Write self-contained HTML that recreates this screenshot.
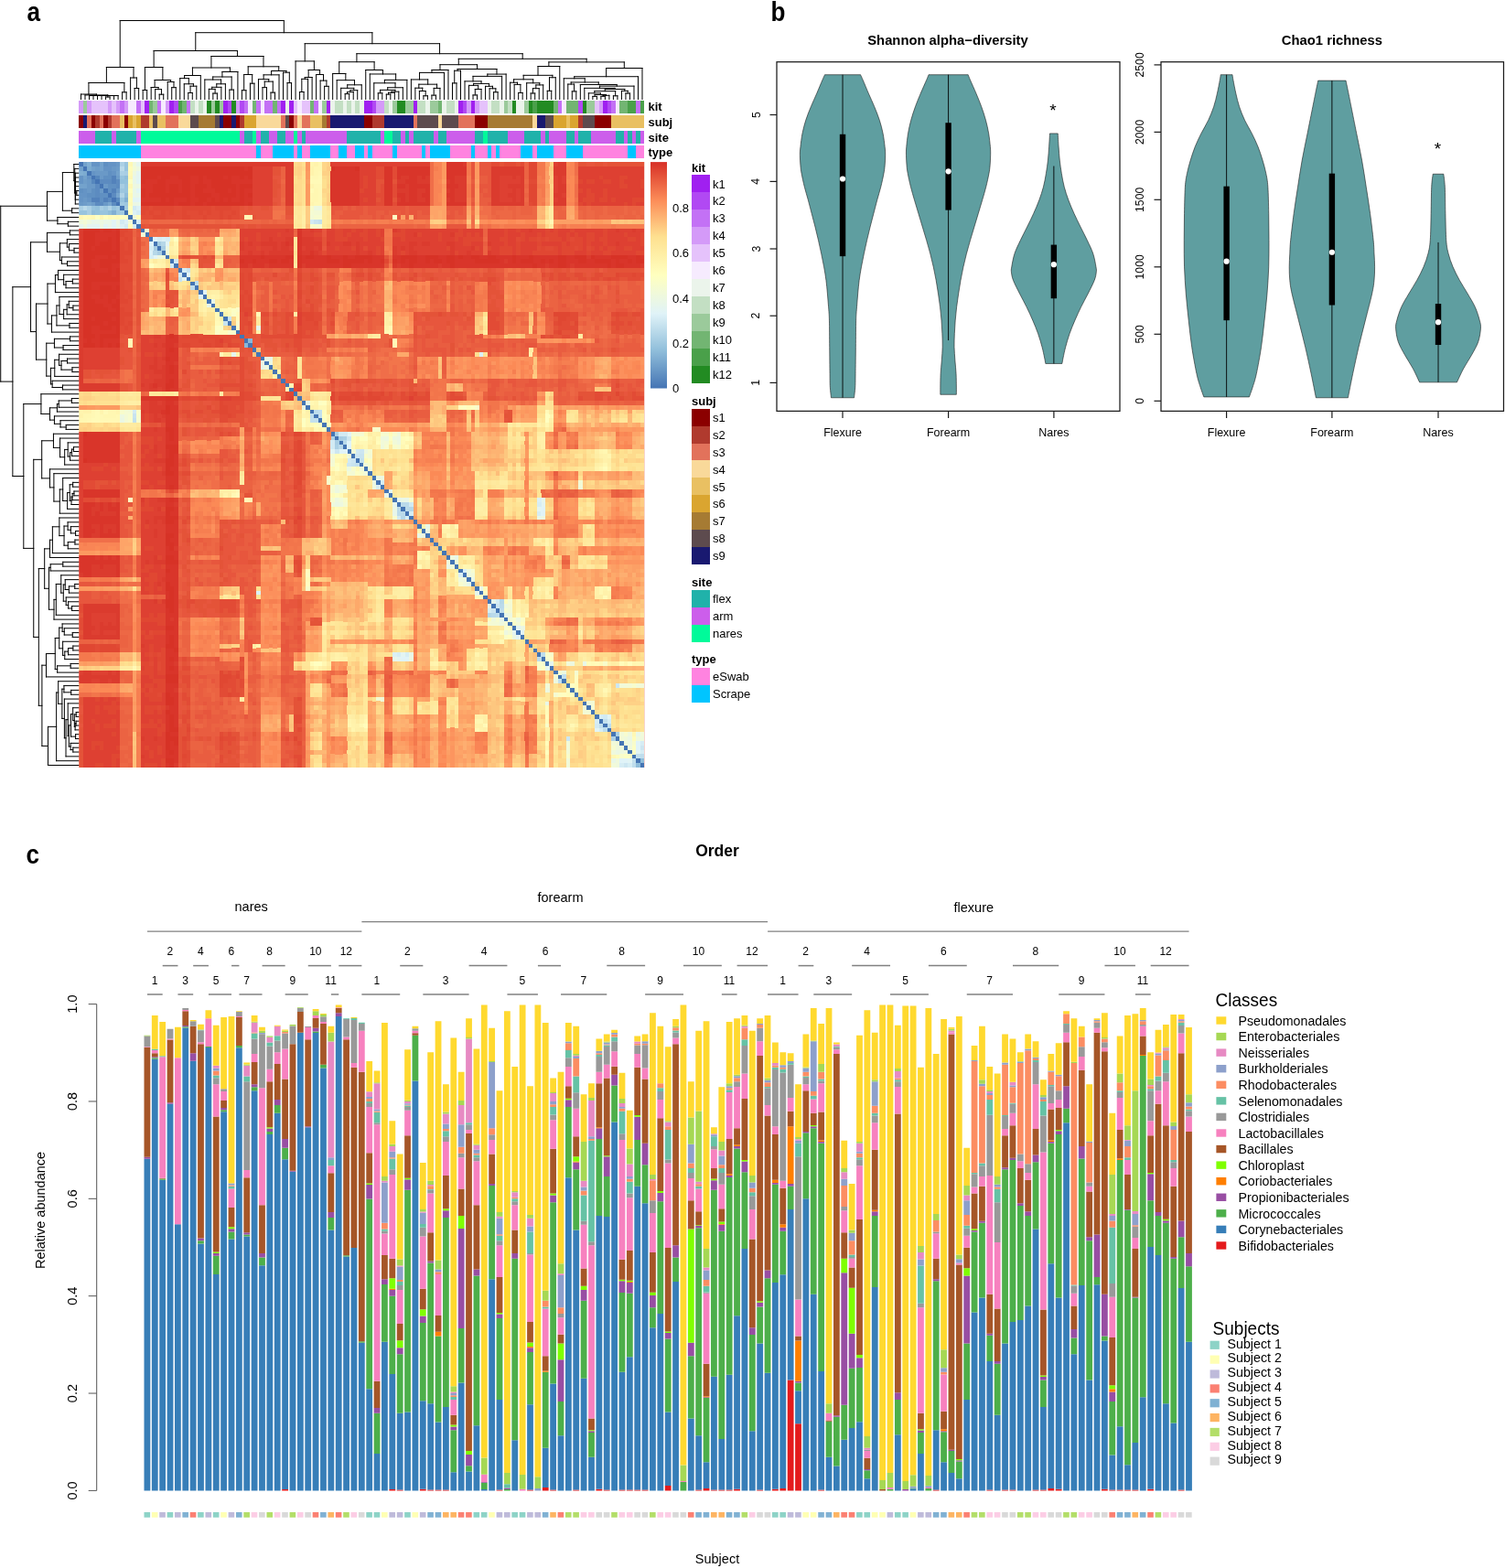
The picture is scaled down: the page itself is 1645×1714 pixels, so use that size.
<!DOCTYPE html>
<html lang="en"><head><meta charset="utf-8"><title>Figure</title>
<style>html,body{margin:0;padding:0;background:#fff}svg{display:block}text{font-family:'Liberation Sans', Arial, Helvetica, sans-serif}</style></head><body>
<svg width="1645" height="1714" viewBox="0 0 1645 1714">
<rect x="0" y="0" width="1645" height="1714" fill="#fff"/>
<text x="0" y="0" font-size="29" font-weight="bold" transform="translate(29.6 23.2) scale(0.9 1)">a</text>
<text x="0" y="0" font-size="29" font-weight="bold" transform="translate(842.6 23.2) scale(0.9 1)">b</text>
<text x="0" y="0" font-size="29" font-weight="bold" transform="translate(28.6 943.6) scale(0.9 1)">c</text>
<path d="M115.56 108.5L115.56 106M120.07 108.5L120.07 106M115.56 106L120.07 106M111.05 108.5L111.05 104.5M117.82 106L117.82 104.5M111.05 104.5L117.82 104.5M106.54 108.5L106.54 104.5M114.43 104.5L114.43 104.5M106.54 104.5L114.43 104.5M102.03 108.5L102.03 104.5M110.49 104.5L110.49 104.5M102.03 104.5L110.49 104.5M106.26 104.5L106.26 104.5M124.58 108.5L124.58 104.5M106.26 104.5L124.58 104.5M97.52 108.5L97.52 104.5M115.42 104.5L115.42 104.5M97.52 104.5L115.42 104.5M106.47 104.5L106.47 104.5M129.09 108.5L129.09 104.5M106.47 104.5L129.09 104.5M93.01 108.5L93.01 103.91M117.78 104.5L117.78 103.91M93.01 103.91L117.78 103.91M88.5 108.5L88.5 103M105.39 103.91L105.39 103M88.5 103L105.39 103M133.61 108.5L133.61 100.8M138.12 108.5L138.12 100.8M133.61 100.8L138.12 100.8M96.94 103L96.94 90.5M135.86 100.8L135.86 90.5M96.94 90.5L135.86 90.5M147.14 108.5L147.14 96.5M151.65 108.5L151.65 96.5M147.14 96.5L151.65 96.5M142.63 108.5L142.63 85M149.39 96.5L149.39 85M142.63 85L149.39 85M116.4 90.5L116.4 73.5M146.01 85L146.01 73.5M116.4 73.5L146.01 73.5M156.16 108.5L156.16 98.5M160.67 108.5L160.67 98.5M156.16 98.5L160.67 98.5M174.2 108.5L174.2 103.2M178.72 108.5L178.72 103.2M174.2 103.2L178.72 103.2M169.69 108.5L169.69 97.65M176.46 103.2L176.46 97.65M169.69 97.65L176.46 97.65M165.18 108.5L165.18 95.5M173.08 97.65L173.08 95.5M165.18 95.5L173.08 95.5M187.74 108.5L187.74 95.67M192.25 108.5L192.25 95.67M187.74 95.67L192.25 95.67M183.23 108.5L183.23 89.5M189.99 95.67L189.99 89.5M183.23 89.5L189.99 89.5M169.13 95.5L169.13 87.5M186.61 89.5L186.61 87.5M169.13 87.5L186.61 87.5M158.42 98.5L158.42 73.5M177.87 87.5L177.87 73.5M158.42 73.5L177.87 73.5M205.78 108.5L205.78 101.46M210.29 108.5L210.29 101.46M205.78 101.46L210.29 101.46M208.04 101.46L208.04 94.18M214.8 108.5L214.8 94.18M208.04 94.18L214.8 94.18M201.27 108.5L201.27 91.77M211.42 94.18L211.42 91.77M201.27 91.77L211.42 91.77M196.76 108.5L196.76 85.64M206.35 91.77L206.35 85.64M196.76 85.64L206.35 85.64M201.55 85.64L201.55 82.5M219.31 108.5L219.31 82.5M201.55 82.5L219.31 82.5M232.85 108.5L232.85 102.05M237.36 108.5L237.36 102.05M232.85 102.05L237.36 102.05M228.34 108.5L228.34 97.39M235.1 102.05L235.1 97.39M228.34 97.39L235.1 97.39M231.72 97.39L231.72 95.31M241.87 108.5L241.87 95.31M231.72 95.31L241.87 95.31M236.79 95.31L236.79 91.77M246.38 108.5L246.38 91.77M236.79 91.77L246.38 91.77M223.83 108.5L223.83 87.05M241.59 91.77L241.59 87.05M223.83 87.05L241.59 87.05M250.89 108.5L250.89 98.11M255.4 108.5L255.4 98.11M250.89 98.11L255.4 98.11M232.71 87.05L232.71 84.02M253.15 98.11L253.15 84.02M232.71 84.02L253.15 84.02M242.93 84.02L242.93 78.5M259.91 108.5L259.91 78.5M242.93 78.5L259.91 78.5M210.43 82.5L210.43 74M251.42 78.5L251.42 74M210.43 74L251.42 74M264.42 108.5L264.42 98.72M268.94 108.5L268.94 98.72M264.42 98.72L268.94 98.72M273.45 108.5L273.45 91.19M277.96 108.5L277.96 91.19M273.45 91.19L277.96 91.19M266.68 98.72L266.68 81.5M275.7 91.19L275.7 81.5M266.68 81.5L275.7 81.5M286.98 108.5L286.98 95.63M291.49 108.5L291.49 95.63M286.98 95.63L291.49 95.63M296 108.5L296 101.15M300.51 108.5L300.51 101.15M296 101.15L300.51 101.15M289.24 95.63L289.24 89.11M298.26 101.15L298.26 89.11M289.24 89.11L298.26 89.11M282.47 108.5L282.47 86.66M293.75 89.11L293.75 86.66M282.47 86.66L293.75 86.66M288.11 86.66L288.11 81.84M305.02 108.5L305.02 81.84M288.11 81.84L305.02 81.84M314.05 108.5L314.05 90.62M318.56 108.5L318.56 90.62M314.05 90.62L318.56 90.62M309.53 108.5L309.53 79.2M316.3 90.62L316.3 79.2M309.53 79.2L316.3 79.2M296.57 81.84L296.57 77.5M312.92 79.2L312.92 77.5M296.57 77.5L312.92 77.5M271.19 81.5L271.19 72.8M304.74 77.5L304.74 72.8M271.19 72.8L304.74 72.8M230.93 74L230.93 61.5M287.97 72.8L287.97 61.5M230.93 61.5L287.97 61.5M168.14 73.5L168.14 55.5M259.45 61.5L259.45 55.5M168.14 55.5L259.45 55.5M327.58 108.5L327.58 100.51M332.09 108.5L332.09 100.51M327.58 100.51L332.09 100.51M329.83 100.51L329.83 86.32M336.6 108.5L336.6 86.32M329.83 86.32L336.6 86.32M333.22 86.32L333.22 84.5M341.11 108.5L341.11 84.5M333.22 84.5L341.11 84.5M354.64 108.5L354.64 94.32M359.16 108.5L359.16 94.32M354.64 94.32L359.16 94.32M350.13 108.5L350.13 88.12M356.9 94.32L356.9 88.12M350.13 88.12L356.9 88.12M345.62 108.5L345.62 81.5M353.52 88.12L353.52 81.5M345.62 81.5L353.52 81.5M337.16 84.5L337.16 76.5M349.57 81.5L349.57 76.5M337.16 76.5L349.57 76.5M323.07 108.5L323.07 66.9M343.37 76.5L343.37 66.9M323.07 66.9L343.37 66.9M377.2 108.5L377.2 102.61M381.71 108.5L381.71 102.61M377.2 102.61L381.71 102.61M379.46 102.61L379.46 100.62M386.22 108.5L386.22 100.62M379.46 100.62L386.22 100.62M382.84 100.62L382.84 98.69M390.73 108.5L390.73 98.69M382.84 98.69L390.73 98.69M372.69 108.5L372.69 96.33M386.79 98.69L386.79 96.33M372.69 96.33L386.79 96.33M379.74 96.33L379.74 92.8M395.24 108.5L395.24 92.8M379.74 92.8L395.24 92.8M368.18 108.5L368.18 87.66M387.49 92.8L387.49 87.66M368.18 87.66L387.49 87.66M363.67 108.5L363.67 80.5M377.83 87.66L377.83 80.5M363.67 80.5L377.83 80.5M413.29 108.5L413.29 101.81M417.8 108.5L417.8 101.81M413.29 101.81L417.8 101.81M422.31 108.5L422.31 103.13M426.82 108.5L426.82 103.13M422.31 103.13L426.82 103.13M424.56 103.13L424.56 101.27M431.33 108.5L431.33 101.27M424.56 101.27L431.33 101.27M427.95 101.27L427.95 100.17M435.84 108.5L435.84 100.17M427.95 100.17L435.84 100.17M415.54 101.81L415.54 98.38M431.9 100.17L431.9 98.38M415.54 98.38L431.9 98.38M423.72 98.38L423.72 95.75M440.35 108.5L440.35 95.75M423.72 95.75L440.35 95.75M408.78 108.5L408.78 90.81M432.04 95.75L432.04 90.81M408.78 90.81L432.04 90.81M420.41 90.81L420.41 87.39M444.86 108.5L444.86 87.39M420.41 87.39L444.86 87.39M404.27 108.5L404.27 80.96M432.64 87.39L432.64 80.96M404.27 80.96L432.64 80.96M399.75 108.5L399.75 76.5M418.45 80.96L418.45 76.5M399.75 76.5L418.45 76.5M370.75 80.5L370.75 67.7M409.1 76.5L409.1 67.7M370.75 67.7L409.1 67.7M462.91 108.5L462.91 104.75M467.42 108.5L467.42 104.75M462.91 104.75L467.42 104.75M458.4 108.5L458.4 99.52M465.16 104.75L465.16 99.52M458.4 99.52L465.16 99.52M453.89 108.5L453.89 96.21M461.78 99.52L461.78 96.21M453.89 96.21L461.78 96.21M471.93 108.5L471.93 104.13M476.44 108.5L476.44 104.13M471.93 104.13L476.44 104.13M474.19 104.13L474.19 96.41M480.95 108.5L480.95 96.41M474.19 96.41L480.95 96.41M457.83 96.21L457.83 92.17M477.57 96.41L477.57 92.17M457.83 92.17L477.57 92.17M449.38 108.5L449.38 86.96M467.7 92.17L467.7 86.96M449.38 86.96L467.7 86.96M458.54 86.96L458.54 79.42M485.46 108.5L485.46 79.42M458.54 79.42L485.46 79.42M472 79.42L472 76.5M489.97 108.5L489.97 76.5M472 76.5L489.97 76.5M494.49 108.5L494.49 90.89M499 108.5L499 90.89M494.49 90.89L499 90.89M496.74 90.89L496.74 77.24M503.51 108.5L503.51 77.24M496.74 77.24L503.51 77.24M517.04 108.5L517.04 103.94M521.55 108.5L521.55 103.94M517.04 103.94L521.55 103.94M519.3 103.94L519.3 97.53M526.06 108.5L526.06 97.53M519.3 97.53L526.06 97.53M512.53 108.5L512.53 93.36M522.68 97.53L522.68 93.36M512.53 93.36L522.68 93.36M539.6 108.5L539.6 100.74M544.11 108.5L544.11 100.74M539.6 100.74L544.11 100.74M535.08 108.5L535.08 96.81M541.85 100.74L541.85 96.81M535.08 96.81L541.85 96.81M530.57 108.5L530.57 94.34M538.47 96.81L538.47 94.34M530.57 94.34L538.47 94.34M517.6 93.36L517.6 91.41M534.52 94.34L534.52 91.41M517.6 91.41L534.52 91.41M508.02 108.5L508.02 88.85M526.06 91.41L526.06 88.85M508.02 88.85L526.06 88.85M517.04 88.85L517.04 83.39M548.62 108.5L548.62 83.39M517.04 83.39L548.62 83.39M532.83 83.39L532.83 81.07M553.13 108.5L553.13 81.07M532.83 81.07L553.13 81.07M500.12 77.24L500.12 75.5M542.98 81.07L542.98 75.5M500.12 75.5L542.98 75.5M480.99 76.5L480.99 70.7M521.55 75.5L521.55 70.7M480.99 70.7L521.55 70.7M566.66 108.5L566.66 101.42M571.17 108.5L571.17 101.42M566.66 101.42L571.17 101.42M562.15 108.5L562.15 92.4M568.92 101.42L568.92 92.4M562.15 92.4L568.92 92.4M557.64 108.5L557.64 90.23M565.53 92.4L565.53 90.23M557.64 90.23L565.53 90.23M580.19 108.5L580.19 101.98M584.71 108.5L584.71 101.98M580.19 101.98L584.71 101.98M582.45 101.98L582.45 96.67M589.22 108.5L589.22 96.67M582.45 96.67L589.22 96.67M585.83 96.67L585.83 92.91M593.73 108.5L593.73 92.91M585.83 92.91L593.73 92.91M575.68 108.5L575.68 90.75M589.78 92.91L589.78 90.75M575.68 90.75L589.78 90.75M561.59 90.23L561.59 86.81M582.73 90.75L582.73 86.81M561.59 86.81L582.73 86.81M598.24 108.5L598.24 99.32M602.75 108.5L602.75 99.32M598.24 99.32L602.75 99.32M600.49 99.32L600.49 84.74M607.26 108.5L607.26 84.74M600.49 84.74L607.26 84.74M572.16 86.81L572.16 82.32M603.88 84.74L603.88 82.32M572.16 82.32L603.88 82.32M588.02 82.32L588.02 72.5M611.77 108.5L611.77 72.5M588.02 72.5L611.77 72.5M625.3 108.5L625.3 99.87M629.82 108.5L629.82 99.87M625.3 99.87L629.82 99.87M620.79 108.5L620.79 92.05M627.56 99.87L627.56 92.05M620.79 92.05L627.56 92.05M647.86 108.5L647.86 105.38M652.37 108.5L652.37 105.38M647.86 105.38L652.37 105.38M656.88 108.5L656.88 105.27M661.39 108.5L661.39 105.27M656.88 105.27L661.39 105.27M659.14 105.27L659.14 104.31M665.9 108.5L665.9 104.31M659.14 104.31L665.9 104.31M650.12 105.38L650.12 103.51M662.52 104.31L662.52 103.51M650.12 103.51L662.52 103.51M643.35 108.5L643.35 101.85M656.32 103.51L656.32 101.85M643.35 101.85L656.32 101.85M670.41 108.5L670.41 104.78M674.93 108.5L674.93 104.78M670.41 104.78L674.93 104.78M649.83 101.85L649.83 99.65M672.67 104.78L672.67 99.65M649.83 99.65L672.67 99.65M683.95 108.5L683.95 101.99M688.46 108.5L688.46 101.99M683.95 101.99L688.46 101.99M679.44 108.5L679.44 99.33M686.2 101.99L686.2 99.33M679.44 99.33L686.2 99.33M661.25 99.65L661.25 97.44M682.82 99.33L682.82 97.44M661.25 97.44L682.82 97.44M638.84 108.5L638.84 96.34M672.04 97.44L672.04 96.34M638.84 96.34L672.04 96.34M655.44 96.34L655.44 94.14M692.97 108.5L692.97 94.14M655.44 94.14L692.97 94.14M634.33 108.5L634.33 92.51M674.2 94.14L674.2 92.51M634.33 92.51L674.2 92.51M624.18 92.05L624.18 89.96M654.26 92.51L654.26 89.96M624.18 89.96L654.26 89.96M616.28 108.5L616.28 85.77M639.22 89.96L639.22 85.77M616.28 85.77L639.22 85.77M627.75 85.77L627.75 83.72M697.48 108.5L697.48 83.72M627.75 83.72L697.48 83.72M662.62 83.72L662.62 74.5M701.99 108.5L701.99 74.5M662.62 74.5L701.99 74.5M599.89 72.5L599.89 67.9M682.3 74.5L682.3 67.9M599.89 67.9L682.3 67.9M501.27 70.7L501.27 64.3M641.1 67.9L641.1 64.3M501.27 64.3L641.1 64.3M389.93 67.7L389.93 58.7M571.18 64.3L571.18 58.7M389.93 58.7L571.18 58.7M333.22 66.9L333.22 47.7M480.56 58.7L480.56 47.7M333.22 47.7L480.56 47.7M213.79 55.5L213.79 35.7M406.89 47.7L406.89 35.7M213.79 35.7L406.89 35.7M131.21 73.5L131.21 22.5M310.34 35.7L310.34 22.5M131.21 22.5L310.34 22.5" stroke="#000" stroke-width="1" fill="none" stroke-linecap="square"/>
<path d="M86.3 208.5L83.81 208.5M86.3 213.33L83.81 213.33M83.81 208.5L83.81 213.33M86.3 203.67L82.32 203.67M83.81 210.92L82.32 210.92M82.32 203.67L82.32 210.92M86.3 198.84L82.32 198.84M82.32 207.29L82.32 207.29M82.32 198.84L82.32 207.29M86.3 194.01L82.32 194.01M82.32 203.07L82.32 203.07M82.32 194.01L82.32 203.07M82.32 198.54L82.32 198.54M86.3 218.16L82.32 218.16M82.32 198.54L82.32 218.16M86.3 189.18L82.32 189.18M82.32 208.35L82.32 208.35M82.32 189.18L82.32 208.35M82.32 198.76L82.32 198.76M86.3 222.99L82.32 222.99M82.32 198.76L82.32 222.99M86.3 184.35L81.74 184.35M82.32 210.88L81.74 210.88M81.74 184.35L81.74 210.88M86.3 179.52L80.83 179.52M81.74 197.61L80.83 197.61M80.83 179.52L80.83 197.61M86.3 227.83L78.64 227.83M86.3 232.66L78.64 232.66M78.64 227.83L78.64 232.66M80.83 188.56L68.39 188.56M78.64 230.24L68.39 230.24M68.39 188.56L68.39 230.24M86.3 242.32L74.36 242.32M86.3 247.15L74.36 247.15M74.36 242.32L74.36 247.15M86.3 237.49L62.92 237.49M74.36 244.73L62.92 244.73M62.92 237.49L62.92 244.73M68.39 209.4L51.47 209.4M62.92 241.11L51.47 241.11M51.47 209.4L51.47 241.11M86.3 251.98L76.35 251.98M86.3 256.81L76.35 256.81M76.35 251.98L76.35 256.81M86.3 271.3L81.02 271.3M86.3 276.14L81.02 276.14M81.02 271.3L81.02 276.14M86.3 266.47L75.5 266.47M81.02 273.72L75.5 273.72M75.5 266.47L75.5 273.72M86.3 261.64L73.36 261.64M75.5 270.1L73.36 270.1M73.36 261.64L73.36 270.1M86.3 285.8L73.53 285.8M86.3 290.63L73.53 290.63M73.53 285.8L73.53 290.63M86.3 280.97L67.39 280.97M73.53 288.21L67.39 288.21M67.39 280.97L67.39 288.21M73.36 265.87L65.41 265.87M67.39 284.59L65.41 284.59M65.41 265.87L65.41 284.59M76.35 254.4L51.47 254.4M65.41 275.23L51.47 275.23M51.47 254.4L51.47 275.23M86.3 305.12L79.3 305.12M86.3 309.95L79.3 309.95M79.3 305.12L79.3 309.95M79.3 307.54L72.05 307.54M86.3 314.78L72.05 314.78M72.05 307.54L72.05 314.78M86.3 300.29L69.65 300.29M72.05 311.16L69.65 311.16M69.65 300.29L69.65 311.16M86.3 295.46L63.56 295.46M69.65 305.73L63.56 305.73M63.56 295.46L63.56 305.73M63.56 300.59L60.43 300.59M86.3 319.61L60.43 319.61M60.43 300.59L60.43 319.61M86.3 334.11L79.89 334.11M86.3 338.94L79.89 338.94M79.89 334.11L79.89 338.94M86.3 329.28L75.25 329.28M79.89 336.52L75.25 336.52M75.25 329.28L75.25 336.52M75.25 332.9L73.17 332.9M86.3 343.77L73.17 343.77M73.17 332.9L73.17 343.77M73.17 338.33L69.65 338.33M86.3 348.6L69.65 348.6M69.65 338.33L69.65 348.6M86.3 324.45L64.96 324.45M69.65 343.47L64.96 343.47M64.96 324.45L64.96 343.47M86.3 353.43L75.96 353.43M86.3 358.26L75.96 358.26M75.96 353.43L75.96 358.26M64.96 333.96L61.94 333.96M75.96 355.85L61.94 355.85M61.94 333.96L61.94 355.85M61.94 344.9L56.45 344.9M86.3 363.09L56.45 363.09M56.45 344.9L56.45 363.09M60.43 310.1L51.97 310.1M56.45 354L51.97 354M51.97 310.1L51.97 354M86.3 367.92L76.57 367.92M86.3 372.76L76.57 372.76M76.57 367.92L76.57 372.76M86.3 377.59L69.07 377.59M86.3 382.42L69.07 382.42M69.07 377.59L69.07 382.42M76.57 370.34L59.44 370.34M69.07 380L59.44 380M59.44 370.34L59.44 380M86.3 392.08L73.49 392.08M86.3 396.91L73.49 396.91M73.49 392.08L73.49 396.91M86.3 401.74L78.98 401.74M86.3 406.57L78.98 406.57M78.98 401.74L78.98 406.57M73.49 394.5L67 394.5M78.98 404.16L67 404.16M67 394.5L67 404.16M86.3 387.25L64.57 387.25M67 399.33L64.57 399.33M64.57 387.25L64.57 399.33M64.57 393.29L59.78 393.29M86.3 411.4L59.78 411.4M59.78 393.29L59.78 411.4M86.3 421.07L68.51 421.07M86.3 425.9L68.51 425.9M68.51 421.07L68.51 425.9M86.3 416.23L57.15 416.23M68.51 423.48L57.15 423.48M57.15 416.23L57.15 423.48M59.78 402.35L55.45 402.35M57.15 419.86L55.45 419.86M55.45 402.35L55.45 419.86M59.44 375.17L50.78 375.17M55.45 411.1L50.78 411.1M50.78 375.17L50.78 411.1M51.97 332.05L39.53 332.05M50.78 393.14L39.53 393.14M39.53 332.05L39.53 393.14M51.47 264.81L33.56 264.81M39.53 362.59L33.56 362.59M33.56 264.81L33.56 362.59M86.3 435.56L78.35 435.56M86.3 440.39L78.35 440.39M78.35 435.56L78.35 440.39M78.35 437.97L64.23 437.97M86.3 445.22L64.23 445.22M64.23 437.97L64.23 445.22M64.23 441.6L62.42 441.6M86.3 450.05L62.42 450.05M62.42 441.6L62.42 450.05M86.3 464.54L72.19 464.54M86.3 469.38L72.19 469.38M72.19 464.54L72.19 469.38M86.3 459.71L66.02 459.71M72.19 466.96L66.02 466.96M66.02 459.71L66.02 466.96M86.3 454.88L59.44 454.88M66.02 463.34L59.44 463.34M59.44 454.88L59.44 463.34M62.42 445.82L54.46 445.82M59.44 459.11L54.46 459.11M54.46 445.82L54.46 459.11M86.3 430.73L44.91 430.73M54.46 452.47L44.91 452.47M44.91 430.73L44.91 452.47M86.3 488.7L80.44 488.7M86.3 493.53L80.44 493.53M80.44 488.7L80.44 493.53M80.44 491.12L78.46 491.12M86.3 498.36L78.46 498.36M78.46 491.12L78.46 498.36M78.46 494.74L76.54 494.74M86.3 503.19L76.54 503.19M76.54 494.74L76.54 503.19M86.3 483.87L74.19 483.87M76.54 498.97L74.19 498.97M74.19 483.87L74.19 498.97M74.19 491.42L70.68 491.42M86.3 508.02L70.68 508.02M70.68 491.42L70.68 508.02M86.3 479.04L65.57 479.04M70.68 499.72L65.57 499.72M65.57 479.04L65.57 499.72M86.3 474.21L58.44 474.21M65.57 489.38L58.44 489.38M58.44 474.21L58.44 489.38M86.3 527.35L79.65 527.35M86.3 532.18L79.65 532.18M79.65 527.35L79.65 532.18M86.3 537.01L80.96 537.01M86.3 541.84L80.96 541.84M80.96 537.01L80.96 541.84M80.96 539.43L79.11 539.43M86.3 546.67L79.11 546.67M79.11 539.43L79.11 546.67M79.11 543.05L78.01 543.05M86.3 551.5L78.01 551.5M78.01 543.05L78.01 551.5M79.65 529.76L76.23 529.76M78.01 547.28L76.23 547.28M76.23 529.76L76.23 547.28M76.23 538.52L73.61 538.52M86.3 556.33L73.61 556.33M73.61 538.52L73.61 556.33M86.3 522.52L68.7 522.52M73.61 547.43L68.7 547.43M68.7 522.52L68.7 547.43M68.7 534.97L65.29 534.97M86.3 561.16L65.29 561.16M65.29 534.97L65.29 561.16M86.3 517.69L58.9 517.69M65.29 548.07L58.9 548.07M58.9 517.69L58.9 548.07M86.3 512.85L54.46 512.85M58.9 532.88L54.46 532.88M54.46 512.85L54.46 532.88M58.44 481.79L45.7 481.79M54.46 522.87L45.7 522.87M45.7 481.79L45.7 522.87M86.3 580.49L82.57 580.49M86.3 585.32L82.57 585.32M82.57 580.49L82.57 585.32M86.3 575.66L77.37 575.66M82.57 582.9L77.37 582.9M77.37 575.66L77.37 582.9M86.3 570.83L74.08 570.83M77.37 579.28L74.08 579.28M74.08 570.83L74.08 579.28M86.3 590.15L81.95 590.15M86.3 594.98L81.95 594.98M81.95 590.15L81.95 594.98M81.95 592.57L74.27 592.57M86.3 599.81L74.27 599.81M74.27 592.57L74.27 599.81M74.08 575.05L70.05 575.05M74.27 596.19L70.05 596.19M70.05 575.05L70.05 596.19M86.3 566L64.87 566M70.05 585.62L64.87 585.62M64.87 566L64.87 585.62M64.87 575.81L57.37 575.81M86.3 604.64L57.37 604.64M57.37 575.81L57.37 604.64M57.37 590.23L54.46 590.23M86.3 609.47L54.46 609.47M54.46 590.23L54.46 609.47M86.3 614.31L68.78 614.31M86.3 619.14L68.78 619.14M68.78 614.31L68.78 619.14M68.78 616.72L55.2 616.72M86.3 623.97L55.2 623.97M55.2 616.72L55.2 623.97M86.3 638.46L81.76 638.46M86.3 643.29L81.76 643.29M81.76 638.46L81.76 643.29M81.76 640.88L75.38 640.88M86.3 648.12L75.38 648.12M75.38 640.88L75.38 648.12M86.3 633.63L71.24 633.63M75.38 644.5L71.24 644.5M71.24 633.63L71.24 644.5M86.3 662.62L78.58 662.62M86.3 667.45L78.58 667.45M78.58 662.62L78.58 667.45M86.3 657.78L74.66 657.78M78.58 665.03L74.66 665.03M74.66 657.78L74.66 665.03M86.3 652.95L72.21 652.95M74.66 661.41L72.21 661.41M72.21 652.95L72.21 661.41M71.24 639.06L69.29 639.06M72.21 657.18L69.29 657.18M69.29 639.06L69.29 657.18M86.3 628.8L66.75 628.8M69.29 648.12L66.75 648.12M66.75 628.8L66.75 648.12M66.75 638.46L61.31 638.46M86.3 672.28L61.31 672.28M61.31 638.46L61.31 672.28M61.31 655.37L59.01 655.37M86.3 677.11L59.01 677.11M59.01 655.37L59.01 677.11M55.2 620.34L53.46 620.34M59.01 666.24L53.46 666.24M53.46 620.34L53.46 666.24M54.46 599.85L48.69 599.85M53.46 643.29L48.69 643.29M48.69 599.85L48.69 643.29M86.3 691.6L79.25 691.6M86.3 696.43L79.25 696.43M79.25 691.6L79.25 696.43M86.3 686.77L70.28 686.77M79.25 694.02L70.28 694.02M70.28 686.77L70.28 694.02M86.3 681.94L68.12 681.94M70.28 690.39L68.12 690.39M68.12 681.94L68.12 690.39M86.3 706.09L79.81 706.09M86.3 710.93L79.81 710.93M79.81 706.09L79.81 710.93M79.81 708.51L74.53 708.51M86.3 715.76L74.53 715.76M74.53 708.51L74.53 715.76M74.53 712.13L70.79 712.13M86.3 720.59L70.79 720.59M70.79 712.13L70.79 720.59M86.3 701.26L68.64 701.26M70.79 716.36L68.64 716.36M68.64 701.26L68.64 716.36M68.12 686.17L64.72 686.17M68.64 708.81L64.72 708.81M64.72 686.17L64.72 708.81M86.3 725.42L77.17 725.42M86.3 730.25L77.17 730.25M77.17 725.42L77.17 730.25M77.17 727.83L62.66 727.83M86.3 735.08L62.66 735.08M62.66 727.83L62.66 735.08M64.72 697.49L60.25 697.49M62.66 731.46L60.25 731.46M60.25 697.49L60.25 731.46M60.25 714.47L50.48 714.47M86.3 739.91L50.48 739.91M50.48 714.47L50.48 739.91M86.3 754.4L77.71 754.4M86.3 759.24L77.71 759.24M77.71 754.4L77.71 759.24M86.3 749.57L69.94 749.57M77.71 756.82L69.94 756.82M69.94 749.57L69.94 756.82M86.3 778.56L83.2 778.56M86.3 783.39L83.2 783.39M83.2 778.56L83.2 783.39M86.3 788.22L83.08 788.22M86.3 793.05L83.08 793.05M83.08 788.22L83.08 793.05M83.08 790.64L82.13 790.64M86.3 797.88L82.13 797.88M82.13 790.64L82.13 797.88M83.2 780.98L81.33 780.98M82.13 794.26L81.33 794.26M81.33 780.98L81.33 794.26M86.3 773.73L79.68 773.73M81.33 787.62L79.68 787.62M79.68 773.73L79.68 787.62M86.3 802.71L82.6 802.71M86.3 807.55L82.6 807.55M82.6 802.71L82.6 807.55M79.68 780.67L77.5 780.67M82.6 805.13L77.5 805.13M77.5 780.67L77.5 805.13M86.3 817.21L79.82 817.21M86.3 822.04L79.82 822.04M79.82 817.21L79.82 822.04M86.3 812.38L77.17 812.38M79.82 819.62L77.17 819.62M77.17 812.38L77.17 819.62M77.5 792.9L75.3 792.9M77.17 816L75.3 816M75.3 792.9L75.3 816M86.3 768.9L74.2 768.9M75.3 804.45L74.2 804.45M74.2 768.9L74.2 804.45M74.2 786.67L72.02 786.67M86.3 826.87L72.02 826.87M72.02 786.67L72.02 826.87M86.3 764.07L70.39 764.07M72.02 806.77L70.39 806.77M70.39 764.07L70.39 806.77M69.94 753.2L67.85 753.2M70.39 785.42L67.85 785.42M67.85 753.2L67.85 785.42M86.3 744.74L63.69 744.74M67.85 769.31L63.69 769.31M63.69 744.74L63.69 769.31M63.69 757.03L61.64 757.03M86.3 831.7L61.64 831.7M61.64 757.03L61.64 831.7M61.64 794.36L52.47 794.36M86.3 836.53L52.47 836.53M52.47 794.36L52.47 836.53M50.48 727.19L45.9 727.19M52.47 815.45L45.9 815.45M45.9 727.19L45.9 815.45M48.69 621.57L42.32 621.57M45.9 771.32L42.32 771.32M42.32 621.57L42.32 771.32M45.7 502.33L36.75 502.33M42.32 696.45L36.75 696.45M36.75 502.33L36.75 696.45M44.91 441.6L25.8 441.6M36.75 599.39L25.8 599.39M25.8 441.6L25.8 599.39M33.56 313.7L13.86 313.7M25.8 520.49L13.86 520.49M13.86 313.7L13.86 520.49M51.47 225.26L0.73 225.26M13.86 417.1L0.73 417.1M0.73 225.26L0.73 417.1" stroke="#000" stroke-width="1" fill="none" stroke-linecap="square"/>
<g shape-rendering="crispEdges">
<rect x="86.24" y="110.1" width="4.56" height="13.9" fill="#d49af8"/>
<rect x="90.75" y="110.1" width="4.56" height="13.9" fill="#9bca9b"/>
<rect x="95.26" y="110.1" width="4.56" height="13.9" fill="#d49af8"/>
<rect x="99.77" y="110.1" width="18.09" height="13.9" fill="#e5c2fb"/>
<rect x="117.82" y="110.1" width="4.56" height="13.9" fill="#d49af8"/>
<rect x="122.33" y="110.1" width="4.56" height="13.9" fill="#e5c2fb"/>
<rect x="126.84" y="110.1" width="4.56" height="13.9" fill="#d49af8"/>
<rect x="131.35" y="110.1" width="4.56" height="13.9" fill="#c371f5"/>
<rect x="135.86" y="110.1" width="4.56" height="13.9" fill="#d49af8"/>
<rect x="140.37" y="110.1" width="9.07" height="13.9" fill="#f6ebfe"/>
<rect x="149.39" y="110.1" width="4.56" height="13.9" fill="#c371f5"/>
<rect x="153.91" y="110.1" width="4.56" height="13.9" fill="#e5c2fb"/>
<rect x="158.42" y="110.1" width="4.56" height="13.9" fill="#a020f0"/>
<rect x="162.93" y="110.1" width="4.56" height="13.9" fill="#72b572"/>
<rect x="167.44" y="110.1" width="4.56" height="13.9" fill="#9bca9b"/>
<rect x="171.95" y="110.1" width="4.56" height="13.9" fill="#c371f5"/>
<rect x="176.46" y="110.1" width="4.56" height="13.9" fill="#f6ebfe"/>
<rect x="180.97" y="110.1" width="4.56" height="13.9" fill="#d49af8"/>
<rect x="185.48" y="110.1" width="4.56" height="13.9" fill="#a020f0"/>
<rect x="189.99" y="110.1" width="4.56" height="13.9" fill="#b149f3"/>
<rect x="194.5" y="110.1" width="4.56" height="13.9" fill="#4aa04a"/>
<rect x="199.01" y="110.1" width="4.56" height="13.9" fill="#72b572"/>
<rect x="203.53" y="110.1" width="4.56" height="13.9" fill="#c371f5"/>
<rect x="208.04" y="110.1" width="4.56" height="13.9" fill="#c3dfc3"/>
<rect x="212.55" y="110.1" width="4.56" height="13.9" fill="#ebf4eb"/>
<rect x="217.06" y="110.1" width="4.56" height="13.9" fill="#c3dfc3"/>
<rect x="221.57" y="110.1" width="4.56" height="13.9" fill="#ebf4eb"/>
<rect x="226.08" y="110.1" width="4.56" height="13.9" fill="#228b22"/>
<rect x="230.59" y="110.1" width="4.56" height="13.9" fill="#9bca9b"/>
<rect x="235.1" y="110.1" width="4.56" height="13.9" fill="#228b22"/>
<rect x="239.61" y="110.1" width="4.56" height="13.9" fill="#9bca9b"/>
<rect x="244.12" y="110.1" width="4.56" height="13.9" fill="#a020f0"/>
<rect x="248.64" y="110.1" width="4.56" height="13.9" fill="#b149f3"/>
<rect x="253.15" y="110.1" width="4.56" height="13.9" fill="#228b22"/>
<rect x="257.66" y="110.1" width="4.56" height="13.9" fill="#d49af8"/>
<rect x="262.17" y="110.1" width="4.56" height="13.9" fill="#b149f3"/>
<rect x="266.68" y="110.1" width="4.56" height="13.9" fill="#c371f5"/>
<rect x="271.19" y="110.1" width="4.56" height="13.9" fill="#f6ebfe"/>
<rect x="275.7" y="110.1" width="4.56" height="13.9" fill="#72b572"/>
<rect x="280.21" y="110.1" width="4.56" height="13.9" fill="#c371f5"/>
<rect x="284.72" y="110.1" width="4.56" height="13.9" fill="#f6ebfe"/>
<rect x="289.24" y="110.1" width="9.07" height="13.9" fill="#c371f5"/>
<rect x="298.26" y="110.1" width="4.56" height="13.9" fill="#72b572"/>
<rect x="302.77" y="110.1" width="4.56" height="13.9" fill="#c371f5"/>
<rect x="307.28" y="110.1" width="4.56" height="13.9" fill="#a020f0"/>
<rect x="311.79" y="110.1" width="4.56" height="13.9" fill="#ebf4eb"/>
<rect x="316.3" y="110.1" width="4.56" height="13.9" fill="#a020f0"/>
<rect x="320.81" y="110.1" width="4.56" height="13.9" fill="#e5c2fb"/>
<rect x="325.32" y="110.1" width="4.56" height="13.9" fill="#f6ebfe"/>
<rect x="329.83" y="110.1" width="9.07" height="13.9" fill="#e5c2fb"/>
<rect x="338.86" y="110.1" width="4.56" height="13.9" fill="#72b572"/>
<rect x="343.37" y="110.1" width="4.56" height="13.9" fill="#c371f5"/>
<rect x="347.88" y="110.1" width="4.56" height="13.9" fill="#f6ebfe"/>
<rect x="352.39" y="110.1" width="4.56" height="13.9" fill="#9bca9b"/>
<rect x="356.9" y="110.1" width="4.56" height="13.9" fill="#a020f0"/>
<rect x="361.41" y="110.1" width="4.56" height="13.9" fill="#ebf4eb"/>
<rect x="365.92" y="110.1" width="9.07" height="13.9" fill="#c3dfc3"/>
<rect x="374.94" y="110.1" width="4.56" height="13.9" fill="#ebf4eb"/>
<rect x="379.46" y="110.1" width="4.56" height="13.9" fill="#c3dfc3"/>
<rect x="383.97" y="110.1" width="4.56" height="13.9" fill="#ebf4eb"/>
<rect x="388.48" y="110.1" width="4.56" height="13.9" fill="#c3dfc3"/>
<rect x="392.99" y="110.1" width="4.56" height="13.9" fill="#ebf4eb"/>
<rect x="397.5" y="110.1" width="9.07" height="13.9" fill="#a020f0"/>
<rect x="406.52" y="110.1" width="4.56" height="13.9" fill="#b149f3"/>
<rect x="411.03" y="110.1" width="9.07" height="13.9" fill="#d49af8"/>
<rect x="420.05" y="110.1" width="4.56" height="13.9" fill="#c3dfc3"/>
<rect x="424.56" y="110.1" width="4.56" height="13.9" fill="#ebf4eb"/>
<rect x="429.08" y="110.1" width="4.56" height="13.9" fill="#9bca9b"/>
<rect x="433.59" y="110.1" width="9.07" height="13.9" fill="#228b22"/>
<rect x="442.61" y="110.1" width="9.07" height="13.9" fill="#9bca9b"/>
<rect x="451.63" y="110.1" width="4.56" height="13.9" fill="#a020f0"/>
<rect x="456.14" y="110.1" width="9.07" height="13.9" fill="#c3dfc3"/>
<rect x="465.16" y="110.1" width="4.56" height="13.9" fill="#ebf4eb"/>
<rect x="469.68" y="110.1" width="9.07" height="13.9" fill="#9bca9b"/>
<rect x="478.7" y="110.1" width="4.56" height="13.9" fill="#72b572"/>
<rect x="483.21" y="110.1" width="4.56" height="13.9" fill="#ebf4eb"/>
<rect x="487.72" y="110.1" width="9.07" height="13.9" fill="#c3dfc3"/>
<rect x="496.74" y="110.1" width="4.56" height="13.9" fill="#ebf4eb"/>
<rect x="501.25" y="110.1" width="4.56" height="13.9" fill="#a020f0"/>
<rect x="505.76" y="110.1" width="4.56" height="13.9" fill="#b149f3"/>
<rect x="510.27" y="110.1" width="4.56" height="13.9" fill="#d49af8"/>
<rect x="514.78" y="110.1" width="4.56" height="13.9" fill="#a020f0"/>
<rect x="519.3" y="110.1" width="4.56" height="13.9" fill="#d49af8"/>
<rect x="523.81" y="110.1" width="9.07" height="13.9" fill="#e5c2fb"/>
<rect x="532.83" y="110.1" width="4.56" height="13.9" fill="#ebf4eb"/>
<rect x="537.34" y="110.1" width="9.07" height="13.9" fill="#c3dfc3"/>
<rect x="546.36" y="110.1" width="4.56" height="13.9" fill="#ebf4eb"/>
<rect x="550.87" y="110.1" width="4.56" height="13.9" fill="#9bca9b"/>
<rect x="555.38" y="110.1" width="4.56" height="13.9" fill="#c3dfc3"/>
<rect x="559.89" y="110.1" width="4.56" height="13.9" fill="#228b22"/>
<rect x="564.41" y="110.1" width="9.07" height="13.9" fill="#ebf4eb"/>
<rect x="573.43" y="110.1" width="4.56" height="13.9" fill="#9bca9b"/>
<rect x="577.94" y="110.1" width="4.56" height="13.9" fill="#228b22"/>
<rect x="582.45" y="110.1" width="4.56" height="13.9" fill="#4aa04a"/>
<rect x="586.96" y="110.1" width="18.09" height="13.9" fill="#228b22"/>
<rect x="605" y="110.1" width="4.56" height="13.9" fill="#72b572"/>
<rect x="609.52" y="110.1" width="4.56" height="13.9" fill="#c371f5"/>
<rect x="614.03" y="110.1" width="4.56" height="13.9" fill="#f6ebfe"/>
<rect x="618.54" y="110.1" width="13.58" height="13.9" fill="#72b572"/>
<rect x="632.07" y="110.1" width="4.56" height="13.9" fill="#b149f3"/>
<rect x="636.58" y="110.1" width="4.56" height="13.9" fill="#228b22"/>
<rect x="641.09" y="110.1" width="9.07" height="13.9" fill="#9bca9b"/>
<rect x="650.12" y="110.1" width="4.56" height="13.9" fill="#e5c2fb"/>
<rect x="654.63" y="110.1" width="4.56" height="13.9" fill="#d49af8"/>
<rect x="659.14" y="110.1" width="4.56" height="13.9" fill="#a020f0"/>
<rect x="663.65" y="110.1" width="4.56" height="13.9" fill="#b149f3"/>
<rect x="668.16" y="110.1" width="4.56" height="13.9" fill="#c371f5"/>
<rect x="672.67" y="110.1" width="4.56" height="13.9" fill="#f6ebfe"/>
<rect x="677.18" y="110.1" width="9.07" height="13.9" fill="#72b572"/>
<rect x="686.2" y="110.1" width="9.07" height="13.9" fill="#4aa04a"/>
<rect x="695.23" y="110.1" width="4.56" height="13.9" fill="#c371f5"/>
<rect x="699.74" y="110.1" width="4.56" height="13.9" fill="#4aa04a"/>
<rect x="86.24" y="126.2" width="4.56" height="13.85" fill="#8b0000"/>
<rect x="90.75" y="126.2" width="4.56" height="13.85" fill="#191970"/>
<rect x="95.26" y="126.2" width="4.56" height="13.85" fill="#e2725b"/>
<rect x="99.77" y="126.2" width="4.56" height="13.85" fill="#8b0000"/>
<rect x="104.28" y="126.2" width="4.56" height="13.85" fill="#b03a2e"/>
<rect x="108.79" y="126.2" width="4.56" height="13.85" fill="#e2725b"/>
<rect x="113.31" y="126.2" width="4.56" height="13.85" fill="#8b0000"/>
<rect x="117.82" y="126.2" width="4.56" height="13.85" fill="#b03a2e"/>
<rect x="122.33" y="126.2" width="9.07" height="13.85" fill="#e2725b"/>
<rect x="131.35" y="126.2" width="4.56" height="13.85" fill="#e9c062"/>
<rect x="135.86" y="126.2" width="4.56" height="13.85" fill="#8b0000"/>
<rect x="140.37" y="126.2" width="4.56" height="13.85" fill="#daa530"/>
<rect x="144.88" y="126.2" width="4.56" height="13.85" fill="#e9c062"/>
<rect x="149.39" y="126.2" width="4.56" height="13.85" fill="#daa530"/>
<rect x="153.91" y="126.2" width="9.07" height="13.85" fill="#b03a2e"/>
<rect x="162.93" y="126.2" width="4.56" height="13.85" fill="#e9c062"/>
<rect x="167.44" y="126.2" width="4.56" height="13.85" fill="#5d4b4e"/>
<rect x="171.95" y="126.2" width="9.07" height="13.85" fill="#e9c062"/>
<rect x="180.97" y="126.2" width="13.58" height="13.85" fill="#e2725b"/>
<rect x="194.5" y="126.2" width="13.58" height="13.85" fill="#f9d99a"/>
<rect x="208.04" y="126.2" width="9.07" height="13.85" fill="#5d4b4e"/>
<rect x="217.06" y="126.2" width="18.09" height="13.85" fill="#a67b33"/>
<rect x="235.1" y="126.2" width="4.56" height="13.85" fill="#5d4b4e"/>
<rect x="239.61" y="126.2" width="4.56" height="13.85" fill="#191970"/>
<rect x="244.12" y="126.2" width="9.07" height="13.85" fill="#8b0000"/>
<rect x="253.15" y="126.2" width="4.56" height="13.85" fill="#191970"/>
<rect x="257.66" y="126.2" width="4.56" height="13.85" fill="#8b0000"/>
<rect x="262.17" y="126.2" width="4.56" height="13.85" fill="#b03a2e"/>
<rect x="266.68" y="126.2" width="13.58" height="13.85" fill="#daa530"/>
<rect x="280.21" y="126.2" width="27.12" height="13.85" fill="#f9d99a"/>
<rect x="307.28" y="126.2" width="4.56" height="13.85" fill="#e2725b"/>
<rect x="311.79" y="126.2" width="4.56" height="13.85" fill="#5d4b4e"/>
<rect x="316.3" y="126.2" width="4.56" height="13.85" fill="#8b0000"/>
<rect x="320.81" y="126.2" width="4.56" height="13.85" fill="#e2725b"/>
<rect x="325.32" y="126.2" width="4.56" height="13.85" fill="#f9d99a"/>
<rect x="329.83" y="126.2" width="9.07" height="13.85" fill="#e2725b"/>
<rect x="338.86" y="126.2" width="13.58" height="13.85" fill="#e9c062"/>
<rect x="352.39" y="126.2" width="4.56" height="13.85" fill="#a67b33"/>
<rect x="356.9" y="126.2" width="4.56" height="13.85" fill="#b03a2e"/>
<rect x="361.41" y="126.2" width="36.14" height="13.85" fill="#191970"/>
<rect x="397.5" y="126.2" width="9.07" height="13.85" fill="#8b0000"/>
<rect x="406.52" y="126.2" width="13.58" height="13.85" fill="#b03a2e"/>
<rect x="420.05" y="126.2" width="31.63" height="13.85" fill="#191970"/>
<rect x="451.63" y="126.2" width="4.56" height="13.85" fill="#e2725b"/>
<rect x="456.14" y="126.2" width="22.61" height="13.85" fill="#5d4b4e"/>
<rect x="478.7" y="126.2" width="4.56" height="13.85" fill="#f9d99a"/>
<rect x="483.21" y="126.2" width="18.09" height="13.85" fill="#5d4b4e"/>
<rect x="501.25" y="126.2" width="18.09" height="13.85" fill="#e2725b"/>
<rect x="519.3" y="126.2" width="13.58" height="13.85" fill="#8b0000"/>
<rect x="532.83" y="126.2" width="49.67" height="13.85" fill="#a67b33"/>
<rect x="582.45" y="126.2" width="4.56" height="13.85" fill="#f9d99a"/>
<rect x="586.96" y="126.2" width="9.07" height="13.85" fill="#191970"/>
<rect x="595.98" y="126.2" width="9.07" height="13.85" fill="#5d4b4e"/>
<rect x="605" y="126.2" width="13.58" height="13.85" fill="#daa530"/>
<rect x="618.54" y="126.2" width="4.56" height="13.85" fill="#e9c062"/>
<rect x="623.05" y="126.2" width="9.07" height="13.85" fill="#daa530"/>
<rect x="632.07" y="126.2" width="4.56" height="13.85" fill="#b03a2e"/>
<rect x="636.58" y="126.2" width="13.58" height="13.85" fill="#5d4b4e"/>
<rect x="650.12" y="126.2" width="18.09" height="13.85" fill="#8b0000"/>
<rect x="668.16" y="126.2" width="36.14" height="13.85" fill="#e9c062"/>
<rect x="86.24" y="143.3" width="18.09" height="13.6" fill="#cc5eeb"/>
<rect x="104.28" y="143.3" width="18.09" height="13.6" fill="#20b2aa"/>
<rect x="122.33" y="143.3" width="4.56" height="13.6" fill="#cc5eeb"/>
<rect x="126.84" y="143.3" width="22.61" height="13.6" fill="#20b2aa"/>
<rect x="149.39" y="143.3" width="4.56" height="13.6" fill="#cc5eeb"/>
<rect x="153.91" y="143.3" width="108.31" height="13.6" fill="#00fa9a"/>
<rect x="262.17" y="143.3" width="4.56" height="13.6" fill="#cc5eeb"/>
<rect x="266.68" y="143.3" width="9.07" height="13.6" fill="#20b2aa"/>
<rect x="275.7" y="143.3" width="4.56" height="13.6" fill="#00fa9a"/>
<rect x="280.21" y="143.3" width="4.56" height="13.6" fill="#cc5eeb"/>
<rect x="284.72" y="143.3" width="9.07" height="13.6" fill="#20b2aa"/>
<rect x="293.75" y="143.3" width="9.07" height="13.6" fill="#cc5eeb"/>
<rect x="302.77" y="143.3" width="9.07" height="13.6" fill="#20b2aa"/>
<rect x="311.79" y="143.3" width="9.07" height="13.6" fill="#cc5eeb"/>
<rect x="320.81" y="143.3" width="4.56" height="13.6" fill="#00fa9a"/>
<rect x="325.32" y="143.3" width="4.56" height="13.6" fill="#cc5eeb"/>
<rect x="329.83" y="143.3" width="4.56" height="13.6" fill="#20b2aa"/>
<rect x="334.35" y="143.3" width="45.16" height="13.6" fill="#cc5eeb"/>
<rect x="379.46" y="143.3" width="36.14" height="13.6" fill="#20b2aa"/>
<rect x="415.54" y="143.3" width="4.56" height="13.6" fill="#cc5eeb"/>
<rect x="420.05" y="143.3" width="9.07" height="13.6" fill="#00fa9a"/>
<rect x="429.08" y="143.3" width="9.07" height="13.6" fill="#20b2aa"/>
<rect x="438.1" y="143.3" width="4.56" height="13.6" fill="#cc5eeb"/>
<rect x="442.61" y="143.3" width="4.56" height="13.6" fill="#20b2aa"/>
<rect x="447.12" y="143.3" width="4.56" height="13.6" fill="#cc5eeb"/>
<rect x="451.63" y="143.3" width="22.61" height="13.6" fill="#20b2aa"/>
<rect x="474.19" y="143.3" width="4.56" height="13.6" fill="#cc5eeb"/>
<rect x="478.7" y="143.3" width="9.07" height="13.6" fill="#20b2aa"/>
<rect x="487.72" y="143.3" width="31.63" height="13.6" fill="#cc5eeb"/>
<rect x="519.3" y="143.3" width="9.07" height="13.6" fill="#20b2aa"/>
<rect x="528.32" y="143.3" width="4.56" height="13.6" fill="#00fa9a"/>
<rect x="532.83" y="143.3" width="22.61" height="13.6" fill="#20b2aa"/>
<rect x="555.38" y="143.3" width="18.09" height="13.6" fill="#cc5eeb"/>
<rect x="573.43" y="143.3" width="18.09" height="13.6" fill="#20b2aa"/>
<rect x="591.47" y="143.3" width="4.56" height="13.6" fill="#cc5eeb"/>
<rect x="595.98" y="143.3" width="4.56" height="13.6" fill="#20b2aa"/>
<rect x="600.49" y="143.3" width="18.09" height="13.6" fill="#cc5eeb"/>
<rect x="618.54" y="143.3" width="9.07" height="13.6" fill="#20b2aa"/>
<rect x="627.56" y="143.3" width="4.56" height="13.6" fill="#cc5eeb"/>
<rect x="632.07" y="143.3" width="13.58" height="13.6" fill="#20b2aa"/>
<rect x="645.6" y="143.3" width="27.12" height="13.6" fill="#cc5eeb"/>
<rect x="672.67" y="143.3" width="9.07" height="13.6" fill="#20b2aa"/>
<rect x="681.69" y="143.3" width="4.56" height="13.6" fill="#cc5eeb"/>
<rect x="686.2" y="143.3" width="4.56" height="13.6" fill="#20b2aa"/>
<rect x="690.71" y="143.3" width="4.56" height="13.6" fill="#cc5eeb"/>
<rect x="695.23" y="143.3" width="4.56" height="13.6" fill="#20b2aa"/>
<rect x="699.74" y="143.3" width="4.56" height="13.6" fill="#cc5eeb"/>
<rect x="86.24" y="159.3" width="67.72" height="13.8" fill="#00c5ff"/>
<rect x="153.91" y="159.3" width="126.36" height="13.8" fill="#ff83e0"/>
<rect x="280.21" y="159.3" width="4.56" height="13.8" fill="#00c5ff"/>
<rect x="284.72" y="159.3" width="13.58" height="13.8" fill="#ff83e0"/>
<rect x="298.26" y="159.3" width="22.61" height="13.8" fill="#00c5ff"/>
<rect x="320.81" y="159.3" width="4.56" height="13.8" fill="#ff83e0"/>
<rect x="325.32" y="159.3" width="4.56" height="13.8" fill="#00c5ff"/>
<rect x="329.83" y="159.3" width="9.07" height="13.8" fill="#ff83e0"/>
<rect x="338.86" y="159.3" width="22.61" height="13.8" fill="#00c5ff"/>
<rect x="361.41" y="159.3" width="9.07" height="13.8" fill="#ff83e0"/>
<rect x="370.43" y="159.3" width="9.07" height="13.8" fill="#00c5ff"/>
<rect x="379.46" y="159.3" width="9.07" height="13.8" fill="#ff83e0"/>
<rect x="388.48" y="159.3" width="9.07" height="13.8" fill="#00c5ff"/>
<rect x="397.5" y="159.3" width="4.56" height="13.8" fill="#ff83e0"/>
<rect x="402.01" y="159.3" width="4.56" height="13.8" fill="#00c5ff"/>
<rect x="406.52" y="159.3" width="22.61" height="13.8" fill="#ff83e0"/>
<rect x="429.08" y="159.3" width="4.56" height="13.8" fill="#00c5ff"/>
<rect x="433.59" y="159.3" width="27.12" height="13.8" fill="#ff83e0"/>
<rect x="460.65" y="159.3" width="4.56" height="13.8" fill="#00c5ff"/>
<rect x="465.16" y="159.3" width="4.56" height="13.8" fill="#ff83e0"/>
<rect x="469.68" y="159.3" width="22.61" height="13.8" fill="#00c5ff"/>
<rect x="492.23" y="159.3" width="22.61" height="13.8" fill="#ff83e0"/>
<rect x="514.78" y="159.3" width="4.56" height="13.8" fill="#00c5ff"/>
<rect x="519.3" y="159.3" width="13.58" height="13.8" fill="#ff83e0"/>
<rect x="532.83" y="159.3" width="4.56" height="13.8" fill="#00c5ff"/>
<rect x="537.34" y="159.3" width="4.56" height="13.8" fill="#ff83e0"/>
<rect x="541.85" y="159.3" width="4.56" height="13.8" fill="#00c5ff"/>
<rect x="546.36" y="159.3" width="22.61" height="13.8" fill="#ff83e0"/>
<rect x="568.92" y="159.3" width="13.58" height="13.8" fill="#00c5ff"/>
<rect x="582.45" y="159.3" width="4.56" height="13.8" fill="#ff83e0"/>
<rect x="586.96" y="159.3" width="18.09" height="13.8" fill="#00c5ff"/>
<rect x="605" y="159.3" width="13.58" height="13.8" fill="#ff83e0"/>
<rect x="618.54" y="159.3" width="18.09" height="13.8" fill="#00c5ff"/>
<rect x="636.58" y="159.3" width="49.67" height="13.8" fill="#ff83e0"/>
<rect x="686.2" y="159.3" width="9.07" height="13.8" fill="#00c5ff"/>
<rect x="695.23" y="159.3" width="9.07" height="13.8" fill="#ff83e0"/>
</g>
<text x="708.5" y="121.45" font-size="13" font-weight="bold">kit</text>
<text x="708.5" y="137.53" font-size="13" font-weight="bold">subj</text>
<text x="708.5" y="154.5" font-size="13" font-weight="bold">site</text>
<text x="708.5" y="170.6" font-size="13" font-weight="bold">type</text>
<defs><filter id="hb" x="-1%" y="-1%" width="102%" height="102%"><feGaussianBlur stdDeviation="0.55"/></filter><clipPath id="hc"><rect x="86.24" y="177.1" width="618.01" height="661.85"/></clipPath></defs>
<g clip-path="url(#hc)"><g filter="url(#hb)">
<rect x="83.24" y="174.1" width="624.01" height="667.85" fill="#e0503a"/>
<g transform="translate(86.24 177.1) scale(4.511 4.831)" shape-rendering="crispEdges" fill="none" stroke-width="1.02">
<path stroke="#4575b4" d="M0 0.5h1.02M1 1.5h1.02M2 2.5h1.02M3 3.5h1.02M4 4.5h1.02M5 5.5h1.02M6 6.5h1.02M7 7.5h1.02M8 8.5h1.02M9 9.5h1.02M10 10.5h1.02M11 11.5h1.02M12 12.5h1.02M13 13.5h1.02M14 14.5h1.02M15 15.5h1.02M16 16.5h1.02M17 17.5h1.02M18 18.5h1.02M19 19.5h1.02M20 20.5h1.02M21 21.5h1.02M22 22.5h1.02M23 23.5h1.02M24 24.5h1.02M25 25.5h1.02M26 26.5h1.02M27 27.5h1.02M28 28.5h1.02M29 29.5h1.02M30 30.5h1.02M31 31.5h1.02M32 32.5h1.02M33 33.5h1.02M34 34.5h1.02M35 35.5h1.02M36 36.5h1.02M37 37.5h1.02M38 38.5h1.02M39 39.5h1.02M40 40.5h1.02M41 41.5h1.02M42 42.5h1.02M43 43.5h1.02M44 44.5h1.02M45 45.5h1.02M46 46.5h1.02M47 47.5h1.02M48 48.5h1.02M49 49.5h1.02M50 50.5h1.02M51 51.5h1.02M52 52.5h1.02M53 53.5h1.02M54 54.5h1.02M55 55.5h1.02M56 56.5h1.02M57 57.5h1.02M58 58.5h1.02M59 59.5h1.02M60 60.5h1.02M61 61.5h1.02M62 62.5h1.02M63 63.5h1.02M64 64.5h1.02M65 65.5h1.02M66 66.5h1.02M67 67.5h1.02M68 68.5h1.02M69 69.5h1.02M70 70.5h1.02M71 71.5h1.02M72 72.5h1.02M73 73.5h1.02M74 74.5h1.02M75 75.5h1.02M76 76.5h1.02M77 77.5h1.02M78 78.5h1.02M79 79.5h1.02M80 80.5h1.02M81 81.5h1.02M82 82.5h1.02M83 83.5h1.02M84 84.5h1.02M85 85.5h1.02M86 86.5h1.02M87 87.5h1.02M88 88.5h1.02M89 89.5h1.02M90 90.5h1.02M91 91.5h1.02M92 92.5h1.02M93 93.5h1.02M94 94.5h1.02M95 95.5h1.02M96 96.5h1.02M97 97.5h1.02M98 98.5h1.02M99 99.5h1.02M100 100.5h1.02M101 101.5h1.02M102 102.5h1.02M103 103.5h1.02M104 104.5h1.02M105 105.5h1.02M106 106.5h1.02M107 107.5h1.02M108 108.5h1.02M109 109.5h1.02M110 110.5h1.02M111 111.5h1.02M112 112.5h1.02M113 113.5h1.02M114 114.5h1.02M115 115.5h1.02M116 116.5h1.02M117 117.5h1.02M118 118.5h1.02M119 119.5h1.02M120 120.5h1.02M121 121.5h1.02M122 122.5h1.02M123 123.5h1.02M124 124.5h1.02M125 125.5h1.02M126 126.5h1.02M127 127.5h1.02M128 128.5h1.02M129 129.5h1.02M130 130.5h1.02M131 131.5h1.02M132 132.5h1.02M133 133.5h1.02M134 134.5h1.02M135 135.5h1.02M136 136.5h1.02"/>
<path stroke="#73a2cc" d="M1 0.5h1.02M5 0.5h1.02M0 1.5h1.02M3 1.5h1.02M5 1.5h1.02M9 2.5h1.02M1 3.5h1.02M0 5.5h2.02M2 9.5h1.02"/>
<path stroke="#81afd3" d="M2 0.5h1.02M0 2.5h1.02M11 8.5h1.02M8 11.5h1.02"/>
<path stroke="#6594c5" d="M3 0.5h2.02M7 0.5h2.02M6 1.5h2.02M3 2.5h1.02M8 2.5h1.02M0 3.5h1.02M2 3.5h1.02M0 4.5h1.02M1 6.5h1.02M0 7.5h2.02M0 8.5h1.02M2 8.5h1.02"/>
<path stroke="#6190c2" d="M6 0.5h1.02M7 2.5h1.02M6 3.5h2.02M7 5.5h2.02M0 6.5h1.02M3 6.5h1.02M7 6.5h1.02M2 7.5h2.02M5 7.5h2.02M5 8.5h1.02"/>
<path stroke="#6a99c7" d="M9 0.5h1.02M8 1.5h1.02M4 2.5h3.02M5 3.5h1.02M2 4.5h1.02M2 5.5h2.02M6 5.5h1.02M2 6.5h1.02M5 6.5h1.02M9 6.5h1.02M1 8.5h1.02M0 9.5h1.02M6 9.5h1.02"/>
<path stroke="#abd0e5" d="M10 0.5h1.02M10 2.5h1.02M0 10.5h1.02M2 10.5h1.02M62 61.5h1.02M61 62.5h1.02M64 62.5h1.02M62 64.5h1.02M130 129.5h1.02M129 130.5h1.02"/>
<path stroke="#98c4de" d="M11 0.5h1.02M11 1.5h1.02M10 3.5h1.02M11 5.5h1.02M11 6.5h1.02M10 8.5h1.02M3 10.5h1.02M8 10.5h1.02M0 11.5h2.02M5 11.5h2.02"/>
<path stroke="#fff8b5" d="M12 0.5h1.02M58 2.5h1.02M12 3.5h1.02M56 3.5h2.02M12 5.5h1.02M57 5.5h2.02M58 6.5h1.02M58 7.5h1.02M58 8.5h1.02M57 9.5h2.02M0 12.5h1.02M3 12.5h1.02M5 12.5h1.02M41 12.5h1.02M114 13.5h1.02M35 33.5h1.02M36 34.5h1.02M33 35.5h1.02M34 36.5h1.02M75 37.5h1.02M74 38.5h1.02M12 41.5h1.02M76 41.5h1.02M51 50.5h1.02M50 51.5h1.02M56 54.5h1.02M58 55.5h2.02M3 56.5h1.02M54 56.5h1.02M3 57.5h1.02M5 57.5h1.02M9 57.5h1.02M60 57.5h1.02M2 58.5h1.02M5 58.5h5.02M55 58.5h1.02M55 59.5h1.02M57 60.5h1.02M79 61.5h1.02M68 63.5h2.02M66 64.5h1.02M64 66.5h1.02M63 68.5h1.02M63 69.5h1.02M38 74.5h1.02M37 75.5h1.02M41 76.5h1.02M61 79.5h1.02M89 82.5h1.02M91 82.5h1.02M82 89.5h1.02M82 91.5h1.02M128 96.5h1.02M108 102.5h1.02M102 108.5h1.02M135 113.5h1.02M13 114.5h1.02M127 119.5h1.02M119 127.5h1.02M96 128.5h1.02M134 129.5h1.02M129 134.5h1.02M113 135.5h1.02"/>
<path stroke="#eff9dc" d="M13 0.5h1.02M0 13.5h1.02M77 61.5h1.02M73 64.5h1.02M64 73.5h1.02M61 77.5h1.02M90 89.5h1.02M89 90.5h1.02M94 92.5h1.02M94 93.5h1.02M92 94.5h2.02M103 100.5h1.02M100 103.5h1.02M133 129.5h1.02M132 130.5h1.02M135 130.5h2.02M132 131.5h1.02M130 132.5h2.02M133 132.5h1.02M129 133.5h1.02M132 133.5h1.02M130 135.5h1.02M130 136.5h1.02"/>
<path stroke="#e6f5ee" d="M14 0.5h1.02M0 14.5h1.02M43 37.5h1.02M37 43.5h1.02M77 76.5h1.02M76 77.5h1.02M114 113.5h1.02M113 114.5h1.02"/>
<path stroke="#db3b2d" d="M15 0.5h37.02M93 0.5h1.02M116 0.5h2.02M50 1.5h2.02M100 1.5h8.02M115 1.5h3.02M50 2.5h2.02M100 2.5h8.02M115 2.5h3.02M50 3.5h2.02M78 3.5h2.02M82 3.5h1.02M84 3.5h1.02M91 3.5h3.02M100 3.5h2.02M105 3.5h1.02M107 3.5h1.02M116 3.5h1.02M50 4.5h2.02M77 4.5h2.02M82 4.5h3.02M89 4.5h1.02M91 4.5h3.02M100 4.5h2.02M107 4.5h1.02M116 4.5h1.02M50 5.5h2.02M79 5.5h1.02M92 5.5h2.02M100 5.5h2.02M104 5.5h4.02M116 5.5h2.02M50 6.5h2.02M77 6.5h3.02M82 6.5h2.02M89 6.5h1.02M91 6.5h3.02M100 6.5h2.02M105 6.5h1.02M107 6.5h1.02M116 6.5h2.02M50 7.5h2.02M79 7.5h1.02M82 7.5h1.02M91 7.5h3.02M100 7.5h2.02M104 7.5h2.02M107 7.5h1.02M115 7.5h2.02M50 8.5h2.02M77 8.5h1.02M79 8.5h1.02M82 8.5h2.02M89 8.5h1.02M91 8.5h3.02M100 8.5h2.02M105 8.5h1.02M107 8.5h1.02M116 8.5h2.02M50 9.5h2.02M100 9.5h8.02M115 9.5h3.02M0 15.5h1.02M50 15.5h1.02M56 15.5h1.02M76 15.5h1.02M109 15.5h1.02M130 15.5h1.02M134 15.5h1.02M0 16.5h1.02M81 16.5h1.02M90 16.5h1.02M0 17.5h1.02M46 17.5h1.02M50 17.5h2.02M54 17.5h3.02M0 18.5h1.02M39 18.5h1.02M41 18.5h1.02M44 18.5h4.02M49 18.5h1.02M51 18.5h1.02M54 18.5h5.02M60 18.5h1.02M64 18.5h2.02M67 18.5h1.02M80 18.5h2.02M83 18.5h2.02M89 18.5h2.02M99 18.5h1.02M130 18.5h1.02M0 19.5h1.02M39 19.5h1.02M47 19.5h1.02M49 19.5h2.02M55 19.5h2.02M58 19.5h1.02M67 19.5h1.02M76 19.5h1.02M78 19.5h1.02M80 19.5h1.02M90 19.5h1.02M95 19.5h1.02M0 20.5h1.02M41 20.5h1.02M44 20.5h1.02M46 20.5h6.02M54 20.5h2.02M57 20.5h1.02M67 20.5h1.02M70 20.5h1.02M76 20.5h1.02M80 20.5h2.02M90 20.5h1.02M94 20.5h1.02M99 20.5h1.02M0 21.5h1.02M123 21.5h1.02M0 22.5h1.02M103 22.5h1.02M0 23.5h1.02M41 23.5h1.02M45 23.5h1.02M54 23.5h1.02M77 23.5h1.02M87 23.5h1.02M113 23.5h1.02M119 23.5h1.02M136 23.5h1.02M0 24.5h1.02M0 25.5h1.02M0 26.5h1.02M0 27.5h1.02M0 28.5h1.02M0 29.5h1.02M0 30.5h1.02M0 31.5h1.02M0 32.5h1.02M0 33.5h1.02M0 34.5h1.02M0 35.5h1.02M0 36.5h1.02M0 37.5h1.02M0 38.5h1.02M0 39.5h1.02M18 39.5h2.02M0 40.5h1.02M0 41.5h1.02M18 41.5h1.02M20 41.5h1.02M23 41.5h1.02M0 42.5h1.02M0 43.5h1.02M0 44.5h1.02M18 44.5h1.02M20 44.5h1.02M0 45.5h1.02M18 45.5h1.02M23 45.5h1.02M0 46.5h1.02M17 46.5h2.02M20 46.5h1.02M0 47.5h1.02M18 47.5h3.02M0 48.5h1.02M20 48.5h1.02M0 49.5h1.02M18 49.5h3.02M0 50.5h10.02M15 50.5h1.02M17 50.5h1.02M19 50.5h2.02M0 51.5h10.02M17 51.5h2.02M20 51.5h1.02M17 54.5h2.02M20 54.5h1.02M23 54.5h1.02M17 55.5h4.02M15 56.5h1.02M17 56.5h3.02M18 57.5h1.02M20 57.5h1.02M18 58.5h2.02M18 60.5h1.02M18 64.5h1.02M18 65.5h1.02M18 67.5h3.02M20 70.5h1.02M15 76.5h1.02M19 76.5h2.02M4 77.5h1.02M6 77.5h1.02M8 77.5h1.02M23 77.5h1.02M3 78.5h2.02M6 78.5h1.02M19 78.5h1.02M3 79.5h1.02M5 79.5h4.02M18 80.5h3.02M16 81.5h1.02M18 81.5h1.02M20 81.5h1.02M3 82.5h2.02M6 82.5h3.02M4 83.5h1.02M6 83.5h1.02M8 83.5h1.02M18 83.5h1.02M3 84.5h2.02M18 84.5h1.02M23 87.5h1.02M4 89.5h1.02M6 89.5h1.02M8 89.5h1.02M18 89.5h1.02M16 90.5h1.02M18 90.5h3.02M3 91.5h2.02M6 91.5h3.02M3 92.5h6.02M0 93.5h1.02M3 93.5h6.02M20 94.5h1.02M19 95.5h1.02M18 99.5h1.02M20 99.5h1.02M1 100.5h9.02M1 101.5h9.02M1 102.5h2.02M9 102.5h1.02M1 103.5h2.02M9 103.5h1.02M22 103.5h1.02M1 104.5h2.02M5 104.5h1.02M7 104.5h1.02M9 104.5h1.02M1 105.5h3.02M5 105.5h5.02M1 106.5h2.02M5 106.5h1.02M9 106.5h1.02M1 107.5h9.02M15 109.5h1.02M23 113.5h1.02M1 115.5h2.02M7 115.5h1.02M9 115.5h1.02M0 116.5h10.02M0 117.5h3.02M5 117.5h2.02M8 117.5h2.02M23 119.5h1.02M21 123.5h1.02M15 130.5h1.02M18 130.5h1.02M15 134.5h1.02M23 136.5h1.02"/>
<path stroke="#fedb8d" d="M52 0.5h1.02M54 1.5h1.02M59 3.5h1.02M53 4.5h1.02M52 5.5h2.02M52 6.5h2.02M53 7.5h1.02M59 7.5h1.02M53 8.5h1.02M52 9.5h1.02M59 9.5h1.02M113 10.5h1.02M113 12.5h1.02M113 14.5h1.02M34 18.5h1.02M33 22.5h2.02M27 23.5h1.02M23 27.5h1.02M31 27.5h1.02M27 31.5h1.02M36 31.5h2.02M22 33.5h1.02M18 34.5h1.02M22 34.5h1.02M31 36.5h1.02M31 37.5h1.02M47 45.5h1.02M45 47.5h1.02M0 52.5h1.02M5 52.5h2.02M9 52.5h1.02M4 53.5h5.02M113 53.5h1.02M1 54.5h1.02M111 56.5h2.02M118 56.5h1.02M134 56.5h1.02M129 57.5h1.02M134 57.5h1.02M130 58.5h1.02M3 59.5h1.02M7 59.5h1.02M9 59.5h1.02M96 59.5h1.02M106 60.5h1.02M105 64.5h1.02M71 65.5h1.02M79 65.5h2.02M113 65.5h1.02M119 65.5h2.02M122 65.5h1.02M129 65.5h1.02M132 65.5h1.02M134 65.5h3.02M71 66.5h1.02M110 66.5h1.02M114 66.5h2.02M130 66.5h1.02M133 66.5h2.02M75 67.5h1.02M112 67.5h1.02M121 67.5h1.02M124 67.5h1.02M129 67.5h1.02M71 68.5h1.02M73 68.5h1.02M80 68.5h1.02M104 68.5h1.02M109 68.5h1.02M115 68.5h1.02M121 68.5h1.02M71 69.5h1.02M114 69.5h1.02M117 69.5h1.02M65 71.5h2.02M68 71.5h2.02M78 71.5h2.02M100 71.5h2.02M79 72.5h1.02M105 72.5h1.02M107 72.5h1.02M109 72.5h1.02M124 72.5h1.02M136 72.5h1.02M68 73.5h1.02M77 73.5h1.02M106 73.5h1.02M67 75.5h1.02M82 76.5h1.02M121 76.5h1.02M73 77.5h1.02M71 78.5h1.02M105 78.5h1.02M107 78.5h1.02M113 78.5h1.02M122 78.5h1.02M65 79.5h1.02M71 79.5h2.02M65 80.5h1.02M68 80.5h1.02M106 80.5h1.02M76 82.5h1.02M122 83.5h2.02M89 85.5h1.02M91 85.5h1.02M121 85.5h1.02M91 86.5h1.02M114 87.5h1.02M85 89.5h1.02M85 91.5h2.02M110 94.5h1.02M112 94.5h1.02M110 95.5h1.02M59 96.5h1.02M71 100.5h1.02M71 101.5h1.02M113 102.5h1.02M119 102.5h1.02M127 102.5h1.02M136 102.5h1.02M108 103.5h2.02M111 103.5h1.02M68 104.5h1.02M64 105.5h1.02M72 105.5h1.02M78 105.5h1.02M109 105.5h1.02M112 105.5h1.02M60 106.5h1.02M73 106.5h1.02M80 106.5h1.02M124 106.5h1.02M72 107.5h1.02M78 107.5h1.02M103 108.5h1.02M68 109.5h1.02M72 109.5h1.02M103 109.5h1.02M105 109.5h1.02M110 109.5h1.02M66 110.5h1.02M94 110.5h2.02M109 110.5h1.02M56 111.5h1.02M103 111.5h1.02M125 111.5h4.02M131 111.5h1.02M56 112.5h1.02M67 112.5h1.02M94 112.5h1.02M105 112.5h1.02M132 112.5h1.02M136 112.5h1.02M10 113.5h1.02M12 113.5h1.02M14 113.5h1.02M53 113.5h1.02M65 113.5h1.02M78 113.5h1.02M102 113.5h1.02M116 113.5h1.02M66 114.5h1.02M69 114.5h1.02M87 114.5h1.02M66 115.5h1.02M68 115.5h1.02M123 115.5h2.02M129 115.5h2.02M113 116.5h1.02M135 116.5h1.02M69 117.5h1.02M126 117.5h1.02M128 117.5h1.02M135 117.5h1.02M56 118.5h1.02M65 119.5h1.02M102 119.5h1.02M129 119.5h1.02M134 119.5h1.02M136 119.5h1.02M65 120.5h1.02M131 120.5h2.02M134 120.5h1.02M136 120.5h1.02M67 121.5h2.02M76 121.5h1.02M85 121.5h1.02M123 121.5h1.02M128 121.5h1.02M65 122.5h1.02M78 122.5h1.02M83 122.5h1.02M126 122.5h1.02M130 122.5h2.02M83 123.5h1.02M115 123.5h1.02M121 123.5h1.02M67 124.5h1.02M72 124.5h1.02M106 124.5h1.02M115 124.5h1.02M134 124.5h2.02M111 125.5h1.02M111 126.5h1.02M117 126.5h1.02M122 126.5h1.02M130 126.5h1.02M102 127.5h1.02M111 127.5h1.02M111 128.5h1.02M117 128.5h1.02M121 128.5h1.02M57 129.5h1.02M65 129.5h1.02M67 129.5h1.02M115 129.5h1.02M119 129.5h1.02M58 130.5h1.02M66 130.5h1.02M115 130.5h1.02M122 130.5h1.02M126 130.5h1.02M111 131.5h1.02M120 131.5h1.02M122 131.5h1.02M65 132.5h1.02M112 132.5h1.02M120 132.5h1.02M66 133.5h1.02M56 134.5h2.02M65 134.5h2.02M119 134.5h2.02M124 134.5h1.02M65 135.5h1.02M116 135.5h2.02M124 135.5h1.02M65 136.5h1.02M72 136.5h1.02M102 136.5h1.02M112 136.5h1.02M119 136.5h2.02"/>
<path stroke="#fed689" d="M53 0.5h1.02M59 0.5h1.02M52 1.5h1.02M59 1.5h1.02M52 2.5h1.02M53 3.5h1.02M60 3.5h1.02M60 4.5h1.02M114 5.5h1.02M59 6.5h2.02M53 9.5h1.02M27 17.5h1.02M27 19.5h1.02M32 24.5h1.02M17 27.5h1.02M19 27.5h1.02M30 27.5h1.02M36 27.5h2.02M30 28.5h1.02M38 28.5h1.02M35 29.5h1.02M27 30.5h2.02M24 32.5h1.02M29 35.5h1.02M37 35.5h1.02M27 36.5h1.02M27 37.5h1.02M35 37.5h1.02M109 37.5h1.02M28 38.5h1.02M109 38.5h1.02M47 44.5h1.02M48 46.5h1.02M44 47.5h1.02M46 48.5h1.02M54 50.5h1.02M54 51.5h1.02M1 52.5h2.02M114 52.5h1.02M0 53.5h1.02M3 53.5h1.02M9 53.5h1.02M50 54.5h2.02M91 55.5h1.02M129 56.5h1.02M131 56.5h1.02M0 59.5h2.02M6 59.5h1.02M3 60.5h2.02M6 60.5h1.02M105 60.5h1.02M109 60.5h1.02M104 65.5h1.02M106 65.5h1.02M110 65.5h1.02M115 65.5h1.02M104 66.5h1.02M117 66.5h1.02M119 66.5h1.02M122 66.5h1.02M71 67.5h1.02M76 67.5h1.02M119 67.5h1.02M130 67.5h1.02M133 67.5h2.02M136 67.5h1.02M75 68.5h1.02M118 68.5h1.02M122 68.5h1.02M130 68.5h1.02M105 69.5h1.02M97 70.5h1.02M100 70.5h1.02M106 70.5h1.02M121 70.5h1.02M67 71.5h1.02M99 71.5h1.02M106 71.5h1.02M112 72.5h1.02M123 72.5h1.02M132 72.5h1.02M78 73.5h2.02M107 73.5h1.02M109 73.5h1.02M112 73.5h1.02M127 73.5h1.02M68 75.5h1.02M67 76.5h1.02M105 76.5h1.02M124 76.5h1.02M113 77.5h1.02M73 78.5h1.02M114 78.5h1.02M73 79.5h1.02M82 79.5h1.02M103 80.5h1.02M124 80.5h1.02M79 82.5h1.02M85 82.5h1.02M123 84.5h1.02M82 85.5h1.02M90 85.5h1.02M94 85.5h1.02M97 85.5h1.02M119 85.5h1.02M88 86.5h2.02M92 86.5h1.02M95 86.5h1.02M97 86.5h1.02M86 88.5h1.02M86 89.5h1.02M96 89.5h1.02M113 89.5h1.02M115 89.5h1.02M85 90.5h1.02M125 90.5h1.02M127 90.5h1.02M55 91.5h1.02M97 91.5h1.02M113 91.5h2.02M86 92.5h1.02M97 92.5h1.02M85 94.5h1.02M86 95.5h1.02M89 96.5h1.02M70 97.5h1.02M85 97.5h2.02M91 97.5h2.02M71 99.5h1.02M70 100.5h1.02M115 100.5h1.02M127 101.5h1.02M111 102.5h1.02M115 102.5h1.02M123 102.5h2.02M128 102.5h1.02M132 102.5h1.02M80 103.5h1.02M112 103.5h1.02M65 104.5h2.02M111 104.5h1.02M60 105.5h1.02M69 105.5h1.02M76 105.5h1.02M108 105.5h1.02M110 105.5h1.02M136 105.5h1.02M65 106.5h1.02M70 106.5h2.02M123 106.5h1.02M136 106.5h1.02M73 107.5h1.02M105 108.5h1.02M37 109.5h2.02M60 109.5h1.02M73 109.5h1.02M65 110.5h1.02M105 110.5h1.02M113 110.5h1.02M102 111.5h1.02M104 111.5h1.02M118 111.5h1.02M120 111.5h1.02M129 111.5h1.02M132 111.5h1.02M134 111.5h2.02M72 112.5h2.02M103 112.5h1.02M119 112.5h2.02M126 112.5h1.02M128 112.5h1.02M135 112.5h1.02M77 113.5h1.02M89 113.5h1.02M91 113.5h1.02M110 113.5h1.02M5 114.5h1.02M52 114.5h1.02M78 114.5h1.02M91 114.5h1.02M119 114.5h2.02M65 115.5h1.02M89 115.5h1.02M100 115.5h1.02M102 115.5h1.02M122 115.5h1.02M121 116.5h1.02M133 116.5h1.02M136 116.5h1.02M66 117.5h1.02M123 117.5h2.02M131 117.5h1.02M136 117.5h1.02M68 118.5h1.02M111 118.5h1.02M121 118.5h2.02M129 118.5h1.02M66 119.5h2.02M85 119.5h1.02M112 119.5h1.02M114 119.5h1.02M111 120.5h2.02M114 120.5h1.02M122 120.5h1.02M135 120.5h1.02M70 121.5h1.02M116 121.5h1.02M118 121.5h1.02M122 121.5h1.02M126 121.5h1.02M132 121.5h1.02M135 121.5h1.02M66 122.5h1.02M68 122.5h1.02M115 122.5h1.02M118 122.5h1.02M120 122.5h2.02M128 122.5h1.02M136 122.5h1.02M72 123.5h1.02M84 123.5h1.02M102 123.5h1.02M106 123.5h1.02M117 123.5h1.02M129 123.5h2.02M76 124.5h1.02M80 124.5h1.02M102 124.5h1.02M117 124.5h1.02M128 124.5h1.02M90 125.5h1.02M132 125.5h1.02M112 126.5h1.02M121 126.5h1.02M73 127.5h1.02M90 127.5h1.02M101 127.5h1.02M102 128.5h1.02M112 128.5h1.02M122 128.5h1.02M124 128.5h1.02M134 128.5h1.02M56 129.5h1.02M111 129.5h1.02M118 129.5h1.02M123 129.5h1.02M67 130.5h2.02M123 130.5h1.02M56 131.5h1.02M117 131.5h1.02M72 132.5h1.02M102 132.5h1.02M111 132.5h1.02M121 132.5h1.02M125 132.5h1.02M67 133.5h1.02M116 133.5h1.02M67 134.5h1.02M111 134.5h1.02M128 134.5h1.02M111 135.5h2.02M120 135.5h2.02M67 136.5h1.02M105 136.5h2.02M116 136.5h2.02M122 136.5h1.02"/>
<path stroke="#fee090" d="M54 0.5h1.02M54 2.5h1.02M52 3.5h1.02M52 4.5h1.02M54 4.5h1.02M59 4.5h1.02M59 5.5h1.02M52 7.5h1.02M52 8.5h1.02M59 8.5h1.02M113 11.5h1.02M34 20.5h1.02M28 25.5h1.02M27 26.5h1.02M26 27.5h1.02M25 28.5h1.02M37 29.5h2.02M36 30.5h1.02M36 32.5h1.02M20 34.5h1.02M98 34.5h1.02M30 36.5h1.02M32 36.5h1.02M29 37.5h1.02M29 38.5h1.02M96 43.5h1.02M48 44.5h1.02M48 45.5h1.02M47 46.5h1.02M46 47.5h1.02M44 48.5h2.02M3 52.5h2.02M7 52.5h2.02M56 53.5h1.02M60 53.5h1.02M0 54.5h1.02M2 54.5h1.02M4 54.5h1.02M111 55.5h2.02M53 56.5h1.02M131 57.5h2.02M4 59.5h2.02M8 59.5h1.02M53 60.5h1.02M107 60.5h1.02M109 62.5h1.02M105 63.5h1.02M107 63.5h1.02M109 63.5h1.02M73 65.5h1.02M75 65.5h1.02M78 65.5h1.02M121 65.5h1.02M131 65.5h1.02M73 66.5h1.02M80 66.5h1.02M106 66.5h1.02M131 66.5h1.02M72 67.5h1.02M78 67.5h1.02M123 67.5h1.02M72 68.5h1.02M76 68.5h1.02M110 68.5h1.02M114 68.5h1.02M74 69.5h1.02M80 69.5h1.02M115 69.5h1.02M130 69.5h1.02M134 69.5h1.02M77 70.5h1.02M79 70.5h1.02M102 70.5h1.02M67 72.5h2.02M76 72.5h1.02M106 72.5h1.02M65 73.5h2.02M69 74.5h1.02M80 74.5h1.02M65 75.5h1.02M68 76.5h1.02M72 76.5h1.02M107 76.5h1.02M110 76.5h1.02M70 77.5h1.02M82 77.5h1.02M105 77.5h1.02M121 77.5h2.02M65 78.5h1.02M67 78.5h1.02M106 78.5h1.02M70 79.5h1.02M110 79.5h1.02M122 79.5h1.02M66 80.5h1.02M69 80.5h1.02M74 80.5h1.02M98 80.5h1.02M77 82.5h1.02M122 82.5h1.02M122 84.5h1.02M124 84.5h1.02M88 87.5h1.02M87 88.5h1.02M126 89.5h1.02M93 90.5h1.02M123 90.5h1.02M125 91.5h1.02M96 92.5h1.02M90 93.5h1.02M97 93.5h1.02M97 94.5h1.02M43 96.5h1.02M92 96.5h1.02M93 97.5h2.02M34 98.5h1.02M80 98.5h1.02M108 99.5h1.02M70 102.5h1.02M63 105.5h1.02M77 105.5h1.02M66 106.5h1.02M72 106.5h1.02M78 106.5h1.02M60 107.5h1.02M63 107.5h1.02M76 107.5h1.02M99 108.5h1.02M62 109.5h2.02M113 109.5h1.02M68 110.5h1.02M76 110.5h1.02M79 110.5h1.02M55 111.5h1.02M136 111.5h1.02M55 112.5h1.02M131 112.5h1.02M11 113.5h1.02M109 113.5h1.02M68 114.5h1.02M69 115.5h1.02M125 115.5h1.02M128 115.5h1.02M131 115.5h1.02M131 116.5h1.02M122 119.5h1.02M131 119.5h3.02M133 120.5h1.02M65 121.5h1.02M77 121.5h1.02M124 121.5h1.02M77 122.5h1.02M79 122.5h1.02M82 122.5h1.02M84 122.5h1.02M119 122.5h1.02M67 123.5h1.02M90 123.5h1.02M128 123.5h1.02M131 123.5h1.02M135 123.5h1.02M84 124.5h1.02M121 124.5h1.02M131 124.5h1.02M133 124.5h1.02M136 124.5h1.02M91 125.5h1.02M115 125.5h1.02M129 125.5h1.02M133 125.5h1.02M136 125.5h1.02M89 126.5h1.02M134 126.5h3.02M130 127.5h1.02M115 128.5h1.02M123 128.5h1.02M131 128.5h2.02M135 128.5h1.02M125 129.5h1.02M69 130.5h1.02M127 130.5h1.02M57 131.5h1.02M65 131.5h2.02M112 131.5h1.02M115 131.5h2.02M119 131.5h1.02M123 131.5h2.02M128 131.5h1.02M57 132.5h1.02M119 132.5h1.02M128 132.5h1.02M119 133.5h2.02M124 133.5h2.02M69 134.5h1.02M126 134.5h1.02M123 135.5h1.02M126 135.5h1.02M128 135.5h1.02M111 136.5h1.02M124 136.5h3.02"/>
<path stroke="#fc955e" d="M55 0.5h1.02M55 1.5h1.02M88 5.5h1.02M29 17.5h4.02M34 24.5h1.02M33 25.5h1.02M34 26.5h1.02M63 27.5h1.02M106 28.5h1.02M17 29.5h1.02M17 30.5h1.02M17 31.5h1.02M17 32.5h1.02M25 33.5h1.02M103 33.5h1.02M106 33.5h1.02M111 33.5h1.02M24 34.5h1.02M26 34.5h1.02M79 34.5h1.02M111 35.5h1.02M80 37.5h1.02M111 37.5h1.02M111 40.5h4.02M116 40.5h1.02M118 40.5h1.02M64 44.5h2.02M91 44.5h1.02M94 44.5h1.02M98 44.5h1.02M102 44.5h1.02M104 44.5h1.02M107 44.5h1.02M113 44.5h1.02M123 44.5h2.02M133 44.5h1.02M135 44.5h2.02M65 45.5h1.02M91 45.5h1.02M93 45.5h1.02M100 45.5h1.02M102 45.5h1.02M121 45.5h1.02M123 45.5h1.02M136 45.5h1.02M89 46.5h1.02M98 46.5h1.02M103 46.5h1.02M123 46.5h1.02M64 47.5h2.02M92 47.5h1.02M106 47.5h1.02M136 47.5h1.02M61 48.5h1.02M89 48.5h1.02M91 48.5h1.02M93 48.5h2.02M98 48.5h1.02M123 48.5h1.02M136 48.5h1.02M59 49.5h1.02M112 52.5h1.02M89 54.5h1.02M0 55.5h2.02M105 55.5h1.02M116 55.5h1.02M133 55.5h1.02M135 55.5h1.02M108 56.5h1.02M115 56.5h1.02M107 57.5h1.02M117 57.5h1.02M98 58.5h1.02M116 58.5h1.02M49 59.5h1.02M61 59.5h1.02M64 59.5h1.02M79 59.5h2.02M79 60.5h1.02M100 60.5h1.02M129 60.5h1.02M134 60.5h1.02M48 61.5h1.02M59 61.5h1.02M113 61.5h1.02M116 61.5h2.02M27 63.5h1.02M108 63.5h1.02M113 63.5h1.02M116 63.5h1.02M131 63.5h1.02M44 64.5h1.02M47 64.5h1.02M59 64.5h1.02M108 64.5h1.02M116 64.5h1.02M44 65.5h2.02M47 65.5h1.02M108 68.5h1.02M83 69.5h1.02M86 69.5h2.02M94 69.5h1.02M81 70.5h1.02M95 70.5h1.02M119 70.5h1.02M130 70.5h1.02M133 70.5h1.02M91 71.5h1.02M94 71.5h1.02M85 72.5h2.02M94 72.5h1.02M88 73.5h1.02M95 73.5h1.02M83 75.5h1.02M89 75.5h1.02M108 75.5h1.02M126 75.5h1.02M128 75.5h1.02M118 76.5h1.02M130 76.5h1.02M133 76.5h1.02M108 77.5h1.02M118 77.5h1.02M120 77.5h1.02M119 78.5h2.02M129 78.5h1.02M34 79.5h1.02M59 79.5h2.02M118 79.5h1.02M120 79.5h1.02M129 79.5h1.02M37 80.5h1.02M59 80.5h1.02M90 80.5h1.02M133 80.5h1.02M70 81.5h1.02M84 81.5h1.02M95 81.5h1.02M127 82.5h1.02M129 82.5h1.02M131 82.5h1.02M134 82.5h1.02M69 83.5h1.02M75 83.5h1.02M92 83.5h1.02M96 83.5h1.02M100 83.5h1.02M127 83.5h1.02M81 84.5h1.02M92 84.5h1.02M95 84.5h1.02M101 84.5h1.02M105 84.5h1.02M72 85.5h1.02M103 85.5h1.02M115 85.5h1.02M69 86.5h1.02M72 86.5h1.02M69 87.5h1.02M92 87.5h1.02M123 87.5h1.02M5 88.5h1.02M73 88.5h1.02M127 88.5h2.02M46 89.5h1.02M48 89.5h1.02M54 89.5h1.02M75 89.5h1.02M80 90.5h1.02M129 90.5h1.02M132 90.5h5.02M44 91.5h2.02M48 91.5h1.02M71 91.5h1.02M47 92.5h1.02M83 92.5h2.02M87 92.5h1.02M103 92.5h1.02M111 92.5h1.02M113 92.5h1.02M45 93.5h1.02M48 93.5h1.02M103 93.5h1.02M108 93.5h3.02M44 94.5h1.02M48 94.5h1.02M69 94.5h1.02M71 94.5h2.02M109 94.5h1.02M130 94.5h1.02M70 95.5h1.02M73 95.5h1.02M81 95.5h1.02M84 95.5h1.02M100 95.5h2.02M105 95.5h1.02M107 95.5h1.02M109 95.5h1.02M135 95.5h1.02M83 96.5h1.02M100 96.5h1.02M99 97.5h1.02M44 98.5h1.02M46 98.5h1.02M48 98.5h1.02M58 98.5h1.02M97 99.5h1.02M45 100.5h1.02M60 100.5h1.02M83 100.5h1.02M95 100.5h2.02M84 101.5h1.02M95 101.5h1.02M44 102.5h2.02M33 103.5h1.02M46 103.5h1.02M85 103.5h1.02M92 103.5h2.02M127 103.5h1.02M135 103.5h1.02M44 104.5h1.02M135 104.5h1.02M55 105.5h1.02M84 105.5h1.02M95 105.5h1.02M120 105.5h1.02M130 105.5h1.02M28 106.5h1.02M33 106.5h1.02M47 106.5h1.02M118 106.5h1.02M44 107.5h1.02M57 107.5h1.02M95 107.5h1.02M120 107.5h1.02M56 108.5h1.02M63 108.5h2.02M68 108.5h1.02M75 108.5h1.02M77 108.5h1.02M93 108.5h1.02M93 109.5h3.02M93 110.5h1.02M33 111.5h1.02M35 111.5h1.02M37 111.5h1.02M40 111.5h1.02M92 111.5h1.02M40 112.5h1.02M52 112.5h1.02M40 113.5h1.02M44 113.5h1.02M61 113.5h1.02M63 113.5h1.02M92 113.5h1.02M40 114.5h1.02M56 115.5h1.02M85 115.5h1.02M40 116.5h1.02M55 116.5h1.02M58 116.5h1.02M61 116.5h1.02M63 116.5h2.02M57 117.5h1.02M61 117.5h1.02M40 118.5h1.02M76 118.5h2.02M79 118.5h1.02M106 118.5h1.02M70 119.5h1.02M78 119.5h1.02M77 120.5h3.02M105 120.5h1.02M107 120.5h1.02M45 121.5h1.02M44 123.5h3.02M48 123.5h1.02M87 123.5h1.02M44 124.5h1.02M75 126.5h1.02M82 127.5h2.02M88 127.5h1.02M103 127.5h1.02M75 128.5h1.02M88 128.5h1.02M60 129.5h1.02M78 129.5h2.02M82 129.5h1.02M90 129.5h1.02M70 130.5h1.02M76 130.5h1.02M94 130.5h1.02M105 130.5h1.02M63 131.5h1.02M82 131.5h1.02M90 132.5h1.02M44 133.5h1.02M55 133.5h1.02M70 133.5h1.02M76 133.5h1.02M80 133.5h1.02M90 133.5h1.02M60 134.5h1.02M82 134.5h1.02M90 134.5h1.02M44 135.5h1.02M55 135.5h1.02M90 135.5h1.02M95 135.5h1.02M103 135.5h2.02M44 136.5h2.02M47 136.5h2.02M90 136.5h1.02"/>
<path stroke="#fff5af" d="M56 0.5h1.02M56 5.5h1.02M56 9.5h1.02M23 19.5h1.02M19 23.5h1.02M32 30.5h1.02M30 32.5h1.02M109 43.5h1.02M48 47.5h1.02M47 48.5h1.02M57 54.5h1.02M0 56.5h1.02M5 56.5h1.02M9 56.5h1.02M54 57.5h1.02M60 58.5h1.02M58 60.5h1.02M70 62.5h1.02M67 63.5h1.02M79 63.5h1.02M126 65.5h1.02M128 66.5h1.02M63 67.5h1.02M62 70.5h1.02M63 79.5h1.02M83 82.5h1.02M82 83.5h1.02M113 86.5h1.02M94 91.5h1.02M91 94.5h1.02M111 96.5h1.02M113 97.5h1.02M43 109.5h1.02M96 111.5h1.02M86 113.5h1.02M97 113.5h1.02M65 126.5h1.02M66 128.5h1.02"/>
<path stroke="#fff3ac" d="M57 0.5h1.02M56 1.5h1.02M56 2.5h1.02M22 17.5h1.02M23 20.5h1.02M17 22.5h1.02M20 23.5h1.02M33 30.5h1.02M30 33.5h1.02M35 34.5h1.02M34 35.5h1.02M75 35.5h1.02M74 37.5h1.02M43 38.5h1.02M38 43.5h1.02M57 55.5h1.02M1 56.5h2.02M0 57.5h1.02M55 57.5h1.02M111 59.5h1.02M71 61.5h1.02M78 61.5h1.02M112 62.5h1.02M80 63.5h1.02M68 64.5h1.02M72 64.5h1.02M127 66.5h1.02M64 68.5h1.02M125 69.5h1.02M128 69.5h1.02M61 71.5h1.02M64 72.5h1.02M37 74.5h1.02M35 75.5h1.02M61 78.5h1.02M63 80.5h1.02M88 83.5h1.02M113 85.5h1.02M83 88.5h1.02M113 96.5h1.02M127 96.5h1.02M128 97.5h1.02M106 99.5h1.02M106 101.5h1.02M99 106.5h1.02M101 106.5h1.02M59 111.5h1.02M62 112.5h1.02M85 113.5h1.02M96 113.5h1.02M127 120.5h1.02M69 125.5h1.02M66 127.5h1.02M96 127.5h1.02M120 127.5h1.02M69 128.5h1.02M97 128.5h1.02"/>
<path stroke="#fff7b2" d="M58 0.5h1.02M57 1.5h2.02M57 2.5h1.02M57 6.5h1.02M56 7.5h2.02M56 8.5h2.02M23 18.5h1.02M18 23.5h1.02M7 56.5h2.02M1 57.5h2.02M6 57.5h3.02M114 57.5h1.02M0 58.5h2.02M113 59.5h1.02M67 62.5h1.02M69 64.5h1.02M78 64.5h1.02M127 65.5h1.02M62 67.5h1.02M127 68.5h1.02M64 69.5h1.02M126 69.5h1.02M64 78.5h1.02M88 82.5h1.02M89 84.5h1.02M82 88.5h1.02M84 89.5h1.02M93 91.5h1.02M91 93.5h1.02M126 96.5h1.02M126 97.5h1.02M59 113.5h1.02M132 113.5h1.02M134 113.5h1.02M136 113.5h1.02M57 114.5h1.02M69 126.5h1.02M96 126.5h2.02M65 127.5h1.02M68 127.5h1.02M113 132.5h1.02M113 134.5h1.02M113 136.5h1.02"/>
<path stroke="#fed186" d="M60 0.5h1.02M114 0.5h1.02M53 1.5h1.02M53 2.5h1.02M59 2.5h2.02M114 3.5h1.02M60 5.5h1.02M114 6.5h1.02M60 7.5h1.02M114 7.5h1.02M60 8.5h1.02M114 8.5h1.02M114 9.5h1.02M86 13.5h2.02M111 13.5h2.02M28 19.5h1.02M28 20.5h1.02M28 23.5h1.02M30 24.5h1.02M35 27.5h1.02M38 27.5h1.02M19 28.5h2.02M23 28.5h1.02M24 30.5h1.02M27 35.5h1.02M27 38.5h1.02M97 38.5h1.02M1 53.5h2.02M89 55.5h2.02M132 56.5h1.02M135 56.5h2.02M87 57.5h1.02M123 57.5h1.02M130 57.5h1.02M85 58.5h1.02M88 58.5h1.02M126 58.5h1.02M2 59.5h1.02M0 60.5h1.02M2 60.5h1.02M5 60.5h1.02M7 60.5h2.02M108 60.5h1.02M105 61.5h1.02M110 61.5h1.02M110 62.5h1.02M127 62.5h1.02M110 63.5h1.02M107 64.5h1.02M105 66.5h1.02M113 66.5h1.02M118 66.5h1.02M110 67.5h1.02M115 67.5h1.02M122 67.5h1.02M135 67.5h1.02M117 68.5h1.02M119 68.5h1.02M97 69.5h1.02M102 69.5h1.02M104 70.5h1.02M107 70.5h1.02M78 72.5h1.02M110 72.5h1.02M126 72.5h2.02M131 72.5h1.02M104 73.5h2.02M110 73.5h1.02M123 73.5h2.02M128 73.5h1.02M97 75.5h1.02M122 76.5h1.02M72 78.5h1.02M82 78.5h1.02M105 79.5h1.02M107 79.5h1.02M104 80.5h1.02M110 80.5h1.02M121 80.5h1.02M78 82.5h1.02M58 85.5h1.02M87 85.5h2.02M96 85.5h1.02M118 85.5h1.02M13 86.5h1.02M93 86.5h1.02M96 86.5h1.02M119 86.5h1.02M13 87.5h1.02M57 87.5h1.02M85 87.5h1.02M58 88.5h1.02M85 88.5h1.02M55 89.5h1.02M125 89.5h1.02M55 90.5h1.02M124 90.5h1.02M126 90.5h1.02M115 91.5h1.02M119 91.5h1.02M86 93.5h1.02M115 94.5h1.02M85 96.5h2.02M38 97.5h1.02M69 97.5h1.02M75 97.5h1.02M119 99.5h1.02M111 100.5h2.02M118 100.5h1.02M133 100.5h1.02M110 101.5h2.02M126 101.5h1.02M69 102.5h1.02M118 102.5h1.02M120 102.5h2.02M126 102.5h1.02M121 103.5h1.02M70 104.5h1.02M73 104.5h1.02M80 104.5h1.02M61 105.5h1.02M66 105.5h1.02M73 105.5h1.02M79 105.5h1.02M134 106.5h1.02M64 107.5h1.02M70 107.5h1.02M79 107.5h1.02M123 107.5h2.02M60 108.5h1.02M61 110.5h3.02M67 110.5h1.02M72 110.5h2.02M80 110.5h1.02M101 110.5h1.02M13 111.5h1.02M100 111.5h2.02M119 111.5h1.02M13 112.5h1.02M100 112.5h1.02M133 112.5h1.02M66 113.5h1.02M0 114.5h1.02M3 114.5h1.02M6 114.5h4.02M118 114.5h1.02M121 114.5h1.02M67 115.5h1.02M91 115.5h1.02M94 115.5h1.02M118 116.5h1.02M124 116.5h3.02M134 116.5h1.02M68 117.5h1.02M122 117.5h1.02M125 117.5h1.02M129 117.5h2.02M132 117.5h1.02M66 118.5h1.02M85 118.5h1.02M100 118.5h1.02M102 118.5h1.02M114 118.5h1.02M116 118.5h1.02M68 119.5h1.02M86 119.5h1.02M91 119.5h1.02M99 119.5h1.02M111 119.5h1.02M135 119.5h1.02M102 120.5h1.02M129 120.5h1.02M80 121.5h1.02M102 121.5h2.02M114 121.5h1.02M129 121.5h1.02M131 121.5h1.02M67 122.5h1.02M76 122.5h1.02M117 122.5h1.02M132 122.5h4.02M57 123.5h1.02M73 123.5h1.02M107 123.5h1.02M125 123.5h1.02M73 124.5h1.02M90 124.5h1.02M107 124.5h1.02M116 124.5h1.02M130 124.5h1.02M89 125.5h1.02M116 125.5h2.02M123 125.5h1.02M58 126.5h1.02M72 126.5h1.02M90 126.5h1.02M101 126.5h2.02M116 126.5h1.02M62 127.5h1.02M72 127.5h1.02M73 128.5h1.02M129 128.5h2.02M117 129.5h1.02M120 129.5h2.02M128 129.5h1.02M57 130.5h1.02M117 130.5h1.02M124 130.5h1.02M128 130.5h1.02M72 131.5h1.02M121 131.5h1.02M56 132.5h1.02M117 132.5h1.02M122 132.5h1.02M100 133.5h1.02M112 133.5h1.02M122 133.5h1.02M106 134.5h1.02M116 134.5h1.02M122 134.5h1.02M56 135.5h1.02M67 135.5h1.02M119 135.5h1.02M122 135.5h1.02M56 136.5h1.02"/>
<path stroke="#de4130" d="M61 0.5h24.02M115 0.5h1.02M42 1.5h5.02M68 1.5h4.02M121 1.5h16.02M42 2.5h5.02M68 2.5h4.02M121 2.5h16.02M42 3.5h5.02M68 3.5h1.02M70 3.5h2.02M102 3.5h3.02M106 3.5h1.02M115 3.5h1.02M117 3.5h1.02M121 3.5h5.02M127 3.5h4.02M133 3.5h4.02M42 4.5h5.02M68 4.5h1.02M70 4.5h2.02M102 4.5h5.02M115 4.5h1.02M117 4.5h1.02M122 4.5h1.02M125 4.5h2.02M129 4.5h2.02M132 4.5h4.02M42 5.5h5.02M68 5.5h1.02M70 5.5h2.02M102 5.5h2.02M115 5.5h1.02M121 5.5h10.02M133 5.5h3.02M42 6.5h5.02M69 6.5h3.02M102 6.5h3.02M106 6.5h1.02M115 6.5h1.02M122 6.5h1.02M124 6.5h3.02M128 6.5h9.02M42 7.5h5.02M68 7.5h4.02M102 7.5h2.02M106 7.5h1.02M117 7.5h1.02M121 7.5h2.02M125 7.5h2.02M128 7.5h9.02M42 8.5h5.02M68 8.5h1.02M70 8.5h2.02M102 8.5h3.02M106 8.5h1.02M115 8.5h1.02M121 8.5h1.02M125 8.5h1.02M128 8.5h1.02M130 8.5h4.02M42 9.5h5.02M68 9.5h4.02M122 9.5h1.02M124 9.5h8.02M133 9.5h1.02M135 9.5h2.02M39 15.5h11.02M51 15.5h1.02M54 15.5h2.02M57 15.5h2.02M60 15.5h2.02M64 15.5h2.02M67 15.5h2.02M70 15.5h2.02M73 15.5h1.02M77 15.5h1.02M79 15.5h13.02M93 15.5h5.02M99 15.5h4.02M104 15.5h2.02M107 15.5h2.02M110 15.5h3.02M114 15.5h1.02M116 15.5h3.02M120 15.5h7.02M128 15.5h2.02M131 15.5h3.02M135 15.5h2.02M39 16.5h4.02M44 16.5h4.02M49 16.5h3.02M54 16.5h3.02M60 16.5h2.02M64 16.5h1.02M66 16.5h2.02M70 16.5h2.02M73 16.5h1.02M79 16.5h2.02M83 16.5h4.02M88 16.5h2.02M93 16.5h1.02M95 16.5h1.02M97 16.5h1.02M99 16.5h4.02M104 16.5h3.02M108 16.5h3.02M112 16.5h1.02M116 16.5h2.02M119 16.5h1.02M121 16.5h2.02M125 16.5h2.02M128 16.5h4.02M133 16.5h3.02M39 17.5h1.02M41 17.5h2.02M44 17.5h2.02M47 17.5h3.02M57 17.5h2.02M60 17.5h2.02M65 17.5h4.02M70 17.5h3.02M76 17.5h2.02M79 17.5h8.02M88 17.5h3.02M92 17.5h1.02M99 17.5h3.02M104 17.5h2.02M108 17.5h1.02M117 17.5h1.02M122 17.5h1.02M125 17.5h1.02M128 17.5h5.02M135 17.5h1.02M40 18.5h1.02M42 18.5h2.02M48 18.5h1.02M61 18.5h3.02M66 18.5h1.02M68 18.5h6.02M76 18.5h4.02M82 18.5h1.02M85 18.5h4.02M91 18.5h2.02M95 18.5h3.02M100 18.5h3.02M104 18.5h2.02M107 18.5h4.02M112 18.5h5.02M118 18.5h1.02M122 18.5h1.02M124 18.5h3.02M128 18.5h2.02M131 18.5h5.02M40 19.5h3.02M44 19.5h3.02M48 19.5h1.02M51 19.5h1.02M54 19.5h1.02M57 19.5h1.02M60 19.5h2.02M63 19.5h3.02M68 19.5h1.02M70 19.5h2.02M73 19.5h1.02M77 19.5h1.02M79 19.5h1.02M81 19.5h8.02M91 19.5h4.02M97 19.5h1.02M100 19.5h2.02M105 19.5h1.02M107 19.5h4.02M116 19.5h1.02M122 19.5h1.02M125 19.5h1.02M127 19.5h1.02M130 19.5h2.02M134 19.5h3.02M39 20.5h2.02M42 20.5h2.02M45 20.5h1.02M58 20.5h1.02M60 20.5h7.02M68 20.5h2.02M71 20.5h1.02M73 20.5h1.02M77 20.5h1.02M79 20.5h1.02M82 20.5h8.02M92 20.5h2.02M95 20.5h3.02M100 20.5h2.02M105 20.5h1.02M107 20.5h3.02M116 20.5h1.02M120 20.5h3.02M124 20.5h3.02M129 20.5h6.02M40 34.5h1.02M53 34.5h1.02M53 35.5h1.02M53 36.5h1.02M15 39.5h3.02M20 39.5h1.02M15 40.5h2.02M18 40.5h3.02M34 40.5h1.02M15 41.5h3.02M19 41.5h1.02M1 42.5h9.02M15 42.5h6.02M1 43.5h9.02M15 43.5h1.02M18 43.5h1.02M20 43.5h1.02M1 44.5h9.02M15 44.5h3.02M19 44.5h1.02M1 45.5h9.02M15 45.5h3.02M19 45.5h2.02M1 46.5h9.02M15 46.5h2.02M19 46.5h1.02M15 47.5h3.02M15 48.5h1.02M17 48.5h3.02M15 49.5h3.02M16 50.5h1.02M15 51.5h2.02M19 51.5h1.02M53 51.5h1.02M34 53.5h3.02M51 53.5h1.02M80 53.5h1.02M15 54.5h2.02M19 54.5h1.02M15 55.5h2.02M16 56.5h1.02M15 57.5h1.02M17 57.5h1.02M19 57.5h1.02M15 58.5h1.02M17 58.5h1.02M20 58.5h1.02M15 60.5h3.02M19 60.5h2.02M0 61.5h1.02M15 61.5h6.02M0 62.5h1.02M18 62.5h1.02M20 62.5h1.02M0 63.5h1.02M18 63.5h3.02M0 64.5h1.02M15 64.5h2.02M19 64.5h2.02M0 65.5h1.02M15 65.5h1.02M17 65.5h1.02M19 65.5h2.02M0 66.5h1.02M16 66.5h3.02M20 66.5h1.02M0 67.5h1.02M15 67.5h3.02M0 68.5h6.02M7 68.5h3.02M15 68.5h1.02M17 68.5h4.02M0 69.5h3.02M6 69.5h2.02M9 69.5h1.02M18 69.5h1.02M20 69.5h1.02M0 70.5h10.02M15 70.5h5.02M0 71.5h10.02M15 71.5h6.02M0 72.5h1.02M17 72.5h2.02M0 73.5h1.02M15 73.5h2.02M18 73.5h3.02M0 74.5h1.02M0 75.5h1.02M0 76.5h1.02M17 76.5h2.02M0 77.5h1.02M15 77.5h1.02M17 77.5h4.02M0 78.5h1.02M18 78.5h1.02M0 79.5h1.02M15 79.5h6.02M0 80.5h1.02M15 80.5h3.02M53 80.5h1.02M0 81.5h1.02M15 81.5h1.02M17 81.5h1.02M19 81.5h1.02M0 82.5h1.02M15 82.5h1.02M17 82.5h4.02M0 83.5h1.02M15 83.5h3.02M19 83.5h2.02M0 84.5h1.02M15 84.5h3.02M19 84.5h2.02M15 85.5h6.02M15 86.5h6.02M15 87.5h1.02M18 87.5h3.02M15 88.5h6.02M15 89.5h3.02M20 89.5h1.02M15 90.5h1.02M17 90.5h1.02M15 91.5h1.02M18 91.5h2.02M17 92.5h4.02M15 93.5h2.02M19 93.5h2.02M15 94.5h1.02M19 94.5h1.02M15 95.5h2.02M18 95.5h1.02M20 95.5h1.02M15 96.5h1.02M18 96.5h1.02M20 96.5h1.02M15 97.5h2.02M18 97.5h3.02M15 99.5h3.02M15 100.5h6.02M15 101.5h6.02M3 102.5h6.02M15 102.5h2.02M18 102.5h1.02M3 103.5h6.02M3 104.5h2.02M6 104.5h1.02M8 104.5h1.02M15 104.5h4.02M4 105.5h1.02M15 105.5h6.02M3 106.5h2.02M6 106.5h3.02M16 106.5h1.02M15 107.5h1.02M18 107.5h3.02M15 108.5h6.02M16 109.5h1.02M18 109.5h3.02M15 110.5h2.02M18 110.5h2.02M15 111.5h1.02M15 112.5h2.02M18 112.5h1.02M18 113.5h1.02M15 114.5h1.02M18 114.5h1.02M0 115.5h1.02M3 115.5h4.02M8 115.5h1.02M18 115.5h1.02M15 116.5h2.02M18 116.5h3.02M3 117.5h2.02M7 117.5h1.02M15 117.5h3.02M15 118.5h1.02M18 118.5h1.02M16 119.5h1.02M15 120.5h1.02M20 120.5h1.02M1 121.5h3.02M5 121.5h1.02M7 121.5h2.02M15 121.5h2.02M20 121.5h1.02M1 122.5h7.02M9 122.5h1.02M15 122.5h6.02M1 123.5h3.02M5 123.5h1.02M15 123.5h1.02M1 124.5h3.02M5 124.5h2.02M9 124.5h1.02M15 124.5h1.02M18 124.5h1.02M20 124.5h1.02M1 125.5h9.02M15 125.5h6.02M1 126.5h2.02M4 126.5h4.02M9 126.5h1.02M15 126.5h2.02M18 126.5h1.02M20 126.5h1.02M1 127.5h3.02M5 127.5h1.02M9 127.5h1.02M19 127.5h1.02M1 128.5h3.02M5 128.5h5.02M15 128.5h4.02M1 129.5h7.02M9 129.5h1.02M15 129.5h4.02M20 129.5h1.02M1 130.5h9.02M16 130.5h2.02M19 130.5h2.02M1 131.5h2.02M6 131.5h4.02M15 131.5h6.02M1 132.5h2.02M4 132.5h1.02M6 132.5h3.02M15 132.5h1.02M17 132.5h2.02M20 132.5h1.02M1 133.5h9.02M15 133.5h2.02M18 133.5h1.02M20 133.5h1.02M1 134.5h7.02M16 134.5h1.02M18 134.5h3.02M1 135.5h7.02M9 135.5h1.02M15 135.5h5.02M1 136.5h3.02M6 136.5h2.02M9 136.5h1.02M15 136.5h1.02M19 136.5h1.02"/>
<path stroke="#f06e48" d="M85 0.5h1.02M120 0.5h1.02M85 1.5h1.02M120 1.5h1.02M85 2.5h1.02M120 2.5h1.02M85 3.5h1.02M85 4.5h1.02M85 5.5h1.02M120 5.5h1.02M85 6.5h1.02M120 6.5h1.02M85 7.5h1.02M120 7.5h1.02M85 8.5h1.02M85 9.5h1.02M120 9.5h1.02M47 10.5h3.02M95 10.5h1.02M98 10.5h2.02M97 11.5h3.02M49 12.5h1.02M95 12.5h1.02M99 12.5h1.02M95 13.5h1.02M95 14.5h1.02M97 14.5h1.02M99 14.5h1.02M17 15.5h1.02M19 15.5h1.02M21 15.5h1.02M17 16.5h5.02M24 16.5h1.02M27 16.5h1.02M15 17.5h2.02M16 18.5h1.02M15 19.5h2.02M16 20.5h1.02M15 21.5h2.02M16 24.5h1.02M59 24.5h1.02M103 24.5h1.02M105 24.5h1.02M108 24.5h2.02M111 24.5h1.02M64 25.5h1.02M103 25.5h1.02M52 26.5h1.02M64 26.5h2.02M16 27.5h1.02M59 27.5h1.02M66 27.5h1.02M71 27.5h1.02M113 27.5h1.02M66 28.5h1.02M68 28.5h1.02M71 28.5h1.02M73 28.5h1.02M113 28.5h1.02M43 29.5h1.02M59 29.5h1.02M68 29.5h1.02M68 30.5h1.02M71 30.5h2.02M113 30.5h1.02M68 31.5h1.02M71 31.5h1.02M59 32.5h1.02M70 32.5h4.02M113 32.5h1.02M59 33.5h1.02M68 33.5h1.02M72 33.5h2.02M80 33.5h1.02M103 34.5h1.02M105 34.5h1.02M108 34.5h1.02M59 35.5h1.02M69 35.5h1.02M104 35.5h1.02M107 35.5h1.02M104 36.5h2.02M110 37.5h1.02M121 37.5h1.02M124 37.5h1.02M127 37.5h1.02M69 38.5h1.02M72 38.5h1.02M107 38.5h1.02M123 38.5h2.02M127 38.5h2.02M75 39.5h1.02M77 39.5h1.02M123 39.5h1.02M126 39.5h2.02M131 39.5h1.02M133 39.5h1.02M136 39.5h1.02M80 41.5h1.02M113 41.5h1.02M119 41.5h1.02M73 42.5h3.02M78 42.5h1.02M29 43.5h1.02M64 43.5h1.02M66 43.5h3.02M72 43.5h2.02M80 43.5h1.02M102 43.5h2.02M112 43.5h1.02M115 43.5h1.02M119 43.5h1.02M49 44.5h1.02M70 44.5h1.02M75 44.5h1.02M116 44.5h1.02M60 45.5h1.02M74 45.5h1.02M78 45.5h1.02M60 46.5h1.02M73 46.5h2.02M76 46.5h1.02M79 46.5h1.02M117 46.5h1.02M10 47.5h1.02M60 47.5h1.02M73 47.5h2.02M76 47.5h1.02M78 47.5h1.02M116 47.5h1.02M10 48.5h1.02M49 48.5h1.02M60 48.5h1.02M71 48.5h1.02M73 48.5h4.02M79 48.5h2.02M116 48.5h1.02M10 49.5h1.02M12 49.5h1.02M44 49.5h1.02M48 49.5h1.02M86 49.5h1.02M89 49.5h1.02M93 49.5h2.02M96 49.5h1.02M122 49.5h2.02M127 49.5h1.02M85 50.5h1.02M128 50.5h1.02M59 51.5h1.02M96 51.5h1.02M123 51.5h1.02M26 52.5h1.02M106 54.5h1.02M108 54.5h1.02M110 54.5h1.02M61 55.5h1.02M64 55.5h2.02M67 55.5h1.02M71 55.5h2.02M74 55.5h1.02M81 55.5h1.02M83 55.5h1.02M99 55.5h1.02M93 56.5h1.02M95 56.5h1.02M99 56.5h1.02M89 57.5h1.02M91 57.5h2.02M90 58.5h1.02M24 59.5h1.02M27 59.5h1.02M29 59.5h1.02M32 59.5h2.02M35 59.5h1.02M51 59.5h1.02M45 60.5h4.02M67 60.5h1.02M116 60.5h1.02M55 61.5h1.02M115 63.5h1.02M25 64.5h2.02M43 64.5h1.02M55 64.5h1.02M118 64.5h1.02M26 65.5h1.02M55 65.5h1.02M27 66.5h2.02M43 66.5h1.02M43 67.5h1.02M55 67.5h1.02M60 67.5h1.02M28 68.5h4.02M33 68.5h1.02M43 68.5h1.02M35 69.5h1.02M38 69.5h1.02M32 70.5h1.02M44 70.5h1.02M27 71.5h2.02M30 71.5h3.02M48 71.5h1.02M55 71.5h1.02M30 72.5h1.02M32 72.5h2.02M38 72.5h1.02M43 72.5h1.02M55 72.5h1.02M28 73.5h1.02M32 73.5h2.02M42 73.5h2.02M46 73.5h3.02M42 74.5h1.02M45 74.5h4.02M55 74.5h1.02M95 74.5h1.02M114 74.5h1.02M122 74.5h1.02M39 75.5h1.02M42 75.5h1.02M44 75.5h1.02M48 75.5h1.02M114 75.5h1.02M46 76.5h3.02M115 76.5h1.02M39 77.5h1.02M42 78.5h1.02M45 78.5h1.02M47 78.5h1.02M46 79.5h1.02M48 79.5h1.02M115 79.5h1.02M33 80.5h1.02M41 80.5h1.02M43 80.5h1.02M48 80.5h1.02M92 80.5h1.02M94 80.5h1.02M55 81.5h1.02M88 81.5h1.02M55 83.5h1.02M0 85.5h10.02M50 85.5h1.02M49 86.5h1.02M105 87.5h1.02M81 88.5h1.02M105 88.5h1.02M49 89.5h1.02M57 89.5h1.02M117 89.5h1.02M58 90.5h1.02M57 91.5h1.02M57 92.5h1.02M80 92.5h1.02M49 93.5h1.02M56 93.5h1.02M49 94.5h1.02M80 94.5h1.02M10 95.5h1.02M12 95.5h3.02M56 95.5h1.02M74 95.5h1.02M49 96.5h1.02M51 96.5h1.02M11 97.5h1.02M14 97.5h1.02M10 98.5h2.02M10 99.5h3.02M14 99.5h1.02M55 99.5h2.02M43 102.5h1.02M24 103.5h2.02M34 103.5h1.02M43 103.5h1.02M119 103.5h1.02M35 104.5h2.02M116 104.5h1.02M119 104.5h2.02M24 105.5h1.02M34 105.5h1.02M36 105.5h1.02M87 105.5h2.02M54 106.5h1.02M35 107.5h1.02M38 107.5h1.02M24 108.5h1.02M34 108.5h1.02M54 108.5h1.02M24 109.5h1.02M37 110.5h1.02M54 110.5h1.02M24 111.5h1.02M43 112.5h1.02M27 113.5h2.02M30 113.5h1.02M32 113.5h1.02M41 113.5h1.02M74 114.5h2.02M43 115.5h1.02M63 115.5h1.02M76 115.5h1.02M79 115.5h1.02M44 116.5h1.02M47 116.5h2.02M60 116.5h1.02M104 116.5h1.02M46 117.5h1.02M89 117.5h1.02M64 118.5h1.02M41 119.5h1.02M43 119.5h1.02M103 119.5h2.02M0 120.5h3.02M5 120.5h3.02M9 120.5h1.02M104 120.5h1.02M37 121.5h1.02M49 122.5h1.02M74 122.5h1.02M38 123.5h2.02M49 123.5h1.02M51 123.5h1.02M37 124.5h2.02M39 126.5h1.02M37 127.5h3.02M49 127.5h1.02M38 128.5h1.02M50 128.5h1.02M39 131.5h1.02M39 133.5h1.02M39 136.5h1.02"/>
<path stroke="#f98554" d="M86 0.5h2.02M119 0.5h1.02M87 1.5h1.02M118 1.5h2.02M86 2.5h2.02M118 2.5h2.02M86 3.5h2.02M118 3.5h1.02M86 4.5h1.02M86 5.5h2.02M118 5.5h1.02M86 6.5h2.02M118 6.5h1.02M86 7.5h1.02M118 7.5h1.02M86 8.5h1.02M86 9.5h2.02M118 9.5h2.02M120 10.5h1.02M115 14.5h1.02M118 14.5h1.02M123 14.5h1.02M29 18.5h1.02M32 18.5h1.02M29 19.5h1.02M29 20.5h1.02M31 20.5h1.02M63 24.5h1.02M74 24.5h1.02M74 25.5h1.02M42 27.5h1.02M52 27.5h1.02M77 27.5h1.02M81 27.5h1.02M83 27.5h1.02M97 27.5h2.02M110 27.5h1.02M64 28.5h1.02M76 28.5h1.02M82 28.5h1.02M84 28.5h1.02M97 28.5h1.02M107 28.5h1.02M110 28.5h1.02M18 29.5h3.02M42 29.5h1.02M64 29.5h1.02M76 29.5h1.02M78 29.5h1.02M84 29.5h1.02M89 29.5h1.02M105 29.5h1.02M108 29.5h2.02M65 30.5h1.02M84 30.5h1.02M89 30.5h1.02M105 30.5h1.02M107 30.5h1.02M109 30.5h2.02M20 31.5h1.02M63 31.5h2.02M77 31.5h1.02M79 31.5h1.02M82 31.5h1.02M84 31.5h1.02M105 31.5h1.02M108 31.5h3.02M18 32.5h1.02M64 32.5h1.02M76 32.5h1.02M81 32.5h1.02M84 32.5h1.02M105 32.5h1.02M108 32.5h1.02M110 32.5h1.02M42 33.5h1.02M64 33.5h1.02M78 33.5h1.02M89 33.5h1.02M104 33.5h1.02M107 33.5h1.02M110 33.5h1.02M62 35.5h1.02M42 37.5h1.02M64 37.5h1.02M42 38.5h1.02M100 39.5h1.02M102 39.5h1.02M108 39.5h1.02M111 39.5h1.02M77 40.5h3.02M77 41.5h1.02M27 42.5h1.02M29 42.5h1.02M33 42.5h1.02M37 42.5h2.02M62 42.5h1.02M66 42.5h1.02M58 44.5h2.02M83 44.5h1.02M85 44.5h2.02M112 44.5h1.02M114 44.5h1.02M119 44.5h1.02M66 45.5h1.02M69 45.5h1.02M84 45.5h1.02M99 45.5h1.02M107 45.5h1.02M112 45.5h1.02M114 45.5h1.02M122 45.5h1.02M85 46.5h2.02M90 46.5h1.02M96 46.5h1.02M100 46.5h1.02M109 46.5h1.02M111 46.5h1.02M130 46.5h1.02M135 46.5h1.02M69 47.5h1.02M82 47.5h2.02M90 47.5h1.02M94 47.5h1.02M101 47.5h1.02M107 47.5h1.02M111 47.5h3.02M68 48.5h1.02M85 48.5h1.02M99 48.5h1.02M107 48.5h1.02M112 48.5h1.02M114 48.5h2.02M60 49.5h1.02M27 52.5h1.02M96 52.5h2.02M94 53.5h1.02M112 53.5h1.02M98 55.5h1.02M102 55.5h1.02M69 56.5h1.02M72 56.5h1.02M98 56.5h1.02M101 56.5h2.02M64 57.5h1.02M66 57.5h1.02M68 57.5h1.02M70 57.5h1.02M73 57.5h1.02M97 57.5h1.02M44 58.5h1.02M66 58.5h1.02M68 58.5h1.02M70 58.5h1.02M101 58.5h1.02M44 59.5h1.02M65 59.5h1.02M67 59.5h1.02M89 59.5h2.02M115 59.5h1.02M117 59.5h1.02M49 60.5h1.02M64 60.5h1.02M69 60.5h1.02M93 60.5h1.02M94 61.5h1.02M132 61.5h1.02M35 62.5h1.02M42 62.5h1.02M87 62.5h2.02M90 62.5h2.02M118 62.5h1.02M24 63.5h1.02M31 63.5h1.02M87 63.5h2.02M92 63.5h3.02M130 63.5h1.02M28 64.5h2.02M31 64.5h3.02M37 64.5h1.02M57 64.5h1.02M60 64.5h1.02M93 64.5h1.02M130 64.5h1.02M132 64.5h2.02M30 65.5h1.02M59 65.5h1.02M84 65.5h2.02M88 65.5h1.02M92 65.5h2.02M42 66.5h1.02M45 66.5h1.02M57 66.5h2.02M81 66.5h1.02M83 66.5h3.02M92 66.5h1.02M59 67.5h1.02M82 67.5h2.02M88 67.5h1.02M91 67.5h3.02M48 68.5h1.02M57 68.5h2.02M81 68.5h1.02M83 68.5h1.02M85 68.5h1.02M45 69.5h1.02M47 69.5h1.02M56 69.5h1.02M60 69.5h1.02M57 70.5h2.02M116 70.5h2.02M117 71.5h1.02M120 71.5h1.02M56 72.5h1.02M90 72.5h1.02M108 72.5h1.02M57 73.5h1.02M24 74.5h2.02M128 74.5h1.02M135 74.5h2.02M91 75.5h1.02M102 75.5h1.02M125 75.5h1.02M135 75.5h1.02M28 76.5h2.02M32 76.5h1.02M87 76.5h2.02M116 76.5h1.02M27 77.5h1.02M31 77.5h1.02M40 77.5h2.02M86 77.5h2.02M29 78.5h1.02M33 78.5h1.02M40 78.5h1.02M87 78.5h1.02M93 78.5h1.02M116 78.5h1.02M31 79.5h1.02M40 79.5h1.02M86 79.5h3.02M130 80.5h1.02M27 81.5h1.02M32 81.5h1.02M66 81.5h1.02M68 81.5h1.02M91 81.5h1.02M98 81.5h1.02M100 81.5h1.02M107 81.5h1.02M109 81.5h1.02M111 81.5h1.02M114 81.5h1.02M120 81.5h1.02M122 81.5h2.02M132 81.5h1.02M136 81.5h1.02M28 82.5h1.02M31 82.5h1.02M47 82.5h1.02M67 82.5h1.02M87 82.5h1.02M27 83.5h1.02M44 83.5h1.02M47 83.5h1.02M66 83.5h3.02M132 83.5h2.02M28 84.5h5.02M45 84.5h1.02M65 84.5h2.02M125 84.5h1.02M44 85.5h1.02M46 85.5h1.02M48 85.5h1.02M65 85.5h2.02M68 85.5h1.02M0 86.5h1.02M2 86.5h8.02M44 86.5h1.02M46 86.5h1.02M77 86.5h1.02M79 86.5h1.02M0 87.5h4.02M5 87.5h2.02M9 87.5h1.02M62 87.5h2.02M76 87.5h4.02M82 87.5h1.02M100 87.5h1.02M102 87.5h1.02M130 87.5h1.02M62 88.5h2.02M65 88.5h1.02M67 88.5h1.02M76 88.5h1.02M79 88.5h1.02M101 88.5h1.02M106 88.5h1.02M130 88.5h2.02M29 89.5h2.02M33 89.5h1.02M59 89.5h1.02M108 89.5h1.02M110 89.5h1.02M112 89.5h1.02M46 90.5h2.02M59 90.5h1.02M62 90.5h1.02M72 90.5h1.02M103 90.5h1.02M111 90.5h2.02M62 91.5h1.02M67 91.5h1.02M75 91.5h1.02M81 91.5h1.02M109 91.5h1.02M112 91.5h1.02M63 92.5h1.02M65 92.5h3.02M110 92.5h1.02M112 92.5h1.02M60 93.5h1.02M63 93.5h3.02M67 93.5h1.02M78 93.5h1.02M47 94.5h1.02M53 94.5h1.02M61 94.5h1.02M63 94.5h1.02M46 96.5h1.02M52 96.5h1.02M115 96.5h1.02M131 96.5h2.02M27 97.5h2.02M52 97.5h1.02M57 97.5h1.02M115 97.5h1.02M131 97.5h3.02M27 98.5h1.02M55 98.5h2.02M81 98.5h1.02M133 98.5h1.02M45 99.5h1.02M48 99.5h1.02M39 100.5h1.02M46 100.5h1.02M81 100.5h1.02M87 100.5h1.02M47 101.5h1.02M56 101.5h1.02M58 101.5h1.02M88 101.5h1.02M39 102.5h1.02M55 102.5h2.02M75 102.5h1.02M87 102.5h1.02M90 103.5h1.02M115 103.5h1.02M128 103.5h3.02M132 103.5h2.02M33 104.5h1.02M29 105.5h4.02M88 106.5h1.02M28 107.5h1.02M30 107.5h1.02M33 107.5h1.02M45 107.5h1.02M47 107.5h2.02M81 107.5h1.02M29 108.5h1.02M31 108.5h2.02M39 108.5h1.02M72 108.5h1.02M89 108.5h1.02M118 108.5h1.02M29 109.5h3.02M46 109.5h1.02M81 109.5h1.02M91 109.5h1.02M115 109.5h1.02M118 109.5h1.02M120 109.5h1.02M127 109.5h1.02M27 110.5h2.02M30 110.5h4.02M89 110.5h1.02M92 110.5h1.02M114 110.5h1.02M118 110.5h2.02M128 110.5h1.02M39 111.5h1.02M46 111.5h2.02M81 111.5h1.02M90 111.5h1.02M44 112.5h2.02M47 112.5h2.02M53 112.5h1.02M89 112.5h4.02M47 113.5h1.02M44 114.5h2.02M48 114.5h1.02M81 114.5h1.02M110 114.5h1.02M14 115.5h1.02M48 115.5h1.02M59 115.5h1.02M96 115.5h2.02M103 115.5h1.02M109 115.5h1.02M70 116.5h1.02M76 116.5h1.02M78 116.5h1.02M59 117.5h1.02M70 117.5h2.02M1 118.5h3.02M5 118.5h3.02M9 118.5h1.02M14 118.5h1.02M62 118.5h1.02M108 118.5h3.02M0 119.5h3.02M9 119.5h1.02M44 119.5h1.02M110 119.5h1.02M10 120.5h1.02M71 120.5h1.02M81 120.5h1.02M109 120.5h1.02M45 122.5h1.02M81 122.5h1.02M14 123.5h1.02M81 123.5h1.02M75 125.5h1.02M84 125.5h1.02M109 127.5h1.02M74 128.5h1.02M103 128.5h1.02M110 128.5h1.02M103 129.5h1.02M46 130.5h1.02M63 130.5h2.02M80 130.5h1.02M87 130.5h2.02M103 130.5h1.02M88 131.5h1.02M96 131.5h2.02M61 132.5h1.02M64 132.5h1.02M81 132.5h1.02M83 132.5h1.02M96 132.5h2.02M103 132.5h1.02M64 133.5h1.02M83 133.5h1.02M97 133.5h2.02M103 133.5h1.02M46 135.5h1.02M74 135.5h2.02M74 136.5h1.02M81 136.5h1.02"/>
<path stroke="#fc9a61" d="M88 0.5h1.02M96 0.5h1.02M88 1.5h1.02M96 1.5h1.02M113 1.5h1.02M55 2.5h1.02M88 2.5h1.02M96 2.5h1.02M55 3.5h1.02M88 3.5h1.02M96 3.5h1.02M55 5.5h1.02M96 5.5h1.02M113 5.5h1.02M55 6.5h1.02M88 6.5h1.02M55 7.5h1.02M88 7.5h1.02M55 8.5h1.02M88 8.5h1.02M55 9.5h1.02M88 9.5h1.02M96 9.5h1.02M122 13.5h1.02M125 13.5h2.02M23 15.5h1.02M32 19.5h1.02M15 23.5h1.02M33 24.5h1.02M111 27.5h1.02M103 30.5h1.02M19 32.5h1.02M24 33.5h1.02M77 34.5h1.02M76 35.5h1.02M76 36.5h1.02M79 37.5h1.02M111 38.5h1.02M115 40.5h1.02M123 40.5h1.02M61 44.5h1.02M63 44.5h1.02M89 44.5h1.02M93 44.5h1.02M103 44.5h1.02M131 44.5h1.02M62 46.5h1.02M93 46.5h1.02M62 47.5h2.02M91 47.5h1.02M64 48.5h1.02M96 48.5h1.02M102 48.5h2.02M106 48.5h1.02M124 48.5h1.02M58 49.5h1.02M111 52.5h1.02M2 55.5h2.02M5 55.5h5.02M108 55.5h1.02M110 55.5h1.02M128 55.5h2.02M131 55.5h1.02M134 55.5h1.02M107 56.5h1.02M109 56.5h2.02M105 57.5h1.02M109 57.5h2.02M49 58.5h1.02M115 58.5h1.02M117 58.5h1.02M62 59.5h1.02M70 59.5h1.02M74 59.5h1.02M78 59.5h1.02M95 59.5h1.02M99 60.5h1.02M101 60.5h1.02M118 60.5h1.02M121 60.5h2.02M124 60.5h2.02M128 60.5h1.02M131 60.5h3.02M135 60.5h2.02M44 61.5h1.02M46 62.5h2.02M59 62.5h1.02M116 62.5h1.02M44 63.5h1.02M47 63.5h1.02M48 64.5h1.02M113 64.5h1.02M117 64.5h1.02M108 65.5h1.02M91 66.5h1.02M108 66.5h1.02M82 69.5h1.02M91 69.5h1.02M108 69.5h1.02M59 70.5h1.02M93 70.5h1.02M92 71.5h1.02M130 71.5h1.02M88 72.5h1.02M92 72.5h2.02M87 73.5h1.02M92 73.5h1.02M94 73.5h1.02M59 74.5h1.02M83 74.5h1.02M127 75.5h1.02M35 76.5h2.02M119 76.5h1.02M34 77.5h1.02M119 77.5h1.02M130 77.5h1.02M59 78.5h1.02M133 78.5h1.02M37 79.5h1.02M119 79.5h1.02M131 79.5h1.02M81 80.5h1.02M100 80.5h1.02M126 80.5h1.02M80 81.5h1.02M69 82.5h1.02M96 82.5h1.02M101 82.5h1.02M126 82.5h1.02M74 83.5h1.02M103 83.5h1.02M94 84.5h1.02M97 84.5h2.02M102 84.5h1.02M103 86.5h1.02M73 87.5h1.02M90 87.5h1.02M103 87.5h1.02M0 88.5h4.02M6 88.5h4.02M72 88.5h1.02M90 88.5h1.02M44 89.5h1.02M105 89.5h1.02M130 89.5h1.02M134 89.5h2.02M87 90.5h2.02M99 90.5h1.02M104 90.5h1.02M131 90.5h1.02M47 91.5h1.02M66 91.5h1.02M69 91.5h1.02M105 91.5h1.02M130 91.5h1.02M71 92.5h3.02M101 92.5h1.02M107 92.5h1.02M44 93.5h1.02M46 93.5h1.02M70 93.5h1.02M72 93.5h1.02M99 93.5h1.02M111 93.5h2.02M128 93.5h1.02M73 94.5h1.02M84 94.5h1.02M105 94.5h1.02M59 95.5h1.02M99 95.5h1.02M103 95.5h2.02M117 95.5h1.02M122 95.5h1.02M125 95.5h1.02M132 95.5h1.02M0 96.5h4.02M5 96.5h1.02M9 96.5h1.02M48 96.5h1.02M82 96.5h1.02M84 97.5h1.02M102 97.5h1.02M84 98.5h1.02M100 98.5h1.02M102 98.5h1.02M60 99.5h1.02M90 99.5h1.02M93 99.5h1.02M95 99.5h1.02M80 100.5h1.02M98 100.5h1.02M60 101.5h1.02M82 101.5h1.02M92 101.5h1.02M48 102.5h1.02M84 102.5h1.02M97 102.5h2.02M30 103.5h1.02M44 103.5h1.02M48 103.5h1.02M83 103.5h1.02M86 103.5h2.02M95 103.5h1.02M114 103.5h1.02M90 104.5h1.02M95 104.5h1.02M113 104.5h1.02M136 104.5h1.02M57 105.5h1.02M89 105.5h1.02M91 105.5h1.02M94 105.5h1.02M118 105.5h1.02M48 106.5h1.02M56 107.5h1.02M92 107.5h1.02M125 107.5h1.02M129 107.5h2.02M55 108.5h1.02M65 108.5h2.02M69 108.5h1.02M56 109.5h2.02M55 110.5h3.02M27 111.5h1.02M38 111.5h1.02M52 111.5h1.02M93 111.5h1.02M116 111.5h1.02M93 112.5h1.02M1 113.5h1.02M5 113.5h1.02M64 113.5h1.02M104 113.5h1.02M103 114.5h1.02M40 115.5h1.02M58 115.5h1.02M62 116.5h1.02M111 116.5h1.02M58 117.5h1.02M64 117.5h1.02M95 117.5h1.02M60 118.5h1.02M105 118.5h1.02M76 119.5h2.02M79 119.5h1.02M60 121.5h1.02M13 122.5h1.02M60 122.5h1.02M95 122.5h1.02M40 123.5h1.02M48 124.5h1.02M60 124.5h1.02M13 125.5h1.02M60 125.5h1.02M95 125.5h1.02M107 125.5h1.02M13 126.5h1.02M80 126.5h1.02M82 126.5h1.02M75 127.5h1.02M55 128.5h1.02M60 128.5h1.02M93 128.5h1.02M55 129.5h1.02M107 129.5h1.02M71 130.5h1.02M77 130.5h1.02M89 130.5h1.02M91 130.5h1.02M107 130.5h1.02M44 131.5h1.02M55 131.5h1.02M60 131.5h1.02M79 131.5h1.02M90 131.5h1.02M60 132.5h1.02M95 132.5h1.02M60 133.5h1.02M78 133.5h1.02M55 134.5h1.02M89 134.5h1.02M60 135.5h1.02M89 135.5h1.02M60 136.5h1.02M104 136.5h1.02"/>
<path stroke="#d9362a" d="M89 0.5h4.02M40 1.5h1.02M62 1.5h5.02M74 1.5h2.02M77 1.5h8.02M89 1.5h5.02M61 2.5h7.02M74 2.5h2.02M77 2.5h8.02M89 2.5h5.02M19 3.5h1.02M22 3.5h2.02M27 3.5h2.02M30 3.5h1.02M35 3.5h1.02M37 3.5h2.02M40 3.5h1.02M61 3.5h7.02M74 3.5h2.02M77 3.5h1.02M80 3.5h2.02M83 3.5h1.02M89 3.5h2.02M16 4.5h3.02M21 4.5h4.02M27 4.5h2.02M30 4.5h2.02M37 4.5h5.02M61 4.5h7.02M74 4.5h2.02M79 4.5h3.02M90 4.5h1.02M15 5.5h3.02M21 5.5h1.02M24 5.5h1.02M27 5.5h1.02M31 5.5h1.02M38 5.5h1.02M61 5.5h7.02M74 5.5h2.02M77 5.5h2.02M80 5.5h5.02M89 5.5h3.02M16 6.5h2.02M21 6.5h1.02M24 6.5h1.02M27 6.5h1.02M30 6.5h3.02M36 6.5h1.02M38 6.5h1.02M40 6.5h2.02M61 6.5h7.02M74 6.5h2.02M80 6.5h2.02M84 6.5h1.02M90 6.5h1.02M16 7.5h1.02M27 7.5h1.02M32 7.5h2.02M38 7.5h1.02M40 7.5h1.02M61 7.5h7.02M74 7.5h2.02M77 7.5h2.02M80 7.5h2.02M83 7.5h2.02M89 7.5h2.02M15 8.5h5.02M21 8.5h1.02M23 8.5h3.02M27 8.5h2.02M31 8.5h1.02M33 8.5h1.02M35 8.5h1.02M37 8.5h2.02M40 8.5h2.02M61 8.5h7.02M74 8.5h2.02M78 8.5h1.02M80 8.5h2.02M84 8.5h1.02M90 8.5h1.02M23 9.5h1.02M27 9.5h1.02M30 9.5h1.02M40 9.5h1.02M61 9.5h7.02M74 9.5h2.02M77 9.5h8.02M89 9.5h5.02M5 15.5h1.02M8 15.5h1.02M53 15.5h1.02M4 16.5h5.02M53 16.5h1.02M4 17.5h3.02M8 17.5h1.02M53 17.5h1.02M4 18.5h1.02M8 18.5h1.02M50 18.5h1.02M53 18.5h1.02M3 19.5h1.02M8 19.5h1.02M53 19.5h1.02M53 20.5h1.02M56 20.5h1.02M4 21.5h3.02M8 21.5h1.02M39 21.5h5.02M45 21.5h5.02M54 21.5h1.02M57 21.5h3.02M61 21.5h3.02M65 21.5h2.02M71 21.5h3.02M76 21.5h2.02M82 21.5h2.02M87 21.5h2.02M91 21.5h1.02M93 21.5h2.02M97 21.5h2.02M101 21.5h4.02M106 21.5h3.02M110 21.5h6.02M118 21.5h2.02M125 21.5h4.02M133 21.5h2.02M136 21.5h1.02M3 22.5h2.02M40 22.5h2.02M43 22.5h3.02M48 22.5h1.02M51 22.5h1.02M54 22.5h6.02M63 22.5h1.02M69 22.5h1.02M71 22.5h2.02M77 22.5h1.02M79 22.5h1.02M82 22.5h2.02M85 22.5h1.02M88 22.5h1.02M91 22.5h5.02M102 22.5h1.02M104 22.5h1.02M106 22.5h1.02M110 22.5h2.02M113 22.5h1.02M115 22.5h1.02M118 22.5h3.02M123 22.5h2.02M129 22.5h1.02M131 22.5h2.02M134 22.5h1.02M3 23.5h2.02M8 23.5h2.02M39 23.5h2.02M42 23.5h3.02M46 23.5h6.02M55 23.5h9.02M66 23.5h8.02M76 23.5h1.02M78 23.5h2.02M81 23.5h6.02M88 23.5h2.02M91 23.5h19.02M111 23.5h2.02M114 23.5h2.02M118 23.5h1.02M120 23.5h8.02M129 23.5h1.02M132 23.5h4.02M4 24.5h3.02M8 24.5h1.02M8 25.5h1.02M3 27.5h7.02M3 28.5h2.02M8 28.5h1.02M3 30.5h2.02M6 30.5h1.02M9 30.5h1.02M4 31.5h3.02M8 31.5h1.02M6 32.5h2.02M7 33.5h2.02M3 35.5h1.02M8 35.5h1.02M6 36.5h1.02M3 37.5h2.02M8 37.5h1.02M3 38.5h6.02M4 39.5h1.02M21 39.5h1.02M23 39.5h1.02M1 40.5h1.02M3 40.5h2.02M6 40.5h4.02M21 40.5h3.02M4 41.5h1.02M6 41.5h1.02M8 41.5h1.02M21 41.5h2.02M21 42.5h1.02M23 42.5h1.02M21 43.5h3.02M22 44.5h2.02M21 45.5h2.02M21 46.5h1.02M23 46.5h1.02M21 47.5h1.02M23 47.5h1.02M21 48.5h3.02M21 49.5h1.02M23 49.5h1.02M18 50.5h1.02M23 50.5h1.02M22 51.5h2.02M15 53.5h6.02M21 54.5h2.02M22 55.5h2.02M20 56.5h1.02M22 56.5h2.02M21 57.5h3.02M21 58.5h3.02M21 59.5h3.02M23 60.5h1.02M2 61.5h8.02M21 61.5h1.02M23 61.5h1.02M1 62.5h9.02M21 62.5h1.02M23 62.5h1.02M1 63.5h9.02M21 63.5h3.02M1 64.5h9.02M1 65.5h9.02M21 65.5h1.02M1 66.5h9.02M21 66.5h1.02M23 66.5h1.02M2 67.5h8.02M23 67.5h1.02M23 68.5h1.02M22 69.5h2.02M23 70.5h1.02M21 71.5h3.02M21 72.5h3.02M21 73.5h1.02M23 73.5h1.02M1 74.5h9.02M1 75.5h9.02M21 76.5h1.02M23 76.5h1.02M1 77.5h3.02M5 77.5h1.02M7 77.5h1.02M9 77.5h1.02M21 77.5h2.02M1 78.5h2.02M5 78.5h1.02M7 78.5h3.02M23 78.5h1.02M1 79.5h2.02M4 79.5h1.02M9 79.5h1.02M22 79.5h2.02M1 80.5h9.02M1 81.5h9.02M23 81.5h1.02M1 82.5h2.02M5 82.5h1.02M9 82.5h1.02M21 82.5h3.02M1 83.5h3.02M5 83.5h1.02M7 83.5h1.02M9 83.5h1.02M21 83.5h3.02M1 84.5h2.02M5 84.5h5.02M23 84.5h1.02M22 85.5h2.02M23 86.5h1.02M21 87.5h1.02M21 88.5h3.02M0 89.5h4.02M5 89.5h1.02M7 89.5h1.02M9 89.5h1.02M23 89.5h1.02M0 90.5h10.02M0 91.5h3.02M5 91.5h1.02M9 91.5h1.02M21 91.5h3.02M0 92.5h3.02M9 92.5h1.02M22 92.5h2.02M1 93.5h2.02M9 93.5h1.02M21 93.5h3.02M21 94.5h3.02M22 95.5h2.02M23 96.5h1.02M21 97.5h1.02M23 97.5h1.02M21 98.5h1.02M23 98.5h1.02M23 99.5h1.02M23 100.5h1.02M21 101.5h1.02M23 101.5h1.02M21 102.5h3.02M21 103.5h1.02M23 103.5h1.02M21 104.5h3.02M23 105.5h1.02M21 106.5h3.02M21 107.5h1.02M23 107.5h1.02M21 108.5h1.02M23 108.5h1.02M23 109.5h1.02M21 110.5h2.02M21 111.5h3.02M21 112.5h1.02M23 112.5h1.02M21 113.5h2.02M21 114.5h1.02M23 114.5h1.02M21 115.5h3.02M21 118.5h3.02M21 119.5h2.02M22 120.5h2.02M23 121.5h1.02M23 122.5h1.02M22 123.5h2.02M22 124.5h2.02M21 125.5h1.02M23 125.5h1.02M21 126.5h1.02M23 126.5h1.02M21 127.5h1.02M23 127.5h1.02M21 128.5h1.02M22 129.5h2.02M22 131.5h1.02M22 132.5h2.02M21 133.5h1.02M23 133.5h1.02M21 134.5h3.02M23 135.5h1.02M21 136.5h1.02"/>
<path stroke="#f4794e" d="M94 0.5h1.02M111 0.5h2.02M94 1.5h1.02M111 1.5h2.02M94 2.5h1.02M111 2.5h2.02M112 3.5h1.02M94 5.5h1.02M111 5.5h2.02M94 6.5h1.02M112 6.5h1.02M94 7.5h1.02M112 7.5h1.02M112 9.5h1.02M61 13.5h1.02M64 13.5h2.02M67 13.5h2.02M70 13.5h2.02M75 13.5h1.02M79 13.5h2.02M84 13.5h1.02M90 13.5h1.02M92 13.5h1.02M100 14.5h2.02M103 14.5h7.02M117 14.5h1.02M129 14.5h1.02M75 15.5h1.02M74 16.5h2.02M75 19.5h1.02M52 24.5h1.02M63 26.5h1.02M74 26.5h1.02M46 27.5h1.02M68 27.5h1.02M96 27.5h1.02M81 28.5h1.02M83 28.5h1.02M89 28.5h1.02M46 29.5h1.02M98 29.5h1.02M46 30.5h1.02M52 30.5h1.02M69 30.5h1.02M80 30.5h1.02M96 30.5h3.02M46 31.5h1.02M76 31.5h1.02M81 31.5h1.02M96 31.5h2.02M52 32.5h1.02M69 32.5h1.02M97 32.5h1.02M52 33.5h1.02M83 33.5h1.02M96 33.5h2.02M62 34.5h2.02M42 35.5h1.02M64 36.5h1.02M106 36.5h1.02M106 37.5h1.02M52 38.5h1.02M64 38.5h1.02M105 38.5h2.02M99 39.5h1.02M101 39.5h1.02M79 41.5h1.02M35 42.5h1.02M61 42.5h1.02M63 42.5h1.02M65 42.5h1.02M67 42.5h1.02M56 44.5h2.02M73 44.5h1.02M78 44.5h1.02M117 44.5h2.02M120 44.5h1.02M54 45.5h1.02M57 45.5h2.02M68 45.5h1.02M83 45.5h1.02M85 45.5h1.02M116 45.5h1.02M120 45.5h1.02M27 46.5h1.02M29 46.5h3.02M54 46.5h5.02M67 46.5h2.02M115 46.5h1.02M119 46.5h1.02M58 47.5h2.02M66 47.5h1.02M115 47.5h1.02M117 47.5h2.02M55 48.5h1.02M57 48.5h1.02M66 48.5h1.02M77 48.5h2.02M117 48.5h1.02M119 48.5h2.02M126 50.5h1.02M87 51.5h1.02M93 51.5h1.02M95 51.5h1.02M97 51.5h2.02M24 52.5h1.02M30 52.5h1.02M32 52.5h2.02M38 52.5h1.02M85 52.5h1.02M87 53.5h1.02M45 54.5h2.02M46 55.5h1.02M48 55.5h1.02M69 55.5h1.02M75 55.5h1.02M78 55.5h2.02M103 55.5h1.02M44 56.5h1.02M46 56.5h1.02M67 56.5h1.02M70 56.5h1.02M73 56.5h1.02M100 56.5h1.02M44 57.5h3.02M48 57.5h1.02M65 57.5h1.02M67 57.5h1.02M71 57.5h1.02M99 57.5h1.02M45 58.5h3.02M67 58.5h1.02M47 59.5h1.02M116 59.5h1.02M65 60.5h2.02M80 60.5h1.02M89 60.5h1.02M13 61.5h1.02M42 61.5h1.02M88 61.5h1.02M130 61.5h1.02M34 62.5h1.02M26 63.5h1.02M34 63.5h1.02M42 63.5h1.02M118 63.5h1.02M13 64.5h1.02M36 64.5h1.02M38 64.5h1.02M87 64.5h2.02M90 64.5h1.02M13 65.5h1.02M42 65.5h1.02M57 65.5h1.02M60 65.5h1.02M47 66.5h2.02M60 66.5h1.02M90 66.5h1.02M13 67.5h1.02M42 67.5h1.02M46 67.5h1.02M56 67.5h3.02M81 67.5h1.02M13 68.5h1.02M27 68.5h1.02M45 68.5h2.02M30 69.5h1.02M32 69.5h1.02M55 69.5h1.02M13 70.5h1.02M56 70.5h1.02M13 71.5h1.02M57 71.5h1.02M116 71.5h1.02M44 73.5h1.02M56 73.5h1.02M115 73.5h1.02M16 74.5h1.02M26 74.5h1.02M88 74.5h1.02M91 74.5h1.02M93 74.5h2.02M121 74.5h1.02M13 75.5h1.02M15 75.5h2.02M19 75.5h1.02M55 75.5h1.02M85 75.5h2.02M94 75.5h1.02M121 75.5h2.02M124 75.5h1.02M31 76.5h1.02M86 76.5h1.02M92 76.5h2.02M95 76.5h1.02M48 77.5h1.02M91 77.5h1.02M94 77.5h2.02M44 78.5h1.02M48 78.5h1.02M55 78.5h1.02M92 78.5h1.02M94 78.5h1.02M13 79.5h1.02M41 79.5h1.02M55 79.5h1.02M91 79.5h1.02M13 80.5h1.02M30 80.5h1.02M60 80.5h1.02M88 80.5h1.02M108 80.5h1.02M116 80.5h1.02M28 81.5h1.02M31 81.5h1.02M67 81.5h1.02M85 81.5h1.02M89 81.5h1.02M99 81.5h1.02M105 81.5h1.02M110 81.5h1.02M112 81.5h1.02M116 81.5h1.02M125 81.5h1.02M128 81.5h1.02M130 81.5h2.02M133 81.5h1.02M28 83.5h1.02M33 83.5h1.02M45 83.5h1.02M87 83.5h1.02M117 83.5h2.02M120 83.5h1.02M13 84.5h1.02M115 84.5h1.02M45 85.5h1.02M52 85.5h1.02M75 85.5h1.02M81 85.5h1.02M75 86.5h2.02M51 87.5h1.02M53 87.5h1.02M64 87.5h1.02M83 87.5h1.02M99 87.5h1.02M106 87.5h3.02M61 88.5h1.02M64 88.5h1.02M74 88.5h1.02M80 88.5h1.02M99 88.5h1.02M108 88.5h1.02M28 89.5h1.02M60 89.5h1.02M81 89.5h1.02M111 89.5h1.02M13 90.5h1.02M64 90.5h1.02M66 90.5h1.02M109 90.5h1.02M74 91.5h1.02M77 91.5h1.02M79 91.5h1.02M110 91.5h1.02M13 92.5h1.02M76 92.5h1.02M78 92.5h1.02M51 93.5h1.02M74 93.5h1.02M76 93.5h1.02M0 94.5h3.02M5 94.5h3.02M74 94.5h2.02M77 94.5h2.02M51 95.5h1.02M76 95.5h2.02M27 96.5h1.02M30 96.5h2.02M33 96.5h1.02M130 96.5h1.02M30 97.5h4.02M51 97.5h1.02M29 98.5h2.02M51 98.5h1.02M129 98.5h1.02M39 99.5h1.02M57 99.5h1.02M81 99.5h1.02M87 99.5h2.02M14 100.5h1.02M56 100.5h1.02M14 101.5h1.02M39 101.5h1.02M14 103.5h1.02M55 103.5h1.02M14 104.5h1.02M115 104.5h1.02M128 104.5h1.02M14 105.5h1.02M38 105.5h1.02M81 105.5h1.02M14 106.5h1.02M36 106.5h3.02M87 106.5h1.02M14 107.5h1.02M87 107.5h1.02M14 108.5h1.02M80 108.5h1.02M87 108.5h2.02M122 108.5h1.02M124 108.5h1.02M127 108.5h1.02M136 108.5h1.02M14 109.5h1.02M90 109.5h1.02M116 109.5h1.02M125 109.5h1.02M81 110.5h1.02M91 110.5h1.02M116 110.5h1.02M120 110.5h1.02M129 110.5h3.02M0 111.5h3.02M5 111.5h1.02M89 111.5h1.02M0 112.5h4.02M5 112.5h3.02M9 112.5h1.02M81 112.5h1.02M46 115.5h2.02M73 115.5h1.02M84 115.5h1.02M104 115.5h1.02M45 116.5h1.02M59 116.5h1.02M71 116.5h1.02M80 116.5h2.02M109 116.5h2.02M14 117.5h1.02M44 117.5h1.02M47 117.5h2.02M83 117.5h1.02M44 118.5h1.02M47 118.5h1.02M63 118.5h1.02M83 118.5h1.02M46 119.5h1.02M48 119.5h1.02M44 120.5h2.02M48 120.5h1.02M83 120.5h1.02M110 120.5h1.02M74 121.5h2.02M75 122.5h1.02M108 122.5h1.02M75 124.5h1.02M108 124.5h1.02M81 125.5h1.02M109 125.5h1.02M50 126.5h1.02M108 127.5h1.02M81 128.5h1.02M104 128.5h1.02M14 129.5h1.02M98 129.5h1.02M110 129.5h1.02M61 130.5h1.02M81 130.5h1.02M96 130.5h1.02M110 130.5h1.02M81 131.5h1.02M110 131.5h1.02M81 133.5h1.02M108 136.5h1.02"/>
<path stroke="#e7573c" d="M95 0.5h1.02M97 0.5h3.02M123 0.5h2.02M127 0.5h1.02M95 1.5h1.02M97 1.5h3.02M95 2.5h1.02M97 2.5h3.02M47 3.5h2.02M95 3.5h1.02M99 3.5h1.02M48 4.5h1.02M99 4.5h1.02M95 5.5h1.02M97 5.5h3.02M48 6.5h1.02M95 6.5h1.02M97 6.5h1.02M99 6.5h1.02M48 7.5h1.02M95 7.5h1.02M98 7.5h2.02M47 8.5h2.02M48 9.5h1.02M95 9.5h1.02M99 9.5h1.02M40 10.5h1.02M42 10.5h2.02M46 10.5h1.02M61 10.5h3.02M65 10.5h1.02M67 10.5h2.02M70 10.5h9.02M80 10.5h5.02M89 10.5h4.02M39 11.5h8.02M61 11.5h1.02M64 11.5h5.02M70 11.5h2.02M74 11.5h1.02M78 11.5h1.02M80 11.5h2.02M83 11.5h2.02M90 11.5h1.02M92 11.5h1.02M43 12.5h4.02M50 12.5h2.02M63 12.5h5.02M71 12.5h1.02M73 12.5h1.02M77 12.5h1.02M81 12.5h1.02M89 12.5h2.02M16 14.5h1.02M37 14.5h1.02M40 14.5h1.02M43 14.5h1.02M89 14.5h5.02M59 15.5h1.02M14 16.5h1.02M59 16.5h1.02M59 19.5h1.02M24 21.5h1.02M32 22.5h1.02M30 23.5h3.02M21 24.5h1.02M54 24.5h2.02M57 24.5h1.02M67 24.5h1.02M71 24.5h1.02M73 24.5h1.02M80 24.5h1.02M83 24.5h1.02M87 24.5h1.02M90 24.5h1.02M100 24.5h1.02M112 24.5h1.02M114 24.5h1.02M117 24.5h1.02M120 24.5h5.02M127 24.5h1.02M136 24.5h1.02M42 25.5h5.02M48 25.5h2.02M51 25.5h1.02M58 25.5h1.02M69 25.5h1.02M78 25.5h2.02M82 25.5h1.02M86 25.5h5.02M92 25.5h2.02M95 25.5h2.02M101 25.5h2.02M123 25.5h1.02M43 26.5h1.02M46 26.5h3.02M51 26.5h1.02M60 26.5h2.02M66 26.5h1.02M69 26.5h1.02M71 26.5h1.02M73 26.5h1.02M77 26.5h1.02M79 26.5h1.02M83 26.5h1.02M87 26.5h2.02M93 26.5h2.02M96 26.5h1.02M102 26.5h1.02M113 26.5h1.02M54 27.5h3.02M58 27.5h1.02M100 27.5h2.02M54 28.5h1.02M58 28.5h1.02M60 28.5h2.02M94 28.5h1.02M101 28.5h1.02M125 28.5h1.02M128 28.5h1.02M130 28.5h1.02M47 29.5h1.02M58 29.5h1.02M60 29.5h2.02M67 29.5h1.02M90 29.5h1.02M95 29.5h1.02M102 29.5h1.02M116 29.5h1.02M125 29.5h1.02M23 30.5h1.02M49 30.5h1.02M51 30.5h1.02M54 30.5h1.02M57 30.5h1.02M60 30.5h2.02M100 30.5h1.02M116 30.5h1.02M122 30.5h1.02M124 30.5h1.02M130 30.5h1.02M23 31.5h1.02M47 31.5h1.02M50 31.5h1.02M54 31.5h1.02M60 31.5h1.02M99 31.5h1.02M101 31.5h2.02M124 31.5h2.02M22 32.5h2.02M50 32.5h1.02M55 32.5h1.02M58 32.5h1.02M90 32.5h1.02M101 32.5h2.02M117 32.5h1.02M47 33.5h1.02M49 33.5h2.02M61 33.5h1.02M90 33.5h1.02M102 33.5h1.02M112 33.5h1.02M130 33.5h3.02M136 33.5h1.02M65 34.5h2.02M70 34.5h2.02M82 34.5h1.02M89 34.5h1.02M92 34.5h1.02M122 34.5h1.02M48 35.5h1.02M60 35.5h1.02M65 35.5h2.02M82 35.5h1.02M85 35.5h8.02M95 35.5h1.02M135 35.5h1.02M60 36.5h1.02M67 36.5h1.02M81 36.5h8.02M90 36.5h1.02M92 36.5h4.02M14 37.5h1.02M44 37.5h1.02M48 37.5h1.02M60 37.5h1.02M67 37.5h1.02M83 37.5h1.02M86 37.5h3.02M90 37.5h1.02M93 37.5h1.02M134 37.5h1.02M44 38.5h1.02M48 38.5h2.02M61 38.5h1.02M81 38.5h1.02M84 38.5h3.02M90 38.5h1.02M100 38.5h1.02M102 38.5h1.02M131 38.5h1.02M133 38.5h1.02M135 38.5h1.02M11 39.5h1.02M43 39.5h1.02M82 39.5h2.02M85 39.5h2.02M88 39.5h3.02M94 39.5h4.02M10 40.5h2.02M14 40.5h1.02M42 40.5h2.02M47 40.5h2.02M54 40.5h4.02M59 40.5h1.02M65 40.5h1.02M81 40.5h1.02M83 40.5h1.02M88 40.5h3.02M95 40.5h1.02M99 40.5h1.02M107 40.5h1.02M125 40.5h1.02M130 40.5h1.02M11 41.5h1.02M43 41.5h1.02M48 41.5h1.02M54 41.5h2.02M57 41.5h2.02M81 41.5h1.02M83 41.5h1.02M86 41.5h1.02M99 41.5h4.02M105 41.5h1.02M108 41.5h3.02M10 42.5h2.02M25 42.5h1.02M40 42.5h1.02M45 42.5h2.02M49 42.5h1.02M51 42.5h1.02M56 42.5h2.02M81 42.5h1.02M83 42.5h6.02M92 42.5h1.02M94 42.5h1.02M99 42.5h1.02M101 42.5h1.02M122 42.5h1.02M130 42.5h1.02M10 43.5h3.02M14 43.5h1.02M25 43.5h2.02M39 43.5h3.02M52 43.5h1.02M84 43.5h1.02M88 43.5h1.02M90 43.5h1.02M99 43.5h1.02M11 44.5h2.02M25 44.5h1.02M37 44.5h2.02M11 45.5h2.02M25 45.5h1.02M42 45.5h1.02M10 46.5h3.02M25 46.5h2.02M42 46.5h1.02M81 46.5h1.02M3 47.5h1.02M8 47.5h1.02M26 47.5h1.02M29 47.5h1.02M31 47.5h1.02M33 47.5h1.02M40 47.5h1.02M3 48.5h2.02M6 48.5h4.02M25 48.5h2.02M35 48.5h1.02M37 48.5h2.02M40 48.5h2.02M25 49.5h1.02M30 49.5h1.02M33 49.5h1.02M38 49.5h1.02M42 49.5h1.02M53 49.5h1.02M63 49.5h1.02M72 49.5h2.02M76 49.5h1.02M78 49.5h2.02M99 49.5h3.02M104 49.5h2.02M109 49.5h2.02M116 49.5h2.02M129 49.5h1.02M135 49.5h2.02M12 50.5h1.02M31 50.5h3.02M63 50.5h1.02M67 50.5h3.02M71 50.5h1.02M73 50.5h2.02M78 50.5h2.02M83 50.5h1.02M100 50.5h2.02M105 50.5h1.02M108 50.5h3.02M116 50.5h2.02M129 50.5h1.02M131 50.5h1.02M133 50.5h1.02M135 50.5h1.02M12 51.5h1.02M25 51.5h2.02M30 51.5h1.02M42 51.5h1.02M61 51.5h1.02M65 51.5h1.02M67 51.5h2.02M70 51.5h1.02M73 51.5h1.02M84 51.5h1.02M99 51.5h2.02M116 51.5h1.02M129 51.5h2.02M133 51.5h2.02M43 52.5h1.02M77 52.5h1.02M89 52.5h1.02M99 52.5h2.02M107 52.5h1.02M132 52.5h1.02M136 52.5h1.02M49 53.5h1.02M101 53.5h1.02M103 53.5h1.02M107 53.5h2.02M110 53.5h1.02M127 53.5h1.02M24 54.5h1.02M27 54.5h2.02M30 54.5h2.02M40 54.5h2.02M63 54.5h2.02M66 54.5h4.02M73 54.5h1.02M76 54.5h4.02M82 54.5h3.02M24 55.5h1.02M27 55.5h1.02M32 55.5h1.02M40 55.5h2.02M27 56.5h1.02M40 56.5h1.02M42 56.5h1.02M61 56.5h1.02M80 56.5h2.02M103 56.5h1.02M24 57.5h1.02M30 57.5h1.02M40 57.5h3.02M80 57.5h1.02M25 58.5h1.02M27 58.5h3.02M32 58.5h1.02M41 58.5h1.02M103 58.5h1.02M15 59.5h2.02M19 59.5h1.02M40 59.5h1.02M26 60.5h1.02M28 60.5h4.02M35 60.5h3.02M10 61.5h2.02M26 61.5h1.02M28 61.5h3.02M33 61.5h1.02M38 61.5h1.02M51 61.5h1.02M56 61.5h1.02M10 62.5h1.02M10 63.5h1.02M12 63.5h1.02M49 63.5h2.02M54 63.5h1.02M11 64.5h2.02M54 64.5h1.02M10 65.5h3.02M34 65.5h2.02M40 65.5h1.02M51 65.5h1.02M11 66.5h2.02M26 66.5h1.02M34 66.5h2.02M54 66.5h1.02M10 67.5h3.02M24 67.5h1.02M29 67.5h1.02M36 67.5h2.02M50 67.5h2.02M54 67.5h1.02M10 68.5h2.02M50 68.5h2.02M54 68.5h1.02M25 69.5h2.02M50 69.5h1.02M54 69.5h1.02M10 70.5h2.02M34 70.5h1.02M51 70.5h1.02M10 71.5h3.02M24 71.5h1.02M26 71.5h1.02M34 71.5h1.02M50 71.5h1.02M10 72.5h1.02M49 72.5h1.02M10 73.5h1.02M12 73.5h1.02M24 73.5h1.02M26 73.5h1.02M49 73.5h3.02M54 73.5h1.02M10 74.5h2.02M50 74.5h1.02M10 75.5h1.02M116 75.5h1.02M10 76.5h1.02M49 76.5h1.02M54 76.5h1.02M10 77.5h1.02M12 77.5h1.02M26 77.5h1.02M52 77.5h1.02M54 77.5h1.02M10 78.5h2.02M25 78.5h1.02M49 78.5h2.02M54 78.5h1.02M25 79.5h2.02M49 79.5h2.02M54 79.5h1.02M10 80.5h2.02M24 80.5h1.02M56 80.5h2.02M10 81.5h3.02M36 81.5h1.02M38 81.5h1.02M40 81.5h3.02M46 81.5h1.02M56 81.5h1.02M10 82.5h1.02M25 82.5h1.02M34 82.5h3.02M39 82.5h1.02M54 82.5h1.02M10 83.5h2.02M24 83.5h1.02M26 83.5h1.02M36 83.5h2.02M39 83.5h4.02M50 83.5h1.02M54 83.5h1.02M10 84.5h2.02M36 84.5h1.02M38 84.5h1.02M42 84.5h2.02M51 84.5h1.02M54 84.5h1.02M35 85.5h2.02M38 85.5h2.02M42 85.5h1.02M25 86.5h1.02M35 86.5h5.02M41 86.5h2.02M24 87.5h3.02M35 87.5h3.02M42 87.5h1.02M25 88.5h2.02M35 88.5h3.02M39 88.5h2.02M42 88.5h2.02M10 89.5h1.02M12 89.5h1.02M14 89.5h1.02M25 89.5h1.02M34 89.5h2.02M39 89.5h2.02M52 89.5h1.02M10 90.5h3.02M14 90.5h1.02M24 90.5h2.02M29 90.5h1.02M32 90.5h2.02M35 90.5h6.02M43 90.5h1.02M10 91.5h1.02M14 91.5h1.02M35 91.5h1.02M10 92.5h2.02M14 92.5h1.02M25 92.5h1.02M34 92.5h3.02M42 92.5h1.02M14 93.5h1.02M25 93.5h2.02M36 93.5h2.02M26 94.5h1.02M28 94.5h1.02M36 94.5h1.02M39 94.5h1.02M42 94.5h1.02M0 95.5h4.02M5 95.5h3.02M9 95.5h1.02M25 95.5h1.02M29 95.5h1.02M35 95.5h2.02M39 95.5h2.02M25 96.5h2.02M39 96.5h1.02M0 97.5h3.02M5 97.5h2.02M39 97.5h1.02M0 98.5h3.02M5 98.5h1.02M7 98.5h1.02M0 99.5h8.02M9 99.5h1.02M31 99.5h1.02M40 99.5h4.02M49 99.5h1.02M51 99.5h2.02M24 100.5h1.02M27 100.5h1.02M30 100.5h1.02M38 100.5h1.02M41 100.5h1.02M49 100.5h4.02M25 101.5h1.02M27 101.5h2.02M31 101.5h2.02M41 101.5h2.02M49 101.5h2.02M53 101.5h1.02M25 102.5h2.02M29 102.5h1.02M31 102.5h3.02M38 102.5h1.02M41 102.5h1.02M53 103.5h1.02M56 103.5h1.02M58 103.5h1.02M49 104.5h1.02M41 105.5h1.02M49 105.5h2.02M40 107.5h1.02M52 107.5h2.02M41 108.5h1.02M50 108.5h1.02M53 108.5h1.02M41 109.5h1.02M49 109.5h2.02M41 110.5h1.02M49 110.5h2.02M53 110.5h1.02M24 112.5h1.02M33 112.5h1.02M26 113.5h1.02M24 114.5h1.02M29 116.5h2.02M49 116.5h3.02M75 116.5h1.02M24 117.5h1.02M32 117.5h1.02M49 117.5h2.02M24 120.5h1.02M24 121.5h1.02M24 122.5h1.02M30 122.5h1.02M34 122.5h1.02M42 122.5h1.02M0 123.5h1.02M24 123.5h2.02M0 124.5h1.02M24 124.5h1.02M30 124.5h2.02M28 125.5h2.02M31 125.5h1.02M40 125.5h1.02M0 127.5h1.02M24 127.5h1.02M53 127.5h1.02M28 128.5h1.02M49 129.5h3.02M28 130.5h1.02M30 130.5h1.02M33 130.5h1.02M40 130.5h1.02M42 130.5h1.02M51 130.5h1.02M33 131.5h1.02M38 131.5h1.02M50 131.5h1.02M33 132.5h1.02M52 132.5h1.02M38 133.5h1.02M50 133.5h2.02M37 134.5h1.02M51 134.5h1.02M35 135.5h1.02M38 135.5h1.02M49 135.5h2.02M24 136.5h1.02M33 136.5h1.02M49 136.5h1.02M52 136.5h1.02"/>
<path stroke="#e24c36" d="M100 0.5h2.02M103 0.5h3.02M107 0.5h1.02M72 1.5h2.02M76 1.5h1.02M72 2.5h2.02M76 2.5h1.02M72 3.5h2.02M76 3.5h1.02M109 4.5h2.02M73 5.5h1.02M76 5.5h1.02M73 6.5h1.02M76 6.5h1.02M72 7.5h2.02M76 7.5h1.02M73 8.5h1.02M72 9.5h2.02M76 9.5h1.02M109 9.5h1.02M17 10.5h1.02M23 10.5h2.02M32 10.5h1.02M37 10.5h2.02M16 11.5h1.02M18 11.5h2.02M21 11.5h1.02M23 11.5h2.02M26 11.5h3.02M30 11.5h1.02M32 11.5h2.02M35 11.5h2.02M38 11.5h1.02M15 12.5h3.02M21 12.5h4.02M27 12.5h3.02M31 12.5h3.02M35 12.5h1.02M37 12.5h2.02M12 15.5h1.02M11 16.5h2.02M10 17.5h1.02M12 17.5h1.02M106 17.5h1.02M111 17.5h1.02M113 17.5h1.02M119 17.5h1.02M11 18.5h1.02M11 19.5h1.02M69 19.5h1.02M111 19.5h1.02M113 19.5h2.02M120 19.5h1.02M123 19.5h1.02M59 20.5h1.02M11 21.5h2.02M25 21.5h2.02M30 21.5h1.02M32 21.5h1.02M12 22.5h1.02M10 23.5h3.02M10 24.5h3.02M39 24.5h3.02M53 24.5h1.02M21 25.5h1.02M40 25.5h1.02M47 25.5h1.02M56 25.5h1.02M67 25.5h2.02M70 25.5h1.02M81 25.5h1.02M112 25.5h1.02M114 25.5h1.02M116 25.5h2.02M120 25.5h2.02M125 25.5h2.02M131 25.5h3.02M135 25.5h2.02M11 26.5h1.02M21 26.5h1.02M40 26.5h1.02M56 26.5h2.02M70 26.5h1.02M80 26.5h1.02M85 26.5h1.02M99 26.5h2.02M114 26.5h1.02M116 26.5h3.02M121 26.5h2.02M124 26.5h2.02M127 26.5h1.02M129 26.5h2.02M133 26.5h3.02M11 27.5h2.02M40 27.5h2.02M53 27.5h1.02M99 27.5h1.02M11 28.5h2.02M40 28.5h2.02M53 28.5h1.02M56 28.5h1.02M12 29.5h1.02M39 29.5h1.02M41 29.5h1.02M56 29.5h1.02M11 30.5h1.02M21 30.5h1.02M40 30.5h1.02M12 31.5h1.02M40 31.5h1.02M53 31.5h1.02M55 31.5h1.02M10 32.5h3.02M21 32.5h1.02M40 32.5h2.02M53 32.5h1.02M56 32.5h1.02M11 33.5h2.02M56 33.5h1.02M39 34.5h1.02M44 34.5h2.02M47 34.5h1.02M50 34.5h2.02M57 34.5h2.02M61 34.5h1.02M87 34.5h1.02M99 34.5h3.02M119 34.5h2.02M129 34.5h1.02M131 34.5h2.02M134 34.5h2.02M11 35.5h2.02M39 35.5h2.02M50 35.5h1.02M54 35.5h1.02M57 35.5h2.02M99 35.5h2.02M118 35.5h3.02M130 35.5h1.02M11 36.5h1.02M39 36.5h2.02M45 36.5h1.02M50 36.5h1.02M54 36.5h3.02M61 36.5h1.02M99 36.5h3.02M115 36.5h1.02M117 36.5h2.02M129 36.5h3.02M133 36.5h1.02M10 37.5h1.02M12 37.5h1.02M39 37.5h1.02M41 37.5h1.02M50 37.5h1.02M54 37.5h4.02M99 37.5h3.02M116 37.5h5.02M130 37.5h1.02M10 38.5h3.02M39 38.5h1.02M41 38.5h1.02M50 38.5h1.02M54 38.5h1.02M56 38.5h1.02M115 38.5h1.02M120 38.5h1.02M24 39.5h1.02M29 39.5h1.02M34 39.5h5.02M44 39.5h8.02M54 39.5h3.02M112 39.5h1.02M114 39.5h1.02M117 39.5h2.02M24 40.5h5.02M30 40.5h3.02M35 40.5h2.02M52 40.5h2.02M24 41.5h1.02M27 41.5h3.02M32 41.5h1.02M37 41.5h2.02M50 41.5h1.02M52 41.5h2.02M53 42.5h1.02M34 44.5h1.02M39 44.5h1.02M34 45.5h1.02M36 45.5h1.02M39 45.5h1.02M39 46.5h1.02M25 47.5h1.02M34 47.5h1.02M39 47.5h1.02M39 48.5h1.02M39 49.5h1.02M61 49.5h1.02M67 49.5h1.02M34 50.5h6.02M41 50.5h1.02M130 50.5h1.02M34 51.5h1.02M39 51.5h1.02M40 52.5h2.02M63 52.5h3.02M68 52.5h1.02M71 52.5h2.02M75 52.5h1.02M78 52.5h1.02M80 52.5h1.02M84 52.5h1.02M90 52.5h1.02M125 52.5h2.02M134 52.5h1.02M24 53.5h1.02M27 53.5h2.02M31 53.5h2.02M40 53.5h3.02M66 53.5h1.02M69 53.5h1.02M73 53.5h3.02M78 53.5h2.02M81 53.5h4.02M90 53.5h3.02M121 53.5h1.02M125 53.5h2.02M128 53.5h1.02M131 53.5h1.02M134 53.5h3.02M35 54.5h5.02M31 55.5h1.02M36 55.5h2.02M39 55.5h1.02M25 56.5h2.02M28 56.5h2.02M32 56.5h2.02M36 56.5h4.02M26 57.5h1.02M34 57.5h2.02M37 57.5h1.02M34 58.5h2.02M20 59.5h1.02M34 61.5h1.02M36 61.5h1.02M49 61.5h1.02M52 63.5h1.02M52 64.5h1.02M52 65.5h1.02M53 66.5h1.02M25 67.5h1.02M49 67.5h1.02M25 68.5h1.02M52 68.5h1.02M19 69.5h1.02M53 69.5h1.02M25 70.5h2.02M52 71.5h1.02M1 72.5h3.02M7 72.5h1.02M9 72.5h1.02M52 72.5h1.02M1 73.5h3.02M5 73.5h5.02M53 73.5h1.02M53 74.5h1.02M52 75.5h2.02M1 76.5h3.02M5 76.5h3.02M9 76.5h1.02M52 78.5h2.02M53 79.5h1.02M26 80.5h1.02M52 80.5h1.02M25 81.5h1.02M53 81.5h1.02M53 82.5h1.02M53 83.5h1.02M52 84.5h2.02M26 85.5h1.02M34 87.5h1.02M52 90.5h2.02M53 91.5h1.02M53 92.5h1.02M26 99.5h2.02M34 99.5h4.02M0 100.5h1.02M26 100.5h1.02M34 100.5h4.02M0 101.5h1.02M34 101.5h1.02M36 101.5h2.02M0 103.5h1.02M0 104.5h1.02M0 105.5h1.02M17 106.5h1.02M0 107.5h1.02M4 109.5h1.02M9 109.5h1.02M4 110.5h1.02M17 111.5h1.02M19 111.5h1.02M25 112.5h1.02M39 112.5h1.02M17 113.5h1.02M19 113.5h1.02M19 114.5h1.02M25 114.5h2.02M39 114.5h1.02M36 115.5h1.02M38 115.5h1.02M25 116.5h2.02M37 116.5h1.02M25 117.5h2.02M36 117.5h2.02M39 117.5h1.02M26 118.5h1.02M35 118.5h3.02M39 118.5h1.02M17 119.5h1.02M34 119.5h2.02M37 119.5h1.02M19 120.5h1.02M25 120.5h1.02M34 120.5h2.02M37 120.5h2.02M25 121.5h2.02M53 121.5h1.02M26 122.5h1.02M19 123.5h1.02M26 124.5h1.02M25 125.5h2.02M52 125.5h2.02M25 126.5h1.02M52 126.5h2.02M26 127.5h1.02M53 128.5h1.02M26 129.5h1.02M34 129.5h1.02M36 129.5h1.02M26 130.5h1.02M35 130.5h3.02M50 130.5h1.02M25 131.5h1.02M34 131.5h1.02M36 131.5h1.02M53 131.5h1.02M25 132.5h1.02M34 132.5h1.02M25 133.5h2.02M36 133.5h1.02M26 134.5h1.02M34 134.5h1.02M52 134.5h2.02M25 135.5h2.02M34 135.5h1.02M53 135.5h1.02M25 136.5h1.02M53 136.5h1.02"/>
<path stroke="#e45239" d="M102 0.5h1.02M106 0.5h1.02M121 0.5h2.02M125 0.5h2.02M128 0.5h9.02M47 1.5h2.02M47 2.5h2.02M47 4.5h1.02M72 4.5h2.02M76 4.5h1.02M47 5.5h2.02M72 5.5h1.02M47 6.5h1.02M72 6.5h1.02M47 7.5h1.02M72 8.5h1.02M76 8.5h1.02M47 9.5h1.02M39 10.5h1.02M41 10.5h1.02M44 10.5h2.02M50 10.5h2.02M50 11.5h2.02M39 12.5h1.02M42 12.5h1.02M15 14.5h1.02M17 14.5h20.02M38 14.5h2.02M41 14.5h2.02M44 14.5h8.02M14 15.5h1.02M14 17.5h1.02M59 17.5h1.02M14 18.5h1.02M59 18.5h1.02M14 19.5h1.02M14 20.5h1.02M14 21.5h1.02M27 21.5h3.02M31 21.5h1.02M74 21.5h1.02M14 22.5h1.02M29 22.5h3.02M14 23.5h1.02M29 23.5h1.02M74 23.5h1.02M14 24.5h1.02M51 24.5h1.02M56 24.5h1.02M68 24.5h1.02M70 24.5h1.02M99 24.5h1.02M115 24.5h2.02M118 24.5h1.02M125 24.5h1.02M128 24.5h8.02M14 25.5h1.02M50 25.5h1.02M54 25.5h2.02M57 25.5h1.02M60 25.5h2.02M66 25.5h1.02M71 25.5h2.02M76 25.5h1.02M80 25.5h1.02M83 25.5h3.02M91 25.5h1.02M98 25.5h3.02M113 25.5h1.02M115 25.5h1.02M118 25.5h2.02M122 25.5h1.02M124 25.5h1.02M127 25.5h3.02M14 26.5h1.02M42 26.5h1.02M45 26.5h1.02M49 26.5h2.02M54 26.5h2.02M58 26.5h1.02M67 26.5h2.02M72 26.5h1.02M76 26.5h1.02M78 26.5h1.02M81 26.5h1.02M84 26.5h1.02M86 26.5h1.02M90 26.5h1.02M92 26.5h1.02M95 26.5h1.02M97 26.5h2.02M101 26.5h1.02M112 26.5h1.02M115 26.5h1.02M119 26.5h2.02M123 26.5h1.02M126 26.5h1.02M131 26.5h2.02M136 26.5h1.02M14 27.5h1.02M21 27.5h1.02M57 27.5h1.02M14 28.5h1.02M21 28.5h1.02M55 28.5h1.02M57 28.5h1.02M99 28.5h2.02M14 29.5h1.02M21 29.5h3.02M54 29.5h2.02M57 29.5h1.02M99 29.5h3.02M130 29.5h1.02M14 30.5h1.02M22 30.5h1.02M55 30.5h2.02M58 30.5h1.02M99 30.5h1.02M101 30.5h2.02M14 31.5h1.02M21 31.5h2.02M56 31.5h3.02M100 31.5h1.02M130 31.5h1.02M14 32.5h1.02M54 32.5h1.02M57 32.5h1.02M99 32.5h2.02M14 33.5h1.02M54 33.5h2.02M57 33.5h1.02M60 33.5h1.02M99 33.5h3.02M14 34.5h1.02M48 34.5h2.02M60 34.5h1.02M67 34.5h1.02M81 34.5h1.02M83 34.5h4.02M88 34.5h1.02M90 34.5h2.02M93 34.5h1.02M95 34.5h1.02M102 34.5h1.02M133 34.5h1.02M136 34.5h1.02M14 35.5h1.02M41 35.5h1.02M44 35.5h2.02M47 35.5h1.02M49 35.5h1.02M51 35.5h1.02M61 35.5h1.02M81 35.5h1.02M84 35.5h1.02M94 35.5h1.02M101 35.5h2.02M115 35.5h1.02M129 35.5h1.02M131 35.5h4.02M136 35.5h1.02M14 36.5h1.02M44 36.5h1.02M47 36.5h3.02M51 36.5h1.02M58 36.5h1.02M89 36.5h1.02M102 36.5h1.02M119 36.5h1.02M132 36.5h1.02M134 36.5h3.02M40 37.5h1.02M45 37.5h1.02M47 37.5h1.02M49 37.5h1.02M51 37.5h1.02M58 37.5h1.02M61 37.5h1.02M81 37.5h1.02M102 37.5h1.02M115 37.5h1.02M129 37.5h1.02M131 37.5h3.02M135 37.5h2.02M14 38.5h1.02M40 38.5h1.02M45 38.5h1.02M47 38.5h1.02M51 38.5h1.02M55 38.5h1.02M57 38.5h2.02M99 38.5h1.02M101 38.5h1.02M117 38.5h3.02M129 38.5h2.02M132 38.5h1.02M134 38.5h1.02M136 38.5h1.02M10 39.5h1.02M12 39.5h1.02M14 39.5h1.02M40 39.5h3.02M57 39.5h3.02M81 39.5h1.02M84 39.5h1.02M113 39.5h1.02M115 39.5h2.02M119 39.5h2.02M37 40.5h3.02M44 40.5h3.02M49 40.5h3.02M60 40.5h1.02M75 40.5h1.02M10 41.5h1.02M14 41.5h1.02M35 41.5h1.02M39 41.5h1.02M42 41.5h1.02M45 41.5h3.02M49 41.5h1.02M51 41.5h1.02M56 41.5h1.02M60 41.5h1.02M75 41.5h1.02M90 41.5h1.02M12 42.5h1.02M14 42.5h1.02M26 42.5h1.02M39 42.5h1.02M41 42.5h1.02M47 42.5h1.02M50 42.5h1.02M52 42.5h1.02M90 42.5h1.02M129 42.5h1.02M53 43.5h1.02M10 44.5h1.02M14 44.5h1.02M35 44.5h2.02M40 44.5h1.02M10 45.5h1.02M14 45.5h1.02M26 45.5h1.02M35 45.5h1.02M37 45.5h2.02M40 45.5h2.02M14 46.5h1.02M40 46.5h2.02M1 47.5h2.02M4 47.5h4.02M9 47.5h1.02M14 47.5h1.02M35 47.5h4.02M41 47.5h2.02M1 48.5h2.02M5 48.5h1.02M14 48.5h1.02M34 48.5h1.02M36 48.5h1.02M14 49.5h1.02M26 49.5h1.02M34 49.5h4.02M40 49.5h2.02M64 49.5h3.02M68 49.5h4.02M74 49.5h2.02M80 49.5h1.02M130 49.5h1.02M10 50.5h2.02M14 50.5h1.02M25 50.5h2.02M40 50.5h1.02M42 50.5h1.02M61 50.5h1.02M64 50.5h2.02M76 50.5h1.02M80 50.5h2.02M10 51.5h2.02M14 51.5h1.02M24 51.5h1.02M35 51.5h4.02M40 51.5h2.02M80 51.5h1.02M42 52.5h1.02M62 52.5h1.02M69 52.5h1.02M74 52.5h1.02M76 52.5h1.02M79 52.5h1.02M82 52.5h2.02M91 52.5h2.02M121 52.5h4.02M127 52.5h3.02M131 52.5h1.02M133 52.5h1.02M135 52.5h1.02M43 53.5h1.02M62 53.5h1.02M76 53.5h2.02M89 53.5h1.02M93 53.5h1.02M99 53.5h2.02M105 53.5h1.02M122 53.5h3.02M129 53.5h2.02M132 53.5h2.02M25 54.5h2.02M29 54.5h1.02M32 54.5h2.02M61 54.5h1.02M65 54.5h1.02M70 54.5h2.02M74 54.5h1.02M80 54.5h2.02M25 55.5h2.02M28 55.5h3.02M33 55.5h1.02M38 55.5h1.02M24 56.5h1.02M30 56.5h2.02M41 56.5h1.02M104 56.5h1.02M25 57.5h1.02M27 57.5h3.02M31 57.5h3.02M38 57.5h2.02M103 57.5h2.02M26 58.5h1.02M30 58.5h2.02M36 58.5h4.02M104 58.5h1.02M17 59.5h2.02M39 59.5h1.02M25 60.5h1.02M33 60.5h2.02M40 60.5h2.02M25 61.5h1.02M35 61.5h1.02M37 61.5h1.02M50 61.5h1.02M54 61.5h1.02M52 62.5h2.02M49 64.5h2.02M49 65.5h2.02M54 65.5h1.02M25 66.5h1.02M49 66.5h1.02M26 67.5h1.02M34 67.5h1.02M24 68.5h1.02M26 68.5h1.02M49 68.5h1.02M49 69.5h1.02M52 69.5h1.02M24 70.5h1.02M49 70.5h1.02M54 70.5h1.02M25 71.5h1.02M49 71.5h1.02M54 71.5h1.02M4 72.5h3.02M8 72.5h1.02M25 72.5h2.02M4 73.5h1.02M21 74.5h1.02M23 74.5h1.02M49 74.5h1.02M52 74.5h1.02M54 74.5h1.02M40 75.5h2.02M49 75.5h1.02M4 76.5h1.02M8 76.5h1.02M25 76.5h2.02M50 76.5h1.02M52 76.5h2.02M53 77.5h1.02M26 78.5h1.02M52 79.5h1.02M25 80.5h1.02M49 80.5h3.02M54 80.5h1.02M26 81.5h1.02M34 81.5h2.02M37 81.5h1.02M39 81.5h1.02M50 81.5h1.02M54 81.5h1.02M52 82.5h1.02M25 83.5h1.02M34 83.5h1.02M52 83.5h1.02M25 84.5h2.02M34 84.5h2.02M39 84.5h1.02M25 85.5h1.02M34 85.5h1.02M26 86.5h1.02M34 86.5h1.02M34 88.5h1.02M36 89.5h1.02M53 89.5h1.02M26 90.5h1.02M34 90.5h1.02M41 90.5h2.02M25 91.5h1.02M34 91.5h1.02M52 91.5h1.02M26 92.5h1.02M52 92.5h1.02M34 93.5h1.02M53 93.5h1.02M35 94.5h1.02M26 95.5h1.02M34 95.5h1.02M26 97.5h1.02M25 98.5h2.02M24 99.5h2.02M28 99.5h3.02M32 99.5h2.02M38 99.5h1.02M53 99.5h1.02M25 100.5h1.02M28 100.5h2.02M31 100.5h3.02M53 100.5h1.02M26 101.5h1.02M29 101.5h2.02M33 101.5h1.02M35 101.5h1.02M38 101.5h1.02M0 102.5h1.02M30 102.5h1.02M34 102.5h4.02M57 103.5h1.02M56 104.5h3.02M53 105.5h1.02M0 106.5h1.02M26 112.5h1.02M25 113.5h1.02M39 113.5h1.02M24 115.5h3.02M35 115.5h1.02M37 115.5h1.02M39 115.5h1.02M24 116.5h1.02M39 116.5h1.02M38 117.5h1.02M24 118.5h2.02M38 118.5h1.02M25 119.5h2.02M36 119.5h1.02M38 119.5h2.02M26 120.5h1.02M39 120.5h1.02M0 121.5h1.02M52 121.5h1.02M0 122.5h1.02M25 122.5h1.02M52 122.5h2.02M26 123.5h1.02M52 123.5h2.02M25 124.5h1.02M52 124.5h2.02M0 125.5h1.02M24 125.5h1.02M0 126.5h1.02M26 126.5h1.02M25 127.5h1.02M52 127.5h1.02M0 128.5h1.02M24 128.5h2.02M52 128.5h1.02M0 129.5h1.02M24 129.5h2.02M35 129.5h1.02M37 129.5h2.02M42 129.5h1.02M52 129.5h2.02M0 130.5h1.02M24 130.5h1.02M29 130.5h1.02M31 130.5h1.02M38 130.5h1.02M49 130.5h1.02M53 130.5h1.02M0 131.5h1.02M24 131.5h1.02M26 131.5h1.02M35 131.5h1.02M37 131.5h1.02M52 131.5h1.02M0 132.5h1.02M24 132.5h1.02M26 132.5h1.02M35 132.5h4.02M53 132.5h1.02M0 133.5h1.02M24 133.5h1.02M34 133.5h2.02M37 133.5h1.02M52 133.5h2.02M0 134.5h1.02M24 134.5h1.02M35 134.5h2.02M38 134.5h1.02M0 135.5h1.02M24 135.5h1.02M36 135.5h2.02M52 135.5h1.02M0 136.5h1.02M26 136.5h1.02M34 136.5h5.02"/>
<path stroke="#eb6342" d="M108 0.5h1.02M49 1.5h1.02M108 1.5h1.02M49 2.5h1.02M108 2.5h1.02M49 3.5h1.02M108 3.5h1.02M49 5.5h1.02M108 5.5h1.02M49 6.5h1.02M49 7.5h1.02M108 7.5h1.02M49 9.5h1.02M108 9.5h1.02M100 10.5h3.02M104 10.5h2.02M107 10.5h3.02M115 10.5h2.02M121 10.5h2.02M124 10.5h3.02M128 10.5h4.02M133 10.5h3.02M100 11.5h1.02M105 11.5h1.02M107 11.5h3.02M116 11.5h2.02M122 11.5h1.02M125 11.5h2.02M128 11.5h4.02M133 11.5h1.02M135 11.5h1.02M101 12.5h1.02M105 12.5h1.02M116 12.5h2.02M122 12.5h1.02M125 12.5h1.02M130 12.5h1.02M132 12.5h3.02M136 12.5h1.02M15 13.5h2.02M25 13.5h2.02M28 13.5h1.02M30 13.5h1.02M33 13.5h2.02M36 13.5h1.02M44 13.5h2.02M47 13.5h1.02M50 13.5h2.02M61 14.5h1.02M63 14.5h18.02M82 14.5h2.02M13 15.5h1.02M18 15.5h1.02M25 15.5h2.02M28 15.5h2.02M31 15.5h1.02M52 15.5h1.02M98 15.5h1.02M13 16.5h1.02M26 16.5h1.02M98 16.5h1.02M15 18.5h1.02M98 19.5h1.02M98 20.5h1.02M35 21.5h4.02M37 22.5h2.02M75 22.5h1.02M36 23.5h2.02M42 24.5h2.02M47 24.5h2.02M60 24.5h3.02M78 24.5h2.02M92 24.5h2.02M97 24.5h1.02M13 25.5h1.02M15 25.5h1.02M62 25.5h1.02M104 25.5h2.02M107 25.5h3.02M13 26.5h1.02M15 26.5h2.02M62 26.5h1.02M104 26.5h2.02M107 26.5h4.02M43 27.5h1.02M45 27.5h1.02M49 27.5h1.02M51 27.5h1.02M62 27.5h1.02M87 27.5h1.02M91 27.5h3.02M95 27.5h1.02M112 27.5h1.02M114 27.5h2.02M117 27.5h2.02M122 27.5h1.02M124 27.5h4.02M129 27.5h1.02M131 27.5h2.02M135 27.5h2.02M13 28.5h1.02M15 28.5h1.02M43 28.5h1.02M67 28.5h1.02M85 28.5h2.02M91 28.5h1.02M114 28.5h1.02M118 28.5h2.02M121 28.5h1.02M123 28.5h1.02M126 28.5h1.02M131 28.5h2.02M136 28.5h1.02M15 29.5h1.02M62 29.5h1.02M66 29.5h1.02M71 29.5h1.02M88 29.5h1.02M91 29.5h1.02M93 29.5h2.02M115 29.5h1.02M117 29.5h1.02M131 29.5h3.02M136 29.5h1.02M13 30.5h1.02M47 30.5h2.02M67 30.5h1.02M85 30.5h1.02M87 30.5h1.02M91 30.5h2.02M94 30.5h2.02M112 30.5h1.02M114 30.5h2.02M119 30.5h2.02M123 30.5h1.02M126 30.5h2.02M136 30.5h1.02M15 31.5h1.02M43 31.5h1.02M62 31.5h1.02M85 31.5h2.02M88 31.5h1.02M91 31.5h1.02M114 31.5h2.02M117 31.5h2.02M120 31.5h1.02M132 31.5h1.02M43 32.5h2.02M47 32.5h2.02M62 32.5h1.02M91 32.5h1.02M93 32.5h2.02M114 32.5h2.02M118 32.5h2.02M123 32.5h2.02M127 32.5h2.02M132 32.5h2.02M135 32.5h2.02M13 33.5h1.02M43 33.5h1.02M48 33.5h1.02M62 33.5h1.02M86 33.5h3.02M91 33.5h1.02M93 33.5h2.02M115 33.5h1.02M119 33.5h3.02M124 33.5h1.02M127 33.5h1.02M134 33.5h1.02M13 34.5h1.02M69 34.5h1.02M72 34.5h2.02M123 34.5h1.02M126 34.5h3.02M21 35.5h1.02M46 35.5h1.02M71 35.5h3.02M110 35.5h1.02M113 35.5h1.02M125 35.5h1.02M128 35.5h1.02M13 36.5h1.02M21 36.5h1.02M23 36.5h1.02M46 36.5h1.02M68 36.5h1.02M71 36.5h2.02M110 36.5h1.02M113 36.5h2.02M121 36.5h1.02M125 36.5h2.02M21 37.5h3.02M65 37.5h1.02M71 37.5h1.02M82 37.5h1.02M91 37.5h1.02M114 37.5h1.02M128 37.5h1.02M21 38.5h2.02M46 38.5h1.02M66 38.5h1.02M70 38.5h1.02M82 38.5h1.02M93 38.5h2.02M110 38.5h1.02M114 38.5h1.02M73 39.5h2.02M76 39.5h1.02M93 39.5h1.02M125 39.5h1.02M132 39.5h1.02M134 39.5h2.02M63 40.5h2.02M66 40.5h1.02M71 40.5h4.02M93 40.5h1.02M96 40.5h1.02M103 40.5h1.02M126 40.5h1.02M128 40.5h1.02M132 40.5h2.02M135 40.5h1.02M63 41.5h1.02M66 41.5h1.02M69 41.5h1.02M72 41.5h2.02M92 41.5h1.02M94 41.5h1.02M103 41.5h1.02M106 41.5h1.02M112 41.5h1.02M118 41.5h1.02M122 41.5h1.02M124 41.5h3.02M128 41.5h1.02M131 41.5h1.02M24 42.5h1.02M58 42.5h1.02M71 42.5h1.02M91 42.5h1.02M96 42.5h3.02M103 42.5h2.02M106 42.5h1.02M113 42.5h1.02M115 42.5h1.02M118 42.5h3.02M127 42.5h1.02M24 43.5h1.02M27 43.5h2.02M31 43.5h3.02M44 43.5h1.02M54 43.5h1.02M59 43.5h2.02M91 43.5h1.02M93 43.5h2.02M101 43.5h1.02M104 43.5h2.02M108 43.5h1.02M122 43.5h1.02M126 43.5h1.02M128 43.5h1.02M131 43.5h5.02M13 44.5h1.02M32 44.5h1.02M43 44.5h1.02M13 45.5h1.02M27 45.5h1.02M50 45.5h1.02M52 45.5h1.02M35 46.5h2.02M38 46.5h1.02M50 46.5h3.02M70 46.5h1.02M80 46.5h1.02M13 47.5h1.02M24 47.5h1.02M30 47.5h1.02M32 47.5h1.02M49 47.5h1.02M51 47.5h1.02M70 47.5h1.02M24 48.5h1.02M30 48.5h1.02M32 48.5h2.02M52 48.5h1.02M81 48.5h1.02M88 48.5h1.02M1 49.5h3.02M5 49.5h3.02M9 49.5h1.02M27 49.5h1.02M47 49.5h1.02M50 49.5h2.02M82 49.5h1.02M90 49.5h3.02M95 49.5h1.02M111 49.5h1.02M113 49.5h1.02M115 49.5h1.02M128 49.5h1.02M13 50.5h1.02M45 50.5h2.02M49 50.5h1.02M57 50.5h1.02M102 50.5h1.02M104 50.5h1.02M113 50.5h1.02M118 50.5h2.02M121 50.5h2.02M13 51.5h1.02M27 51.5h1.02M46 51.5h2.02M49 51.5h1.02M57 51.5h1.02M62 51.5h1.02M69 51.5h1.02M77 51.5h1.02M102 51.5h3.02M106 51.5h2.02M109 51.5h1.02M113 51.5h2.02M118 51.5h1.02M120 51.5h3.02M136 51.5h1.02M15 52.5h1.02M45 52.5h2.02M48 52.5h1.02M98 52.5h1.02M101 52.5h2.02M109 52.5h1.02M117 52.5h1.02M120 52.5h1.02M115 53.5h1.02M119 53.5h1.02M43 54.5h1.02M107 54.5h1.02M118 54.5h1.02M120 54.5h5.02M126 54.5h2.02M131 54.5h1.02M135 54.5h2.02M70 55.5h1.02M77 56.5h1.02M79 56.5h1.02M90 56.5h1.02M92 56.5h1.02M50 57.5h2.02M62 57.5h1.02M76 57.5h1.02M79 57.5h1.02M90 57.5h1.02M42 58.5h1.02M61 58.5h1.02M63 58.5h1.02M74 58.5h1.02M76 58.5h1.02M78 58.5h2.02M84 58.5h1.02M43 59.5h1.02M24 60.5h1.02M43 60.5h1.02M117 60.5h1.02M14 61.5h1.02M24 61.5h1.02M58 61.5h1.02M24 62.5h4.02M29 62.5h1.02M31 62.5h3.02M51 62.5h1.02M57 62.5h1.02M14 63.5h1.02M40 63.5h2.02M58 63.5h1.02M14 64.5h1.02M40 64.5h1.02M14 65.5h1.02M37 65.5h1.02M14 66.5h1.02M29 66.5h1.02M38 66.5h1.02M40 66.5h2.02M14 67.5h1.02M28 67.5h1.02M30 67.5h1.02M14 68.5h1.02M36 68.5h1.02M14 69.5h1.02M34 69.5h1.02M41 69.5h1.02M51 69.5h1.02M14 70.5h1.02M38 70.5h1.02M46 70.5h2.02M55 70.5h1.02M14 71.5h1.02M29 71.5h1.02M35 71.5h3.02M40 71.5h1.02M42 71.5h1.02M14 72.5h1.02M34 72.5h3.02M40 72.5h2.02M14 73.5h1.02M34 73.5h2.02M39 73.5h3.02M14 74.5h1.02M39 74.5h2.02M58 74.5h1.02M115 74.5h1.02M119 74.5h1.02M129 74.5h1.02M133 74.5h1.02M14 75.5h1.02M22 75.5h1.02M115 75.5h1.02M117 75.5h1.02M120 75.5h1.02M129 75.5h1.02M131 75.5h1.02M14 76.5h1.02M39 76.5h1.02M57 76.5h2.02M14 77.5h1.02M51 77.5h1.02M56 77.5h1.02M14 78.5h1.02M24 78.5h1.02M58 78.5h1.02M14 79.5h1.02M24 79.5h1.02M56 79.5h3.02M14 80.5h1.02M46 80.5h1.02M115 80.5h1.02M48 81.5h1.02M14 82.5h1.02M37 82.5h2.02M49 82.5h1.02M14 83.5h1.02M58 84.5h1.02M28 85.5h1.02M30 85.5h2.02M28 86.5h1.02M31 86.5h1.02M33 86.5h1.02M27 87.5h1.02M30 87.5h1.02M33 87.5h1.02M29 88.5h1.02M31 88.5h1.02M33 88.5h1.02M48 88.5h1.02M49 90.5h1.02M56 90.5h2.02M117 90.5h2.02M27 91.5h7.02M37 91.5h1.02M42 91.5h2.02M49 91.5h1.02M24 92.5h1.02M27 92.5h1.02M30 92.5h1.02M41 92.5h1.02M49 92.5h1.02M56 92.5h1.02M24 93.5h1.02M27 93.5h1.02M29 93.5h1.02M32 93.5h2.02M38 93.5h3.02M43 93.5h1.02M29 94.5h2.02M32 94.5h2.02M38 94.5h1.02M41 94.5h1.02M43 94.5h1.02M27 95.5h1.02M30 95.5h1.02M49 95.5h1.02M40 96.5h1.02M42 96.5h1.02M24 97.5h1.02M42 97.5h1.02M15 98.5h2.02M19 98.5h2.02M42 98.5h1.02M52 98.5h1.02M10 100.5h2.02M10 101.5h1.02M12 101.5h1.02M43 101.5h1.02M52 101.5h1.02M10 102.5h1.02M50 102.5h3.02M40 103.5h3.02M51 103.5h1.02M10 104.5h1.02M25 104.5h2.02M42 104.5h2.02M50 104.5h2.02M10 105.5h3.02M25 105.5h2.02M43 105.5h1.02M41 106.5h2.02M51 106.5h1.02M10 107.5h2.02M25 107.5h2.02M51 107.5h1.02M54 107.5h1.02M0 108.5h4.02M5 108.5h1.02M7 108.5h1.02M9 108.5h3.02M25 108.5h2.02M43 108.5h1.02M116 108.5h1.02M129 108.5h1.02M132 108.5h1.02M10 109.5h2.02M25 109.5h2.02M51 109.5h2.02M26 110.5h1.02M35 110.5h2.02M38 110.5h1.02M49 111.5h1.02M27 112.5h1.02M30 112.5h1.02M41 112.5h1.02M35 113.5h2.02M42 113.5h1.02M49 113.5h3.02M27 114.5h2.02M30 114.5h3.02M36 114.5h3.02M51 114.5h1.02M10 115.5h1.02M27 115.5h1.02M29 115.5h5.02M42 115.5h1.02M49 115.5h1.02M53 115.5h1.02M74 115.5h2.02M80 115.5h1.02M10 116.5h3.02M108 116.5h1.02M11 117.5h2.02M27 117.5h1.02M29 117.5h1.02M31 117.5h1.02M52 117.5h1.02M60 117.5h1.02M75 117.5h1.02M90 117.5h1.02M27 118.5h2.02M31 118.5h2.02M41 118.5h2.02M50 118.5h2.02M54 118.5h1.02M90 118.5h1.02M28 119.5h1.02M30 119.5h1.02M32 119.5h2.02M42 119.5h1.02M50 119.5h1.02M53 119.5h1.02M74 119.5h1.02M30 120.5h2.02M33 120.5h1.02M42 120.5h1.02M51 120.5h2.02M54 120.5h1.02M75 120.5h1.02M10 121.5h1.02M28 121.5h1.02M33 121.5h1.02M36 121.5h1.02M50 121.5h2.02M54 121.5h1.02M10 122.5h3.02M27 122.5h1.02M41 122.5h1.02M43 122.5h1.02M50 122.5h2.02M54 122.5h1.02M28 123.5h1.02M30 123.5h1.02M32 123.5h1.02M34 123.5h1.02M54 123.5h1.02M10 124.5h1.02M27 124.5h1.02M32 124.5h2.02M41 124.5h1.02M54 124.5h1.02M10 125.5h3.02M27 125.5h1.02M35 125.5h2.02M39 125.5h1.02M41 125.5h1.02M10 126.5h2.02M27 126.5h2.02M30 126.5h1.02M34 126.5h1.02M36 126.5h1.02M40 126.5h2.02M43 126.5h1.02M54 126.5h1.02M27 127.5h1.02M30 127.5h1.02M32 127.5h3.02M42 127.5h1.02M54 127.5h1.02M10 128.5h2.02M32 128.5h1.02M34 128.5h2.02M37 128.5h1.02M40 128.5h2.02M43 128.5h1.02M49 128.5h1.02M10 129.5h2.02M27 129.5h1.02M74 129.5h2.02M108 129.5h1.02M10 130.5h3.02M10 131.5h2.02M27 131.5h3.02M41 131.5h1.02M43 131.5h1.02M54 131.5h1.02M75 131.5h1.02M12 132.5h1.02M27 132.5h3.02M31 132.5h2.02M39 132.5h2.02M43 132.5h1.02M108 132.5h1.02M10 133.5h3.02M29 133.5h1.02M32 133.5h1.02M40 133.5h1.02M43 133.5h1.02M74 133.5h1.02M10 134.5h1.02M12 134.5h1.02M33 134.5h1.02M39 134.5h1.02M43 134.5h1.02M10 135.5h2.02M27 135.5h1.02M32 135.5h1.02M39 135.5h2.02M43 135.5h1.02M54 135.5h1.02M12 136.5h1.02M27 136.5h4.02M32 136.5h1.02M51 136.5h1.02M54 136.5h1.02"/>
<path stroke="#e04733" d="M109 0.5h2.02M109 1.5h2.02M109 2.5h2.02M69 3.5h1.02M109 3.5h2.02M126 3.5h1.02M131 3.5h2.02M69 4.5h1.02M121 4.5h1.02M123 4.5h2.02M127 4.5h2.02M131 4.5h1.02M136 4.5h1.02M69 5.5h1.02M109 5.5h2.02M131 5.5h2.02M136 5.5h1.02M68 6.5h1.02M109 6.5h2.02M121 6.5h1.02M123 6.5h1.02M127 6.5h1.02M109 7.5h2.02M123 7.5h2.02M127 7.5h1.02M69 8.5h1.02M109 8.5h2.02M122 8.5h3.02M126 8.5h2.02M129 8.5h1.02M134 8.5h3.02M110 9.5h1.02M121 9.5h1.02M123 9.5h1.02M132 9.5h1.02M134 9.5h1.02M15 10.5h2.02M18 10.5h5.02M25 10.5h7.02M33 10.5h4.02M15 11.5h1.02M17 11.5h1.02M20 11.5h1.02M22 11.5h1.02M25 11.5h1.02M29 11.5h1.02M31 11.5h1.02M34 11.5h1.02M37 11.5h1.02M18 12.5h3.02M25 12.5h2.02M30 12.5h1.02M34 12.5h1.02M36 12.5h1.02M10 15.5h2.02M62 15.5h2.02M66 15.5h1.02M69 15.5h1.02M72 15.5h1.02M78 15.5h1.02M92 15.5h1.02M103 15.5h1.02M106 15.5h1.02M113 15.5h1.02M115 15.5h1.02M119 15.5h1.02M127 15.5h1.02M10 16.5h1.02M43 16.5h1.02M48 16.5h1.02M57 16.5h2.02M62 16.5h2.02M65 16.5h1.02M68 16.5h2.02M72 16.5h1.02M76 16.5h3.02M82 16.5h1.02M87 16.5h1.02M91 16.5h2.02M94 16.5h1.02M96 16.5h1.02M103 16.5h1.02M107 16.5h1.02M111 16.5h1.02M113 16.5h3.02M118 16.5h1.02M120 16.5h1.02M123 16.5h2.02M127 16.5h1.02M132 16.5h1.02M136 16.5h1.02M11 17.5h1.02M40 17.5h1.02M43 17.5h1.02M62 17.5h3.02M69 17.5h1.02M73 17.5h1.02M78 17.5h1.02M87 17.5h1.02M91 17.5h1.02M93 17.5h5.02M102 17.5h2.02M107 17.5h1.02M109 17.5h2.02M112 17.5h1.02M114 17.5h3.02M118 17.5h1.02M120 17.5h2.02M123 17.5h2.02M126 17.5h2.02M133 17.5h2.02M136 17.5h1.02M10 18.5h1.02M12 18.5h1.02M93 18.5h2.02M103 18.5h1.02M106 18.5h1.02M111 18.5h1.02M117 18.5h1.02M119 18.5h3.02M123 18.5h1.02M127 18.5h1.02M136 18.5h1.02M10 19.5h1.02M12 19.5h1.02M43 19.5h1.02M62 19.5h1.02M66 19.5h1.02M72 19.5h1.02M89 19.5h1.02M96 19.5h1.02M99 19.5h1.02M102 19.5h3.02M106 19.5h1.02M112 19.5h1.02M115 19.5h1.02M117 19.5h3.02M121 19.5h1.02M124 19.5h1.02M126 19.5h1.02M128 19.5h2.02M132 19.5h2.02M10 20.5h3.02M72 20.5h1.02M78 20.5h1.02M91 20.5h1.02M102 20.5h3.02M106 20.5h1.02M110 20.5h6.02M117 20.5h3.02M123 20.5h1.02M127 20.5h2.02M135 20.5h2.02M10 21.5h1.02M10 22.5h2.02M74 22.5h1.02M10 25.5h3.02M39 25.5h1.02M41 25.5h1.02M53 25.5h1.02M130 25.5h1.02M134 25.5h1.02M10 26.5h1.02M12 26.5h1.02M39 26.5h1.02M41 26.5h1.02M53 26.5h1.02M128 26.5h1.02M10 27.5h1.02M39 27.5h1.02M10 28.5h1.02M39 28.5h1.02M10 29.5h2.02M40 29.5h1.02M53 29.5h1.02M10 30.5h1.02M12 30.5h1.02M39 30.5h1.02M41 30.5h1.02M53 30.5h1.02M10 31.5h2.02M39 31.5h1.02M41 31.5h1.02M39 32.5h1.02M10 33.5h1.02M39 33.5h3.02M53 33.5h1.02M10 34.5h3.02M41 34.5h1.02M54 34.5h3.02M115 34.5h4.02M130 34.5h1.02M10 35.5h1.02M55 35.5h2.02M116 35.5h2.02M10 36.5h1.02M12 36.5h1.02M41 36.5h1.02M57 36.5h1.02M116 36.5h1.02M120 36.5h1.02M11 37.5h1.02M53 37.5h1.02M53 38.5h1.02M116 38.5h1.02M25 39.5h4.02M30 39.5h4.02M52 39.5h2.02M17 40.5h1.02M29 40.5h1.02M33 40.5h1.02M25 41.5h2.02M30 41.5h2.02M33 41.5h2.02M36 41.5h1.02M16 43.5h2.02M19 43.5h1.02M16 48.5h1.02M52 50.5h2.02M52 51.5h1.02M39 52.5h1.02M50 52.5h2.02M61 52.5h1.02M66 52.5h2.02M70 52.5h1.02M73 52.5h1.02M81 52.5h1.02M130 52.5h1.02M25 53.5h2.02M29 53.5h2.02M33 53.5h1.02M37 53.5h3.02M50 53.5h1.02M61 53.5h1.02M63 53.5h3.02M67 53.5h2.02M70 53.5h3.02M34 54.5h1.02M34 55.5h2.02M34 56.5h2.02M16 57.5h1.02M36 57.5h1.02M16 58.5h1.02M52 61.5h2.02M15 62.5h3.02M19 62.5h1.02M15 63.5h3.02M53 63.5h1.02M17 64.5h1.02M53 64.5h1.02M16 65.5h1.02M53 65.5h1.02M15 66.5h1.02M19 66.5h1.02M52 66.5h1.02M52 67.5h2.02M6 68.5h1.02M16 68.5h1.02M53 68.5h1.02M3 69.5h3.02M8 69.5h1.02M15 69.5h3.02M52 70.5h2.02M53 71.5h1.02M15 72.5h2.02M19 72.5h2.02M53 72.5h1.02M17 73.5h1.02M52 73.5h1.02M22 74.5h1.02M16 76.5h1.02M16 77.5h1.02M15 78.5h3.02M20 78.5h1.02M52 81.5h1.02M16 82.5h1.02M16 87.5h2.02M19 89.5h1.02M16 91.5h2.02M20 91.5h1.02M15 92.5h2.02M17 93.5h2.02M16 94.5h3.02M17 95.5h1.02M16 96.5h2.02M19 96.5h1.02M17 97.5h1.02M19 99.5h1.02M17 102.5h1.02M19 102.5h2.02M15 103.5h6.02M19 104.5h2.02M15 106.5h1.02M18 106.5h3.02M16 107.5h2.02M0 109.5h4.02M5 109.5h4.02M17 109.5h1.02M0 110.5h4.02M5 110.5h5.02M17 110.5h1.02M20 110.5h1.02M16 111.5h1.02M18 111.5h1.02M20 111.5h1.02M17 112.5h1.02M19 112.5h2.02M15 113.5h2.02M20 113.5h1.02M16 114.5h2.02M20 114.5h1.02M15 115.5h3.02M19 115.5h2.02M34 115.5h1.02M17 116.5h1.02M34 116.5h3.02M38 116.5h1.02M18 117.5h3.02M34 117.5h2.02M16 118.5h2.02M19 118.5h2.02M34 118.5h1.02M15 119.5h1.02M18 119.5h3.02M16 120.5h3.02M36 120.5h1.02M4 121.5h1.02M6 121.5h1.02M9 121.5h1.02M17 121.5h3.02M8 122.5h1.02M4 123.5h1.02M6 123.5h4.02M16 123.5h3.02M20 123.5h1.02M4 124.5h1.02M7 124.5h2.02M16 124.5h2.02M19 124.5h1.02M3 126.5h1.02M8 126.5h1.02M17 126.5h1.02M19 126.5h1.02M4 127.5h1.02M6 127.5h3.02M15 127.5h4.02M20 127.5h1.02M4 128.5h1.02M19 128.5h2.02M26 128.5h1.02M8 129.5h1.02M19 129.5h1.02M25 130.5h1.02M34 130.5h1.02M52 130.5h1.02M3 131.5h3.02M3 132.5h1.02M5 132.5h1.02M9 132.5h1.02M16 132.5h1.02M19 132.5h1.02M17 133.5h1.02M19 133.5h1.02M8 134.5h2.02M17 134.5h1.02M25 134.5h1.02M8 135.5h1.02M20 135.5h1.02M4 136.5h2.02M8 136.5h1.02M16 136.5h3.02M20 136.5h1.02"/>
<path stroke="#fc9f65" d="M113 0.5h1.02M113 2.5h1.02M113 3.5h1.02M55 4.5h1.02M88 4.5h1.02M96 4.5h1.02M113 4.5h1.02M96 6.5h1.02M113 6.5h1.02M96 7.5h1.02M113 7.5h1.02M96 8.5h1.02M113 9.5h1.02M78 12.5h1.02M115 13.5h7.02M123 13.5h2.02M127 13.5h2.02M88 14.5h1.02M22 15.5h1.02M22 16.5h1.02M26 18.5h1.02M25 20.5h1.02M15 22.5h2.02M20 25.5h1.02M18 26.5h1.02M77 35.5h2.02M77 36.5h2.02M76 37.5h1.02M80 38.5h1.02M61 39.5h1.02M62 45.5h2.02M125 46.5h1.02M62 48.5h2.02M91 54.5h1.02M112 54.5h1.02M4 55.5h1.02M104 55.5h1.02M107 55.5h1.02M109 55.5h1.02M118 55.5h1.02M120 55.5h1.02M122 55.5h1.02M124 55.5h1.02M127 55.5h1.02M132 55.5h1.02M136 55.5h1.02M106 56.5h1.02M133 56.5h1.02M108 57.5h1.02M115 57.5h1.02M63 59.5h1.02M71 59.5h3.02M75 59.5h1.02M77 59.5h1.02M83 59.5h1.02M126 60.5h2.02M39 61.5h1.02M122 61.5h1.02M45 62.5h1.02M48 62.5h1.02M108 62.5h1.02M113 62.5h2.02M117 62.5h1.02M45 63.5h1.02M48 63.5h1.02M59 63.5h1.02M117 63.5h1.02M100 64.5h1.02M122 64.5h1.02M124 64.5h1.02M93 69.5h1.02M83 70.5h1.02M125 70.5h2.02M128 70.5h2.02M132 70.5h1.02M59 71.5h1.02M122 71.5h1.02M128 71.5h2.02M59 72.5h1.02M91 72.5h1.02M95 72.5h1.02M59 73.5h1.02M91 73.5h1.02M84 74.5h1.02M105 74.5h1.02M59 75.5h1.02M37 76.5h1.02M129 76.5h1.02M132 76.5h1.02M35 77.5h2.02M59 77.5h1.02M129 77.5h1.02M131 77.5h1.02M133 77.5h1.02M12 78.5h1.02M35 78.5h2.02M131 78.5h1.02M90 79.5h1.02M99 79.5h1.02M125 79.5h1.02M132 79.5h2.02M38 80.5h1.02M83 80.5h1.02M89 80.5h1.02M101 80.5h1.02M125 80.5h1.02M128 80.5h1.02M82 81.5h1.02M92 81.5h1.02M94 81.5h1.02M81 82.5h1.02M92 82.5h1.02M94 82.5h1.02M100 82.5h1.02M59 83.5h1.02M70 83.5h1.02M80 83.5h1.02M93 83.5h3.02M98 83.5h1.02M102 83.5h1.02M105 83.5h2.02M74 84.5h1.02M93 84.5h1.02M96 84.5h1.02M107 84.5h2.02M121 84.5h1.02M105 85.5h1.02M130 85.5h1.02M4 88.5h1.02M14 88.5h1.02M103 88.5h1.02M80 89.5h1.02M100 89.5h1.02M107 89.5h1.02M131 89.5h1.02M133 89.5h1.02M79 90.5h1.02M100 90.5h1.02M106 90.5h1.02M54 91.5h1.02M72 91.5h2.02M107 91.5h1.02M129 91.5h1.02M134 91.5h2.02M81 92.5h2.02M99 92.5h2.02M106 92.5h1.02M117 92.5h1.02M125 92.5h1.02M129 92.5h2.02M132 92.5h1.02M134 92.5h1.02M69 93.5h1.02M83 93.5h2.02M104 93.5h2.02M107 93.5h1.02M113 93.5h2.02M117 93.5h1.02M125 93.5h1.02M133 93.5h1.02M135 93.5h1.02M81 94.5h3.02M99 94.5h2.02M103 94.5h2.02M106 94.5h2.02M117 94.5h1.02M122 94.5h1.02M125 94.5h2.02M72 95.5h1.02M83 95.5h1.02M106 95.5h1.02M118 95.5h1.02M123 95.5h1.02M128 95.5h1.02M133 95.5h1.02M4 96.5h1.02M6 96.5h3.02M84 96.5h1.02M101 96.5h2.02M105 96.5h1.02M100 97.5h1.02M105 97.5h1.02M107 97.5h1.02M116 97.5h1.02M83 98.5h1.02M101 98.5h1.02M79 99.5h1.02M92 99.5h1.02M94 99.5h1.02M64 100.5h1.02M82 100.5h1.02M89 100.5h2.02M92 100.5h1.02M94 100.5h1.02M97 100.5h1.02M80 101.5h1.02M96 101.5h1.02M98 101.5h1.02M83 102.5h1.02M96 102.5h1.02M88 103.5h1.02M94 103.5h1.02M113 103.5h1.02M136 103.5h1.02M55 104.5h1.02M93 104.5h2.02M74 105.5h1.02M83 105.5h1.02M85 105.5h1.02M93 105.5h1.02M96 105.5h2.02M132 105.5h1.02M56 106.5h1.02M83 106.5h1.02M90 106.5h1.02M92 106.5h1.02M94 106.5h2.02M55 107.5h1.02M84 107.5h1.02M89 107.5h1.02M91 107.5h1.02M93 107.5h2.02M97 107.5h1.02M57 108.5h1.02M62 108.5h1.02M84 108.5h1.02M109 108.5h2.02M55 109.5h1.02M108 109.5h1.02M108 110.5h1.02M54 112.5h1.02M116 112.5h1.02M0 113.5h1.02M2 113.5h3.02M6 113.5h2.02M9 113.5h1.02M62 113.5h1.02M93 113.5h1.02M103 113.5h1.02M62 114.5h1.02M93 114.5h1.02M130 114.5h1.02M13 115.5h1.02M57 115.5h1.02M13 116.5h1.02M97 116.5h1.02M112 116.5h1.02M13 117.5h1.02M62 117.5h2.02M92 117.5h3.02M13 118.5h1.02M55 118.5h1.02M95 118.5h1.02M13 119.5h1.02M13 120.5h1.02M55 120.5h1.02M13 121.5h1.02M84 121.5h1.02M55 122.5h1.02M61 122.5h1.02M64 122.5h1.02M71 122.5h1.02M94 122.5h1.02M13 123.5h1.02M95 123.5h1.02M13 124.5h1.02M55 124.5h1.02M64 124.5h1.02M46 125.5h1.02M70 125.5h1.02M79 125.5h2.02M92 125.5h3.02M60 126.5h1.02M70 126.5h1.02M94 126.5h1.02M13 127.5h1.02M55 127.5h1.02M60 127.5h1.02M13 128.5h1.02M70 128.5h2.02M80 128.5h1.02M95 128.5h1.02M70 129.5h2.02M76 129.5h2.02M91 129.5h2.02M85 130.5h1.02M92 130.5h1.02M114 130.5h1.02M77 131.5h2.02M89 131.5h1.02M55 132.5h1.02M70 132.5h1.02M76 132.5h1.02M79 132.5h1.02M92 132.5h1.02M105 132.5h1.02M56 133.5h1.02M77 133.5h1.02M79 133.5h1.02M89 133.5h1.02M93 133.5h1.02M95 133.5h1.02M91 134.5h2.02M91 135.5h1.02M93 135.5h1.02M55 136.5h1.02M103 136.5h1.02"/>
<path stroke="#fb8a57" d="M118 0.5h1.02M119 3.5h1.02M87 4.5h1.02M118 4.5h2.02M119 5.5h1.02M119 6.5h1.02M87 7.5h1.02M119 7.5h1.02M87 8.5h1.02M118 8.5h2.02M120 11.5h1.02M120 12.5h1.02M99 13.5h1.02M104 13.5h2.02M108 13.5h3.02M31 18.5h1.02M32 20.5h1.02M25 23.5h1.02M23 25.5h1.02M78 27.5h2.02M82 27.5h1.02M84 27.5h1.02M105 27.5h1.02M107 27.5h2.02M77 28.5h2.02M104 28.5h2.02M108 28.5h2.02M77 29.5h1.02M104 29.5h1.02M106 29.5h1.02M64 30.5h1.02M77 30.5h3.02M82 30.5h1.02M111 30.5h1.02M18 31.5h1.02M78 31.5h1.02M104 31.5h1.02M106 31.5h1.02M20 32.5h1.02M65 32.5h1.02M77 32.5h1.02M89 32.5h1.02M103 32.5h2.02M106 32.5h2.02M111 32.5h1.02M65 33.5h1.02M76 33.5h2.02M108 33.5h2.02M80 34.5h1.02M111 34.5h1.02M80 35.5h1.02M62 36.5h1.02M111 36.5h2.02M62 38.5h2.02M98 39.5h1.02M117 40.5h1.02M122 40.5h1.02M124 40.5h1.02M69 42.5h1.02M110 42.5h1.02M66 44.5h1.02M69 44.5h1.02M84 44.5h1.02M90 44.5h1.02M95 44.5h1.02M99 44.5h3.02M129 44.5h1.02M132 44.5h1.02M61 45.5h1.02M82 45.5h1.02M95 45.5h1.02M101 45.5h1.02M105 45.5h1.02M108 45.5h1.02M111 45.5h1.02M130 45.5h2.02M134 45.5h2.02M65 46.5h1.02M69 46.5h1.02M91 46.5h1.02M95 46.5h1.02M101 46.5h1.02M104 46.5h2.02M107 46.5h1.02M113 46.5h1.02M122 46.5h1.02M124 46.5h1.02M129 46.5h1.02M132 46.5h1.02M134 46.5h1.02M102 47.5h1.02M108 47.5h1.02M122 47.5h1.02M132 47.5h4.02M69 48.5h1.02M82 48.5h1.02M95 48.5h1.02M109 48.5h1.02M130 48.5h1.02M133 48.5h1.02M56 49.5h1.02M94 52.5h1.02M111 53.5h1.02M90 54.5h1.02M125 55.5h1.02M49 56.5h1.02M117 56.5h1.02M69 57.5h1.02M98 57.5h1.02M100 57.5h1.02M116 57.5h1.02M69 58.5h1.02M73 58.5h1.02M97 58.5h1.02M99 58.5h2.02M92 59.5h1.02M62 60.5h2.02M73 60.5h6.02M83 60.5h2.02M95 60.5h1.02M130 60.5h1.02M45 61.5h1.02M91 61.5h1.02M114 61.5h1.02M131 61.5h1.02M133 61.5h1.02M36 62.5h1.02M38 62.5h1.02M60 62.5h1.02M83 62.5h2.02M86 62.5h1.02M92 62.5h2.02M130 62.5h1.02M38 63.5h1.02M60 63.5h1.02M85 63.5h1.02M91 63.5h1.02M132 63.5h1.02M30 64.5h1.02M114 64.5h1.02M131 64.5h1.02M32 65.5h2.02M46 65.5h1.02M82 65.5h1.02M87 65.5h1.02M91 65.5h1.02M44 66.5h1.02M86 66.5h1.02M88 66.5h1.02M94 66.5h1.02M82 68.5h1.02M84 68.5h1.02M86 68.5h1.02M88 68.5h1.02M91 68.5h4.02M42 69.5h1.02M44 69.5h1.02M46 69.5h1.02M48 69.5h1.02M57 69.5h2.02M81 69.5h1.02M90 69.5h1.02M92 69.5h1.02M85 70.5h3.02M90 70.5h2.02M114 70.5h1.02M118 70.5h1.02M85 71.5h1.02M87 71.5h1.02M90 71.5h1.02M108 71.5h1.02M118 71.5h1.02M58 73.5h1.02M60 73.5h1.02M108 73.5h1.02M60 74.5h1.02M81 74.5h1.02M89 74.5h1.02M102 74.5h1.02M108 74.5h1.02M125 74.5h1.02M60 75.5h1.02M90 75.5h1.02M33 76.5h1.02M60 76.5h1.02M108 76.5h1.02M117 76.5h1.02M28 77.5h3.02M32 77.5h2.02M60 77.5h1.02M116 77.5h1.02M27 78.5h2.02M30 78.5h2.02M60 78.5h1.02M108 78.5h1.02M130 78.5h1.02M27 79.5h1.02M30 79.5h1.02M116 79.5h2.02M34 80.5h2.02M119 80.5h2.02M131 80.5h1.02M69 81.5h1.02M74 81.5h1.02M96 81.5h1.02M106 81.5h1.02M115 81.5h1.02M118 81.5h2.02M121 81.5h1.02M124 81.5h1.02M27 82.5h1.02M30 82.5h1.02M45 82.5h1.02M48 82.5h1.02M65 82.5h1.02M68 82.5h1.02M125 82.5h1.02M130 82.5h1.02M60 83.5h1.02M62 83.5h1.02M125 83.5h2.02M128 83.5h2.02M131 83.5h1.02M27 84.5h1.02M44 84.5h1.02M60 84.5h1.02M62 84.5h1.02M68 84.5h1.02M129 84.5h1.02M135 84.5h1.02M63 85.5h1.02M70 85.5h2.02M62 86.5h1.02M66 86.5h1.02M68 86.5h1.02M70 86.5h1.02M4 87.5h1.02M7 87.5h2.02M65 87.5h1.02M70 87.5h2.02M121 87.5h1.02M124 87.5h3.02M129 87.5h1.02M132 87.5h2.02M136 87.5h1.02M66 88.5h1.02M68 88.5h1.02M98 88.5h1.02M121 88.5h1.02M125 88.5h1.02M132 88.5h1.02M134 88.5h1.02M136 88.5h1.02M32 89.5h1.02M74 89.5h1.02M109 89.5h1.02M44 90.5h1.02M54 90.5h1.02M69 90.5h3.02M75 90.5h1.02M105 90.5h1.02M46 91.5h1.02M61 91.5h1.02M63 91.5h1.02M65 91.5h1.02M68 91.5h1.02M70 91.5h1.02M103 91.5h1.02M59 92.5h1.02M62 92.5h1.02M68 92.5h2.02M109 92.5h1.02M62 93.5h1.02M68 93.5h1.02M52 94.5h1.02M66 94.5h1.02M68 94.5h1.02M44 95.5h3.02M48 95.5h1.02M60 95.5h1.02M108 95.5h1.02M81 96.5h1.02M133 96.5h1.02M58 97.5h1.02M39 98.5h1.02M57 98.5h1.02M88 98.5h1.02M131 98.5h1.02M13 99.5h1.02M44 99.5h1.02M58 99.5h1.02M44 100.5h1.02M57 100.5h2.02M44 101.5h3.02M47 102.5h1.02M74 102.5h1.02M32 103.5h1.02M91 103.5h1.02M125 103.5h2.02M13 104.5h1.02M28 104.5h2.02M31 104.5h2.02M46 104.5h1.02M127 104.5h1.02M132 104.5h1.02M13 105.5h1.02M27 105.5h2.02M45 105.5h2.02M90 105.5h1.02M29 106.5h1.02M31 106.5h2.02M81 106.5h1.02M27 107.5h1.02M32 107.5h1.02M46 107.5h1.02M13 108.5h1.02M27 108.5h2.02M33 108.5h1.02M45 108.5h1.02M47 108.5h1.02M71 108.5h1.02M73 108.5h2.02M76 108.5h1.02M78 108.5h1.02M95 108.5h1.02M119 108.5h1.02M13 109.5h1.02M28 109.5h1.02M33 109.5h1.02M48 109.5h1.02M89 109.5h1.02M92 109.5h1.02M119 109.5h1.02M13 110.5h1.02M42 110.5h1.02M127 110.5h1.02M132 110.5h1.02M30 111.5h1.02M32 111.5h1.02M34 111.5h1.02M36 111.5h1.02M45 111.5h1.02M53 111.5h1.02M36 112.5h1.02M46 113.5h1.02M61 114.5h1.02M64 114.5h1.02M70 114.5h1.02M81 115.5h1.02M57 116.5h1.02M77 116.5h1.02M79 116.5h1.02M40 117.5h1.02M56 117.5h1.02M76 117.5h1.02M79 117.5h1.02M0 118.5h1.02M4 118.5h1.02M8 118.5h1.02M70 118.5h2.02M81 118.5h1.02M3 119.5h6.02M80 119.5h2.02M108 119.5h2.02M11 120.5h2.02M80 120.5h1.02M81 121.5h1.02M87 121.5h2.02M40 122.5h1.02M46 122.5h2.02M40 124.5h1.02M46 124.5h1.02M81 124.5h1.02M87 124.5h1.02M55 125.5h1.02M74 125.5h1.02M82 125.5h2.02M87 125.5h2.02M103 125.5h1.02M83 126.5h1.02M87 126.5h1.02M103 126.5h1.02M104 127.5h1.02M110 127.5h1.02M83 128.5h1.02M44 129.5h1.02M46 129.5h1.02M83 129.5h2.02M87 129.5h1.02M45 130.5h1.02M48 130.5h1.02M60 130.5h1.02M62 130.5h1.02M78 130.5h1.02M82 130.5h1.02M45 131.5h1.02M61 131.5h1.02M64 131.5h1.02M80 131.5h1.02M83 131.5h1.02M98 131.5h1.02M44 132.5h1.02M46 132.5h2.02M63 132.5h1.02M87 132.5h2.02M104 132.5h1.02M110 132.5h1.02M47 133.5h2.02M61 133.5h1.02M87 133.5h1.02M96 133.5h1.02M45 134.5h3.02M88 134.5h1.02M45 135.5h1.02M47 135.5h1.02M84 135.5h1.02M87 136.5h2.02"/>
<path stroke="#7cabd0" d="M2 1.5h1.02M1 2.5h1.02"/>
<path stroke="#6e9dc9" d="M4 1.5h1.02M9 1.5h1.02M9 3.5h1.02M1 4.5h1.02M1 9.5h1.02M3 9.5h1.02"/>
<path stroke="#badaea" d="M10 1.5h1.02M1 10.5h1.02M64 63.5h1.02M63 64.5h1.02M78 77.5h2.02M77 78.5h1.02M79 78.5h1.02M77 79.5h2.02M102 100.5h1.02M100 102.5h1.02"/>
<path stroke="#fffcbb" d="M12 1.5h1.02M12 8.5h1.02M1 12.5h1.02M8 12.5h1.02M14 12.5h1.02M12 14.5h1.02M38 34.5h1.02M38 35.5h1.02M34 38.5h2.02M75 38.5h1.02M94 55.5h1.02M59 56.5h1.02M56 59.5h1.02M75 61.5h1.02M66 62.5h1.02M78 62.5h1.02M66 63.5h1.02M72 63.5h1.02M79 64.5h1.02M62 66.5h2.02M127 69.5h1.02M63 72.5h1.02M38 75.5h1.02M61 75.5h1.02M62 78.5h1.02M64 79.5h1.02M55 94.5h1.02M103 99.5h1.02M106 102.5h1.02M99 103.5h1.02M102 106.5h1.02M123 113.5h1.02M125 113.5h1.02M131 113.5h1.02M120 118.5h1.02M118 120.5h1.02M113 123.5h1.02M113 125.5h1.02M69 127.5h1.02M134 130.5h1.02M113 131.5h1.02M130 134.5h1.02"/>
<path stroke="#f3fad5" d="M13 1.5h1.02M57 11.5h2.02M56 12.5h1.02M1 13.5h1.02M16 15.5h1.02M15 16.5h1.02M12 56.5h1.02M11 57.5h1.02M11 58.5h1.02M67 61.5h1.02M74 63.5h1.02M70 66.5h1.02M61 67.5h1.02M66 70.5h1.02M121 72.5h1.02M63 74.5h1.02M104 100.5h1.02M104 101.5h1.02M104 103.5h1.02M100 104.5h2.02M103 104.5h1.02M106 104.5h1.02M104 106.5h1.02M133 118.5h1.02M72 121.5h1.02M124 122.5h1.02M124 123.5h1.02M122 124.5h2.02M131 130.5h1.02M130 131.5h1.02M118 133.5h1.02"/>
<path stroke="#edf8e0" d="M14 1.5h1.02M13 2.5h1.02M13 5.5h1.02M57 10.5h1.02M2 13.5h1.02M5 13.5h1.02M1 14.5h1.02M46 45.5h1.02M45 46.5h1.02M10 57.5h1.02M73 62.5h2.02M76 62.5h1.02M77 63.5h1.02M69 65.5h1.02M65 69.5h1.02M73 71.5h1.02M62 73.5h1.02M71 73.5h1.02M62 74.5h1.02M62 76.5h1.02M63 77.5h1.02M112 80.5h1.02M84 83.5h1.02M83 84.5h1.02M104 102.5h1.02M106 103.5h1.02M102 104.5h1.02M103 106.5h1.02M80 112.5h1.02M119 113.5h1.02M117 115.5h1.02M115 117.5h1.02M113 119.5h1.02M133 131.5h1.02M131 133.5h1.02"/>
<path stroke="#d73027" d="M15 1.5h25.02M41 1.5h1.02M61 1.5h1.02M67 1.5h1.02M15 2.5h27.02M15 3.5h4.02M20 3.5h2.02M24 3.5h3.02M29 3.5h1.02M31 3.5h4.02M36 3.5h1.02M39 3.5h1.02M41 3.5h1.02M15 4.5h1.02M19 4.5h2.02M25 4.5h2.02M29 4.5h1.02M32 4.5h5.02M18 5.5h3.02M22 5.5h2.02M25 5.5h2.02M28 5.5h3.02M32 5.5h6.02M39 5.5h3.02M15 6.5h1.02M18 6.5h3.02M22 6.5h2.02M25 6.5h2.02M28 6.5h2.02M33 6.5h3.02M37 6.5h1.02M39 6.5h1.02M15 7.5h1.02M17 7.5h10.02M28 7.5h4.02M34 7.5h4.02M39 7.5h1.02M41 7.5h1.02M20 8.5h1.02M22 8.5h1.02M26 8.5h1.02M29 8.5h2.02M32 8.5h1.02M34 8.5h1.02M36 8.5h1.02M39 8.5h1.02M15 9.5h8.02M24 9.5h3.02M28 9.5h2.02M31 9.5h9.02M41 9.5h1.02M1 15.5h4.02M6 15.5h2.02M9 15.5h1.02M1 16.5h3.02M9 16.5h1.02M1 17.5h3.02M7 17.5h1.02M9 17.5h1.02M1 18.5h3.02M5 18.5h3.02M9 18.5h1.02M1 19.5h2.02M4 19.5h4.02M9 19.5h1.02M1 20.5h9.02M1 21.5h3.02M7 21.5h1.02M9 21.5h1.02M44 21.5h1.02M50 21.5h2.02M53 21.5h1.02M55 21.5h2.02M60 21.5h1.02M64 21.5h1.02M67 21.5h4.02M78 21.5h4.02M84 21.5h3.02M89 21.5h2.02M92 21.5h1.02M95 21.5h2.02M99 21.5h2.02M105 21.5h1.02M109 21.5h1.02M116 21.5h2.02M120 21.5h3.02M124 21.5h1.02M129 21.5h4.02M135 21.5h1.02M1 22.5h2.02M5 22.5h5.02M39 22.5h1.02M42 22.5h1.02M46 22.5h2.02M49 22.5h2.02M53 22.5h1.02M60 22.5h3.02M64 22.5h5.02M70 22.5h1.02M73 22.5h1.02M76 22.5h1.02M78 22.5h1.02M80 22.5h2.02M84 22.5h1.02M86 22.5h2.02M89 22.5h2.02M96 22.5h6.02M105 22.5h1.02M107 22.5h3.02M112 22.5h1.02M114 22.5h1.02M116 22.5h2.02M121 22.5h2.02M125 22.5h4.02M130 22.5h1.02M133 22.5h1.02M135 22.5h2.02M1 23.5h2.02M5 23.5h3.02M53 23.5h1.02M64 23.5h2.02M80 23.5h1.02M90 23.5h1.02M110 23.5h1.02M116 23.5h2.02M128 23.5h1.02M130 23.5h2.02M1 24.5h3.02M7 24.5h1.02M9 24.5h1.02M1 25.5h7.02M9 25.5h1.02M1 26.5h9.02M1 27.5h2.02M1 28.5h2.02M5 28.5h3.02M9 28.5h1.02M1 29.5h9.02M1 30.5h2.02M5 30.5h1.02M7 30.5h2.02M1 31.5h3.02M7 31.5h1.02M9 31.5h1.02M1 32.5h5.02M8 32.5h2.02M1 33.5h6.02M9 33.5h1.02M1 34.5h9.02M1 35.5h2.02M4 35.5h4.02M9 35.5h1.02M1 36.5h5.02M7 36.5h3.02M1 37.5h2.02M5 37.5h3.02M9 37.5h1.02M1 38.5h2.02M9 38.5h1.02M1 39.5h3.02M5 39.5h5.02M22 39.5h1.02M2 40.5h1.02M5 40.5h1.02M1 41.5h3.02M5 41.5h1.02M7 41.5h1.02M9 41.5h1.02M22 42.5h1.02M21 44.5h1.02M22 46.5h1.02M22 47.5h1.02M22 49.5h1.02M21 50.5h2.02M21 51.5h1.02M21 53.5h3.02M21 55.5h1.02M21 56.5h1.02M21 60.5h2.02M1 61.5h1.02M22 61.5h1.02M22 62.5h1.02M21 64.5h3.02M22 65.5h2.02M22 66.5h1.02M1 67.5h1.02M21 67.5h2.02M21 68.5h2.02M21 69.5h1.02M21 70.5h2.02M22 73.5h1.02M22 76.5h1.02M21 78.5h2.02M21 79.5h1.02M21 80.5h3.02M21 81.5h2.02M21 84.5h2.02M21 85.5h1.02M21 86.5h2.02M22 87.5h1.02M21 89.5h2.02M21 90.5h3.02M21 92.5h1.02M21 95.5h1.02M21 96.5h2.02M22 97.5h1.02M22 98.5h1.02M21 99.5h2.02M21 100.5h2.02M22 101.5h1.02M21 105.5h2.02M22 107.5h1.02M22 108.5h1.02M21 109.5h2.02M23 110.5h1.02M22 112.5h1.02M22 114.5h1.02M21 116.5h3.02M21 117.5h3.02M21 120.5h1.02M21 121.5h2.02M21 122.5h2.02M21 124.5h1.02M22 125.5h1.02M22 126.5h1.02M22 127.5h1.02M22 128.5h2.02M21 129.5h1.02M21 130.5h3.02M21 131.5h1.02M23 131.5h1.02M21 132.5h1.02M22 133.5h1.02M21 135.5h2.02M22 136.5h1.02"/>
<path stroke="#fecc83" d="M60 1.5h1.02M114 2.5h1.02M114 4.5h1.02M60 9.5h1.02M55 10.5h1.02M55 11.5h1.02M55 12.5h1.02M55 13.5h1.02M85 13.5h1.02M88 13.5h1.02M27 18.5h2.02M28 26.5h1.02M32 26.5h1.02M18 27.5h1.02M29 27.5h1.02M32 27.5h2.02M18 28.5h1.02M26 28.5h1.02M32 28.5h2.02M35 28.5h3.02M27 29.5h1.02M36 29.5h1.02M26 32.5h3.02M27 33.5h2.02M28 35.5h1.02M28 36.5h2.02M37 36.5h1.02M97 36.5h1.02M28 37.5h1.02M36 37.5h1.02M96 37.5h1.02M96 38.5h1.02M103 39.5h1.02M106 39.5h1.02M110 48.5h1.02M54 49.5h1.02M55 51.5h1.02M49 54.5h1.02M10 55.5h4.02M51 55.5h1.02M94 57.5h1.02M94 58.5h1.02M96 58.5h1.02M85 59.5h1.02M87 59.5h1.02M94 59.5h1.02M1 60.5h1.02M9 60.5h1.02M107 61.5h1.02M103 62.5h1.02M126 62.5h1.02M82 63.5h1.02M109 64.5h2.02M107 65.5h1.02M117 65.5h1.02M130 65.5h1.02M116 66.5h1.02M103 67.5h1.02M106 67.5h1.02M109 67.5h1.02M113 67.5h1.02M120 67.5h1.02M132 67.5h1.02M120 68.5h1.02M95 69.5h1.02M98 69.5h1.02M103 69.5h1.02M116 69.5h1.02M76 70.5h1.02M99 70.5h1.02M104 71.5h1.02M111 71.5h1.02M80 72.5h1.02M135 72.5h1.02M76 73.5h1.02M126 73.5h1.02M129 73.5h1.02M133 73.5h1.02M96 74.5h1.02M96 75.5h1.02M70 76.5h1.02M73 76.5h1.02M113 76.5h2.02M136 76.5h1.02M114 77.5h1.02M136 77.5h1.02M113 79.5h1.02M72 80.5h1.02M109 80.5h1.02M122 80.5h2.02M63 82.5h1.02M13 85.5h1.02M59 85.5h1.02M92 85.5h1.02M95 85.5h1.02M87 86.5h1.02M94 86.5h1.02M102 86.5h1.02M117 86.5h2.02M120 86.5h1.02M59 87.5h1.02M86 87.5h1.02M13 88.5h1.02M97 89.5h1.02M116 89.5h1.02M97 90.5h1.02M114 90.5h1.02M85 92.5h1.02M115 92.5h1.02M115 93.5h1.02M57 94.5h3.02M86 94.5h1.02M69 95.5h1.02M85 95.5h1.02M96 95.5h1.02M115 95.5h1.02M37 96.5h2.02M58 96.5h1.02M74 96.5h2.02M95 96.5h1.02M36 97.5h1.02M89 97.5h2.02M69 98.5h1.02M70 99.5h1.02M120 99.5h1.02M122 99.5h1.02M114 100.5h1.02M119 100.5h3.02M113 101.5h2.02M118 101.5h3.02M136 101.5h1.02M86 102.5h1.02M112 102.5h1.02M117 102.5h1.02M129 102.5h1.02M131 102.5h1.02M134 102.5h2.02M39 103.5h1.02M62 103.5h1.02M67 103.5h1.02M69 103.5h1.02M110 103.5h1.02M71 104.5h1.02M108 104.5h3.02M112 104.5h1.02M123 105.5h1.02M135 105.5h1.02M39 106.5h1.02M67 106.5h1.02M113 106.5h1.02M115 106.5h1.02M135 106.5h1.02M61 107.5h1.02M65 107.5h1.02M104 108.5h1.02M64 109.5h1.02M67 109.5h1.02M80 109.5h1.02M104 109.5h1.02M111 109.5h2.02M48 110.5h1.02M64 110.5h1.02M103 110.5h2.02M71 111.5h1.02M109 111.5h1.02M102 112.5h1.02M104 112.5h1.02M109 112.5h1.02M118 112.5h1.02M67 113.5h1.02M76 113.5h1.02M79 113.5h1.02M101 113.5h1.02M106 113.5h1.02M2 114.5h1.02M4 114.5h1.02M76 114.5h2.02M90 114.5h1.02M100 114.5h2.02M92 115.5h2.02M95 115.5h1.02M106 115.5h1.02M66 116.5h1.02M69 116.5h1.02M89 116.5h1.02M129 116.5h1.02M65 117.5h1.02M86 117.5h1.02M102 117.5h1.02M86 118.5h1.02M101 118.5h1.02M112 118.5h1.02M100 119.5h2.02M67 120.5h2.02M86 120.5h1.02M99 120.5h3.02M100 121.5h1.02M125 121.5h1.02M130 121.5h1.02M133 121.5h2.02M80 122.5h1.02M99 122.5h1.02M80 123.5h1.02M105 123.5h1.02M129 124.5h1.02M121 125.5h1.02M62 126.5h1.02M73 126.5h1.02M73 129.5h1.02M102 129.5h1.02M116 129.5h1.02M124 129.5h1.02M65 130.5h1.02M121 130.5h1.02M102 131.5h1.02M67 132.5h1.02M73 133.5h1.02M121 133.5h1.02M102 134.5h1.02M121 134.5h1.02M72 135.5h1.02M102 135.5h1.02M105 135.5h2.02M76 136.5h2.02M101 136.5h1.02"/>
<path stroke="#f67f51" d="M86 1.5h1.02M94 3.5h1.02M111 3.5h1.02M94 4.5h1.02M111 4.5h2.02M111 6.5h1.02M111 7.5h1.02M94 8.5h1.02M111 8.5h2.02M94 9.5h1.02M111 9.5h1.02M62 13.5h2.02M66 13.5h1.02M69 13.5h1.02M72 13.5h3.02M76 13.5h3.02M81 13.5h3.02M89 13.5h1.02M91 13.5h1.02M93 13.5h1.02M102 14.5h1.02M116 14.5h1.02M119 14.5h4.02M124 14.5h5.02M130 14.5h7.02M30 18.5h1.02M74 19.5h1.02M75 20.5h1.02M25 22.5h2.02M26 23.5h1.02M64 24.5h2.02M22 25.5h1.02M75 25.5h1.02M22 26.5h2.02M75 26.5h1.02M69 27.5h1.02M76 27.5h1.02M80 27.5h1.02M42 28.5h1.02M52 28.5h1.02M79 28.5h1.02M96 28.5h1.02M98 28.5h1.02M65 29.5h1.02M79 29.5h5.02M96 29.5h2.02M107 29.5h1.02M110 29.5h1.02M18 30.5h1.02M42 30.5h1.02M76 30.5h1.02M81 30.5h1.02M83 30.5h1.02M108 30.5h1.02M42 31.5h1.02M83 31.5h1.02M89 31.5h1.02M98 31.5h1.02M107 31.5h1.02M42 32.5h1.02M78 32.5h1.02M80 32.5h1.02M96 32.5h1.02M98 32.5h1.02M79 33.5h1.02M82 33.5h1.02M84 33.5h1.02M98 33.5h1.02M105 33.5h1.02M42 34.5h1.02M64 34.5h1.02M112 34.5h1.02M52 35.5h1.02M63 35.5h1.02M42 36.5h1.02M52 36.5h1.02M63 36.5h1.02M52 37.5h1.02M63 37.5h1.02M103 37.5h1.02M103 38.5h1.02M109 39.5h2.02M78 41.5h1.02M28 42.5h1.02M30 42.5h3.02M34 42.5h1.02M36 42.5h1.02M60 42.5h1.02M64 42.5h1.02M68 42.5h1.02M54 44.5h1.02M68 44.5h1.02M111 44.5h1.02M115 44.5h1.02M59 45.5h1.02M86 45.5h1.02M90 45.5h1.02M115 45.5h1.02M117 45.5h3.02M59 46.5h1.02M66 46.5h1.02M82 46.5h3.02M99 46.5h1.02M112 46.5h1.02M114 46.5h1.02M120 46.5h1.02M54 47.5h1.02M68 47.5h1.02M84 47.5h3.02M99 47.5h1.02M105 47.5h1.02M114 47.5h1.02M119 47.5h2.02M129 47.5h2.02M54 48.5h1.02M58 48.5h2.02M83 48.5h1.02M86 48.5h1.02M118 48.5h1.02M94 50.5h1.02M125 50.5h1.02M127 50.5h1.02M94 51.5h1.02M28 52.5h1.02M35 52.5h3.02M95 52.5h1.02M95 53.5h3.02M44 54.5h1.02M47 54.5h2.02M97 54.5h2.02M102 54.5h2.02M97 55.5h1.02M64 56.5h3.02M97 56.5h1.02M116 56.5h1.02M72 57.5h1.02M101 57.5h1.02M48 58.5h1.02M64 58.5h1.02M71 58.5h1.02M45 59.5h2.02M48 59.5h1.02M68 59.5h1.02M42 60.5h1.02M61 60.5h1.02M68 60.5h1.02M70 60.5h1.02M81 60.5h1.02M91 60.5h2.02M60 61.5h1.02M83 61.5h5.02M92 61.5h2.02M119 61.5h1.02M13 62.5h1.02M85 62.5h1.02M119 62.5h2.02M13 63.5h1.02M35 63.5h3.02M83 63.5h2.02M86 63.5h1.02M90 63.5h1.02M119 63.5h1.02M24 64.5h1.02M34 64.5h1.02M42 64.5h1.02M56 64.5h1.02M58 64.5h1.02M83 64.5h2.02M91 64.5h2.02M94 64.5h1.02M24 65.5h1.02M29 65.5h1.02M56 65.5h1.02M81 65.5h1.02M83 65.5h1.02M90 65.5h1.02M13 66.5h1.02M46 66.5h1.02M56 66.5h1.02M87 66.5h1.02M84 67.5h4.02M42 68.5h1.02M44 68.5h1.02M47 68.5h1.02M59 68.5h2.02M90 68.5h1.02M13 69.5h1.02M27 69.5h1.02M60 70.5h1.02M120 70.5h1.02M58 71.5h1.02M13 72.5h1.02M57 72.5h1.02M115 72.5h1.02M13 73.5h1.02M13 74.5h1.02M19 74.5h1.02M90 74.5h1.02M99 74.5h3.02M134 74.5h1.02M20 75.5h1.02M25 75.5h2.02M92 75.5h2.02M99 75.5h3.02M123 75.5h1.02M134 75.5h1.02M13 76.5h1.02M27 76.5h1.02M30 76.5h1.02M91 76.5h1.02M94 76.5h1.02M13 77.5h1.02M88 77.5h1.02M93 77.5h1.02M13 78.5h1.02M32 78.5h1.02M41 78.5h1.02M86 78.5h1.02M88 78.5h1.02M95 78.5h1.02M28 79.5h2.02M33 79.5h1.02M92 79.5h3.02M27 80.5h1.02M29 80.5h1.02M32 80.5h1.02M87 80.5h1.02M117 80.5h2.02M13 81.5h1.02M29 81.5h2.02M60 81.5h1.02M65 81.5h1.02M87 81.5h1.02M97 81.5h1.02M101 81.5h1.02M104 81.5h1.02M117 81.5h1.02M126 81.5h1.02M129 81.5h1.02M134 81.5h2.02M13 82.5h1.02M29 82.5h1.02M33 82.5h1.02M46 82.5h1.02M115 82.5h1.02M117 82.5h4.02M13 83.5h1.02M29 83.5h3.02M46 83.5h1.02M48 83.5h1.02M61 83.5h1.02M63 83.5h3.02M115 83.5h1.02M130 83.5h1.02M134 83.5h1.02M33 84.5h1.02M46 84.5h2.02M61 84.5h1.02M63 84.5h2.02M67 84.5h1.02M87 84.5h1.02M118 84.5h3.02M130 84.5h1.02M47 85.5h1.02M61 85.5h2.02M67 85.5h1.02M1 86.5h1.02M45 86.5h1.02M47 86.5h2.02M61 86.5h1.02M63 86.5h1.02M67 86.5h1.02M78 86.5h1.02M61 87.5h1.02M66 87.5h2.02M80 87.5h2.02M84 87.5h1.02M98 87.5h1.02M101 87.5h1.02M104 87.5h1.02M115 87.5h1.02M122 87.5h1.02M77 88.5h2.02M100 88.5h1.02M115 88.5h1.02M122 88.5h1.02M129 88.5h1.02M13 89.5h1.02M31 89.5h1.02M45 90.5h1.02M63 90.5h1.02M65 90.5h1.02M68 90.5h1.02M74 90.5h1.02M108 90.5h1.02M13 91.5h1.02M60 91.5h1.02M64 91.5h1.02M76 91.5h1.02M108 91.5h1.02M60 92.5h2.02M64 92.5h1.02M75 92.5h1.02M79 92.5h1.02M13 93.5h1.02M61 93.5h1.02M75 93.5h1.02M77 93.5h1.02M79 93.5h1.02M3 94.5h2.02M8 94.5h2.02M50 94.5h2.02M64 94.5h1.02M76 94.5h1.02M79 94.5h1.02M52 95.5h2.02M78 95.5h1.02M28 96.5h2.02M32 96.5h1.02M53 96.5h1.02M129 96.5h1.02M29 97.5h1.02M53 97.5h4.02M81 97.5h1.02M129 97.5h2.02M28 98.5h1.02M31 98.5h3.02M54 98.5h1.02M87 98.5h1.02M115 98.5h1.02M130 98.5h1.02M132 98.5h1.02M46 99.5h2.02M74 99.5h2.02M74 100.5h2.02M88 100.5h1.02M57 101.5h1.02M74 101.5h2.02M81 101.5h1.02M87 101.5h1.02M14 102.5h1.02M54 102.5h1.02M37 103.5h2.02M54 103.5h1.02M116 103.5h2.02M81 104.5h1.02M87 104.5h1.02M125 104.5h2.02M129 104.5h1.02M131 104.5h1.02M133 104.5h1.02M33 105.5h1.02M47 105.5h1.02M29 107.5h1.02M31 107.5h1.02M30 108.5h1.02M90 108.5h2.02M120 108.5h1.02M39 109.5h1.02M114 109.5h1.02M117 109.5h1.02M126 109.5h1.02M128 109.5h2.02M131 109.5h3.02M29 110.5h1.02M39 110.5h1.02M115 110.5h1.02M117 110.5h1.02M125 110.5h1.02M133 110.5h1.02M3 111.5h2.02M6 111.5h4.02M44 111.5h1.02M4 112.5h1.02M8 112.5h1.02M34 112.5h1.02M46 112.5h1.02M46 114.5h2.02M109 114.5h1.02M44 115.5h2.02M72 115.5h1.02M82 115.5h2.02M87 115.5h2.02M98 115.5h1.02M110 115.5h1.02M14 116.5h1.02M56 116.5h1.02M103 116.5h1.02M45 117.5h1.02M80 117.5h3.02M103 117.5h1.02M109 117.5h2.02M45 118.5h1.02M48 118.5h1.02M80 118.5h1.02M82 118.5h1.02M84 118.5h1.02M14 119.5h1.02M45 119.5h1.02M47 119.5h1.02M61 119.5h3.02M82 119.5h1.02M84 119.5h1.02M14 120.5h1.02M46 120.5h2.02M62 120.5h1.02M70 120.5h1.02M82 120.5h1.02M84 120.5h1.02M108 120.5h1.02M14 121.5h1.02M14 122.5h1.02M87 122.5h2.02M75 123.5h1.02M14 124.5h1.02M14 125.5h1.02M50 125.5h1.02M104 125.5h1.02M110 125.5h1.02M14 126.5h1.02M81 126.5h1.02M104 126.5h1.02M109 126.5h1.02M14 127.5h1.02M50 127.5h1.02M14 128.5h1.02M109 128.5h1.02M47 129.5h1.02M81 129.5h1.02M88 129.5h1.02M96 129.5h2.02M104 129.5h1.02M109 129.5h1.02M14 130.5h1.02M47 130.5h1.02M83 130.5h2.02M97 130.5h2.02M14 131.5h1.02M104 131.5h1.02M109 131.5h1.02M14 132.5h1.02M98 132.5h1.02M109 132.5h1.02M14 133.5h1.02M104 133.5h1.02M109 133.5h2.02M14 134.5h1.02M74 134.5h2.02M81 134.5h1.02M83 134.5h1.02M14 135.5h1.02M81 135.5h1.02M14 136.5h1.02"/>
<path stroke="#fdc77f" d="M114 1.5h1.02M94 13.5h1.02M129 13.5h1.02M131 13.5h1.02M133 13.5h1.02M28 17.5h1.02M27 20.5h1.02M27 22.5h1.02M29 24.5h1.02M20 27.5h1.02M22 27.5h1.02M17 28.5h1.02M29 28.5h1.02M31 28.5h1.02M24 29.5h1.02M28 29.5h1.02M28 31.5h1.02M97 35.5h1.02M109 35.5h1.02M87 44.5h1.02M110 44.5h1.02M110 45.5h1.02M87 47.5h1.02M110 47.5h1.02M55 50.5h1.02M125 51.5h2.02M128 51.5h1.02M54 52.5h1.02M114 53.5h1.02M52 54.5h1.02M50 55.5h1.02M86 57.5h1.02M88 57.5h1.02M96 57.5h1.02M127 57.5h1.02M86 58.5h2.02M121 58.5h1.02M123 58.5h1.02M127 58.5h1.02M86 59.5h1.02M88 59.5h1.02M102 59.5h1.02M124 59.5h1.02M110 60.5h1.02M109 61.5h1.02M82 62.5h1.02M102 62.5h1.02M103 63.5h1.02M103 65.5h1.02M105 65.5h1.02M114 65.5h1.02M118 65.5h1.02M103 66.5h1.02M107 66.5h1.02M73 67.5h1.02M104 67.5h2.02M114 67.5h1.02M118 67.5h1.02M116 68.5h1.02M89 69.5h1.02M96 69.5h1.02M101 69.5h1.02M107 71.5h1.02M112 71.5h1.02M113 72.5h1.02M122 72.5h1.02M128 72.5h1.02M133 72.5h2.02M67 73.5h1.02M119 73.5h1.02M122 73.5h1.02M125 73.5h1.02M131 73.5h2.02M134 73.5h2.02M97 74.5h1.02M134 77.5h1.02M114 79.5h1.02M136 79.5h1.02M82 80.5h1.02M107 80.5h1.02M62 82.5h1.02M80 82.5h1.02M57 86.5h3.02M98 86.5h1.02M121 86.5h1.02M127 86.5h1.02M44 87.5h1.02M47 87.5h1.02M58 87.5h1.02M119 87.5h1.02M57 88.5h1.02M59 88.5h1.02M69 89.5h1.02M113 90.5h1.02M115 90.5h1.02M116 91.5h1.02M120 91.5h1.02M13 94.5h1.02M57 96.5h1.02M69 96.5h1.02M103 96.5h1.02M35 97.5h1.02M74 97.5h1.02M103 97.5h1.02M86 98.5h1.02M111 99.5h1.02M113 99.5h3.02M126 99.5h1.02M136 99.5h1.02M122 100.5h6.02M131 100.5h2.02M135 100.5h1.02M69 101.5h1.02M112 101.5h1.02M115 101.5h1.02M123 101.5h2.02M59 102.5h1.02M62 102.5h1.02M110 102.5h1.02M114 102.5h1.02M122 102.5h1.02M133 102.5h1.02M63 103.5h1.02M65 103.5h2.02M96 103.5h2.02M67 104.5h1.02M121 104.5h1.02M65 105.5h1.02M67 105.5h1.02M124 105.5h1.02M66 107.5h1.02M71 107.5h1.02M80 107.5h1.02M136 107.5h1.02M35 109.5h1.02M61 109.5h1.02M44 110.5h2.02M47 110.5h1.02M60 110.5h1.02M102 110.5h1.02M99 111.5h1.02M130 111.5h1.02M71 112.5h1.02M101 112.5h1.02M129 112.5h1.02M72 113.5h1.02M90 113.5h1.02M99 113.5h1.02M1 114.5h1.02M53 114.5h1.02M65 114.5h1.02M67 114.5h1.02M79 114.5h1.02M99 114.5h1.02M102 114.5h1.02M90 115.5h1.02M99 115.5h1.02M101 115.5h1.02M68 116.5h1.02M91 116.5h1.02M128 116.5h1.02M132 116.5h1.02M121 117.5h1.02M65 118.5h1.02M67 118.5h1.02M73 119.5h1.02M87 119.5h1.02M123 119.5h1.02M91 120.5h1.02M130 120.5h1.02M58 121.5h1.02M86 121.5h1.02M104 121.5h1.02M117 121.5h1.02M72 122.5h2.02M100 122.5h1.02M102 122.5h1.02M125 122.5h1.02M129 122.5h1.02M58 123.5h1.02M100 123.5h2.02M119 123.5h1.02M59 124.5h1.02M100 124.5h2.02M105 124.5h1.02M51 125.5h1.02M73 125.5h1.02M100 125.5h1.02M122 125.5h1.02M130 125.5h1.02M51 126.5h1.02M99 126.5h2.02M57 127.5h2.02M86 127.5h1.02M100 127.5h1.02M51 128.5h1.02M72 128.5h1.02M116 128.5h1.02M13 129.5h1.02M112 129.5h1.02M122 129.5h1.02M111 130.5h1.02M120 130.5h1.02M125 130.5h1.02M13 131.5h1.02M73 131.5h1.02M100 131.5h1.02M73 132.5h1.02M100 132.5h1.02M116 132.5h1.02M13 133.5h1.02M72 133.5h1.02M102 133.5h1.02M72 134.5h2.02M77 134.5h1.02M73 135.5h1.02M100 135.5h1.02M79 136.5h1.02M99 136.5h1.02M107 136.5h1.02"/>
<path stroke="#a7cde3" d="M11 2.5h1.02M10 5.5h1.02M5 10.5h1.02M2 11.5h1.02M19 18.5h1.02M18 19.5h1.02M20 19.5h1.02M19 20.5h1.02M63 62.5h1.02M62 63.5h1.02"/>
<path stroke="#fffab8" d="M12 2.5h1.02M58 3.5h1.02M56 4.5h3.02M56 6.5h1.02M12 7.5h1.02M12 9.5h1.02M2 12.5h1.02M7 12.5h1.02M9 12.5h1.02M40 12.5h1.02M34 33.5h1.02M36 33.5h1.02M33 34.5h1.02M43 34.5h1.02M33 36.5h1.02M12 40.5h1.02M76 40.5h1.02M34 43.5h1.02M4 56.5h1.02M6 56.5h1.02M113 56.5h1.02M4 57.5h1.02M3 58.5h2.02M69 61.5h1.02M72 62.5h1.02M80 62.5h1.02M75 63.5h1.02M78 63.5h1.02M69 67.5h1.02M61 69.5h1.02M67 69.5h1.02M62 72.5h1.02M63 75.5h1.02M40 76.5h1.02M63 78.5h1.02M62 80.5h1.02M98 96.5h1.02M96 98.5h1.02M127 98.5h1.02M56 113.5h1.02M124 113.5h1.02M126 113.5h1.02M113 124.5h1.02M113 126.5h1.02M98 127.5h1.02"/>
<path stroke="#e4f4f1" d="M14 2.5h1.02M14 3.5h1.02M2 14.5h2.02M26 25.5h1.02M25 26.5h1.02M112 77.5h1.02M111 78.5h1.02M106 105.5h1.02M105 106.5h1.02M78 111.5h1.02M77 112.5h1.02"/>
<path stroke="#5787bd" d="M4 3.5h1.02M3 4.5h1.02"/>
<path stroke="#5382bb" d="M8 3.5h1.02M8 4.5h1.02M8 6.5h1.02M3 8.5h2.02M6 8.5h1.02"/>
<path stroke="#8fbdda" d="M11 3.5h1.02M11 7.5h1.02M3 11.5h1.02M7 11.5h1.02M136 135.5h1.02M135 136.5h1.02"/>
<path stroke="#e8f6ea" d="M13 3.5h1.02M14 7.5h1.02M3 13.5h1.02M7 14.5h1.02M46 44.5h1.02M44 46.5h1.02M75 74.5h1.02M74 75.5h1.02M79 76.5h1.02M112 76.5h1.02M76 79.5h1.02M91 89.5h1.02M89 91.5h1.02M97 96.5h1.02M96 97.5h1.02M100 99.5h1.02M99 100.5h1.02M76 112.5h1.02"/>
<path stroke="#fee293" d="M54 3.5h1.02M54 5.5h1.02M54 6.5h1.02M54 7.5h1.02M54 8.5h1.02M54 9.5h1.02M60 14.5h1.02M33 18.5h1.02M22 21.5h1.02M21 22.5h1.02M34 23.5h1.02M37 30.5h1.02M35 31.5h1.02M35 32.5h1.02M18 33.5h1.02M23 34.5h1.02M31 35.5h2.02M30 37.5h1.02M98 37.5h1.02M113 52.5h1.02M3 54.5h1.02M5 54.5h5.02M111 57.5h2.02M120 57.5h1.02M135 57.5h1.02M134 58.5h2.02M14 60.5h1.02M104 60.5h1.02M112 60.5h1.02M72 65.5h1.02M74 65.5h1.02M76 65.5h1.02M109 65.5h1.02M124 65.5h1.02M74 66.5h1.02M76 66.5h1.02M79 66.5h1.02M111 66.5h1.02M132 66.5h1.02M74 67.5h1.02M77 67.5h1.02M79 67.5h1.02M74 68.5h1.02M113 68.5h1.02M123 68.5h2.02M131 68.5h1.02M133 68.5h1.02M104 69.5h1.02M107 69.5h1.02M118 69.5h2.02M133 69.5h1.02M71 70.5h1.02M78 70.5h1.02M98 70.5h1.02M70 71.5h1.02M96 71.5h3.02M121 71.5h1.02M65 72.5h1.02M77 72.5h1.02M111 72.5h1.02M99 73.5h1.02M111 73.5h1.02M65 74.5h4.02M111 74.5h1.02M65 76.5h2.02M109 76.5h1.02M123 76.5h1.02M67 77.5h1.02M72 77.5h1.02M107 77.5h1.02M70 78.5h1.02M123 78.5h1.02M66 79.5h2.02M104 79.5h1.02M106 79.5h1.02M121 79.5h1.02M124 83.5h1.02M121 90.5h1.02M96 91.5h1.02M126 91.5h1.02M96 93.5h1.02M96 94.5h1.02M111 94.5h1.02M97 95.5h1.02M111 95.5h1.02M71 96.5h1.02M91 96.5h1.02M93 96.5h2.02M108 96.5h1.02M71 97.5h1.02M95 97.5h1.02M37 98.5h1.02M70 98.5h2.02M108 98.5h1.02M73 99.5h1.02M113 100.5h1.02M60 104.5h1.02M69 104.5h1.02M79 104.5h1.02M79 106.5h1.02M69 107.5h1.02M77 107.5h1.02M110 107.5h1.02M96 108.5h1.02M98 108.5h1.02M65 109.5h1.02M76 109.5h1.02M107 110.5h1.02M57 111.5h1.02M66 111.5h1.02M72 111.5h3.02M94 111.5h2.02M57 112.5h1.02M60 112.5h1.02M127 112.5h1.02M52 113.5h1.02M68 113.5h1.02M100 113.5h1.02M118 115.5h1.02M134 115.5h2.02M133 117.5h2.02M69 118.5h1.02M115 118.5h1.02M69 119.5h1.02M57 120.5h1.02M71 121.5h1.02M79 121.5h1.02M90 121.5h1.02M127 121.5h1.02M136 121.5h1.02M68 123.5h1.02M76 123.5h1.02M78 123.5h1.02M133 123.5h2.02M136 123.5h1.02M65 124.5h1.02M68 124.5h1.02M83 124.5h1.02M125 124.5h2.02M132 124.5h1.02M124 125.5h1.02M131 125.5h1.02M134 125.5h1.02M91 126.5h1.02M124 126.5h1.02M132 126.5h1.02M112 127.5h1.02M121 127.5h1.02M133 128.5h1.02M68 131.5h1.02M125 131.5h1.02M66 132.5h1.02M124 132.5h1.02M126 132.5h1.02M68 133.5h2.02M117 133.5h1.02M123 133.5h1.02M128 133.5h1.02M58 134.5h1.02M115 134.5h1.02M117 134.5h1.02M123 134.5h1.02M125 134.5h1.02M57 135.5h2.02M115 135.5h1.02M121 136.5h1.02M123 136.5h1.02"/>
<path stroke="#e95d3f" d="M97 3.5h2.02M95 4.5h1.02M97 4.5h2.02M98 6.5h1.02M97 7.5h1.02M95 8.5h1.02M97 8.5h3.02M97 9.5h2.02M64 10.5h1.02M66 10.5h1.02M69 10.5h1.02M79 10.5h1.02M93 10.5h1.02M62 11.5h2.02M69 11.5h1.02M72 11.5h2.02M75 11.5h3.02M79 11.5h1.02M82 11.5h1.02M89 11.5h1.02M91 11.5h1.02M93 11.5h1.02M61 12.5h2.02M68 12.5h3.02M72 12.5h1.02M74 12.5h2.02M79 12.5h1.02M82 12.5h3.02M91 12.5h3.02M33 15.5h1.02M98 18.5h1.02M35 22.5h2.02M35 23.5h1.02M44 24.5h3.02M49 24.5h2.02M58 24.5h1.02M66 24.5h1.02M69 24.5h1.02M72 24.5h1.02M76 24.5h2.02M81 24.5h2.02M84 24.5h3.02M88 24.5h2.02M91 24.5h1.02M94 24.5h3.02M98 24.5h1.02M101 24.5h2.02M113 24.5h1.02M119 24.5h1.02M126 24.5h1.02M73 25.5h1.02M77 25.5h1.02M94 25.5h1.02M97 25.5h1.02M44 26.5h1.02M82 26.5h1.02M89 26.5h1.02M91 26.5h1.02M47 27.5h2.02M60 27.5h2.02M67 27.5h1.02M90 27.5h1.02M102 27.5h1.02M116 27.5h1.02M128 27.5h1.02M130 27.5h1.02M133 27.5h2.02M44 28.5h2.02M47 28.5h5.02M62 28.5h1.02M88 28.5h1.02M90 28.5h1.02M92 28.5h1.02M95 28.5h1.02M102 28.5h1.02M112 28.5h1.02M115 28.5h3.02M120 28.5h1.02M122 28.5h1.02M124 28.5h1.02M129 28.5h1.02M133 28.5h3.02M45 29.5h1.02M48 29.5h4.02M85 29.5h1.02M92 29.5h1.02M112 29.5h1.02M114 29.5h1.02M118 29.5h5.02M124 29.5h1.02M126 29.5h1.02M128 29.5h2.02M134 29.5h2.02M44 30.5h2.02M50 30.5h1.02M86 30.5h1.02M90 30.5h1.02M117 30.5h2.02M121 30.5h1.02M125 30.5h1.02M128 30.5h2.02M131 30.5h5.02M44 31.5h2.02M48 31.5h2.02M51 31.5h1.02M61 31.5h1.02M67 31.5h1.02M90 31.5h1.02M92 31.5h1.02M94 31.5h2.02M112 31.5h1.02M116 31.5h1.02M121 31.5h3.02M126 31.5h4.02M131 31.5h1.02M133 31.5h4.02M45 32.5h1.02M49 32.5h1.02M51 32.5h1.02M60 32.5h2.02M92 32.5h1.02M95 32.5h1.02M112 32.5h1.02M116 32.5h1.02M122 32.5h1.02M125 32.5h2.02M129 32.5h3.02M134 32.5h1.02M15 33.5h1.02M44 33.5h2.02M51 33.5h1.02M58 33.5h1.02M67 33.5h1.02M92 33.5h1.02M95 33.5h1.02M113 33.5h2.02M116 33.5h3.02M122 33.5h2.02M125 33.5h2.02M128 33.5h2.02M133 33.5h1.02M135 33.5h1.02M46 34.5h1.02M68 34.5h1.02M94 34.5h1.02M110 34.5h1.02M113 34.5h2.02M121 34.5h1.02M124 34.5h2.02M22 35.5h2.02M67 35.5h2.02M70 35.5h1.02M83 35.5h1.02M93 35.5h1.02M114 35.5h1.02M124 35.5h1.02M126 35.5h1.02M22 36.5h1.02M65 36.5h2.02M70 36.5h1.02M73 36.5h1.02M91 36.5h1.02M122 36.5h1.02M128 36.5h1.02M46 37.5h1.02M66 37.5h1.02M70 37.5h1.02M84 37.5h2.02M89 37.5h1.02M92 37.5h1.02M94 37.5h2.02M125 37.5h1.02M60 38.5h1.02M65 38.5h1.02M67 38.5h1.02M83 38.5h1.02M87 38.5h3.02M91 38.5h2.02M95 38.5h1.02M87 39.5h1.02M91 39.5h2.02M130 39.5h1.02M58 40.5h1.02M61 40.5h1.02M67 40.5h2.02M70 40.5h1.02M82 40.5h1.02M84 40.5h4.02M91 40.5h2.02M94 40.5h1.02M97 40.5h2.02M100 40.5h3.02M104 40.5h3.02M108 40.5h3.02M129 40.5h1.02M134 40.5h1.02M44 41.5h1.02M59 41.5h1.02M61 41.5h1.02M64 41.5h2.02M67 41.5h2.02M70 41.5h2.02M74 41.5h1.02M82 41.5h1.02M84 41.5h2.02M87 41.5h3.02M91 41.5h1.02M93 41.5h1.02M95 41.5h4.02M104 41.5h1.02M107 41.5h1.02M116 41.5h2.02M120 41.5h2.02M129 41.5h2.02M132 41.5h4.02M44 42.5h1.02M48 42.5h1.02M54 42.5h2.02M59 42.5h1.02M70 42.5h1.02M80 42.5h1.02M82 42.5h1.02M89 42.5h1.02M93 42.5h1.02M95 42.5h1.02M100 42.5h1.02M102 42.5h1.02M105 42.5h1.02M107 42.5h2.02M111 42.5h2.02M114 42.5h1.02M116 42.5h2.02M121 42.5h1.02M124 42.5h3.02M128 42.5h1.02M131 42.5h6.02M45 43.5h7.02M55 43.5h3.02M81 43.5h3.02M85 43.5h3.02M89 43.5h1.02M92 43.5h1.02M95 43.5h1.02M107 43.5h1.02M116 43.5h1.02M125 43.5h1.02M129 43.5h2.02M24 44.5h1.02M26 44.5h1.02M28 44.5h1.02M30 44.5h2.02M33 44.5h1.02M41 44.5h2.02M52 44.5h1.02M81 44.5h1.02M88 44.5h1.02M24 45.5h1.02M28 45.5h6.02M43 45.5h1.02M81 45.5h1.02M88 45.5h1.02M24 46.5h1.02M34 46.5h1.02M37 46.5h1.02M43 46.5h1.02M88 46.5h1.02M27 47.5h2.02M43 47.5h1.02M50 47.5h1.02M52 47.5h1.02M81 47.5h1.02M88 47.5h1.02M27 48.5h3.02M31 48.5h1.02M42 48.5h2.02M24 49.5h1.02M28 49.5h2.02M31 49.5h2.02M43 49.5h1.02M52 49.5h1.02M62 49.5h1.02M77 49.5h1.02M83 49.5h2.02M102 49.5h1.02M106 49.5h3.02M112 49.5h1.02M114 49.5h1.02M118 49.5h3.02M131 49.5h4.02M24 50.5h1.02M28 50.5h3.02M43 50.5h1.02M47 50.5h1.02M60 50.5h1.02M62 50.5h1.02M66 50.5h1.02M70 50.5h1.02M72 50.5h1.02M75 50.5h1.02M77 50.5h1.02M82 50.5h1.02M84 50.5h1.02M99 50.5h1.02M106 50.5h2.02M111 50.5h2.02M114 50.5h2.02M120 50.5h1.02M132 50.5h1.02M134 50.5h1.02M136 50.5h1.02M28 51.5h2.02M31 51.5h3.02M43 51.5h1.02M60 51.5h1.02M63 51.5h2.02M66 51.5h1.02M71 51.5h2.02M74 51.5h3.02M78 51.5h2.02M81 51.5h3.02M101 51.5h1.02M105 51.5h1.02M108 51.5h1.02M110 51.5h1.02M112 51.5h1.02M117 51.5h1.02M131 51.5h2.02M135 51.5h1.02M44 52.5h1.02M47 52.5h1.02M49 52.5h1.02M93 52.5h1.02M103 52.5h4.02M108 52.5h1.02M110 52.5h1.02M116 52.5h1.02M118 52.5h1.02M98 53.5h1.02M102 53.5h1.02M104 53.5h1.02M106 53.5h1.02M109 53.5h1.02M116 53.5h3.02M120 53.5h1.02M42 54.5h1.02M62 54.5h1.02M72 54.5h1.02M75 54.5h1.02M116 54.5h2.02M125 54.5h1.02M128 54.5h3.02M132 54.5h3.02M42 55.5h2.02M43 56.5h1.02M62 56.5h2.02M74 56.5h3.02M78 56.5h1.02M82 56.5h3.02M43 57.5h1.02M61 57.5h1.02M63 57.5h1.02M74 57.5h2.02M78 57.5h1.02M81 57.5h4.02M24 58.5h1.02M33 58.5h1.02M40 58.5h1.02M80 58.5h2.02M41 59.5h2.02M27 60.5h1.02M32 60.5h1.02M38 60.5h1.02M50 60.5h2.02M12 61.5h1.02M27 61.5h1.02M31 61.5h2.02M40 61.5h2.02M57 61.5h1.02M11 62.5h2.02M28 62.5h1.02M49 62.5h2.02M54 62.5h1.02M56 62.5h1.02M11 63.5h1.02M51 63.5h1.02M56 63.5h2.02M10 64.5h1.02M41 64.5h1.02M51 64.5h1.02M36 65.5h1.02M38 65.5h1.02M41 65.5h1.02M10 66.5h1.02M24 66.5h1.02M36 66.5h2.02M50 66.5h2.02M27 67.5h1.02M31 67.5h1.02M33 67.5h1.02M35 67.5h1.02M38 67.5h1.02M40 67.5h2.02M12 68.5h1.02M34 68.5h2.02M40 68.5h2.02M10 69.5h3.02M24 69.5h1.02M12 70.5h1.02M35 70.5h3.02M40 70.5h3.02M50 70.5h1.02M115 70.5h1.02M41 71.5h1.02M51 71.5h1.02M11 72.5h2.02M24 72.5h1.02M50 72.5h2.02M54 72.5h1.02M11 73.5h1.02M25 73.5h1.02M36 73.5h1.02M12 74.5h1.02M41 74.5h1.02M51 74.5h1.02M56 74.5h2.02M116 74.5h3.02M120 74.5h1.02M130 74.5h1.02M11 75.5h2.02M50 75.5h2.02M54 75.5h1.02M56 75.5h2.02M118 75.5h2.02M130 75.5h1.02M11 76.5h1.02M24 76.5h1.02M51 76.5h1.02M56 76.5h1.02M11 77.5h1.02M24 77.5h2.02M49 77.5h2.02M51 78.5h1.02M56 78.5h2.02M10 79.5h3.02M51 79.5h1.02M42 80.5h1.02M58 80.5h1.02M24 81.5h1.02M43 81.5h3.02M47 81.5h1.02M51 81.5h1.02M57 81.5h2.02M11 82.5h2.02M24 82.5h1.02M26 82.5h1.02M40 82.5h4.02M50 82.5h2.02M56 82.5h2.02M12 83.5h1.02M35 83.5h1.02M38 83.5h1.02M43 83.5h1.02M49 83.5h1.02M51 83.5h1.02M56 83.5h2.02M12 84.5h1.02M24 84.5h1.02M37 84.5h1.02M40 84.5h2.02M49 84.5h2.02M56 84.5h2.02M24 85.5h1.02M29 85.5h1.02M37 85.5h1.02M40 85.5h2.02M43 85.5h1.02M24 86.5h1.02M30 86.5h1.02M40 86.5h1.02M43 86.5h1.02M38 87.5h4.02M43 87.5h1.02M24 88.5h1.02M28 88.5h1.02M38 88.5h1.02M41 88.5h1.02M44 88.5h4.02M11 89.5h1.02M24 89.5h1.02M26 89.5h1.02M37 89.5h2.02M41 89.5h3.02M27 90.5h2.02M30 90.5h2.02M11 91.5h2.02M24 91.5h1.02M26 91.5h1.02M36 91.5h1.02M38 91.5h4.02M12 92.5h1.02M28 92.5h2.02M31 92.5h3.02M37 92.5h4.02M43 92.5h1.02M10 93.5h3.02M35 93.5h1.02M41 93.5h2.02M52 93.5h1.02M24 94.5h2.02M31 94.5h1.02M34 94.5h1.02M37 94.5h1.02M40 94.5h1.02M4 95.5h1.02M8 95.5h1.02M24 95.5h1.02M28 95.5h1.02M31 95.5h3.02M37 95.5h2.02M41 95.5h3.02M24 96.5h1.02M41 96.5h1.02M3 97.5h2.02M7 97.5h3.02M25 97.5h1.02M40 97.5h2.02M3 98.5h2.02M6 98.5h1.02M8 98.5h2.02M18 98.5h1.02M24 98.5h1.02M40 98.5h2.02M53 98.5h1.02M8 99.5h1.02M50 99.5h1.02M40 100.5h1.02M42 100.5h1.02M24 101.5h1.02M40 101.5h1.02M51 101.5h1.02M24 102.5h1.02M27 102.5h2.02M40 102.5h1.02M42 102.5h1.02M49 102.5h1.02M53 102.5h1.02M52 103.5h1.02M40 104.5h2.02M52 104.5h2.02M40 105.5h1.02M42 105.5h1.02M51 105.5h2.02M40 106.5h1.02M49 106.5h2.02M52 106.5h2.02M41 107.5h3.02M49 107.5h2.02M40 108.5h1.02M42 108.5h1.02M49 108.5h1.02M51 108.5h2.02M114 108.5h1.02M130 108.5h2.02M40 109.5h1.02M53 109.5h1.02M34 110.5h1.02M40 110.5h1.02M51 110.5h2.02M42 111.5h1.02M50 111.5h1.02M28 112.5h2.02M31 112.5h2.02M42 112.5h1.02M49 112.5h3.02M24 113.5h1.02M33 113.5h2.02M29 114.5h1.02M33 114.5h3.02M42 114.5h1.02M49 114.5h2.02M108 114.5h1.02M28 115.5h1.02M50 115.5h1.02M70 115.5h1.02M27 116.5h2.02M31 116.5h3.02M41 116.5h3.02M52 116.5h3.02M74 116.5h1.02M28 117.5h1.02M30 117.5h1.02M33 117.5h1.02M41 117.5h2.02M51 117.5h1.02M53 117.5h2.02M74 117.5h1.02M29 118.5h2.02M33 118.5h1.02M49 118.5h1.02M52 118.5h2.02M74 118.5h2.02M24 119.5h1.02M29 119.5h1.02M49 119.5h1.02M75 119.5h1.02M28 120.5h2.02M41 120.5h1.02M49 120.5h2.02M53 120.5h1.02M74 120.5h1.02M29 121.5h3.02M34 121.5h1.02M41 121.5h2.02M28 122.5h2.02M31 122.5h3.02M36 122.5h1.02M31 123.5h1.02M33 123.5h1.02M28 124.5h2.02M34 124.5h2.02M42 124.5h1.02M30 125.5h1.02M32 125.5h3.02M37 125.5h1.02M42 125.5h2.02M54 125.5h1.02M24 126.5h1.02M29 126.5h1.02M31 126.5h3.02M35 126.5h1.02M42 126.5h1.02M31 127.5h1.02M27 128.5h1.02M29 128.5h3.02M33 128.5h1.02M36 128.5h1.02M42 128.5h1.02M54 128.5h1.02M28 129.5h6.02M40 129.5h2.02M43 129.5h1.02M54 129.5h1.02M27 130.5h1.02M32 130.5h1.02M39 130.5h1.02M41 130.5h1.02M43 130.5h1.02M54 130.5h1.02M74 130.5h2.02M108 130.5h1.02M30 131.5h3.02M42 131.5h1.02M49 131.5h1.02M51 131.5h1.02M108 131.5h1.02M30 132.5h1.02M41 132.5h2.02M49 132.5h3.02M54 132.5h1.02M27 133.5h2.02M30 133.5h2.02M33 133.5h1.02M41 133.5h2.02M49 133.5h1.02M54 133.5h1.02M27 134.5h6.02M40 134.5h3.02M49 134.5h2.02M54 134.5h1.02M28 135.5h4.02M33 135.5h1.02M41 135.5h2.02M51 135.5h1.02M31 136.5h1.02M42 136.5h1.02M50 136.5h1.02"/>
<path stroke="#f2744b" d="M120 3.5h1.02M120 4.5h1.02M120 8.5h1.02M97 10.5h1.02M47 11.5h3.02M95 11.5h1.02M47 12.5h2.02M97 12.5h2.02M98 14.5h1.02M110 14.5h1.02M74 15.5h1.02M74 17.5h2.02M74 18.5h2.02M74 20.5h1.02M75 23.5h1.02M104 24.5h1.02M106 24.5h1.02M52 25.5h1.02M63 25.5h1.02M72 27.5h2.02M46 28.5h1.02M69 28.5h1.02M72 28.5h1.02M80 28.5h1.02M52 29.5h1.02M69 29.5h1.02M72 29.5h2.02M59 30.5h1.02M73 30.5h1.02M52 31.5h1.02M69 31.5h1.02M72 31.5h2.02M80 31.5h1.02M46 32.5h1.02M68 32.5h1.02M46 33.5h1.02M69 33.5h1.02M71 33.5h1.02M81 33.5h1.02M64 35.5h1.02M103 35.5h1.02M106 35.5h1.02M108 35.5h1.02M103 36.5h1.02M59 37.5h1.02M104 37.5h2.02M107 37.5h2.02M59 38.5h1.02M104 38.5h1.02M108 38.5h1.02M80 40.5h1.02M77 42.5h1.02M62 43.5h1.02M69 43.5h1.02M75 43.5h2.02M55 44.5h1.02M60 44.5h1.02M67 44.5h1.02M72 44.5h1.02M74 44.5h1.02M76 44.5h2.02M79 44.5h1.02M55 45.5h2.02M67 45.5h1.02M72 45.5h1.02M75 45.5h3.02M79 45.5h1.02M28 46.5h1.02M32 46.5h2.02M75 46.5h1.02M77 46.5h2.02M116 46.5h1.02M118 46.5h1.02M11 47.5h2.02M55 47.5h3.02M67 47.5h1.02M72 47.5h1.02M75 47.5h1.02M77 47.5h1.02M79 47.5h1.02M11 48.5h2.02M56 48.5h1.02M67 48.5h1.02M72 48.5h1.02M11 49.5h1.02M85 49.5h1.02M87 49.5h2.02M86 50.5h3.02M93 50.5h1.02M95 50.5h4.02M85 51.5h2.02M88 51.5h1.02M25 52.5h1.02M29 52.5h1.02M31 52.5h1.02M86 52.5h3.02M85 53.5h2.02M88 53.5h1.02M99 54.5h3.02M104 54.5h2.02M44 55.5h2.02M47 55.5h1.02M62 55.5h2.02M66 55.5h1.02M73 55.5h1.02M76 55.5h2.02M82 55.5h1.02M100 55.5h2.02M45 56.5h1.02M47 56.5h2.02M68 56.5h1.02M71 56.5h1.02M47 57.5h1.02M93 57.5h1.02M91 58.5h1.02M93 58.5h1.02M95 58.5h1.02M30 59.5h1.02M37 59.5h2.02M44 60.5h1.02M90 60.5h1.02M115 60.5h1.02M90 61.5h1.02M118 61.5h1.02M120 61.5h1.02M43 62.5h1.02M55 62.5h1.02M115 62.5h1.02M25 63.5h1.02M55 63.5h1.02M120 63.5h1.02M35 64.5h1.02M85 64.5h2.02M119 64.5h1.02M55 66.5h1.02M44 67.5h2.02M47 67.5h2.02M90 67.5h1.02M32 68.5h1.02M56 68.5h1.02M28 69.5h2.02M31 69.5h1.02M33 69.5h1.02M43 69.5h1.02M33 71.5h1.02M56 71.5h1.02M27 72.5h3.02M31 72.5h1.02M44 72.5h2.02M47 72.5h2.02M27 73.5h1.02M29 73.5h3.02M55 73.5h1.02M15 74.5h1.02M17 74.5h2.02M20 74.5h1.02M44 74.5h1.02M85 74.5h3.02M92 74.5h1.02M113 74.5h1.02M123 74.5h2.02M17 75.5h2.02M23 75.5h1.02M43 75.5h1.02M45 75.5h3.02M87 75.5h2.02M95 75.5h1.02M43 76.5h3.02M55 76.5h1.02M42 77.5h1.02M44 77.5h4.02M55 77.5h1.02M92 77.5h1.02M115 77.5h1.02M46 78.5h1.02M91 78.5h1.02M115 78.5h1.02M44 79.5h2.02M47 79.5h1.02M95 79.5h1.02M28 80.5h1.02M31 80.5h1.02M40 80.5h1.02M86 80.5h1.02M91 80.5h1.02M93 80.5h1.02M95 80.5h1.02M33 81.5h1.02M86 81.5h1.02M90 81.5h1.02M108 81.5h1.02M55 82.5h1.02M116 82.5h1.02M116 83.5h1.02M119 83.5h1.02M116 84.5h2.02M49 85.5h1.02M51 85.5h1.02M53 85.5h1.02M64 85.5h1.02M74 85.5h1.02M50 86.5h4.02M64 86.5h1.02M74 86.5h1.02M80 86.5h2.02M49 87.5h2.02M52 87.5h1.02M74 87.5h2.02M49 88.5h5.02M75 88.5h1.02M104 88.5h1.02M107 88.5h1.02M118 89.5h1.02M60 90.5h2.02M67 90.5h1.02M81 90.5h1.02M110 90.5h1.02M58 91.5h1.02M78 91.5h1.02M80 91.5h1.02M117 91.5h2.02M74 92.5h1.02M77 92.5h1.02M50 93.5h1.02M57 93.5h2.02M80 93.5h1.02M11 95.5h1.02M50 95.5h1.02M58 95.5h1.02M75 95.5h1.02M79 95.5h2.02M50 96.5h1.02M10 97.5h1.02M12 97.5h1.02M50 97.5h1.02M12 98.5h1.02M14 98.5h1.02M50 98.5h1.02M54 99.5h1.02M54 100.5h2.02M54 101.5h2.02M35 103.5h2.02M24 104.5h1.02M37 104.5h2.02M54 104.5h1.02M88 104.5h1.02M117 104.5h1.02M130 104.5h1.02M37 105.5h1.02M54 105.5h1.02M24 106.5h1.02M35 106.5h1.02M37 107.5h1.02M88 107.5h1.02M35 108.5h1.02M37 108.5h2.02M81 108.5h1.02M123 108.5h1.02M125 108.5h2.02M128 108.5h1.02M134 108.5h2.02M130 109.5h1.02M14 110.5h1.02M90 110.5h1.02M126 110.5h1.02M74 113.5h1.02M60 115.5h1.02M62 115.5h1.02M77 115.5h2.02M46 116.5h1.02M82 116.5h3.02M84 117.5h1.02M91 117.5h1.02M104 117.5h1.02M46 118.5h1.02M61 118.5h1.02M89 118.5h1.02M91 118.5h1.02M64 119.5h1.02M83 119.5h1.02M3 120.5h2.02M8 120.5h1.02M61 120.5h1.02M63 120.5h1.02M74 123.5h1.02M108 123.5h1.02M74 124.5h1.02M108 125.5h1.02M108 126.5h1.02M110 126.5h1.02M108 128.5h1.02M104 130.5h1.02M109 130.5h1.02M108 134.5h1.02M108 135.5h1.02"/>
<path stroke="#5c8bc0" d="M5 4.5h3.02M9 4.5h1.02M4 5.5h1.02M9 5.5h1.02M4 6.5h1.02M4 7.5h1.02M8 7.5h1.02M7 8.5h1.02M9 8.5h1.02M4 9.5h2.02M8 9.5h1.02"/>
<path stroke="#93c1dc" d="M10 4.5h2.02M4 10.5h1.02M4 11.5h1.02"/>
<path stroke="#fcfec4" d="M12 4.5h1.02M12 11.5h1.02M4 12.5h1.02M11 12.5h1.02M76 12.5h1.02M37 33.5h1.02M33 37.5h1.02M58 54.5h1.02M93 55.5h1.02M54 58.5h1.02M69 62.5h1.02M75 62.5h1.02M70 67.5h1.02M62 69.5h1.02M67 70.5h1.02M62 75.5h1.02M12 76.5h1.02M55 93.5h1.02M98 97.5h1.02M97 98.5h1.02M120 116.5h1.02M119 118.5h1.02M118 119.5h1.02M116 120.5h1.02M134 132.5h1.02M134 133.5h1.02M132 134.5h2.02"/>
<path stroke="#e9f7e7" d="M13 4.5h1.02M13 6.5h1.02M13 7.5h1.02M14 9.5h1.02M4 13.5h1.02M6 13.5h2.02M9 14.5h1.02M32 31.5h1.02M31 32.5h1.02M55 54.5h1.02M54 55.5h1.02M78 76.5h1.02M76 78.5h1.02M111 80.5h1.02M84 82.5h1.02M82 84.5h1.02M95 94.5h1.02M94 95.5h1.02M103 102.5h1.02M102 103.5h1.02M80 111.5h1.02M122 113.5h1.02M113 122.5h1.02M135 129.5h1.02M129 135.5h1.02"/>
<path stroke="#e2f4f5" d="M14 4.5h1.02M14 6.5h1.02M13 8.5h2.02M8 13.5h1.02M4 14.5h1.02M6 14.5h1.02M8 14.5h1.02M21 18.5h1.02M18 21.5h1.02M30 29.5h1.02M29 30.5h1.02M65 61.5h1.02M61 65.5h1.02M107 106.5h1.02M106 107.5h1.02M128 125.5h1.02M125 128.5h1.02M135 133.5h1.02M133 135.5h1.02"/>
<path stroke="#ed6845" d="M49 4.5h1.02M108 4.5h1.02M108 6.5h1.02M49 8.5h1.02M108 8.5h1.02M103 10.5h1.02M106 10.5h1.02M110 10.5h1.02M117 10.5h1.02M123 10.5h1.02M127 10.5h1.02M132 10.5h1.02M136 10.5h1.02M101 11.5h4.02M106 11.5h1.02M110 11.5h1.02M115 11.5h1.02M121 11.5h1.02M123 11.5h2.02M127 11.5h1.02M132 11.5h1.02M134 11.5h1.02M136 11.5h1.02M100 12.5h1.02M102 12.5h3.02M106 12.5h5.02M115 12.5h1.02M121 12.5h1.02M123 12.5h2.02M126 12.5h4.02M131 12.5h1.02M135 12.5h1.02M17 13.5h8.02M27 13.5h1.02M29 13.5h1.02M31 13.5h2.02M35 13.5h1.02M37 13.5h7.02M46 13.5h1.02M48 13.5h2.02M62 14.5h1.02M81 14.5h1.02M84 14.5h1.02M20 15.5h1.02M24 15.5h1.02M27 15.5h1.02M30 15.5h1.02M32 15.5h1.02M25 16.5h1.02M28 16.5h6.02M52 16.5h1.02M13 17.5h1.02M98 17.5h1.02M13 18.5h1.02M13 19.5h1.02M13 20.5h1.02M15 20.5h1.02M13 21.5h1.02M75 21.5h1.02M13 22.5h1.02M13 23.5h1.02M38 23.5h1.02M13 24.5h1.02M15 24.5h1.02M107 24.5h1.02M110 24.5h1.02M16 25.5h1.02M59 25.5h1.02M65 25.5h1.02M106 25.5h1.02M110 25.5h2.02M59 26.5h1.02M103 26.5h1.02M106 26.5h1.02M111 26.5h1.02M13 27.5h1.02M15 27.5h1.02M44 27.5h1.02M50 27.5h1.02M70 27.5h1.02M85 27.5h2.02M88 27.5h1.02M94 27.5h1.02M119 27.5h3.02M123 27.5h1.02M16 28.5h1.02M59 28.5h1.02M70 28.5h1.02M87 28.5h1.02M93 28.5h1.02M127 28.5h1.02M13 29.5h1.02M16 29.5h1.02M44 29.5h1.02M70 29.5h1.02M86 29.5h2.02M113 29.5h1.02M123 29.5h1.02M127 29.5h1.02M15 30.5h2.02M43 30.5h1.02M62 30.5h1.02M66 30.5h1.02M70 30.5h1.02M88 30.5h1.02M93 30.5h1.02M13 31.5h1.02M16 31.5h1.02M59 31.5h1.02M66 31.5h1.02M70 31.5h1.02M87 31.5h1.02M93 31.5h1.02M113 31.5h1.02M119 31.5h1.02M13 32.5h1.02M15 32.5h2.02M66 32.5h2.02M85 32.5h4.02M120 32.5h2.02M16 33.5h1.02M66 33.5h1.02M70 33.5h1.02M85 33.5h1.02M59 34.5h1.02M104 34.5h1.02M106 34.5h2.02M13 35.5h1.02M105 35.5h1.02M121 35.5h3.02M127 35.5h1.02M59 36.5h1.02M69 36.5h1.02M107 36.5h2.02M123 36.5h2.02M127 36.5h1.02M13 37.5h1.02M68 37.5h2.02M72 37.5h2.02M113 37.5h1.02M122 37.5h2.02M126 37.5h1.02M13 38.5h1.02M23 38.5h1.02M68 38.5h1.02M71 38.5h1.02M73 38.5h1.02M113 38.5h1.02M121 38.5h2.02M125 38.5h2.02M13 39.5h1.02M78 39.5h3.02M122 39.5h1.02M124 39.5h1.02M128 39.5h2.02M13 40.5h1.02M62 40.5h1.02M69 40.5h1.02M127 40.5h1.02M131 40.5h1.02M136 40.5h1.02M13 41.5h1.02M62 41.5h1.02M111 41.5h1.02M114 41.5h2.02M123 41.5h1.02M127 41.5h1.02M136 41.5h1.02M13 42.5h1.02M72 42.5h1.02M76 42.5h1.02M79 42.5h1.02M123 42.5h1.02M13 43.5h1.02M30 43.5h1.02M58 43.5h1.02M61 43.5h1.02M63 43.5h1.02M65 43.5h1.02M70 43.5h2.02M74 43.5h1.02M100 43.5h1.02M106 43.5h1.02M111 43.5h1.02M113 43.5h2.02M117 43.5h2.02M120 43.5h2.02M123 43.5h2.02M127 43.5h1.02M136 43.5h1.02M27 44.5h1.02M29 44.5h1.02M50 44.5h2.02M71 44.5h1.02M80 44.5h1.02M49 45.5h1.02M51 45.5h1.02M70 45.5h2.02M73 45.5h1.02M80 45.5h1.02M13 46.5h1.02M49 46.5h1.02M71 46.5h2.02M71 47.5h1.02M80 47.5h1.02M13 48.5h1.02M50 48.5h2.02M70 48.5h1.02M4 49.5h1.02M8 49.5h1.02M13 49.5h1.02M45 49.5h2.02M97 49.5h2.02M103 49.5h1.02M121 49.5h1.02M124 49.5h3.02M27 50.5h1.02M44 50.5h1.02M48 50.5h1.02M56 50.5h1.02M58 50.5h2.02M103 50.5h1.02M123 50.5h2.02M44 51.5h2.02M48 51.5h1.02M56 51.5h1.02M58 51.5h1.02M111 51.5h1.02M115 51.5h1.02M119 51.5h1.02M124 51.5h1.02M16 52.5h1.02M115 52.5h1.02M119 52.5h1.02M109 54.5h1.02M115 54.5h1.02M119 54.5h1.02M68 55.5h1.02M80 55.5h1.02M84 55.5h1.02M50 56.5h2.02M89 56.5h1.02M91 56.5h1.02M77 57.5h1.02M95 57.5h1.02M43 58.5h1.02M50 58.5h2.02M62 58.5h1.02M75 58.5h1.02M77 58.5h1.02M82 58.5h2.02M89 58.5h1.02M92 58.5h1.02M25 59.5h2.02M28 59.5h1.02M31 59.5h1.02M34 59.5h1.02M36 59.5h1.02M50 59.5h1.02M43 61.5h1.02M115 61.5h1.02M14 62.5h1.02M30 62.5h1.02M40 62.5h2.02M58 62.5h1.02M43 63.5h1.02M115 64.5h1.02M120 64.5h1.02M25 65.5h1.02M43 65.5h1.02M30 66.5h4.02M32 67.5h1.02M37 68.5h2.02M55 68.5h1.02M36 69.5h2.02M40 69.5h1.02M27 70.5h5.02M33 70.5h1.02M43 70.5h1.02M45 70.5h1.02M48 70.5h1.02M38 71.5h1.02M43 71.5h5.02M115 71.5h1.02M37 72.5h1.02M42 72.5h1.02M46 72.5h1.02M37 73.5h2.02M45 73.5h1.02M43 74.5h1.02M112 74.5h1.02M131 74.5h2.02M21 75.5h1.02M58 75.5h1.02M112 75.5h2.02M132 75.5h2.02M42 76.5h1.02M57 77.5h2.02M39 78.5h1.02M39 79.5h1.02M42 79.5h1.02M39 80.5h1.02M44 80.5h2.02M47 80.5h1.02M55 80.5h1.02M14 81.5h1.02M58 82.5h1.02M58 83.5h1.02M14 84.5h1.02M55 84.5h1.02M27 85.5h1.02M32 85.5h2.02M27 86.5h1.02M29 86.5h1.02M32 86.5h1.02M28 87.5h2.02M31 87.5h2.02M27 88.5h1.02M30 88.5h1.02M32 88.5h1.02M56 89.5h1.02M58 89.5h1.02M56 91.5h1.02M58 92.5h1.02M28 93.5h1.02M30 93.5h2.02M27 94.5h1.02M57 95.5h1.02M49 97.5h1.02M17 98.5h1.02M49 98.5h1.02M12 100.5h1.02M43 100.5h1.02M11 101.5h1.02M11 102.5h2.02M10 103.5h3.02M26 103.5h1.02M49 103.5h2.02M118 103.5h1.02M120 103.5h1.02M11 104.5h2.02M34 104.5h1.02M118 104.5h1.02M35 105.5h1.02M10 106.5h3.02M25 106.5h2.02M34 106.5h1.02M43 106.5h1.02M12 107.5h1.02M24 107.5h1.02M34 107.5h1.02M36 107.5h1.02M4 108.5h1.02M6 108.5h1.02M8 108.5h1.02M12 108.5h1.02M36 108.5h1.02M115 108.5h1.02M117 108.5h1.02M133 108.5h1.02M12 109.5h1.02M54 109.5h1.02M10 110.5h3.02M24 110.5h2.02M25 111.5h2.02M41 111.5h1.02M43 111.5h1.02M51 111.5h1.02M74 112.5h2.02M29 113.5h1.02M31 113.5h1.02M37 113.5h2.02M43 113.5h1.02M75 113.5h1.02M41 114.5h1.02M43 114.5h1.02M11 115.5h2.02M41 115.5h1.02M51 115.5h2.02M54 115.5h1.02M61 115.5h1.02M64 115.5h1.02M71 115.5h1.02M108 115.5h1.02M10 117.5h1.02M43 117.5h1.02M108 117.5h1.02M43 118.5h1.02M103 118.5h2.02M27 119.5h1.02M31 119.5h1.02M51 119.5h2.02M54 119.5h1.02M27 120.5h1.02M32 120.5h1.02M43 120.5h1.02M64 120.5h1.02M103 120.5h1.02M11 121.5h2.02M27 121.5h1.02M32 121.5h1.02M35 121.5h1.02M38 121.5h1.02M43 121.5h1.02M49 121.5h1.02M35 122.5h1.02M37 122.5h3.02M10 123.5h3.02M27 123.5h1.02M29 123.5h1.02M35 123.5h3.02M41 123.5h3.02M50 123.5h1.02M11 124.5h2.02M36 124.5h1.02M39 124.5h1.02M43 124.5h1.02M49 124.5h3.02M38 125.5h1.02M49 125.5h1.02M12 126.5h1.02M37 126.5h2.02M49 126.5h1.02M10 127.5h3.02M28 127.5h2.02M35 127.5h2.02M40 127.5h2.02M43 127.5h1.02M12 128.5h1.02M39 128.5h1.02M12 129.5h1.02M39 129.5h1.02M12 131.5h1.02M40 131.5h1.02M74 131.5h1.02M10 132.5h2.02M74 132.5h2.02M75 133.5h1.02M108 133.5h1.02M11 134.5h1.02M12 135.5h1.02M10 136.5h2.02M40 136.5h2.02M43 136.5h1.02"/>
<path stroke="#ebf7e3" d="M14 5.5h1.02M13 9.5h1.02M58 10.5h1.02M9 13.5h1.02M5 14.5h1.02M21 19.5h1.02M19 21.5h1.02M45 44.5h1.02M44 45.5h1.02M10 58.5h1.02M77 62.5h1.02M72 71.5h1.02M71 72.5h1.02M62 77.5h1.02M107 105.5h1.02M105 107.5h1.02M133 130.5h1.02M130 133.5h1.02"/>
<path stroke="#9dc7df" d="M10 6.5h1.02M11 9.5h1.02M6 10.5h1.02M9 11.5h1.02"/>
<path stroke="#fffebe" d="M12 6.5h1.02M6 12.5h1.02M92 55.5h1.02M59 57.5h1.02M57 59.5h1.02M60 59.5h1.02M59 60.5h1.02M68 62.5h1.02M79 62.5h1.02M62 68.5h1.02M62 79.5h1.02M55 92.5h1.02M133 113.5h1.02M113 133.5h1.02"/>
<path stroke="#78a6ce" d="M9 7.5h1.02M7 9.5h1.02"/>
<path stroke="#b0d3e6" d="M10 7.5h1.02M7 10.5h1.02"/>
<path stroke="#fda468" d="M113 8.5h1.02M85 10.5h4.02M94 10.5h1.02M118 10.5h1.02M85 11.5h2.02M88 11.5h1.02M86 12.5h1.02M88 12.5h1.02M85 14.5h2.02M94 14.5h1.02M35 15.5h2.02M23 16.5h1.02M25 18.5h1.02M26 20.5h1.02M16 23.5h1.02M18 25.5h1.02M20 26.5h1.02M15 35.5h1.02M79 35.5h1.02M15 36.5h1.02M79 36.5h1.02M77 37.5h2.02M76 38.5h2.02M79 38.5h1.02M60 39.5h1.02M65 39.5h1.02M125 44.5h1.02M126 46.5h1.02M127 47.5h1.02M128 48.5h1.02M117 55.5h1.02M119 55.5h1.02M121 55.5h1.02M126 55.5h1.02M122 56.5h1.02M125 56.5h1.02M128 56.5h1.02M105 58.5h1.02M107 58.5h4.02M76 59.5h1.02M82 59.5h1.02M84 59.5h1.02M99 59.5h1.02M122 59.5h1.02M126 59.5h1.02M129 59.5h2.02M39 60.5h1.02M98 60.5h1.02M102 60.5h2.02M120 60.5h1.02M123 60.5h1.02M99 61.5h1.02M101 61.5h1.02M121 61.5h1.02M134 61.5h2.02M123 64.5h1.02M39 65.5h1.02M98 67.5h1.02M74 70.5h2.02M84 70.5h1.02M122 70.5h2.02M74 71.5h2.02M81 71.5h1.02M83 71.5h1.02M113 71.5h1.02M126 71.5h1.02M132 71.5h2.02M74 72.5h1.02M81 72.5h1.02M116 72.5h1.02M81 73.5h2.02M93 73.5h1.02M117 73.5h1.02M70 74.5h3.02M82 74.5h1.02M70 75.5h2.02M84 75.5h1.02M38 76.5h1.02M59 76.5h1.02M84 76.5h1.02M90 76.5h1.02M100 76.5h1.02M128 76.5h1.02M37 77.5h2.02M90 77.5h1.02M132 77.5h1.02M37 78.5h1.02M81 78.5h1.02M132 78.5h1.02M35 79.5h2.02M38 79.5h1.02M81 79.5h1.02M84 80.5h1.02M102 80.5h1.02M71 81.5h3.02M78 81.5h2.02M93 81.5h1.02M59 82.5h1.02M73 82.5h2.02M93 82.5h1.02M95 82.5h1.02M97 82.5h2.02M102 82.5h1.02M108 82.5h1.02M110 82.5h1.02M71 83.5h1.02M97 83.5h1.02M104 83.5h1.02M107 83.5h2.02M110 83.5h1.02M114 83.5h1.02M121 83.5h1.02M59 84.5h1.02M70 84.5h1.02M75 84.5h2.02M80 84.5h1.02M103 84.5h1.02M110 84.5h1.02M10 85.5h2.02M14 85.5h1.02M10 86.5h3.02M14 86.5h1.02M10 87.5h1.02M112 87.5h1.02M10 88.5h3.02M110 88.5h1.02M98 89.5h2.02M104 89.5h1.02M106 89.5h1.02M128 89.5h2.02M132 89.5h1.02M136 89.5h1.02M76 90.5h2.02M101 90.5h1.02M98 91.5h2.02M104 91.5h1.02M128 91.5h1.02M131 91.5h1.02M133 91.5h1.02M136 91.5h1.02M104 92.5h1.02M118 92.5h1.02M120 92.5h3.02M124 92.5h1.02M126 92.5h1.02M133 92.5h1.02M135 92.5h1.02M73 93.5h1.02M81 93.5h2.02M98 93.5h1.02M118 93.5h1.02M121 93.5h1.02M130 93.5h1.02M136 93.5h1.02M10 94.5h1.02M14 94.5h1.02M101 94.5h1.02M118 94.5h1.02M124 94.5h1.02M132 94.5h2.02M82 95.5h1.02M98 95.5h1.02M102 95.5h1.02M126 95.5h1.02M129 95.5h1.02M131 95.5h1.02M134 95.5h1.02M107 96.5h1.02M109 96.5h1.02M82 97.5h2.02M134 97.5h1.02M60 98.5h1.02M67 98.5h1.02M82 98.5h1.02M89 98.5h1.02M91 98.5h1.02M93 98.5h1.02M95 98.5h1.02M105 98.5h1.02M107 98.5h1.02M59 99.5h1.02M61 99.5h1.02M89 99.5h1.02M91 99.5h1.02M76 100.5h1.02M61 101.5h1.02M90 101.5h1.02M94 101.5h1.02M60 102.5h1.02M80 102.5h1.02M82 102.5h1.02M95 102.5h1.02M60 103.5h1.02M84 103.5h1.02M124 103.5h1.02M134 103.5h1.02M83 104.5h1.02M89 104.5h1.02M91 104.5h2.02M123 104.5h1.02M58 105.5h1.02M98 105.5h1.02M119 105.5h1.02M126 105.5h1.02M128 105.5h2.02M131 105.5h1.02M89 106.5h1.02M119 106.5h1.02M126 106.5h1.02M129 106.5h1.02M58 107.5h1.02M83 107.5h1.02M96 107.5h1.02M98 107.5h1.02M118 107.5h2.02M131 107.5h2.02M58 108.5h1.02M82 108.5h2.02M58 109.5h1.02M96 109.5h1.02M58 110.5h1.02M82 110.5h3.02M88 110.5h1.02M117 111.5h1.02M87 112.5h1.02M117 112.5h1.02M8 113.5h1.02M71 113.5h1.02M83 114.5h1.02M126 114.5h1.02M129 114.5h1.02M72 116.5h1.02M55 117.5h1.02M73 117.5h1.02M111 117.5h2.02M10 118.5h1.02M92 118.5h3.02M107 118.5h1.02M55 119.5h1.02M105 119.5h3.02M60 120.5h1.02M92 120.5h1.02M55 121.5h1.02M61 121.5h1.02M83 121.5h1.02M92 121.5h2.02M56 122.5h1.02M59 122.5h1.02M70 122.5h1.02M92 122.5h1.02M60 123.5h1.02M64 123.5h1.02M70 123.5h1.02M104 123.5h1.02M92 124.5h1.02M94 124.5h1.02M103 124.5h1.02M44 125.5h1.02M56 125.5h1.02M46 126.5h1.02M55 126.5h1.02M59 126.5h1.02M71 126.5h1.02M92 126.5h1.02M95 126.5h1.02M105 126.5h2.02M114 126.5h1.02M47 127.5h1.02M48 128.5h1.02M56 128.5h1.02M76 128.5h1.02M89 128.5h1.02M91 128.5h1.02M105 128.5h1.02M59 129.5h1.02M89 129.5h1.02M95 129.5h1.02M105 129.5h2.02M114 129.5h1.02M59 130.5h1.02M93 130.5h1.02M91 131.5h1.02M95 131.5h1.02M105 131.5h1.02M107 131.5h1.02M71 132.5h1.02M77 132.5h2.02M89 132.5h1.02M94 132.5h1.02M107 132.5h1.02M71 133.5h1.02M91 133.5h2.02M94 133.5h1.02M61 134.5h1.02M95 134.5h1.02M97 134.5h1.02M103 134.5h1.02M61 135.5h1.02M92 135.5h1.02M89 136.5h1.02M91 136.5h1.02M93 136.5h1.02"/>
<path stroke="#a2cae1" d="M10 9.5h1.02M9 10.5h1.02M11 10.5h1.02M10 11.5h1.02"/>
<path stroke="#feffc1" d="M12 10.5h1.02M10 12.5h1.02M23 17.5h1.02M17 23.5h1.02M59 54.5h1.02M95 55.5h1.02M113 57.5h1.02M113 58.5h1.02M54 59.5h1.02M55 95.5h1.02M107 104.5h1.02M104 107.5h1.02M114 112.5h1.02M57 113.5h2.02M112 114.5h1.02M120 117.5h1.02M120 119.5h1.02M117 120.5h1.02M119 120.5h1.02"/>
<path stroke="#d2eaf3" d="M13 10.5h1.02M14 11.5h1.02M10 13.5h1.02M56 13.5h1.02M11 14.5h1.02M23 22.5h1.02M22 23.5h1.02M13 56.5h1.02M63 61.5h2.02M61 63.5h1.02M61 64.5h1.02M67 65.5h1.02M65 67.5h1.02M80 77.5h1.02M77 80.5h1.02M127 125.5h1.02M125 127.5h1.02"/>
<path stroke="#dbf0f6" d="M14 10.5h1.02M13 11.5h1.02M11 13.5h1.02M10 14.5h1.02M20 17.5h1.02M17 20.5h1.02M97 43.5h1.02M111 76.5h1.02M93 92.5h1.02M92 93.5h1.02M43 97.5h1.02M76 111.5h1.02"/>
<path stroke="#fee99e" d="M52 10.5h1.02M52 11.5h1.02M52 13.5h1.02M52 17.5h1.02M27 24.5h1.02M24 27.5h1.02M43 35.5h1.02M43 36.5h1.02M35 43.5h2.02M10 52.5h2.02M13 52.5h1.02M17 52.5h1.02M58 53.5h1.02M53 58.5h1.02M106 62.5h1.02M106 69.5h1.02M112 69.5h2.02M131 69.5h2.02M72 70.5h1.02M70 72.5h1.02M97 72.5h1.02M100 72.5h1.02M98 73.5h1.02M101 73.5h3.02M76 75.5h1.02M78 75.5h1.02M75 76.5h1.02M123 77.5h1.02M75 78.5h1.02M91 83.5h1.02M110 85.5h1.02M114 85.5h1.02M123 85.5h2.02M122 86.5h1.02M124 89.5h1.02M83 91.5h1.02M121 91.5h1.02M124 91.5h1.02M72 97.5h1.02M104 97.5h1.02M110 97.5h1.02M112 97.5h1.02M73 98.5h1.02M72 100.5h1.02M73 101.5h1.02M73 102.5h1.02M73 103.5h1.02M97 104.5h1.02M62 106.5h1.02M69 106.5h1.02M108 106.5h1.02M106 108.5h1.02M85 110.5h1.02M97 110.5h1.02M123 111.5h1.02M69 112.5h1.02M97 112.5h1.02M121 112.5h1.02M69 113.5h1.02M120 113.5h2.02M85 114.5h1.02M121 119.5h1.02M125 119.5h1.02M113 120.5h1.02M91 121.5h1.02M112 121.5h2.02M119 121.5h1.02M86 122.5h1.02M77 123.5h1.02M85 123.5h1.02M111 123.5h1.02M85 124.5h1.02M89 124.5h1.02M91 124.5h1.02M119 125.5h1.02M131 127.5h2.02M69 131.5h1.02M127 131.5h1.02M69 132.5h1.02M127 132.5h1.02"/>
<path stroke="#fee699" d="M53 10.5h1.02M53 12.5h1.02M60 12.5h1.02M33 19.5h1.02M23 21.5h1.02M21 23.5h1.02M28 24.5h1.02M24 28.5h1.02M34 29.5h1.02M38 31.5h1.02M37 32.5h1.02M19 33.5h1.02M29 34.5h1.02M98 36.5h1.02M32 37.5h1.02M31 38.5h1.02M53 44.5h1.02M53 45.5h1.02M53 47.5h1.02M53 48.5h1.02M60 52.5h1.02M10 53.5h1.02M12 53.5h1.02M44 53.5h2.02M47 53.5h2.02M57 53.5h1.02M59 53.5h1.02M113 54.5h1.02M113 55.5h1.02M60 56.5h1.02M53 57.5h1.02M118 57.5h1.02M136 57.5h1.02M112 58.5h1.02M53 59.5h1.02M110 59.5h1.02M12 60.5h1.02M52 60.5h1.02M56 60.5h1.02M104 62.5h1.02M106 63.5h1.02M77 65.5h1.02M123 65.5h1.02M77 66.5h1.02M109 66.5h1.02M121 66.5h1.02M131 67.5h1.02M77 68.5h1.02M75 69.5h1.02M110 69.5h2.02M135 69.5h1.02M96 70.5h1.02M103 70.5h1.02M77 71.5h1.02M103 71.5h1.02M99 72.5h1.02M100 73.5h1.02M76 74.5h1.02M69 75.5h1.02M80 75.5h1.02M74 76.5h1.02M98 76.5h1.02M103 76.5h1.02M65 77.5h2.02M68 77.5h1.02M71 77.5h1.02M124 77.5h1.02M110 78.5h1.02M121 78.5h1.02M124 78.5h1.02M109 79.5h1.02M75 80.5h1.02M96 80.5h2.02M111 86.5h1.02M121 89.5h1.02M123 89.5h1.02M127 89.5h1.02M122 90.5h1.02M114 94.5h1.02M112 95.5h1.02M70 96.5h1.02M80 96.5h1.02M80 97.5h1.02M36 98.5h1.02M76 98.5h1.02M72 99.5h1.02M73 100.5h1.02M70 103.5h2.02M76 103.5h1.02M62 104.5h1.02M111 105.5h1.02M121 105.5h1.02M63 106.5h1.02M109 106.5h1.02M111 106.5h1.02M108 107.5h1.02M111 107.5h1.02M107 108.5h1.02M66 109.5h1.02M79 109.5h1.02M106 109.5h1.02M59 110.5h1.02M69 110.5h1.02M78 110.5h1.02M69 111.5h1.02M86 111.5h1.02M105 111.5h3.02M58 112.5h1.02M95 112.5h1.02M54 113.5h2.02M117 113.5h1.02M94 114.5h1.02M133 115.5h1.02M113 117.5h1.02M57 118.5h1.02M125 120.5h1.02M66 121.5h1.02M78 121.5h1.02M89 121.5h1.02M105 121.5h1.02M90 122.5h1.02M65 123.5h1.02M89 123.5h1.02M132 123.5h1.02M77 124.5h2.02M127 124.5h1.02M120 125.5h1.02M135 125.5h1.02M131 126.5h1.02M89 127.5h1.02M124 127.5h1.02M129 127.5h1.02M133 127.5h1.02M127 129.5h1.02M67 131.5h1.02M126 131.5h1.02M123 132.5h1.02M115 133.5h1.02M127 133.5h1.02M69 135.5h1.02M125 135.5h1.02M57 136.5h1.02"/>
<path stroke="#feeba1" d="M54 10.5h1.02M59 10.5h1.02M59 11.5h1.02M52 12.5h1.02M59 12.5h1.02M59 13.5h1.02M113 13.5h1.02M114 14.5h1.02M22 18.5h1.02M18 22.5h1.02M33 23.5h1.02M33 31.5h1.02M23 33.5h1.02M31 33.5h1.02M75 34.5h1.02M98 35.5h1.02M98 38.5h1.02M12 52.5h1.02M58 52.5h2.02M10 54.5h1.02M52 58.5h1.02M111 58.5h1.02M10 59.5h4.02M52 59.5h1.02M80 61.5h1.02M71 63.5h1.02M70 64.5h1.02M75 64.5h1.02M111 64.5h1.02M128 65.5h1.02M126 67.5h1.02M64 70.5h1.02M63 71.5h1.02M96 72.5h1.02M77 74.5h1.02M79 74.5h1.02M34 75.5h1.02M64 75.5h1.02M79 75.5h1.02M96 76.5h1.02M74 77.5h1.02M74 79.5h2.02M96 79.5h1.02M61 80.5h1.02M90 82.5h1.02M123 82.5h1.02M90 83.5h1.02M88 84.5h1.02M112 86.5h1.02M114 86.5h1.02M123 86.5h1.02M84 88.5h1.02M95 89.5h1.02M82 90.5h2.02M95 90.5h1.02M123 91.5h1.02M89 95.5h2.02M72 96.5h1.02M76 96.5h1.02M79 96.5h1.02M104 96.5h1.02M35 98.5h1.02M38 98.5h1.02M107 101.5h1.02M105 102.5h1.02M96 104.5h1.02M102 105.5h1.02M112 106.5h1.02M101 107.5h1.02M58 111.5h1.02M64 111.5h1.02M124 111.5h1.02M86 112.5h1.02M106 112.5h1.02M123 112.5h1.02M13 113.5h1.02M14 114.5h1.02M86 114.5h1.02M127 118.5h1.02M126 120.5h1.02M82 123.5h1.02M86 123.5h1.02M91 123.5h1.02M112 123.5h1.02M127 123.5h1.02M111 124.5h1.02M67 126.5h1.02M120 126.5h1.02M118 127.5h1.02M123 127.5h1.02M65 128.5h1.02"/>
<path stroke="#f8fccb" d="M56 10.5h1.02M57 14.5h1.02M38 36.5h1.02M38 37.5h1.02M36 38.5h2.02M96 55.5h1.02M10 56.5h1.02M14 57.5h1.02M72 60.5h1.02M76 64.5h1.02M69 66.5h1.02M70 68.5h1.02M66 69.5h1.02M68 70.5h1.02M60 72.5h1.02M64 76.5h1.02M55 96.5h1.02M113 111.5h2.02M111 113.5h1.02M127 113.5h1.02M111 114.5h1.02M134 118.5h1.02M113 127.5h1.02M134 131.5h1.02M118 134.5h1.02M131 134.5h1.02"/>
<path stroke="#fee496" d="M60 10.5h1.02M96 13.5h1.02M53 14.5h1.02M34 17.5h1.02M52 20.5h1.02M35 30.5h1.02M38 30.5h1.02M34 31.5h1.02M34 32.5h1.02M17 34.5h1.02M31 34.5h2.02M30 35.5h1.02M30 38.5h1.02M98 43.5h1.02M53 46.5h1.02M20 52.5h1.02M14 53.5h1.02M46 53.5h1.02M114 54.5h1.02M114 55.5h1.02M119 56.5h2.02M120 58.5h1.02M129 58.5h1.02M10 60.5h1.02M111 60.5h1.02M105 62.5h1.02M104 63.5h1.02M104 64.5h1.02M106 64.5h1.02M112 65.5h1.02M133 65.5h1.02M72 66.5h1.02M78 66.5h1.02M112 66.5h1.02M120 66.5h1.02M123 66.5h1.02M129 66.5h1.02M135 66.5h2.02M111 67.5h1.02M78 68.5h1.02M106 68.5h1.02M111 68.5h1.02M129 68.5h1.02M132 68.5h1.02M134 68.5h3.02M72 69.5h2.02M78 69.5h1.02M109 69.5h1.02M120 69.5h1.02M129 69.5h1.02M136 69.5h1.02M73 70.5h1.02M76 71.5h1.02M66 72.5h1.02M69 72.5h1.02M104 72.5h1.02M69 73.5h2.02M111 75.5h1.02M71 76.5h1.02M104 76.5h1.02M103 77.5h2.02M106 77.5h1.02M66 78.5h1.02M68 78.5h2.02M104 78.5h1.02M124 79.5h1.02M124 82.5h1.02M93 85.5h1.02M112 85.5h1.02M110 86.5h1.02M114 88.5h1.02M122 89.5h1.02M122 91.5h1.02M85 93.5h1.02M114 95.5h1.02M13 96.5h1.02M108 97.5h1.02M43 98.5h1.02M105 99.5h1.02M77 103.5h1.02M63 104.5h2.02M72 104.5h1.02M76 104.5h3.02M62 105.5h1.02M99 105.5h1.02M64 106.5h1.02M68 106.5h1.02M77 106.5h1.02M110 106.5h1.02M109 107.5h1.02M97 108.5h1.02M69 109.5h1.02M107 109.5h1.02M86 110.5h1.02M106 110.5h1.02M60 111.5h1.02M67 111.5h2.02M75 111.5h1.02M65 112.5h2.02M85 112.5h1.02M124 112.5h1.02M54 114.5h2.02M88 114.5h1.02M95 114.5h1.02M119 115.5h1.02M121 115.5h1.02M126 115.5h1.02M132 115.5h1.02M119 116.5h1.02M127 116.5h1.02M118 117.5h2.02M127 117.5h1.02M117 118.5h1.02M56 119.5h1.02M115 119.5h3.02M130 119.5h1.02M56 120.5h1.02M58 120.5h1.02M66 120.5h1.02M69 120.5h1.02M121 120.5h1.02M115 121.5h1.02M120 121.5h1.02M89 122.5h1.02M91 122.5h1.02M127 122.5h1.02M66 123.5h1.02M126 123.5h1.02M79 124.5h1.02M82 124.5h1.02M112 124.5h1.02M115 126.5h1.02M123 126.5h1.02M129 126.5h1.02M133 126.5h1.02M116 127.5h2.02M122 127.5h1.02M134 127.5h1.02M136 127.5h1.02M136 128.5h1.02M58 129.5h1.02M66 129.5h1.02M68 129.5h2.02M126 129.5h1.02M119 130.5h1.02M68 132.5h1.02M115 132.5h1.02M65 133.5h1.02M126 133.5h1.02M68 134.5h1.02M127 134.5h1.02M66 135.5h1.02M68 135.5h1.02M66 136.5h1.02M68 136.5h2.02M127 136.5h2.02"/>
<path stroke="#fdb372" d="M96 10.5h1.02M112 10.5h1.02M96 11.5h1.02M80 12.5h1.02M112 12.5h1.02M96 14.5h1.02M111 14.5h2.02M34 16.5h1.02M25 17.5h1.02M24 18.5h1.02M36 18.5h1.02M38 18.5h1.02M37 19.5h1.02M38 20.5h1.02M18 24.5h1.02M17 25.5h1.02M31 25.5h2.02M36 25.5h2.02M35 26.5h1.02M74 27.5h1.02M74 29.5h2.02M74 30.5h1.02M25 31.5h1.02M74 31.5h1.02M25 32.5h1.02M74 33.5h1.02M16 34.5h1.02M96 34.5h2.02M26 35.5h1.02M18 36.5h1.02M25 36.5h1.02M19 37.5h1.02M25 37.5h1.02M18 38.5h1.02M20 38.5h1.02M66 39.5h1.02M127 45.5h1.02M127 48.5h1.02M92 50.5h1.02M122 58.5h1.02M118 59.5h1.02M120 59.5h2.02M127 59.5h2.02M86 60.5h2.02M89 61.5h1.02M102 61.5h1.02M125 61.5h1.02M136 61.5h1.02M99 62.5h3.02M123 62.5h2.02M135 62.5h1.02M95 63.5h1.02M99 63.5h1.02M121 63.5h1.02M129 63.5h1.02M135 63.5h1.02M81 64.5h1.02M89 64.5h1.02M96 64.5h2.02M101 64.5h2.02M134 64.5h2.02M89 65.5h1.02M100 65.5h3.02M39 66.5h1.02M99 66.5h1.02M101 66.5h1.02M97 67.5h1.02M89 70.5h1.02M75 72.5h1.02M82 72.5h1.02M120 72.5h1.02M89 73.5h1.02M116 73.5h1.02M27 74.5h1.02M29 74.5h3.02M33 74.5h1.02M106 74.5h1.02M29 75.5h1.02M72 75.5h1.02M105 75.5h2.02M127 76.5h1.02M83 77.5h1.02M101 77.5h1.02M126 77.5h3.02M83 78.5h2.02M127 78.5h1.02M89 79.5h1.02M126 79.5h1.02M12 80.5h1.02M127 80.5h1.02M64 81.5h1.02M72 82.5h1.02M109 82.5h1.02M112 82.5h1.02M77 83.5h2.02M111 83.5h1.02M113 83.5h1.02M78 84.5h1.02M111 84.5h1.02M86 85.5h1.02M99 85.5h1.02M104 85.5h1.02M126 85.5h1.02M131 85.5h1.02M134 85.5h1.02M136 85.5h1.02M60 86.5h1.02M85 86.5h1.02M99 86.5h1.02M108 86.5h1.02M126 86.5h1.02M128 86.5h1.02M131 86.5h1.02M134 86.5h1.02M60 87.5h1.02M95 87.5h1.02M117 87.5h1.02M89 88.5h1.02M91 88.5h1.02M94 88.5h1.02M117 88.5h1.02M120 88.5h1.02M61 89.5h1.02M64 89.5h2.02M70 89.5h1.02M73 89.5h1.02M79 89.5h1.02M88 89.5h1.02M116 90.5h1.02M88 91.5h1.02M102 91.5h1.02M50 92.5h1.02M116 92.5h1.02M100 93.5h1.02M120 93.5h1.02M127 93.5h1.02M88 94.5h1.02M116 94.5h1.02M121 94.5h1.02M123 94.5h1.02M136 94.5h1.02M63 95.5h1.02M87 95.5h1.02M116 95.5h1.02M10 96.5h2.02M14 96.5h1.02M34 96.5h1.02M64 96.5h1.02M106 96.5h1.02M120 96.5h1.02M134 96.5h1.02M136 96.5h1.02M34 97.5h1.02M64 97.5h1.02M67 97.5h1.02M121 97.5h1.02M123 97.5h1.02M118 98.5h1.02M122 98.5h1.02M124 98.5h1.02M62 99.5h2.02M66 99.5h1.02M85 99.5h2.02M117 99.5h1.02M125 99.5h1.02M129 99.5h2.02M62 100.5h1.02M65 100.5h1.02M93 100.5h1.02M62 101.5h1.02M64 101.5h3.02M77 101.5h1.02M130 101.5h1.02M61 102.5h1.02M64 102.5h2.02M91 102.5h1.02M85 104.5h1.02M75 105.5h1.02M114 105.5h1.02M74 106.5h2.02M96 106.5h1.02M130 106.5h2.02M133 106.5h1.02M86 108.5h1.02M121 108.5h1.02M82 109.5h1.02M123 109.5h1.02M135 109.5h1.02M135 110.5h1.02M14 111.5h1.02M83 111.5h2.02M10 112.5h1.02M12 112.5h1.02M14 112.5h1.02M82 112.5h1.02M83 113.5h1.02M105 114.5h1.02M116 114.5h1.02M123 114.5h2.02M133 114.5h1.02M135 114.5h2.02M73 116.5h1.02M90 116.5h1.02M92 116.5h1.02M94 116.5h2.02M114 116.5h1.02M87 117.5h2.02M99 117.5h1.02M59 118.5h1.02M98 118.5h1.02M59 120.5h1.02M72 120.5h1.02M88 120.5h1.02M93 120.5h1.02M96 120.5h1.02M59 121.5h1.02M63 121.5h1.02M94 121.5h1.02M97 121.5h1.02M108 121.5h1.02M58 122.5h1.02M98 122.5h1.02M62 123.5h1.02M94 123.5h1.02M97 123.5h1.02M109 123.5h1.02M114 123.5h1.02M62 124.5h1.02M98 124.5h1.02M114 124.5h1.02M61 125.5h1.02M99 125.5h1.02M77 126.5h1.02M79 126.5h1.02M85 126.5h2.02M45 127.5h1.02M48 127.5h1.02M59 127.5h1.02M76 127.5h3.02M80 127.5h1.02M93 127.5h1.02M59 128.5h1.02M77 128.5h1.02M86 128.5h1.02M63 129.5h1.02M99 129.5h1.02M99 130.5h1.02M101 130.5h1.02M106 130.5h1.02M85 131.5h2.02M106 131.5h1.02M106 133.5h1.02M114 133.5h1.02M64 134.5h1.02M85 134.5h2.02M96 134.5h1.02M62 135.5h3.02M109 135.5h2.02M114 135.5h1.02M61 136.5h1.02M85 136.5h1.02M94 136.5h1.02M96 136.5h1.02M114 136.5h1.02"/>
<path stroke="#fdb875" d="M111 10.5h1.02M111 11.5h2.02M111 12.5h1.02M38 16.5h1.02M35 17.5h2.02M37 18.5h1.02M24 19.5h1.02M36 19.5h1.02M38 19.5h1.02M36 20.5h1.02M33 21.5h2.02M19 24.5h1.02M35 24.5h1.02M30 25.5h1.02M38 25.5h1.02M30 26.5h2.02M38 26.5h1.02M34 27.5h1.02M25 30.5h2.02M26 31.5h1.02M75 31.5h1.02M75 32.5h1.02M21 33.5h1.02M75 33.5h1.02M21 34.5h1.02M27 34.5h1.02M17 35.5h1.02M24 35.5h1.02M17 36.5h1.02M19 36.5h2.02M18 37.5h1.02M16 38.5h1.02M19 38.5h1.02M25 38.5h2.02M62 39.5h1.02M69 39.5h1.02M126 48.5h1.02M89 50.5h1.02M89 51.5h1.02M53 52.5h1.02M52 53.5h1.02M55 53.5h1.02M85 54.5h1.02M92 54.5h1.02M95 54.5h1.02M53 55.5h1.02M94 56.5h1.02M123 56.5h1.02M124 57.5h1.02M133 57.5h1.02M125 58.5h1.02M128 58.5h1.02M133 58.5h1.02M97 59.5h2.02M133 59.5h1.02M88 60.5h1.02M96 60.5h1.02M98 61.5h1.02M103 61.5h1.02M129 61.5h1.02M39 62.5h1.02M95 62.5h1.02M81 63.5h1.02M89 63.5h1.02M98 64.5h1.02M128 64.5h2.02M95 65.5h1.02M98 65.5h1.02M116 65.5h1.02M100 66.5h1.02M95 67.5h1.02M107 67.5h1.02M89 68.5h1.02M96 68.5h1.02M102 68.5h1.02M39 69.5h1.02M135 70.5h1.02M109 71.5h1.02M130 72.5h1.02M120 73.5h1.02M103 74.5h1.02M31 75.5h3.02M103 75.5h1.02M84 77.5h1.02M89 77.5h1.02M85 78.5h1.02M134 78.5h2.02M114 80.5h1.02M136 80.5h1.02M63 81.5h1.02M113 82.5h2.02M86 83.5h1.02M77 84.5h1.02M85 84.5h1.02M54 85.5h1.02M78 85.5h1.02M84 85.5h1.02M106 85.5h1.02M109 85.5h1.02M132 85.5h1.02M83 86.5h1.02M109 86.5h1.02M133 86.5h1.02M135 86.5h2.02M96 87.5h1.02M60 88.5h1.02M95 88.5h1.02M50 89.5h2.02M63 89.5h1.02M68 89.5h1.02M77 89.5h1.02M120 89.5h1.02M119 90.5h1.02M100 91.5h2.02M54 92.5h1.02M56 94.5h1.02M102 94.5h1.02M127 94.5h1.02M54 95.5h1.02M62 95.5h1.02M65 95.5h1.02M67 95.5h1.02M88 95.5h1.02M60 96.5h1.02M68 96.5h1.02M87 96.5h1.02M116 96.5h1.02M119 96.5h1.02M121 96.5h1.02M123 96.5h1.02M59 97.5h1.02M118 97.5h2.02M136 97.5h1.02M59 98.5h1.02M61 98.5h1.02M64 98.5h2.02M119 98.5h2.02M123 98.5h1.02M110 99.5h1.02M116 99.5h1.02M131 99.5h1.02M135 99.5h1.02M66 100.5h1.02M91 100.5h1.02M129 100.5h1.02M134 100.5h1.02M91 101.5h1.02M68 102.5h1.02M94 102.5h1.02M61 103.5h1.02M74 103.5h2.02M85 106.5h1.02M116 106.5h1.02M125 106.5h1.02M67 107.5h1.02M122 107.5h1.02M113 108.5h1.02M71 109.5h1.02M85 109.5h2.02M121 109.5h1.02M134 109.5h1.02M99 110.5h1.02M124 110.5h1.02M136 110.5h1.02M10 111.5h3.02M115 111.5h1.02M11 112.5h1.02M82 113.5h1.02M108 113.5h1.02M80 114.5h1.02M82 114.5h1.02M111 115.5h1.02M65 116.5h1.02M96 116.5h1.02M99 116.5h1.02M106 116.5h1.02M97 118.5h1.02M123 118.5h1.02M90 119.5h1.02M96 119.5h3.02M73 120.5h1.02M89 120.5h1.02M98 120.5h1.02M96 121.5h1.02M109 121.5h1.02M107 122.5h1.02M56 123.5h1.02M96 123.5h1.02M98 123.5h1.02M118 123.5h1.02M57 124.5h1.02M110 124.5h1.02M58 125.5h1.02M106 125.5h1.02M48 126.5h1.02M94 127.5h1.02M58 128.5h1.02M64 128.5h1.02M61 129.5h1.02M64 129.5h1.02M100 129.5h1.02M72 130.5h1.02M99 131.5h1.02M85 132.5h1.02M57 133.5h3.02M86 133.5h1.02M78 134.5h1.02M100 134.5h1.02M109 134.5h1.02M70 135.5h1.02M78 135.5h1.02M86 135.5h1.02M99 135.5h1.02M80 136.5h1.02M86 136.5h1.02M97 136.5h1.02M110 136.5h1.02"/>
<path stroke="#feeda4" d="M114 10.5h1.02M54 11.5h1.02M114 11.5h1.02M114 12.5h1.02M54 14.5h1.02M52 23.5h1.02M31 29.5h1.02M34 30.5h1.02M29 31.5h1.02M30 34.5h1.02M75 36.5h1.02M71 39.5h2.02M121 39.5h1.02M109 42.5h1.02M23 52.5h1.02M57 52.5h1.02M11 54.5h1.02M14 54.5h1.02M60 55.5h1.02M52 57.5h1.02M104 59.5h1.02M112 59.5h1.02M114 59.5h1.02M55 60.5h1.02M113 60.5h1.02M70 61.5h1.02M111 61.5h1.02M80 64.5h1.02M125 66.5h1.02M77 69.5h1.02M61 70.5h1.02M39 71.5h1.02M39 72.5h1.02M98 72.5h1.02M102 72.5h2.02M96 73.5h1.02M36 75.5h1.02M77 75.5h1.02M97 76.5h1.02M69 77.5h1.02M75 77.5h1.02M96 77.5h2.02M98 78.5h1.02M97 79.5h1.02M64 80.5h1.02M91 84.5h1.02M111 85.5h1.02M124 86.5h1.02M84 91.5h1.02M95 91.5h1.02M113 94.5h1.02M91 95.5h1.02M73 96.5h1.02M77 96.5h1.02M112 96.5h1.02M76 97.5h2.02M79 97.5h1.02M111 97.5h1.02M72 98.5h1.02M78 98.5h1.02M111 98.5h1.02M107 100.5h2.02M72 102.5h1.02M72 103.5h1.02M59 104.5h1.02M100 107.5h1.02M100 108.5h1.02M42 109.5h1.02M61 111.5h1.02M85 111.5h1.02M97 111.5h2.02M121 111.5h2.02M59 112.5h1.02M96 112.5h1.02M60 113.5h1.02M94 113.5h1.02M129 113.5h1.02M10 114.5h3.02M59 114.5h1.02M126 118.5h1.02M126 119.5h1.02M39 121.5h1.02M111 121.5h1.02M111 122.5h1.02M86 124.5h1.02M66 125.5h1.02M118 126.5h2.02M113 129.5h1.02"/>
<path stroke="#fda96b" d="M119 10.5h1.02M87 11.5h1.02M94 11.5h1.02M118 11.5h2.02M85 12.5h1.02M87 12.5h1.02M118 12.5h1.02M87 14.5h1.02M34 15.5h1.02M37 15.5h1.02M36 16.5h1.02M25 19.5h1.02M35 20.5h1.02M19 25.5h1.02M36 26.5h2.02M15 34.5h1.02M20 35.5h1.02M16 36.5h1.02M26 36.5h1.02M15 37.5h1.02M26 37.5h1.02M63 39.5h2.02M68 39.5h1.02M77 43.5h3.02M126 44.5h1.02M125 45.5h1.02M128 45.5h1.02M128 46.5h1.02M125 47.5h2.02M128 47.5h1.02M125 48.5h1.02M90 51.5h1.02M111 54.5h1.02M115 55.5h1.02M123 55.5h1.02M126 56.5h1.02M106 57.5h1.02M125 57.5h1.02M132 59.5h1.02M135 59.5h1.02M97 60.5h1.02M119 60.5h1.02M124 61.5h1.02M126 61.5h1.02M122 62.5h1.02M39 63.5h1.02M100 63.5h1.02M122 63.5h1.02M124 63.5h1.02M134 63.5h1.02M39 64.5h1.02M99 64.5h1.02M136 64.5h1.02M89 67.5h1.02M99 67.5h3.02M39 68.5h1.02M82 70.5h1.02M124 70.5h1.02M131 70.5h1.02M84 71.5h1.02M125 71.5h1.02M131 71.5h1.02M83 72.5h1.02M74 73.5h1.02M83 73.5h1.02M73 74.5h1.02M82 75.5h1.02M107 75.5h1.02M81 76.5h1.02M99 76.5h1.02M101 76.5h1.02M125 76.5h2.02M131 76.5h1.02M43 77.5h1.02M81 77.5h1.02M99 77.5h2.02M43 78.5h1.02M99 78.5h1.02M125 78.5h1.02M128 78.5h1.02M43 79.5h1.02M84 79.5h1.02M100 79.5h2.02M128 79.5h1.02M76 81.5h2.02M70 82.5h1.02M75 82.5h1.02M103 82.5h1.02M105 82.5h3.02M121 82.5h1.02M72 83.5h2.02M109 83.5h1.02M71 84.5h1.02M79 84.5h1.02M104 84.5h1.02M106 84.5h1.02M114 84.5h1.02M12 85.5h1.02M108 85.5h1.02M125 85.5h1.02M129 85.5h1.02M135 85.5h1.02M129 86.5h2.02M11 87.5h2.02M14 87.5h1.02M89 87.5h1.02M91 87.5h1.02M109 87.5h1.02M116 88.5h1.02M67 89.5h1.02M87 89.5h1.02M51 90.5h1.02M98 90.5h1.02M102 90.5h1.02M87 91.5h1.02M106 91.5h1.02M132 91.5h1.02M98 92.5h1.02M102 92.5h1.02M131 92.5h1.02M101 93.5h2.02M106 93.5h1.02M122 93.5h1.02M124 93.5h1.02M126 93.5h1.02M129 93.5h1.02M11 94.5h1.02M98 94.5h1.02M128 94.5h2.02M131 94.5h1.02M134 94.5h2.02M120 95.5h2.02M124 95.5h1.02M136 95.5h1.02M117 96.5h1.02M122 96.5h1.02M60 97.5h1.02M106 97.5h1.02M109 97.5h1.02M122 97.5h1.02M90 98.5h1.02M92 98.5h1.02M94 98.5h1.02M106 98.5h1.02M109 98.5h1.02M116 98.5h2.02M135 98.5h2.02M64 99.5h1.02M67 99.5h1.02M76 99.5h3.02M63 100.5h1.02M67 100.5h1.02M77 100.5h1.02M79 100.5h1.02M67 101.5h1.02M76 101.5h1.02M79 101.5h1.02M93 101.5h1.02M90 102.5h1.02M92 102.5h2.02M82 103.5h1.02M122 103.5h2.02M84 104.5h1.02M122 104.5h1.02M82 105.5h1.02M117 105.5h1.02M125 105.5h1.02M57 106.5h1.02M82 106.5h1.02M84 106.5h1.02M91 106.5h1.02M93 106.5h1.02M97 106.5h2.02M120 106.5h1.02M75 107.5h1.02M82 107.5h1.02M126 107.5h1.02M128 107.5h1.02M133 107.5h1.02M85 108.5h1.02M111 108.5h2.02M83 109.5h1.02M87 109.5h1.02M97 109.5h2.02M122 109.5h1.02M54 111.5h1.02M108 111.5h1.02M108 112.5h1.02M84 114.5h1.02M122 114.5h1.02M55 115.5h1.02M88 116.5h1.02M98 116.5h1.02M96 117.5h1.02M98 117.5h1.02M105 117.5h1.02M11 118.5h2.02M10 119.5h2.02M60 119.5h1.02M95 120.5h1.02M106 120.5h1.02M82 121.5h1.02M95 121.5h1.02M62 122.5h2.02M93 122.5h1.02M96 122.5h2.02M103 122.5h2.02M109 122.5h1.02M114 122.5h1.02M55 123.5h1.02M103 123.5h1.02M61 124.5h1.02M63 124.5h1.02M70 124.5h1.02M93 124.5h1.02M95 124.5h1.02M45 125.5h1.02M47 125.5h2.02M57 125.5h1.02M71 125.5h1.02M76 125.5h1.02M78 125.5h1.02M85 125.5h1.02M105 125.5h1.02M44 126.5h1.02M47 126.5h1.02M56 126.5h1.02M61 126.5h1.02M76 126.5h1.02M93 126.5h1.02M107 126.5h1.02M45 128.5h3.02M78 128.5h2.02M94 128.5h1.02M107 128.5h1.02M85 129.5h2.02M93 129.5h2.02M86 130.5h1.02M70 131.5h2.02M76 131.5h1.02M92 131.5h1.02M94 131.5h1.02M59 132.5h1.02M91 132.5h1.02M107 133.5h1.02M63 134.5h1.02M94 134.5h1.02M59 135.5h1.02M85 135.5h1.02M94 135.5h1.02M98 135.5h1.02M64 136.5h1.02M95 136.5h1.02M98 136.5h1.02"/>
<path stroke="#fee89b" d="M53 11.5h1.02M60 11.5h1.02M53 13.5h1.02M60 13.5h1.02M52 14.5h1.02M59 14.5h1.02M52 18.5h1.02M34 19.5h1.02M52 19.5h1.02M33 20.5h1.02M52 21.5h1.02M52 22.5h1.02M27 25.5h1.02M25 27.5h1.02M38 32.5h1.02M20 33.5h1.02M19 34.5h1.02M32 38.5h1.02M70 39.5h1.02M14 52.5h1.02M18 52.5h2.02M21 52.5h2.02M56 52.5h1.02M11 53.5h1.02M13 53.5h1.02M52 56.5h1.02M119 57.5h1.02M118 58.5h2.02M131 58.5h2.02M136 58.5h1.02M14 59.5h1.02M105 59.5h1.02M107 59.5h3.02M11 60.5h1.02M13 60.5h1.02M114 60.5h1.02M104 61.5h1.02M106 61.5h1.02M107 62.5h1.02M111 65.5h1.02M75 66.5h1.02M124 66.5h1.02M125 67.5h1.02M79 68.5h1.02M112 68.5h1.02M76 69.5h1.02M79 69.5h1.02M121 69.5h4.02M39 70.5h1.02M102 71.5h1.02M101 72.5h1.02M97 73.5h1.02M78 74.5h1.02M98 74.5h1.02M66 75.5h1.02M98 75.5h1.02M69 76.5h1.02M106 76.5h1.02M109 77.5h2.02M74 78.5h1.02M103 78.5h1.02M109 78.5h1.02M68 79.5h2.02M103 79.5h1.02M123 79.5h1.02M122 85.5h1.02M113 87.5h1.02M113 88.5h1.02M92 89.5h1.02M92 90.5h1.02M94 90.5h1.02M127 91.5h1.02M89 92.5h2.02M90 94.5h1.02M113 95.5h1.02M110 96.5h1.02M73 97.5h1.02M114 97.5h1.02M74 98.5h2.02M104 98.5h1.02M110 98.5h1.02M112 98.5h1.02M107 99.5h1.02M105 100.5h1.02M72 101.5h1.02M105 101.5h1.02M71 102.5h1.02M78 103.5h2.02M61 104.5h1.02M98 104.5h1.02M59 105.5h1.02M100 105.5h2.02M61 106.5h1.02M76 106.5h1.02M59 107.5h1.02M62 107.5h1.02M99 107.5h1.02M112 107.5h1.02M121 107.5h1.02M59 108.5h1.02M59 109.5h1.02M77 109.5h2.02M77 110.5h1.02M96 110.5h1.02M98 110.5h1.02M65 111.5h1.02M68 112.5h1.02M98 112.5h1.02M107 112.5h1.02M87 113.5h2.02M95 113.5h1.02M115 113.5h1.02M60 114.5h1.02M97 114.5h1.02M113 115.5h1.02M127 115.5h1.02M136 115.5h1.02M58 118.5h1.02M125 118.5h1.02M57 119.5h2.02M128 120.5h1.02M69 121.5h1.02M107 121.5h1.02M69 122.5h1.02M85 122.5h1.02M69 123.5h1.02M79 123.5h1.02M66 124.5h1.02M69 124.5h1.02M67 125.5h1.02M118 125.5h1.02M91 127.5h1.02M115 127.5h1.02M135 127.5h1.02M120 128.5h1.02M58 131.5h1.02M58 132.5h1.02M127 135.5h1.02M58 136.5h1.02M115 136.5h1.02"/>
<path stroke="#f5fbd2" d="M56 11.5h1.02M11 56.5h1.02M66 61.5h1.02M68 61.5h1.02M74 61.5h1.02M77 64.5h1.02M70 65.5h1.02M61 66.5h1.02M61 68.5h1.02M65 70.5h1.02M61 74.5h1.02M64 77.5h1.02M104 99.5h1.02M99 104.5h1.02M116 115.5h1.02M120 115.5h1.02M115 116.5h1.02M115 120.5h1.02"/>
<path stroke="#f1fad9" d="M13 12.5h1.02M12 13.5h1.02M21 20.5h1.02M20 21.5h1.02M73 63.5h1.02M76 63.5h1.02M66 65.5h1.02M65 66.5h1.02M69 68.5h1.02M68 69.5h1.02M70 69.5h1.02M69 70.5h1.02M63 73.5h1.02M121 73.5h1.02M63 76.5h1.02M91 90.5h1.02M90 91.5h1.02M95 93.5h1.02M93 95.5h1.02M118 113.5h1.02M113 118.5h1.02M131 118.5h2.02M135 118.5h2.02M73 121.5h1.02M123 122.5h1.02M122 123.5h1.02M131 129.5h1.02M136 129.5h1.02M118 131.5h1.02M129 131.5h1.02M118 132.5h1.02M118 135.5h1.02M118 136.5h1.02M129 136.5h1.02"/>
<path stroke="#feefa7" d="M54 12.5h1.02M54 13.5h1.02M33 17.5h1.02M22 20.5h1.02M20 22.5h1.02M32 29.5h2.02M29 32.5h1.02M33 32.5h1.02M17 33.5h1.02M29 33.5h1.02M32 33.5h1.02M52 34.5h1.02M74 34.5h1.02M74 35.5h1.02M74 36.5h1.02M34 52.5h1.02M12 54.5h2.02M114 56.5h1.02M106 59.5h1.02M112 61.5h1.02M71 62.5h1.02M111 63.5h1.02M67 64.5h1.02M71 64.5h1.02M125 65.5h1.02M64 67.5h1.02M128 67.5h1.02M125 68.5h1.02M128 68.5h1.02M62 71.5h1.02M64 71.5h1.02M34 74.5h3.02M98 77.5h1.02M96 78.5h2.02M98 79.5h1.02M90 84.5h1.02M93 89.5h2.02M84 90.5h1.02M92 91.5h1.02M91 92.5h1.02M89 93.5h1.02M89 94.5h1.02M78 96.5h1.02M114 96.5h1.02M78 97.5h1.02M77 98.5h1.02M79 98.5h1.02M125 98.5h2.02M108 101.5h1.02M107 102.5h1.02M59 106.5h1.02M121 106.5h1.02M102 107.5h1.02M101 108.5h1.02M63 111.5h1.02M61 112.5h1.02M122 112.5h1.02M130 113.5h1.02M56 114.5h1.02M96 114.5h1.02M128 118.5h1.02M106 121.5h1.02M112 122.5h1.02M65 125.5h1.02M68 125.5h1.02M98 125.5h1.02M98 126.5h1.02M67 128.5h2.02M118 128.5h1.02M113 130.5h1.02"/>
<path stroke="#f7fccf" d="M57 12.5h2.02M58 14.5h1.02M12 57.5h1.02M12 58.5h1.02M14 58.5h1.02M73 61.5h1.02M76 61.5h1.02M74 64.5h1.02M61 73.5h1.02M64 74.5h1.02M61 76.5h1.02M80 76.5h1.02M76 80.5h1.02M95 92.5h1.02M92 95.5h1.02M103 101.5h1.02M101 103.5h1.02M105 103.5h1.02M103 105.5h1.02M113 112.5h1.02M112 113.5h1.02M132 129.5h1.02M129 132.5h1.02"/>
<path stroke="#fdae6f" d="M94 12.5h1.02M119 12.5h1.02M35 16.5h1.02M37 16.5h1.02M26 17.5h1.02M35 18.5h1.02M26 19.5h1.02M35 19.5h1.02M24 20.5h1.02M20 24.5h1.02M35 25.5h1.02M17 26.5h1.02M19 26.5h1.02M29 26.5h1.02M26 29.5h1.02M75 30.5h1.02M16 35.5h1.02M18 35.5h2.02M25 35.5h1.02M16 37.5h1.02M78 38.5h1.02M67 39.5h1.02M62 44.5h1.02M127 44.5h2.02M126 45.5h1.02M127 46.5h1.02M90 50.5h1.02M85 55.5h1.02M88 55.5h1.02M106 55.5h1.02M88 56.5h1.02M121 56.5h1.02M122 57.5h1.02M106 58.5h1.02M100 59.5h2.02M123 59.5h1.02M125 59.5h1.02M131 59.5h1.02M134 59.5h1.02M85 60.5h1.02M81 61.5h1.02M97 61.5h1.02M100 61.5h1.02M123 61.5h1.02M128 61.5h1.02M44 62.5h1.02M121 62.5h1.02M134 62.5h1.02M101 63.5h1.02M123 63.5h1.02M125 63.5h1.02M95 64.5h1.02M121 64.5h1.02M125 64.5h1.02M99 65.5h1.02M39 67.5h1.02M102 67.5h1.02M99 68.5h2.02M127 70.5h1.02M82 71.5h1.02M123 71.5h2.02M127 71.5h1.02M84 72.5h1.02M89 72.5h1.02M75 73.5h1.02M84 73.5h1.02M118 73.5h1.02M104 74.5h1.02M107 74.5h1.02M109 74.5h1.02M30 75.5h1.02M73 75.5h1.02M104 75.5h1.02M110 75.5h1.02M83 76.5h1.02M89 76.5h1.02M102 76.5h1.02M125 77.5h1.02M38 78.5h1.02M89 78.5h2.02M100 78.5h3.02M126 78.5h1.02M83 79.5h1.02M102 79.5h1.02M127 79.5h1.02M85 80.5h1.02M134 80.5h1.02M61 81.5h1.02M71 82.5h1.02M104 82.5h1.02M76 83.5h1.02M79 83.5h1.02M112 83.5h1.02M72 84.5h2.02M109 84.5h1.02M112 84.5h2.02M55 85.5h1.02M60 85.5h1.02M80 85.5h1.02M100 85.5h1.02M107 85.5h1.02M128 85.5h1.02M133 85.5h1.02M105 86.5h1.02M107 86.5h1.02M125 86.5h1.02M132 86.5h1.02M110 87.5h2.02M116 87.5h1.02M55 88.5h2.02M109 88.5h1.02M111 88.5h2.02M72 89.5h1.02M76 89.5h1.02M78 89.5h1.02M101 89.5h2.02M50 90.5h1.02M78 90.5h1.02M120 90.5h1.02M119 92.5h1.02M123 92.5h1.02M127 92.5h2.02M136 92.5h1.02M119 93.5h1.02M123 93.5h1.02M131 93.5h2.02M134 93.5h1.02M12 94.5h1.02M119 94.5h2.02M64 95.5h1.02M119 95.5h1.02M127 95.5h1.02M124 96.5h1.02M135 96.5h1.02M61 97.5h1.02M117 97.5h1.02M120 97.5h1.02M135 97.5h1.02M134 98.5h1.02M65 99.5h1.02M68 99.5h1.02M59 100.5h1.02M61 100.5h1.02M68 100.5h1.02M78 100.5h1.02M85 100.5h1.02M59 101.5h1.02M63 101.5h1.02M78 101.5h1.02M89 101.5h1.02M67 102.5h1.02M76 102.5h1.02M78 102.5h2.02M89 102.5h1.02M74 104.5h2.02M82 104.5h1.02M124 104.5h1.02M86 105.5h1.02M115 105.5h2.02M127 105.5h1.02M133 105.5h1.02M55 106.5h1.02M58 106.5h1.02M127 106.5h2.02M132 106.5h1.02M74 107.5h1.02M85 107.5h2.02M114 107.5h4.02M127 107.5h1.02M74 109.5h1.02M84 109.5h1.02M88 109.5h1.02M75 110.5h1.02M87 110.5h1.02M121 110.5h3.02M87 111.5h2.02M83 112.5h2.02M88 112.5h1.02M115 112.5h1.02M84 113.5h1.02M107 114.5h1.02M125 114.5h1.02M128 114.5h1.02M131 114.5h2.02M134 114.5h1.02M105 115.5h1.02M107 115.5h1.02M112 115.5h1.02M87 116.5h1.02M105 116.5h1.02M107 116.5h1.02M97 117.5h1.02M107 117.5h1.02M73 118.5h1.02M12 119.5h1.02M92 119.5h4.02M90 120.5h1.02M94 120.5h1.02M97 120.5h1.02M56 121.5h1.02M62 121.5h1.02M64 121.5h1.02M110 121.5h1.02M57 122.5h1.02M110 122.5h1.02M59 123.5h1.02M61 123.5h1.02M63 123.5h1.02M71 123.5h1.02M92 123.5h2.02M110 123.5h1.02M71 124.5h1.02M96 124.5h1.02M104 124.5h1.02M59 125.5h1.02M63 125.5h2.02M77 125.5h1.02M86 125.5h1.02M114 125.5h1.02M45 126.5h1.02M78 126.5h1.02M44 127.5h1.02M46 127.5h1.02M70 127.5h2.02M79 127.5h1.02M92 127.5h1.02M95 127.5h1.02M105 127.5h3.02M44 128.5h1.02M61 128.5h1.02M85 128.5h1.02M92 128.5h1.02M106 128.5h1.02M114 128.5h1.02M59 131.5h1.02M93 131.5h1.02M114 131.5h1.02M86 132.5h1.02M93 132.5h1.02M106 132.5h1.02M114 132.5h1.02M85 133.5h1.02M105 133.5h1.02M59 134.5h1.02M62 134.5h1.02M80 134.5h1.02M93 134.5h1.02M98 134.5h1.02M114 134.5h1.02M96 135.5h2.02M92 136.5h1.02"/>
<path stroke="#fdbd79" d="M96 12.5h1.02M38 15.5h1.02M37 20.5h1.02M28 22.5h1.02M29 25.5h1.02M22 28.5h1.02M34 28.5h1.02M74 28.5h2.02M25 29.5h1.02M74 32.5h1.02M28 34.5h1.02M109 34.5h1.02M20 37.5h1.02M97 37.5h1.02M15 38.5h1.02M104 39.5h2.02M107 39.5h1.02M87 46.5h1.02M110 46.5h1.02M81 49.5h1.02M91 51.5h2.02M86 54.5h3.02M93 54.5h2.02M86 55.5h2.02M85 56.5h3.02M124 56.5h1.02M127 56.5h1.02M121 57.5h1.02M128 57.5h1.02M119 59.5h1.02M82 61.5h1.02M95 61.5h2.02M98 62.5h1.02M129 62.5h1.02M136 62.5h1.02M96 63.5h1.02M98 63.5h1.02M126 63.5h1.02M128 63.5h1.02M136 63.5h1.02M82 64.5h1.02M103 64.5h1.02M126 64.5h1.02M97 65.5h1.02M89 66.5h1.02M95 66.5h2.02M102 66.5h1.02M80 67.5h1.02M117 67.5h1.02M95 68.5h1.02M98 68.5h1.02M101 68.5h1.02M103 68.5h1.02M105 68.5h1.02M107 68.5h1.02M101 70.5h1.02M110 70.5h1.02M134 70.5h1.02M134 71.5h3.02M117 72.5h2.02M80 73.5h1.02M114 73.5h1.02M28 74.5h1.02M32 74.5h1.02M110 74.5h1.02M28 75.5h1.02M109 75.5h1.02M85 76.5h1.02M134 76.5h2.02M85 77.5h1.02M136 78.5h1.02M85 79.5h1.02M135 79.5h1.02M67 80.5h1.02M73 80.5h1.02M105 80.5h1.02M113 80.5h1.02M135 80.5h1.02M49 81.5h1.02M61 82.5h1.02M64 82.5h1.02M111 82.5h1.02M85 83.5h1.02M86 84.5h1.02M56 85.5h1.02M76 85.5h2.02M79 85.5h1.02M83 85.5h1.02M54 86.5h3.02M84 86.5h1.02M100 86.5h1.02M104 86.5h1.02M116 86.5h1.02M46 87.5h1.02M54 87.5h3.02M94 87.5h1.02M118 87.5h1.02M120 87.5h1.02M54 88.5h1.02M96 88.5h2.02M119 88.5h1.02M66 89.5h1.02M119 89.5h1.02M96 90.5h1.02M51 91.5h1.02M51 92.5h1.02M54 93.5h1.02M116 93.5h1.02M54 94.5h1.02M87 94.5h1.02M61 95.5h1.02M66 95.5h1.02M68 95.5h1.02M12 96.5h1.02M61 96.5h1.02M63 96.5h1.02M66 96.5h1.02M88 96.5h1.02M90 96.5h1.02M118 96.5h1.02M37 97.5h1.02M65 97.5h1.02M88 97.5h1.02M124 97.5h1.02M62 98.5h2.02M68 98.5h1.02M103 98.5h1.02M121 98.5h1.02M109 99.5h1.02M112 99.5h1.02M118 99.5h1.02M121 99.5h1.02M128 99.5h1.02M134 99.5h1.02M86 100.5h1.02M116 100.5h2.02M68 101.5h1.02M70 101.5h1.02M109 101.5h1.02M116 101.5h2.02M121 101.5h1.02M125 101.5h1.02M131 101.5h1.02M66 102.5h1.02M130 102.5h1.02M64 103.5h1.02M68 103.5h1.02M98 103.5h1.02M39 104.5h1.02M86 104.5h1.02M39 105.5h1.02M68 105.5h1.02M80 105.5h1.02M117 106.5h1.02M39 107.5h1.02M68 107.5h1.02M134 107.5h1.02M34 109.5h1.02M75 109.5h1.02M99 109.5h1.02M101 109.5h1.02M136 109.5h1.02M46 110.5h1.02M70 110.5h1.02M74 110.5h1.02M82 111.5h1.02M99 112.5h1.02M80 113.5h1.02M73 114.5h1.02M115 114.5h1.02M127 114.5h1.02M114 115.5h1.02M86 116.5h1.02M93 116.5h1.02M100 116.5h2.02M67 117.5h1.02M72 117.5h1.02M100 117.5h2.02M106 117.5h1.02M72 118.5h1.02M87 118.5h1.02M96 118.5h1.02M99 118.5h1.02M124 118.5h1.02M59 119.5h1.02M88 119.5h2.02M87 120.5h1.02M123 120.5h1.02M57 121.5h1.02M98 121.5h2.02M101 121.5h1.02M120 123.5h1.02M56 124.5h1.02M97 124.5h1.02M118 124.5h1.02M101 125.5h1.02M63 126.5h2.02M56 127.5h1.02M114 127.5h1.02M57 128.5h1.02M63 128.5h1.02M99 128.5h1.02M62 129.5h1.02M102 130.5h1.02M101 131.5h1.02M70 134.5h2.02M76 134.5h1.02M99 134.5h1.02M107 134.5h1.02M71 135.5h1.02M76 135.5h1.02M79 135.5h2.02M62 136.5h2.02M71 136.5h1.02M78 136.5h1.02M109 136.5h1.02"/>
<path stroke="#d6edf4" d="M14 13.5h1.02M13 14.5h1.02M19 17.5h1.02M21 17.5h1.02M17 19.5h1.02M17 21.5h1.02M25 24.5h1.02M24 25.5h1.02M73 72.5h1.02M72 73.5h1.02M111 77.5h1.02M80 79.5h1.02M111 79.5h1.02M79 80.5h1.02M101 99.5h1.02M99 101.5h1.02M77 111.5h1.02M79 111.5h1.02M126 125.5h1.02M125 126.5h1.02M128 126.5h1.02M126 128.5h1.02M136 131.5h1.02M136 133.5h1.02M131 136.5h1.02M133 136.5h1.02"/>
<path stroke="#c8e3ef" d="M57 13.5h1.02M26 24.5h1.02M24 26.5h1.02M36 35.5h1.02M35 36.5h1.02M13 57.5h1.02M68 66.5h1.02M66 68.5h1.02"/>
<path stroke="#c3e0ed" d="M58 13.5h1.02M58 56.5h1.02M58 57.5h1.02M13 58.5h1.02M56 58.5h2.02M68 67.5h1.02M67 68.5h1.02M117 116.5h1.02M116 117.5h1.02M127 126.5h1.02M126 127.5h1.02M135 134.5h1.02M134 135.5h1.02"/>
<path stroke="#fc905b" d="M97 13.5h2.02M100 13.5h4.02M106 13.5h2.02M30 19.5h2.02M30 20.5h1.02M24 22.5h1.02M24 23.5h1.02M22 24.5h2.02M75 24.5h1.02M34 25.5h1.02M33 26.5h1.02M64 27.5h2.02M89 27.5h1.02M103 27.5h2.02M106 27.5h1.02M109 27.5h1.02M63 28.5h1.02M65 28.5h1.02M103 28.5h1.02M111 28.5h1.02M63 29.5h1.02M103 29.5h1.02M111 29.5h1.02M19 30.5h2.02M63 30.5h1.02M104 30.5h1.02M106 30.5h1.02M19 31.5h1.02M65 31.5h1.02M103 31.5h1.02M111 31.5h1.02M63 32.5h1.02M79 32.5h1.02M82 32.5h2.02M109 32.5h1.02M26 33.5h1.02M63 33.5h1.02M25 34.5h1.02M76 34.5h1.02M78 34.5h1.02M112 35.5h1.02M80 36.5h1.02M62 37.5h1.02M112 37.5h1.02M112 38.5h1.02M119 40.5h3.02M110 43.5h1.02M82 44.5h1.02M92 44.5h1.02M96 44.5h2.02M105 44.5h2.02M108 44.5h2.02M121 44.5h2.02M130 44.5h1.02M134 44.5h1.02M64 45.5h1.02M89 45.5h1.02M92 45.5h1.02M94 45.5h1.02M96 45.5h3.02M103 45.5h2.02M106 45.5h1.02M109 45.5h1.02M113 45.5h1.02M124 45.5h1.02M129 45.5h1.02M132 45.5h2.02M61 46.5h1.02M63 46.5h2.02M92 46.5h1.02M94 46.5h1.02M97 46.5h1.02M102 46.5h1.02M106 46.5h1.02M108 46.5h1.02M121 46.5h1.02M131 46.5h1.02M133 46.5h1.02M136 46.5h1.02M61 47.5h1.02M89 47.5h1.02M93 47.5h1.02M95 47.5h4.02M100 47.5h1.02M103 47.5h2.02M109 47.5h1.02M121 47.5h1.02M123 47.5h2.02M131 47.5h1.02M65 48.5h1.02M84 48.5h1.02M90 48.5h1.02M92 48.5h1.02M97 48.5h1.02M100 48.5h2.02M104 48.5h2.02M108 48.5h1.02M111 48.5h1.02M113 48.5h1.02M121 48.5h2.02M129 48.5h1.02M131 48.5h2.02M134 48.5h2.02M57 49.5h1.02M130 55.5h1.02M105 56.5h1.02M49 57.5h1.02M102 57.5h1.02M65 58.5h1.02M72 58.5h1.02M102 58.5h1.02M66 59.5h1.02M69 59.5h1.02M81 59.5h1.02M91 59.5h1.02M93 59.5h1.02M82 60.5h1.02M46 61.5h2.02M108 61.5h1.02M37 62.5h1.02M94 62.5h1.02M131 62.5h3.02M28 63.5h3.02M32 63.5h2.02M46 63.5h1.02M114 63.5h1.02M133 63.5h1.02M27 64.5h1.02M45 64.5h2.02M27 65.5h2.02M31 65.5h1.02M48 65.5h1.02M58 65.5h1.02M86 65.5h1.02M94 65.5h1.02M59 66.5h1.02M82 66.5h1.02M93 66.5h1.02M94 67.5h1.02M108 67.5h1.02M87 68.5h1.02M59 69.5h1.02M84 69.5h2.02M88 69.5h1.02M88 70.5h1.02M92 70.5h1.02M94 70.5h1.02M108 70.5h1.02M113 70.5h1.02M86 71.5h1.02M88 71.5h1.02M93 71.5h1.02M95 71.5h1.02M114 71.5h1.02M119 71.5h1.02M58 72.5h1.02M87 72.5h1.02M85 73.5h2.02M90 73.5h1.02M126 74.5h2.02M24 75.5h1.02M81 75.5h1.02M136 75.5h1.02M34 76.5h1.02M120 76.5h1.02M117 77.5h1.02M34 78.5h1.02M117 78.5h2.02M32 79.5h1.02M108 79.5h1.02M130 79.5h1.02M36 80.5h1.02M99 80.5h1.02M129 80.5h1.02M132 80.5h1.02M59 81.5h1.02M75 81.5h1.02M83 81.5h1.02M102 81.5h2.02M113 81.5h1.02M127 81.5h1.02M32 82.5h1.02M44 82.5h1.02M60 82.5h1.02M66 82.5h1.02M99 82.5h1.02M128 82.5h1.02M132 82.5h2.02M135 82.5h2.02M32 83.5h1.02M81 83.5h1.02M99 83.5h1.02M101 83.5h1.02M135 83.5h2.02M48 84.5h1.02M69 84.5h1.02M99 84.5h2.02M126 84.5h3.02M131 84.5h4.02M136 84.5h1.02M69 85.5h1.02M73 85.5h1.02M65 86.5h1.02M71 86.5h1.02M73 86.5h1.02M115 86.5h1.02M68 87.5h1.02M72 87.5h1.02M93 87.5h1.02M127 87.5h2.02M131 87.5h1.02M134 87.5h2.02M69 88.5h3.02M92 88.5h2.02M102 88.5h1.02M123 88.5h2.02M126 88.5h1.02M133 88.5h1.02M135 88.5h1.02M27 89.5h1.02M45 89.5h1.02M47 89.5h1.02M103 89.5h1.02M48 90.5h1.02M73 90.5h1.02M107 90.5h1.02M128 90.5h1.02M130 90.5h1.02M59 91.5h1.02M111 91.5h1.02M44 92.5h3.02M48 92.5h1.02M70 92.5h1.02M88 92.5h1.02M105 92.5h1.02M108 92.5h1.02M114 92.5h1.02M47 93.5h1.02M59 93.5h1.02M66 93.5h1.02M71 93.5h1.02M87 93.5h2.02M45 94.5h2.02M62 94.5h1.02M65 94.5h1.02M67 94.5h1.02M70 94.5h1.02M108 94.5h1.02M47 95.5h1.02M71 95.5h1.02M130 95.5h1.02M44 96.5h2.02M47 96.5h1.02M99 96.5h1.02M13 97.5h1.02M44 97.5h5.02M101 97.5h1.02M13 98.5h1.02M45 98.5h1.02M47 98.5h1.02M99 98.5h1.02M80 99.5h1.02M82 99.5h3.02M96 99.5h1.02M98 99.5h1.02M13 100.5h1.02M47 100.5h2.02M84 100.5h1.02M13 101.5h1.02M48 101.5h1.02M83 101.5h1.02M97 101.5h1.02M13 102.5h1.02M46 102.5h1.02M57 102.5h2.02M81 102.5h1.02M88 102.5h1.02M13 103.5h1.02M27 103.5h3.02M31 103.5h1.02M45 103.5h1.02M47 103.5h1.02M81 103.5h1.02M89 103.5h1.02M131 103.5h1.02M27 104.5h1.02M30 104.5h1.02M45 104.5h1.02M47 104.5h2.02M114 104.5h1.02M134 104.5h1.02M44 105.5h1.02M48 105.5h1.02M56 105.5h1.02M92 105.5h1.02M13 106.5h1.02M27 106.5h1.02M30 106.5h1.02M44 106.5h3.02M13 107.5h1.02M90 107.5h1.02M44 108.5h1.02M46 108.5h1.02M48 108.5h1.02M61 108.5h1.02M67 108.5h1.02M70 108.5h1.02M79 108.5h1.02M92 108.5h1.02M94 108.5h1.02M27 109.5h1.02M32 109.5h1.02M44 109.5h2.02M47 109.5h1.02M43 110.5h1.02M28 111.5h2.02M31 111.5h1.02M48 111.5h1.02M91 111.5h1.02M35 112.5h1.02M37 112.5h2.02M45 113.5h1.02M48 113.5h1.02M70 113.5h1.02M81 113.5h1.02M63 114.5h1.02M71 114.5h1.02M92 114.5h1.02M104 114.5h1.02M86 115.5h1.02M77 117.5h2.02M78 118.5h1.02M40 119.5h1.02M71 119.5h1.02M40 120.5h1.02M76 120.5h1.02M40 121.5h1.02M44 121.5h1.02M46 121.5h3.02M44 122.5h1.02M48 122.5h1.02M47 123.5h1.02M88 123.5h1.02M45 124.5h1.02M47 124.5h1.02M88 124.5h1.02M74 126.5h1.02M84 126.5h1.02M88 126.5h1.02M74 127.5h1.02M81 127.5h1.02M84 127.5h1.02M87 127.5h1.02M82 128.5h1.02M84 128.5h1.02M87 128.5h1.02M90 128.5h1.02M45 129.5h1.02M48 129.5h1.02M80 129.5h1.02M44 130.5h1.02M55 130.5h1.02M79 130.5h1.02M90 130.5h1.02M95 130.5h1.02M46 131.5h3.02M62 131.5h1.02M84 131.5h1.02M87 131.5h1.02M103 131.5h1.02M45 132.5h1.02M48 132.5h1.02M62 132.5h1.02M80 132.5h1.02M82 132.5h1.02M84 132.5h1.02M45 133.5h2.02M62 133.5h2.02M82 133.5h1.02M84 133.5h1.02M88 133.5h1.02M44 134.5h1.02M48 134.5h1.02M84 134.5h1.02M87 134.5h1.02M104 134.5h1.02M48 135.5h1.02M82 135.5h2.02M87 135.5h2.02M46 136.5h1.02M75 136.5h1.02M82 136.5h3.02"/>
<path stroke="#fdc27c" d="M130 13.5h1.02M132 13.5h1.02M134 13.5h3.02M55 14.5h1.02M24 17.5h1.02M37 17.5h2.02M17 24.5h1.02M31 24.5h1.02M36 24.5h3.02M75 27.5h1.02M24 31.5h1.02M96 35.5h1.02M24 36.5h1.02M96 36.5h1.02M109 36.5h1.02M17 37.5h1.02M24 37.5h1.02M17 38.5h1.02M24 38.5h1.02M43 42.5h1.02M42 43.5h1.02M87 45.5h1.02M87 48.5h1.02M55 49.5h1.02M91 50.5h1.02M127 51.5h1.02M55 52.5h1.02M54 53.5h1.02M53 54.5h1.02M96 54.5h1.02M14 55.5h1.02M49 55.5h1.02M52 55.5h1.02M96 56.5h1.02M130 56.5h1.02M85 57.5h1.02M126 57.5h1.02M124 58.5h1.02M103 59.5h1.02M136 59.5h1.02M94 60.5h1.02M127 61.5h1.02M81 62.5h1.02M89 62.5h1.02M96 62.5h2.02M125 62.5h1.02M128 62.5h1.02M97 63.5h1.02M102 63.5h1.02M127 63.5h1.02M127 64.5h1.02M96 65.5h1.02M97 66.5h2.02M96 67.5h1.02M116 67.5h1.02M97 68.5h1.02M99 69.5h2.02M80 70.5h1.02M105 70.5h1.02M109 70.5h1.02M111 70.5h2.02M136 70.5h1.02M80 71.5h1.02M89 71.5h1.02M105 71.5h1.02M110 71.5h1.02M114 72.5h1.02M119 72.5h1.02M125 72.5h1.02M129 72.5h1.02M113 73.5h1.02M130 73.5h1.02M136 73.5h1.02M27 75.5h1.02M102 77.5h1.02M135 77.5h1.02M134 79.5h1.02M70 80.5h2.02M62 81.5h1.02M86 82.5h1.02M57 85.5h1.02M98 85.5h1.02M101 85.5h2.02M116 85.5h2.02M120 85.5h1.02M127 85.5h1.02M82 86.5h1.02M90 86.5h1.02M101 86.5h1.02M106 86.5h1.02M45 87.5h1.02M48 87.5h1.02M97 87.5h1.02M118 88.5h1.02M62 89.5h1.02M71 89.5h1.02M114 89.5h1.02M86 90.5h1.02M50 91.5h1.02M60 94.5h1.02M35 96.5h2.02M54 96.5h1.02M56 96.5h1.02M62 96.5h1.02M65 96.5h1.02M67 96.5h1.02M62 97.5h2.02M66 97.5h1.02M68 97.5h1.02M87 97.5h1.02M66 98.5h1.02M85 98.5h1.02M69 99.5h1.02M123 99.5h2.02M127 99.5h1.02M132 99.5h2.02M69 100.5h1.02M109 100.5h2.02M128 100.5h1.02M130 100.5h1.02M136 100.5h1.02M85 101.5h2.02M122 101.5h1.02M128 101.5h2.02M132 101.5h4.02M63 102.5h1.02M77 102.5h1.02M85 102.5h1.02M109 102.5h1.02M116 102.5h1.02M125 102.5h1.02M59 103.5h1.02M70 105.5h2.02M113 105.5h1.02M122 105.5h1.02M134 105.5h1.02M86 106.5h1.02M114 106.5h1.02M122 106.5h1.02M113 107.5h1.02M135 107.5h1.02M36 109.5h1.02M70 109.5h1.02M100 109.5h1.02M102 109.5h1.02M124 109.5h1.02M71 110.5h1.02M100 110.5h1.02M111 110.5h2.02M134 110.5h1.02M70 111.5h1.02M110 111.5h1.02M133 111.5h1.02M70 112.5h1.02M110 112.5h1.02M125 112.5h1.02M130 112.5h1.02M134 112.5h1.02M73 113.5h1.02M105 113.5h1.02M107 113.5h1.02M72 114.5h1.02M89 114.5h1.02M106 114.5h1.02M117 114.5h1.02M67 116.5h1.02M85 116.5h1.02M102 116.5h1.02M122 116.5h2.02M130 116.5h1.02M85 117.5h1.02M114 117.5h1.02M88 118.5h1.02M72 119.5h1.02M124 119.5h1.02M85 120.5h1.02M124 120.5h1.02M101 122.5h1.02M105 122.5h2.02M116 122.5h1.02M99 123.5h1.02M116 123.5h1.02M58 124.5h1.02M99 124.5h1.02M109 124.5h1.02M119 124.5h2.02M62 125.5h1.02M72 125.5h1.02M102 125.5h1.02M112 125.5h1.02M57 126.5h1.02M51 127.5h1.02M61 127.5h1.02M63 127.5h2.02M85 127.5h1.02M99 127.5h1.02M62 128.5h1.02M100 128.5h2.02M72 129.5h1.02M101 129.5h1.02M13 130.5h1.02M56 130.5h1.02M73 130.5h1.02M100 130.5h1.02M112 130.5h1.02M116 130.5h1.02M13 132.5h1.02M99 132.5h1.02M101 132.5h1.02M99 133.5h1.02M101 133.5h1.02M111 133.5h1.02M13 134.5h1.02M79 134.5h1.02M101 134.5h1.02M105 134.5h1.02M110 134.5h1.02M112 134.5h1.02M13 135.5h1.02M77 135.5h1.02M101 135.5h1.02M107 135.5h1.02M13 136.5h1.02M59 136.5h1.02M70 136.5h1.02M73 136.5h1.02M100 136.5h1.02"/>
<path stroke="#fafdc8" d="M56 14.5h1.02M38 33.5h1.02M37 34.5h1.02M34 37.5h1.02M33 38.5h1.02M14 56.5h1.02M59 58.5h1.02M58 59.5h1.02M71 60.5h1.02M60 71.5h1.02M107 103.5h1.02M105 104.5h1.02M104 105.5h1.02M103 107.5h1.02"/>
<path stroke="#e0f3f8" d="M18 17.5h1.02M17 18.5h1.02M65 63.5h1.02M65 64.5h1.02M63 65.5h2.02M112 78.5h1.02M112 79.5h1.02M78 112.5h2.02M135 131.5h1.02M135 132.5h1.02M131 135.5h2.02"/>
<path stroke="#b5d7e8" d="M20 18.5h1.02M18 20.5h1.02M80 78.5h1.02M78 80.5h1.02M102 99.5h1.02M99 102.5h1.02"/>
<path stroke="#fff1aa" d="M22 19.5h1.02M19 22.5h1.02M31 30.5h1.02M30 31.5h1.02M60 54.5h1.02M56 55.5h1.02M55 56.5h1.02M114 58.5h1.02M54 60.5h1.02M72 61.5h1.02M111 62.5h1.02M70 63.5h1.02M112 63.5h1.02M112 64.5h1.02M126 66.5h1.02M127 67.5h1.02M126 68.5h1.02M63 70.5h1.02M61 72.5h1.02M89 83.5h1.02M83 89.5h1.02M125 96.5h1.02M125 97.5h1.02M127 97.5h1.02M113 98.5h2.02M128 98.5h1.02M106 100.5h1.02M100 106.5h1.02M62 111.5h1.02M63 112.5h2.02M98 113.5h1.02M128 113.5h1.02M58 114.5h1.02M98 114.5h1.02M128 119.5h1.02M96 125.5h2.02M66 126.5h1.02M68 126.5h1.02M67 127.5h1.02M97 127.5h1.02M98 128.5h1.02M113 128.5h1.02M119 128.5h1.02"/>
<path stroke="#beddec" d="M28 27.5h1.02M27 28.5h1.02M57 56.5h1.02M56 57.5h1.02M102 101.5h1.02M101 102.5h1.02M112 111.5h1.02M111 112.5h1.02M128 127.5h1.02M127 128.5h1.02M136 134.5h1.02M134 136.5h1.02"/>
<path stroke="#8ab8d7" d="M41 40.5h1.02M40 41.5h1.02"/>
<path stroke="#cde6f1" d="M65 62.5h1.02M62 65.5h1.02M68 65.5h1.02M67 66.5h1.02M66 67.5h1.02M65 68.5h1.02M101 100.5h1.02M100 101.5h1.02M130 118.5h1.02M118 130.5h1.02M136 132.5h1.02M132 136.5h1.02"/>
</g></g></g>
<defs><linearGradient id="cb" x1="0" y1="1" x2="0" y2="0">
<stop offset="0" stop-color="#4575b4"/>
<stop offset="0.17" stop-color="#91bfdb"/>
<stop offset="0.33" stop-color="#e0f3f8"/>
<stop offset="0.5" stop-color="#ffffbf"/>
<stop offset="0.67" stop-color="#fee090"/>
<stop offset="0.83" stop-color="#fc8d59"/>
<stop offset="1" stop-color="#d73027"/>
</linearGradient></defs>
<rect x="711" y="177.1" width="18" height="247.4" fill="url(#cb)"/>
<text x="735" y="429.1" font-size="13">0</text>
<text x="735" y="379.82" font-size="13">0.2</text>
<text x="735" y="330.53" font-size="13">0.4</text>
<text x="735" y="281.25" font-size="13">0.6</text>
<text x="735" y="231.97" font-size="13">0.8</text>
<text x="756" y="187.6" font-size="13" font-weight="bold">kit</text>
<rect x="756" y="191.4" width="19.6" height="18.98" fill="#a020f0" shape-rendering="crispEdges"/>
<text x="779" y="205.5" font-size="13">k1</text>
<rect x="756" y="210.33" width="19.6" height="18.98" fill="#b149f3" shape-rendering="crispEdges"/>
<text x="779" y="224.43" font-size="13">k2</text>
<rect x="756" y="229.26" width="19.6" height="18.98" fill="#c371f5" shape-rendering="crispEdges"/>
<text x="779" y="243.36" font-size="13">k3</text>
<rect x="756" y="248.19" width="19.6" height="18.98" fill="#d49af8" shape-rendering="crispEdges"/>
<text x="779" y="262.29" font-size="13">k4</text>
<rect x="756" y="267.12" width="19.6" height="18.98" fill="#e5c2fb" shape-rendering="crispEdges"/>
<text x="779" y="281.22" font-size="13">k5</text>
<rect x="756" y="286.05" width="19.6" height="18.98" fill="#f6ebfe" shape-rendering="crispEdges"/>
<text x="779" y="300.15" font-size="13">k6</text>
<rect x="756" y="304.98" width="19.6" height="18.98" fill="#ebf4eb" shape-rendering="crispEdges"/>
<text x="779" y="319.08" font-size="13">k7</text>
<rect x="756" y="323.91" width="19.6" height="18.98" fill="#c3dfc3" shape-rendering="crispEdges"/>
<text x="779" y="338.01" font-size="13">k8</text>
<rect x="756" y="342.84" width="19.6" height="18.98" fill="#9bca9b" shape-rendering="crispEdges"/>
<text x="779" y="356.94" font-size="13">k9</text>
<rect x="756" y="361.77" width="19.6" height="18.98" fill="#72b572" shape-rendering="crispEdges"/>
<text x="779" y="375.87" font-size="13">k10</text>
<rect x="756" y="380.7" width="19.6" height="18.98" fill="#4aa04a" shape-rendering="crispEdges"/>
<text x="779" y="394.8" font-size="13">k11</text>
<rect x="756" y="399.63" width="19.6" height="18.98" fill="#228b22" shape-rendering="crispEdges"/>
<text x="779" y="413.73" font-size="13">k12</text>
<text x="756" y="443" font-size="13" font-weight="bold">subj</text>
<rect x="756" y="446.7" width="19.6" height="18.98" fill="#8b0000" shape-rendering="crispEdges"/>
<text x="779" y="460.8" font-size="13">s1</text>
<rect x="756" y="465.63" width="19.6" height="18.98" fill="#b03a2e" shape-rendering="crispEdges"/>
<text x="779" y="479.73" font-size="13">s2</text>
<rect x="756" y="484.56" width="19.6" height="18.98" fill="#e2725b" shape-rendering="crispEdges"/>
<text x="779" y="498.66" font-size="13">s3</text>
<rect x="756" y="503.49" width="19.6" height="18.98" fill="#f9d99a" shape-rendering="crispEdges"/>
<text x="779" y="517.59" font-size="13">s4</text>
<rect x="756" y="522.42" width="19.6" height="18.98" fill="#e9c062" shape-rendering="crispEdges"/>
<text x="779" y="536.52" font-size="13">s5</text>
<rect x="756" y="541.35" width="19.6" height="18.98" fill="#daa530" shape-rendering="crispEdges"/>
<text x="779" y="555.45" font-size="13">s6</text>
<rect x="756" y="560.28" width="19.6" height="18.98" fill="#a67b33" shape-rendering="crispEdges"/>
<text x="779" y="574.38" font-size="13">s7</text>
<rect x="756" y="579.21" width="19.6" height="18.98" fill="#5d4b4e" shape-rendering="crispEdges"/>
<text x="779" y="593.31" font-size="13">s8</text>
<rect x="756" y="598.14" width="19.6" height="18.98" fill="#191970" shape-rendering="crispEdges"/>
<text x="779" y="612.24" font-size="13">s9</text>
<text x="756" y="640.6" font-size="13" font-weight="bold">site</text>
<rect x="756" y="645.1" width="19.6" height="18.98" fill="#20b2aa" shape-rendering="crispEdges"/>
<text x="779" y="659.2" font-size="13">flex</text>
<rect x="756" y="664.03" width="19.6" height="18.98" fill="#cc5eeb" shape-rendering="crispEdges"/>
<text x="779" y="678.13" font-size="13">arm</text>
<rect x="756" y="682.96" width="19.6" height="18.98" fill="#00fa9a" shape-rendering="crispEdges"/>
<text x="779" y="697.06" font-size="13">nares</text>
<text x="756" y="725.1" font-size="13" font-weight="bold">type</text>
<rect x="756" y="730" width="19.6" height="18.98" fill="#ff83e0" shape-rendering="crispEdges"/>
<text x="779" y="744.1" font-size="13">eSwab</text>
<rect x="756" y="748.93" width="19.6" height="18.98" fill="#00c5ff" shape-rendering="crispEdges"/>
<text x="779" y="763.03" font-size="13">Scrape</text>
<rect x="849" y="67.7" width="375" height="381.7" fill="none" stroke="#1a1a1a" stroke-width="1.25"/>
<text x="1036" y="49.1" font-size="14.8" text-anchor="middle" font-weight="bold">Shannon alpha−diversity</text>
<line x1="841.5" y1="125.5" x2="849" y2="125.5" stroke="#1a1a1a" stroke-width="1.2"/>
<text x="830.5" y="125.5" font-size="12.3" text-anchor="middle" transform="rotate(-90 830.5 125.5)">5</text>
<line x1="841.5" y1="198.4" x2="849" y2="198.4" stroke="#1a1a1a" stroke-width="1.2"/>
<text x="830.5" y="198.4" font-size="12.3" text-anchor="middle" transform="rotate(-90 830.5 198.4)">4</text>
<line x1="841.5" y1="272" x2="849" y2="272" stroke="#1a1a1a" stroke-width="1.2"/>
<text x="830.5" y="272" font-size="12.3" text-anchor="middle" transform="rotate(-90 830.5 272)">3</text>
<line x1="841.5" y1="345.2" x2="849" y2="345.2" stroke="#1a1a1a" stroke-width="1.2"/>
<text x="830.5" y="345.2" font-size="12.3" text-anchor="middle" transform="rotate(-90 830.5 345.2)">2</text>
<line x1="841.5" y1="418.4" x2="849" y2="418.4" stroke="#1a1a1a" stroke-width="1.2"/>
<text x="830.5" y="418.4" font-size="12.3" text-anchor="middle" transform="rotate(-90 830.5 418.4)">1</text>
<line x1="921" y1="449.4" x2="921" y2="456.9" stroke="#1a1a1a" stroke-width="1.2"/>
<text x="921" y="476.5" font-size="12.5" text-anchor="middle">Flexure</text>
<line x1="1036.6" y1="449.4" x2="1036.6" y2="456.9" stroke="#1a1a1a" stroke-width="1.2"/>
<text x="1036.6" y="476.5" font-size="12.5" text-anchor="middle">Forearm</text>
<line x1="1151.9" y1="449.4" x2="1151.9" y2="456.9" stroke="#1a1a1a" stroke-width="1.2"/>
<text x="1151.9" y="476.5" font-size="12.5" text-anchor="middle">Nares</text>
<path d="M940.59 81.7C941.03 82.68 941.76 84.14 943.22 87.54C944.68 90.94 947.26 97.27 949.35 102.13C951.44 106.99 953.77 111.86 955.77 116.72C957.76 121.58 959.75 126.45 961.31 131.31C962.87 136.17 964.13 141.04 965.1 145.9C966.08 150.76 966.71 156.6 967.15 160.49C967.58 164.38 967.73 165.84 967.73 169.24C967.73 172.65 967.44 177.51 967.15 180.92C966.85 184.32 966.71 185.78 965.98 189.67C965.25 193.56 963.99 199.4 962.77 204.26C961.55 209.12 960 213.99 958.68 218.85C957.37 223.71 956.16 228.58 954.89 233.44C953.63 238.3 952.31 243.17 951.1 248.03C949.88 252.89 948.71 257.76 947.6 262.62C946.48 267.48 945.41 272.35 944.39 277.21C943.36 282.07 942.34 286.94 941.47 291.8C940.59 296.66 939.77 301.53 939.13 306.39C938.5 311.25 938.11 316.12 937.67 320.98C937.24 325.84 936.85 330.71 936.51 335.57C936.17 340.43 935.83 342.87 935.63 350.16C935.44 357.46 935.44 369.61 935.34 379.34C935.24 389.07 935.15 401.23 935.05 408.52C934.95 415.82 935 418.73 934.76 423.11C934.51 427.49 933.78 432.84 933.59 434.78L908.49 434.78C908.3 432.84 907.57 427.49 907.33 423.11C907.08 418.73 907.13 415.82 907.04 408.52C906.94 401.23 906.84 389.07 906.74 379.34C906.65 369.61 906.65 357.46 906.45 350.16C906.26 342.87 905.92 340.43 905.58 335.57C905.24 330.71 904.85 325.84 904.41 320.98C903.97 316.12 903.58 311.25 902.95 306.39C902.32 301.53 901.49 296.66 900.62 291.8C899.74 286.94 898.72 282.07 897.7 277.21C896.68 272.35 895.61 267.48 894.49 262.62C893.37 257.76 892.2 252.89 890.99 248.03C889.77 243.17 888.46 238.3 887.19 233.44C885.93 228.58 884.71 223.71 883.4 218.85C882.09 213.99 880.53 209.12 879.31 204.26C878.1 199.4 876.83 193.56 876.1 189.67C875.37 185.78 875.23 184.32 874.94 180.92C874.65 177.51 874.35 172.65 874.35 169.24C874.35 165.84 874.5 164.38 874.94 160.49C875.37 156.6 876.01 150.76 876.98 145.9C877.95 141.04 879.22 136.17 880.77 131.31C882.33 126.45 884.32 121.58 886.32 116.72C888.31 111.86 890.65 106.99 892.74 102.13C894.83 97.27 897.41 90.94 898.86 87.54C900.32 84.14 901.05 82.68 901.49 81.7Z" fill="#5f9ea0" stroke="#1a1a1a" stroke-width="0.6"/>
<line x1="921.04" y1="81.7" x2="921.04" y2="434.78" stroke="#000" stroke-width="0.9"/>
<rect x="917.84" y="146.78" width="6.4" height="133.35" fill="#000"/>
<circle cx="921.04" cy="195.51" r="3.1" fill="#fff"/>
<path d="M1058.19 81.7C1058.58 82.68 1059.06 84.14 1060.52 87.54C1061.98 90.94 1064.9 97.27 1066.94 102.13C1068.98 106.99 1071.03 111.86 1072.78 116.72C1074.53 121.58 1076.13 126.45 1077.45 131.31C1078.76 136.17 1079.83 141.04 1080.66 145.9C1081.48 150.76 1082.07 156.6 1082.41 160.49C1082.75 164.38 1082.75 165.84 1082.7 169.24C1082.65 172.65 1082.41 177.51 1082.12 180.92C1081.82 184.32 1081.68 185.78 1080.95 189.67C1080.22 193.56 1078.95 199.4 1077.74 204.26C1076.52 209.12 1075.06 213.99 1073.65 218.85C1072.24 223.71 1070.74 228.58 1069.28 233.44C1067.82 238.3 1066.36 243.17 1064.9 248.03C1063.44 252.89 1061.93 257.76 1060.52 262.62C1059.11 267.48 1057.7 272.35 1056.44 277.21C1055.17 282.07 1054.01 286.94 1052.94 291.8C1051.87 296.66 1050.89 301.53 1050.02 306.39C1049.14 311.25 1048.41 316.12 1047.68 320.98C1046.95 325.84 1046.22 330.71 1045.64 335.57C1045.06 340.43 1044.57 345.3 1044.18 350.16C1043.79 355.02 1043.5 359.89 1043.31 364.75C1043.11 369.61 1042.92 374.48 1043.01 379.34C1043.11 384.2 1043.55 389.07 1043.89 393.93C1044.23 398.79 1044.81 403.66 1045.06 408.52C1045.3 413.38 1045.3 419.32 1045.35 423.11C1045.4 426.9 1045.35 429.92 1045.35 431.28L1027.84 431.28C1027.84 429.92 1027.79 426.9 1027.84 423.11C1027.89 419.32 1027.89 413.38 1028.13 408.52C1028.38 403.66 1028.96 398.79 1029.3 393.93C1029.64 389.07 1030.08 384.2 1030.18 379.34C1030.27 374.48 1030.08 369.61 1029.88 364.75C1029.69 359.89 1029.4 355.02 1029.01 350.16C1028.62 345.3 1028.13 340.43 1027.55 335.57C1026.97 330.71 1026.24 325.84 1025.51 320.98C1024.78 316.12 1024.05 311.25 1023.17 306.39C1022.3 301.53 1021.32 296.66 1020.25 291.8C1019.18 286.94 1018.02 282.07 1016.75 277.21C1015.49 272.35 1014.08 267.48 1012.67 262.62C1011.26 257.76 1009.75 252.89 1008.29 248.03C1006.83 243.17 1005.37 238.3 1003.91 233.44C1002.45 228.58 1000.95 223.71 999.54 218.85C998.13 213.99 996.67 209.12 995.45 204.26C994.23 199.4 992.97 193.56 992.24 189.67C991.51 185.78 991.37 184.32 991.07 180.92C990.78 177.51 990.54 172.65 990.49 169.24C990.44 165.84 990.44 164.38 990.78 160.49C991.12 156.6 991.71 150.76 992.53 145.9C993.36 141.04 994.43 136.17 995.74 131.31C997.06 126.45 998.66 121.58 1000.41 116.72C1002.16 111.86 1004.2 106.99 1006.25 102.13C1008.29 97.27 1011.21 90.94 1012.67 87.54C1014.13 84.14 1014.61 82.68 1015 81.7Z" fill="#5f9ea0" stroke="#1a1a1a" stroke-width="0.6"/>
<line x1="1036.59" y1="81.7" x2="1036.59" y2="372.05" stroke="#000" stroke-width="0.9"/>
<rect x="1033.39" y="134.23" width="6.4" height="95.42" fill="#000"/>
<circle cx="1036.59" cy="187.34" r="3.1" fill="#fff"/>
<path d="M1156.23 145.9C1156.38 148.33 1156.77 155.63 1157.11 160.49C1157.45 165.35 1157.74 170.22 1158.28 175.08C1158.81 179.94 1159.49 184.81 1160.32 189.67C1161.14 194.53 1161.97 199.4 1163.24 204.26C1164.5 209.12 1166.11 213.99 1167.9 218.85C1169.7 223.71 1171.84 228.58 1174.03 233.44C1176.22 238.3 1178.65 243.17 1181.04 248.03C1183.42 252.89 1186.05 257.76 1188.33 262.62C1190.62 267.48 1193.15 272.35 1194.75 277.21C1196.36 282.07 1197.38 288.4 1197.96 291.8C1198.54 295.2 1198.54 295.2 1198.25 297.64C1197.96 300.07 1197.72 302.5 1196.21 306.39C1194.7 310.28 1191.64 316.12 1189.21 320.98C1186.77 325.84 1184 330.71 1181.62 335.57C1179.24 340.43 1177 345.3 1174.91 350.16C1172.82 355.02 1170.77 359.89 1169.07 364.75C1167.37 369.61 1165.86 374.96 1164.7 379.34C1163.53 383.72 1162.7 388 1162.07 391.01C1161.44 394.03 1161.1 396.36 1160.9 397.43L1142.81 397.43C1142.62 396.36 1142.28 394.03 1141.64 391.01C1141.01 388 1140.18 383.72 1139.02 379.34C1137.85 374.96 1136.34 369.61 1134.64 364.75C1132.94 359.89 1130.89 355.02 1128.8 350.16C1126.71 345.3 1124.48 340.43 1122.09 335.57C1119.71 330.71 1116.94 325.84 1114.51 320.98C1112.07 316.12 1109.01 310.28 1107.5 306.39C1105.99 302.5 1105.75 300.07 1105.46 297.64C1105.17 295.2 1105.17 295.2 1105.75 291.8C1106.33 288.4 1107.36 282.07 1108.96 277.21C1110.57 272.35 1113.1 267.48 1115.38 262.62C1117.67 257.76 1120.29 252.89 1122.68 248.03C1125.06 243.17 1127.49 238.3 1129.68 233.44C1131.87 228.58 1134.01 223.71 1135.81 218.85C1137.61 213.99 1139.21 209.12 1140.48 204.26C1141.74 199.4 1142.57 194.53 1143.39 189.67C1144.22 184.81 1144.9 179.94 1145.44 175.08C1145.97 170.22 1146.26 165.35 1146.6 160.49C1146.94 155.63 1147.33 148.33 1147.48 145.9Z" fill="#5f9ea0" stroke="#1a1a1a" stroke-width="0.6"/>
<line x1="1151.86" y1="181.5" x2="1151.86" y2="397.43" stroke="#000" stroke-width="0.9"/>
<rect x="1148.66" y="267.58" width="6.4" height="58.65" fill="#000"/>
<circle cx="1151.86" cy="289.17" r="3.1" fill="#fff"/>
<text x="1151" y="127" font-size="19" text-anchor="middle">*</text>
<rect x="1269" y="67.7" width="374.5" height="381.7" fill="none" stroke="#1a1a1a" stroke-width="1.25"/>
<text x="1455.9" y="49.1" font-size="14.8" text-anchor="middle" font-weight="bold">Chao1 richness</text>
<line x1="1261.5" y1="438.3" x2="1269" y2="438.3" stroke="#1a1a1a" stroke-width="1.2"/>
<text x="1250.5" y="438.3" font-size="12.3" text-anchor="middle" transform="rotate(-90 1250.5 438.3)">0</text>
<line x1="1261.5" y1="365.3" x2="1269" y2="365.3" stroke="#1a1a1a" stroke-width="1.2"/>
<text x="1250.5" y="365.3" font-size="12.3" text-anchor="middle" transform="rotate(-90 1250.5 365.3)">500</text>
<line x1="1261.5" y1="291.8" x2="1269" y2="291.8" stroke="#1a1a1a" stroke-width="1.2"/>
<text x="1250.5" y="291.8" font-size="12.3" text-anchor="middle" transform="rotate(-90 1250.5 291.8)">1000</text>
<line x1="1261.5" y1="218.3" x2="1269" y2="218.3" stroke="#1a1a1a" stroke-width="1.2"/>
<text x="1250.5" y="218.3" font-size="12.3" text-anchor="middle" transform="rotate(-90 1250.5 218.3)">1500</text>
<line x1="1261.5" y1="144.4" x2="1269" y2="144.4" stroke="#1a1a1a" stroke-width="1.2"/>
<text x="1250.5" y="144.4" font-size="12.3" text-anchor="middle" transform="rotate(-90 1250.5 144.4)">2000</text>
<line x1="1261.5" y1="70.9" x2="1269" y2="70.9" stroke="#1a1a1a" stroke-width="1.2"/>
<text x="1250.5" y="70.9" font-size="12.3" text-anchor="middle" transform="rotate(-90 1250.5 70.9)">2500</text>
<line x1="1340.6" y1="449.4" x2="1340.6" y2="456.9" stroke="#1a1a1a" stroke-width="1.2"/>
<text x="1340.6" y="476.5" font-size="12.5" text-anchor="middle">Flexure</text>
<line x1="1455.9" y1="449.4" x2="1455.9" y2="456.9" stroke="#1a1a1a" stroke-width="1.2"/>
<text x="1455.9" y="476.5" font-size="12.5" text-anchor="middle">Forearm</text>
<line x1="1572" y1="449.4" x2="1572" y2="456.9" stroke="#1a1a1a" stroke-width="1.2"/>
<text x="1572" y="476.5" font-size="12.5" text-anchor="middle">Nares</text>
<path d="M1347.05 81.7C1347.2 82.68 1347.29 84.14 1347.93 87.54C1348.56 90.94 1349.73 97.27 1350.84 102.13C1351.96 106.99 1353.03 111.86 1354.64 116.72C1356.24 121.58 1358.19 126.45 1360.47 131.31C1362.76 136.17 1365.92 141.04 1368.35 145.9C1370.78 150.76 1373.12 155.63 1375.06 160.49C1377.01 165.35 1378.57 170.22 1380.02 175.08C1381.48 179.94 1382.85 184.81 1383.82 189.67C1384.79 194.53 1385.37 196.97 1385.86 204.26C1386.35 211.56 1386.54 223.71 1386.74 233.44C1386.93 243.17 1387.03 252.89 1387.03 262.62C1387.03 272.35 1387.08 282.07 1386.74 291.8C1386.4 301.53 1385.76 311.25 1384.99 320.98C1384.21 330.71 1383.14 340.43 1382.07 350.16C1381 359.89 1380.02 369.61 1378.57 379.34C1377.11 389.07 1374.87 401.23 1373.31 408.52C1371.76 415.82 1370.54 418.88 1369.23 423.11C1367.92 427.34 1366.07 432.11 1365.43 433.91L1315.83 433.91C1315.2 432.11 1313.35 427.34 1312.04 423.11C1310.72 418.88 1309.51 415.82 1307.95 408.52C1306.39 401.23 1304.16 389.07 1302.7 379.34C1301.24 369.61 1300.27 359.89 1299.2 350.16C1298.13 340.43 1297.06 330.71 1296.28 320.98C1295.5 311.25 1294.87 301.53 1294.53 291.8C1294.19 282.07 1294.24 272.35 1294.24 262.62C1294.24 252.89 1294.33 243.17 1294.53 233.44C1294.72 223.71 1294.92 211.56 1295.4 204.26C1295.89 196.97 1296.47 194.53 1297.45 189.67C1298.42 184.81 1299.78 179.94 1301.24 175.08C1302.7 170.22 1304.25 165.35 1306.2 160.49C1308.14 155.63 1310.48 150.76 1312.91 145.9C1315.34 141.04 1318.5 136.17 1320.79 131.31C1323.08 126.45 1325.02 121.58 1326.63 116.72C1328.23 111.86 1329.3 106.99 1330.42 102.13C1331.54 97.27 1332.7 90.94 1333.34 87.54C1333.97 84.14 1334.07 82.68 1334.21 81.7Z" fill="#5f9ea0" stroke="#1a1a1a" stroke-width="0.6"/>
<line x1="1340.63" y1="81.7" x2="1340.63" y2="433.91" stroke="#000" stroke-width="0.9"/>
<rect x="1337.43" y="203.68" width="6.4" height="146.48" fill="#000"/>
<circle cx="1340.63" cy="285.67" r="3.1" fill="#fff"/>
<path d="M1471.07 88.12C1471.55 90.46 1473.01 97.36 1473.98 102.13C1474.96 106.9 1475.44 109.43 1476.9 116.72C1478.36 124.02 1480.79 136.17 1482.74 145.9C1484.68 155.63 1486.82 165.35 1488.57 175.08C1490.33 184.81 1491.74 194.53 1493.24 204.26C1494.75 213.99 1496.31 223.71 1497.62 233.44C1498.93 243.17 1500.39 255.33 1501.12 262.62C1501.85 269.92 1501.75 272.35 1502 277.21C1502.24 282.07 1502.58 286.94 1502.58 291.8C1502.58 296.66 1502.48 301.53 1502 306.39C1501.51 311.25 1501.27 313.69 1499.66 320.98C1498.06 328.28 1494.8 340.43 1492.37 350.16C1489.94 359.89 1487.36 369.61 1485.07 379.34C1482.79 389.07 1480.6 399.28 1478.65 408.52C1476.71 417.76 1474.28 430.41 1473.4 434.78L1438.38 434.78C1437.51 430.41 1435.08 417.76 1433.13 408.52C1431.19 399.28 1429 389.07 1426.71 379.34C1424.43 369.61 1421.85 359.89 1419.42 350.16C1416.99 340.43 1413.73 328.28 1412.12 320.98C1410.52 313.69 1410.27 311.25 1409.79 306.39C1409.3 301.53 1409.2 296.66 1409.2 291.8C1409.2 286.94 1409.55 282.07 1409.79 277.21C1410.03 272.35 1409.93 269.92 1410.66 262.62C1411.39 255.33 1412.85 243.17 1414.17 233.44C1415.48 223.71 1417.03 213.99 1418.54 204.26C1420.05 194.53 1421.46 184.81 1423.21 175.08C1424.96 165.35 1427.1 155.63 1429.05 145.9C1430.99 136.17 1433.42 124.02 1434.88 116.72C1436.34 109.43 1436.83 106.9 1437.8 102.13C1438.77 97.36 1440.23 90.46 1440.72 88.12Z" fill="#5f9ea0" stroke="#1a1a1a" stroke-width="0.6"/>
<line x1="1455.89" y1="88.12" x2="1455.89" y2="434.78" stroke="#000" stroke-width="0.9"/>
<rect x="1452.69" y="189.67" width="6.4" height="143.86" fill="#000"/>
<circle cx="1455.89" cy="275.75" r="3.1" fill="#fff"/>
<path d="M1577.87 190.25C1578.11 192.59 1578.98 197.06 1579.32 204.26C1579.66 211.46 1579.66 223.71 1579.91 233.44C1580.15 243.17 1580.25 255.33 1580.78 262.62C1581.32 269.92 1581.9 272.35 1583.12 277.21C1584.33 282.07 1586.04 286.94 1588.08 291.8C1590.12 296.66 1592.7 301.53 1595.37 306.39C1598.05 311.25 1601.31 316.12 1604.13 320.98C1606.95 325.84 1610.11 330.71 1612.3 335.57C1614.49 340.43 1616.24 346.27 1617.26 350.16C1618.28 354.05 1618.67 355.02 1618.43 358.91C1618.18 362.81 1617.45 368.64 1615.8 373.5C1614.15 378.37 1611.18 383.23 1608.5 388.09C1605.83 392.96 1602.43 397.72 1599.75 402.68C1597.08 407.65 1593.67 415.33 1592.46 417.86L1551.6 417.86C1550.39 415.33 1546.98 407.65 1544.31 402.68C1541.63 397.72 1538.23 392.96 1535.55 388.09C1532.88 383.23 1529.91 378.37 1528.26 373.5C1526.61 368.64 1525.88 362.81 1525.63 358.91C1525.39 355.02 1525.78 354.05 1526.8 350.16C1527.82 346.27 1529.57 340.43 1531.76 335.57C1533.95 330.71 1537.11 325.84 1539.93 320.98C1542.75 316.12 1546.01 311.25 1548.69 306.39C1551.36 301.53 1553.94 296.66 1555.98 291.8C1558.02 286.94 1559.73 282.07 1560.94 277.21C1562.16 272.35 1562.74 269.92 1563.28 262.62C1563.81 255.33 1563.91 243.17 1564.15 233.44C1564.39 223.71 1564.39 211.46 1564.73 204.26C1565.07 197.06 1565.95 192.59 1566.19 190.25Z" fill="#5f9ea0" stroke="#1a1a1a" stroke-width="0.6"/>
<line x1="1572.03" y1="264.95" x2="1572.03" y2="417.86" stroke="#000" stroke-width="0.9"/>
<rect x="1568.83" y="332.07" width="6.4" height="44.94" fill="#000"/>
<circle cx="1572.03" cy="352.2" r="3.1" fill="#fff"/>
<text x="1571.5" y="168.5" font-size="19" text-anchor="middle">*</text>
<g shape-rendering="auto">
<path fill="#e41a1c" d="M308.2 1629.4h6.8V1628.09h-6.8zM425.4 1629.4h6.8V1628.09h-6.8zM433.78 1629.4h6.8V1628.42h-6.8zM458.89 1629.4h6.8V1627.77h-6.8zM467.26 1629.4h6.8V1628.42h-6.8zM475.64 1629.4h6.8V1628.42h-6.8zM484.01 1629.4h6.8V1628.42h-6.8zM542.61 1629.4h6.8V1628.42h-6.8zM576.1 1629.4h6.8V1628.42h-6.8zM592.84 1629.4h6.8V1625.97h-6.8zM601.22 1629.4h6.8V1628.42h-6.8zM626.33 1629.4h6.8V1628.42h-6.8zM651.45 1629.4h6.8V1627.77h-6.8zM659.82 1629.4h6.8V1628.42h-6.8zM676.56 1629.4h6.8V1628.42h-6.8zM684.94 1629.4h6.8V1628.42h-6.8zM693.31 1629.4h6.8V1628.42h-6.8zM701.68 1629.4h6.8V1628.42h-6.8zM726.8 1629.4h6.8V1624.01h-6.8zM760.28 1629.4h6.8V1628.42h-6.8zM768.66 1629.4h6.8V1626.95h-6.8zM777.03 1629.4h6.8V1628.42h-6.8zM785.4 1629.4h6.8V1628.42h-6.8zM793.77 1629.4h6.8V1628.42h-6.8zM802.14 1629.4h6.8V1627.77h-6.8zM827.26 1629.4h6.8V1628.42h-6.8zM844 1629.4h6.8V1627.77h-6.8zM852.38 1629.4h6.8V1626.95h-6.8zM860.75 1629.4h6.8V1508.48h-6.8zM869.12 1629.4h6.8V1556.2h-6.8zM894.24 1629.4h6.8V1628.42h-6.8zM1019.82 1629.4h6.8V1628.42h-6.8zM1078.42 1629.4h6.8V1628.42h-6.8zM1095.16 1629.4h6.8V1628.42h-6.8zM1103.54 1629.4h6.8V1628.42h-6.8zM1128.65 1629.4h6.8V1628.42h-6.8zM1137.02 1629.4h6.8V1628.42h-6.8zM1145.4 1629.4h6.8V1626.95h-6.8zM1153.77 1629.4h6.8V1627.77h-6.8zM1204 1629.4h6.8V1627.77h-6.8zM1212.37 1629.4h6.8V1628.42h-6.8zM1220.74 1629.4h6.8V1628.42h-6.8zM1229.12 1629.4h6.8V1628.42h-6.8zM1237.49 1629.4h6.8V1628.42h-6.8zM1254.23 1629.4h6.8V1627.77h-6.8zM1287.72 1629.4h6.8V1628.42h-6.8z"/>
<path fill="#377eb8" d="M157.5 1629.4h6.8V1266.8h-6.8zM165.87 1629.4h6.8V1157.82h-6.8zM174.24 1629.4h6.8V1289.68h-6.8zM182.62 1629.4h6.8V1206.84h-6.8zM190.99 1629.4h6.8V1338.37h-6.8zM199.36 1629.4h6.8V1123.5h-6.8zM207.73 1629.4h6.8V1159.78h-6.8zM216.1 1629.4h6.8V1359.61h-6.8zM224.48 1629.4h6.8V1145.07h-6.8zM232.85 1629.4h6.8V1393.12h-6.8zM241.22 1629.4h6.8V1215.33h-6.8zM249.59 1629.4h6.8V1354.39h-6.8zM257.96 1629.4h6.8V1145.23h-6.8zM266.34 1629.4h6.8V1351.44h-6.8zM274.71 1629.4h6.8V1192.13h-6.8zM283.08 1629.4h6.8V1383.32h-6.8zM291.45 1629.4h6.8V1240.01h-6.8zM299.82 1629.4h6.8V1216.64h-6.8zM308.2 1628.09h6.8V1267.29h-6.8zM316.57 1629.4h6.8V1280.69h-6.8zM324.94 1629.4h6.8V1128.73h-6.8zM333.31 1629.4h6.8V1232.16h-6.8zM341.68 1629.4h6.8V1128.89h-6.8zM350.06 1629.4h6.8V1167.62h-6.8zM358.43 1629.4h6.8V1344.58h-6.8zM366.8 1629.4h6.8V1110.92h-6.8zM375.17 1629.4h6.8V1373.52h-6.8zM383.54 1629.4h6.8V1364.03h-6.8zM391.92 1629.4h6.8V1467.63h-6.8zM400.29 1629.4h6.8V1518.29h-6.8zM408.66 1629.4h6.8V1588.88h-6.8zM417.03 1629.4h6.8V1466.65h-6.8zM425.4 1628.09h6.8V1501.95h-6.8zM433.78 1628.42h6.8V1544.76h-6.8zM442.15 1629.4h6.8V1543.62h-6.8zM450.52 1629.4h6.8V1181.51h-6.8zM458.89 1627.77h6.8V1531.2h-6.8zM467.26 1628.42h6.8V1534.14h-6.8zM475.64 1628.42h6.8V1554.56h-6.8zM484.01 1628.42h6.8V1537.9h-6.8zM492.38 1629.4h6.8V1609.3h-6.8zM500.75 1629.4h6.8V1511.59h-6.8zM509.12 1629.4h6.8V1608.48h-6.8zM517.5 1629.4h6.8V1558.32h-6.8zM525.87 1629.4h6.8V1628.09h-6.8zM534.24 1629.4h6.8V1398.19h-6.8zM542.61 1628.42h6.8V1530.05h-6.8zM559.36 1629.4h6.8V1574.17h-6.8zM576.1 1628.42h6.8V1535.28h-6.8zM592.84 1625.97h6.8V1582.83h-6.8zM601.22 1628.42h6.8V1512.41h-6.8zM609.59 1629.4h6.8V1569.27h-6.8zM617.96 1629.4h6.8V1287.23h-6.8zM626.33 1628.42h6.8V1344.42h-6.8zM634.7 1629.4h6.8V1506.85h-6.8zM643.08 1629.4h6.8V1592.64h-6.8zM651.45 1627.77h6.8V1329.06h-6.8zM659.82 1628.42h6.8V1329.88h-6.8zM668.19 1629.4h6.8V1226.44h-6.8zM676.56 1628.42h6.8V1499.82h-6.8zM684.94 1628.42h6.8V1483.16h-6.8zM693.31 1628.42h6.8V1296.71h-6.8zM701.68 1628.42h6.8V1315.17h-6.8zM710.05 1629.4h6.8V1451.13h-6.8zM718.42 1629.4h6.8V1436.1h-6.8zM726.8 1624.01h6.8V1543.62h-6.8zM735.17 1629.4h6.8V1400.97h-6.8zM751.91 1629.4h6.8V1550.48h-6.8zM760.28 1628.42h6.8V1569.27h-6.8zM768.66 1626.95h6.8V1598.35h-6.8zM777.03 1628.42h6.8V1504.73h-6.8zM785.4 1628.42h6.8V1573.03h-6.8zM793.77 1628.42h6.8V1502.77h-6.8zM802.14 1627.77h6.8V1438.22h-6.8zM810.52 1629.4h6.8V1365.02h-6.8zM818.89 1629.4h6.8V1564.37h-6.8zM827.26 1628.42h6.8V1468.45h-6.8zM835.63 1629.4h6.8V1500.64h-6.8zM844 1627.77h6.8V1402.11h-6.8zM852.38 1626.95h6.8V1393.29h-6.8zM860.75 1508.48h6.8V1322.03h-6.8zM869.12 1556.2h6.8V1520.25h-6.8zM877.49 1629.4h6.8V1310.27h-6.8zM885.86 1629.4h6.8V1414.86h-6.8zM894.24 1628.42h6.8V1499.01h-6.8zM902.61 1629.4h6.8V1592.64h-6.8zM910.98 1629.4h6.8V1602.44h-6.8zM919.35 1629.4h6.8V1573.84h-6.8zM927.72 1629.4h6.8V1561.1h-6.8zM936.1 1629.4h6.8V1554.24h-6.8zM944.47 1629.4h6.8V1616.16h-6.8zM952.84 1629.4h6.8V1407.01h-6.8zM977.96 1629.4h6.8V1568.13h-6.8zM994.7 1629.4h6.8V1627.28h-6.8zM1003.07 1629.4h6.8V1588.88h-6.8zM1019.82 1628.42h6.8V1563.22h-6.8zM1028.19 1629.4h6.8V1598.35h-6.8zM1036.56 1629.4h6.8V1610.12h-6.8zM1044.93 1629.4h6.8V1616.16h-6.8zM1053.3 1629.4h6.8V1530.05h-6.8zM1061.68 1629.4h6.8V1434.46h-6.8zM1070.05 1629.4h6.8V1418.61h-6.8zM1078.42 1628.42h6.8V1488.06h-6.8zM1086.79 1629.4h6.8V1546.72h-6.8zM1095.16 1628.42h6.8V1468.45h-6.8zM1103.54 1628.42h6.8V1445.09h-6.8zM1111.91 1629.4h6.8V1443.12h-6.8zM1120.28 1629.4h6.8V1427.44h-6.8zM1128.65 1628.42h6.8V1343.6h-6.8zM1137.02 1628.42h6.8V1537.9h-6.8zM1145.4 1626.95h6.8V1381.36h-6.8zM1153.77 1627.77h6.8V1418.61h-6.8zM1162.14 1629.4h6.8V1227.26h-6.8zM1170.51 1629.4h6.8V1480.22h-6.8zM1178.88 1629.4h6.8V1405.05h-6.8zM1187.26 1629.4h6.8V1508.48h-6.8zM1195.63 1629.4h6.8V1404.24h-6.8zM1204 1627.77h6.8V1465.51h-6.8zM1212.37 1628.42h6.8V1590.51h-6.8zM1220.74 1628.42h6.8V1559.14h-6.8zM1229.12 1628.42h6.8V1601.13h-6.8zM1237.49 1628.42h6.8V1576.95h-6.8zM1245.86 1629.4h6.8V1527.28h-6.8zM1254.23 1627.77h6.8V1362.88h-6.8zM1262.6 1629.4h6.8V1371.88h-6.8zM1270.98 1629.4h6.8V1534.14h-6.8zM1279.35 1629.4h6.8V1555.38h-6.8zM1287.72 1628.42h6.8V1407.99h-6.8zM1296.09 1629.4h6.8V1466.65h-6.8z"/>
<path fill="#4daf4a" d="M165.87 1157.82h6.8V1156.18h-6.8zM174.24 1289.68h6.8V1288.54h-6.8zM199.36 1123.5h6.8V1122.36h-6.8zM216.1 1359.61h6.8V1356.35h-6.8zM224.48 1145.07h6.8V1143.93h-6.8zM232.85 1393.12h6.8V1372.7h-6.8zM241.22 1215.33h6.8V1213.37h-6.8zM249.59 1354.39h6.8V1346.54h-6.8zM257.96 1145.23h6.8V1143.11h-6.8zM266.34 1351.44h6.8V1349.48h-6.8zM274.71 1192.13h6.8V1188.37h-6.8zM283.08 1383.32h6.8V1374.5h-6.8zM291.45 1240.01h6.8V1237.06h-6.8zM299.82 1216.64h6.8V1207.98h-6.8zM308.2 1267.29h6.8V1254.71h-6.8zM341.68 1128.89h6.8V1127.59h-6.8zM350.06 1167.62h6.8V1163.86h-6.8zM358.43 1344.58h6.8V1331.02h-6.8zM375.17 1373.52h6.8V1372.37h-6.8zM391.92 1467.63h6.8V1466.33h-6.8zM400.29 1518.29h6.8V1310.59h-6.8zM408.66 1588.88h6.8V1544.76h-6.8zM417.03 1466.65h6.8V1403.91h-6.8zM425.4 1501.95h6.8V1416.82h-6.8zM433.78 1544.76h6.8V1480.22h-6.8zM442.15 1543.62h6.8V1300.79h-6.8zM450.52 1181.51h6.8V1131.67h-6.8zM458.89 1531.2h6.8V1445.9h-6.8zM467.26 1534.14h6.8V1380.54h-6.8zM475.64 1554.56h6.8V1460.61h-6.8zM484.01 1537.9h6.8V1331.02h-6.8zM492.38 1609.3h6.8V1563.22h-6.8zM500.75 1511.59h6.8V1451.95h-6.8zM509.12 1608.48h6.8V1602.28h-6.8zM517.5 1558.32h6.8V1394.43h-6.8zM525.87 1628.09h6.8V1620.74h-6.8zM534.24 1398.19h6.8V1295.89h-6.8zM542.61 1530.05h6.8V1441h-6.8zM550.98 1629.4h6.8V1628.09h-6.8zM559.36 1574.17h6.8V1375.64h-6.8zM576.1 1535.28h6.8V1478.09h-6.8zM592.84 1582.83h6.8V1499.82h-6.8zM601.22 1512.41h6.8V1314.19h-6.8zM609.59 1569.27h6.8V1532.01h-6.8zM617.96 1287.23h6.8V1210.1h-6.8zM626.33 1344.42h6.8V1278.24h-6.8zM634.7 1506.85h6.8V1421.72h-6.8zM643.08 1592.64h6.8V1566h-6.8zM651.45 1329.06h6.8V1244.91h-6.8zM659.82 1329.88h6.8V1286.08h-6.8zM668.19 1226.44h6.8V1186.41h-6.8zM676.56 1499.82h6.8V1412.9h-6.8zM684.94 1483.16h6.8V1413.71h-6.8zM693.31 1296.71h6.8V1246.05h-6.8zM701.68 1315.17h6.8V1273.34h-6.8zM710.05 1451.13h6.8V1429.24h-6.8zM718.42 1436.1h6.8V1313.37h-6.8zM726.8 1543.62h6.8V1463.55h-6.8zM735.17 1400.97h6.8V1374.5h-6.8zM743.54 1629.4h6.8V1619.92h-6.8zM751.91 1550.48h6.8V1482.18h-6.8zM760.28 1569.27h6.8V1342.13h-6.8zM768.66 1598.35h6.8V1528.09h-6.8zM777.03 1504.73h6.8V1300.79h-6.8zM785.4 1573.03h6.8V1345.72h-6.8zM793.77 1502.77h6.8V1286.9h-6.8zM802.14 1438.22h6.8V1255.53h-6.8zM810.52 1365.02h6.8V1281.18h-6.8zM818.89 1564.37h6.8V1458.97h-6.8zM827.26 1468.45h6.8V1428.42h-6.8zM835.63 1500.64h6.8V1397.21h-6.8zM844 1402.11h6.8V1294.74h-6.8zM852.38 1393.29h6.8V1345.72h-6.8zM860.75 1322.03h6.8V1296.71h-6.8zM869.12 1520.25h6.8V1511.59h-6.8zM877.49 1310.27h6.8V1238.21h-6.8zM885.86 1414.86h6.8V1233.31h-6.8zM894.24 1499.01h6.8V1249.65h-6.8zM902.61 1592.64h6.8V1553.75h-6.8zM910.98 1602.44h6.8V1548.84h-6.8zM919.35 1573.84h6.8V1535.77h-6.8zM927.72 1561.1h6.8V1495.74h-6.8zM936.1 1554.24h6.8V1494.92h-6.8zM944.47 1616.16h6.8V1607.34h-6.8zM952.84 1407.01h6.8V1329.06h-6.8zM969.58 1629.4h6.8V1627.77h-6.8zM977.96 1568.13h6.8V1530.05h-6.8zM994.7 1627.28h6.8V1626.46h-6.8zM1003.07 1588.88h6.8V1566h-6.8zM1011.44 1629.4h6.8V1626.95h-6.8zM1019.82 1563.22h6.8V1400.15h-6.8zM1028.19 1598.35h6.8V1565.18h-6.8zM1036.56 1610.12h6.8V1585.94h-6.8zM1044.93 1616.16h6.8V1597.54h-6.8zM1053.3 1530.05h6.8V1468.45h-6.8zM1061.68 1434.46h6.8V1346.54h-6.8zM1070.05 1418.61h6.8V1336.74h-6.8zM1078.42 1488.06h6.8V1459.79h-6.8zM1086.79 1546.72h6.8V1490.84h-6.8zM1095.16 1468.45h6.8V1278.24h-6.8zM1103.54 1445.09h6.8V1268.11h-6.8zM1111.91 1443.12h6.8V1317.95h-6.8zM1120.28 1427.44h6.8V1329.06h-6.8zM1128.65 1343.6h6.8V1270.23h-6.8zM1137.02 1537.9h6.8V1508.48h-6.8zM1145.4 1381.36h6.8V1249.65h-6.8zM1153.77 1418.61h6.8V1240.01h-6.8zM1162.14 1227.26h6.8V1211.74h-6.8zM1170.51 1480.22h6.8V1462.57h-6.8zM1178.88 1405.05h6.8V1266.48h-6.8zM1187.26 1508.48h6.8V1356.35h-6.8zM1195.63 1404.24h6.8V1396.07h-6.8zM1204 1465.51h6.8V1460.61h-6.8zM1212.37 1590.51h6.8V1532.01h-6.8zM1220.74 1559.14h6.8V1268.11h-6.8zM1229.12 1601.13h6.8V1322.85h-6.8zM1237.49 1576.95h6.8V1418.61h-6.8zM1245.86 1527.28h6.8V1154.06h-6.8zM1254.23 1362.88h6.8V1312.23h-6.8zM1262.6 1371.88h6.8V1329.06h-6.8zM1270.98 1534.14h6.8V1336.74h-6.8zM1279.35 1555.38h6.8V1375.64h-6.8zM1287.72 1407.99h6.8V1352.26h-6.8zM1296.09 1466.65h6.8V1384.3h-6.8z"/>
<path fill="#984ea3" d="M157.5 1266.8h6.8V1264.84h-6.8zM165.87 1156.18h6.8V1155.36h-6.8zM182.62 1206.84h6.8V1205.2h-6.8zM199.36 1122.36h6.8V1121.05h-6.8zM207.73 1159.78h6.8V1151.28h-6.8zM216.1 1356.35h6.8V1353.4h-6.8zM232.85 1372.7h6.8V1369.92h-6.8zM241.22 1213.37h6.8V1210.92h-6.8zM249.59 1346.54h6.8V1343.27h-6.8zM266.34 1349.48h6.8V1347.36h-6.8zM274.71 1188.37h6.8V1185.27h-6.8zM283.08 1374.5h6.8V1369.92h-6.8zM291.45 1237.06h6.8V1233.47h-6.8zM299.82 1207.98h6.8V1202.1h-6.8zM308.2 1254.71h6.8V1244.91h-6.8zM316.57 1280.69h6.8V1279.87h-6.8zM333.31 1232.16h6.8V1231.35h-6.8zM341.68 1127.59h6.8V1123.83h-6.8zM358.43 1331.02h6.8V1324.97h-6.8zM366.8 1110.92h6.8V1107.16h-6.8zM400.29 1310.59h6.8V1295.07h-6.8zM408.66 1544.76h6.8V1539.04h-6.8zM417.03 1403.91h6.8V1398.19h-6.8zM425.4 1416.82h6.8V1409.95h-6.8zM433.78 1480.22h6.8V1473.35h-6.8zM442.15 1300.79h6.8V1289.35h-6.8zM458.89 1445.9h6.8V1438.55h-6.8zM467.26 1380.54h6.8V1378.58h-6.8zM484.01 1331.02h6.8V1323.18h-6.8zM492.38 1563.22h6.8V1559.47h-6.8zM500.75 1451.95h6.8V1342.95h-6.8zM509.12 1602.28h6.8V1590.02h-6.8zM517.5 1394.43h6.8V1387.41h-6.8zM525.87 1620.74h6.8V1619.92h-6.8zM534.24 1295.89h6.8V1293.93h-6.8zM542.61 1441h6.8V1436.43h-6.8zM550.98 1628.09h6.8V1626.46h-6.8zM559.36 1375.64h6.8V1369.92h-6.8zM576.1 1478.09h6.8V1473.35h-6.8zM601.22 1314.19h6.8V1306.51h-6.8zM609.59 1532.01h6.8V1486.26h-6.8zM617.96 1210.1h6.8V1202.26h-6.8zM626.33 1278.24h6.8V1270.56h-6.8zM634.7 1421.72h6.8V1409.95h-6.8zM643.08 1566h6.8V1564.37h-6.8zM651.45 1244.91h6.8V1233.31h-6.8zM659.82 1286.08h6.8V1264.35h-6.8zM668.19 1186.41h6.8V1174.65h-6.8zM676.56 1412.9h6.8V1400.15h-6.8zM684.94 1413.71h6.8V1402.11h-6.8zM693.31 1246.05h6.8V1220.72h-6.8zM701.68 1273.34h6.8V1249.65h-6.8zM710.05 1429.24h6.8V1416h-6.8zM718.42 1313.37h6.8V1304.06h-6.8zM726.8 1463.55h6.8V1457.01h-6.8zM735.17 1374.5h6.8V1361.25h-6.8zM751.91 1482.18h6.8V1467.63h-6.8zM760.28 1342.13h6.8V1340.01h-6.8zM768.66 1528.09h6.8V1527.28h-6.8zM777.03 1300.79h6.8V1290.17h-6.8zM785.4 1345.72h6.8V1338.86h-6.8zM793.77 1286.9h6.8V1284.94h-6.8zM802.14 1255.53h6.8V1252.91h-6.8zM810.52 1281.18h6.8V1269.42h-6.8zM818.89 1458.97h6.8V1451.13h-6.8zM827.26 1428.42h6.8V1423.84h-6.8zM835.63 1397.21h6.8V1388.39h-6.8zM844 1294.74h6.8V1292.95h-6.8zM852.38 1345.72h6.8V1341.64h-6.8zM860.75 1296.71h6.8V1293.93h-6.8zM869.12 1511.59h6.8V1509.63h-6.8zM877.49 1238.21h6.8V1237.06h-6.8zM885.86 1233.31h6.8V1231.35h-6.8zM894.24 1249.65h6.8V1248.01h-6.8zM910.98 1548.84h6.8V1547.21h-6.8zM919.35 1535.77h6.8V1391.16h-6.8zM927.72 1495.74h6.8V1457.83h-6.8zM936.1 1494.92h6.8V1484.3h-6.8zM944.47 1607.34h6.8V1606.03h-6.8zM952.84 1329.06h6.8V1324.16h-6.8zM977.96 1530.05h6.8V1522.37h-6.8zM986.33 1629.4h6.8V1628.09h-6.8zM1003.07 1566h6.8V1563.55h-6.8zM1019.82 1400.15h6.8V1398.19h-6.8zM1028.19 1565.18h6.8V1564.37h-6.8zM1036.56 1585.94h6.8V1584.79h-6.8zM1044.93 1597.54h6.8V1596.23h-6.8zM1053.3 1468.45h6.8V1394.43h-6.8zM1061.68 1346.54h6.8V1344.91h-6.8zM1070.05 1336.74h6.8V1334.78h-6.8zM1078.42 1459.79h6.8V1457.83h-6.8zM1086.79 1490.84h6.8V1488.06h-6.8zM1095.16 1278.24h6.8V1276.28h-6.8zM1103.54 1268.11h6.8V1265.66h-6.8zM1111.91 1317.95h6.8V1315.17h-6.8zM1120.28 1329.06h6.8V1324.16h-6.8zM1128.65 1270.23h6.8V1262.39h-6.8zM1137.02 1508.48h6.8V1505.05h-6.8zM1145.4 1249.65h6.8V1248.01h-6.8zM1153.77 1240.01h6.8V1236.25h-6.8zM1162.14 1211.74h6.8V1187.23h-6.8zM1170.51 1462.57h6.8V1452.93h-6.8zM1178.88 1266.48h6.8V1252.91h-6.8zM1187.26 1356.35h6.8V1352.26h-6.8zM1195.63 1396.07h6.8V1349.48h-6.8zM1204 1460.61h6.8V1414.86h-6.8zM1212.37 1532.01h6.8V1521.39h-6.8zM1229.12 1322.85h6.8V1322.03h-6.8zM1237.49 1418.61h6.8V1417.63h-6.8zM1254.23 1312.23h6.8V1283.31h-6.8zM1262.6 1329.06h6.8V1324.97h-6.8zM1270.98 1336.74h6.8V1334.29h-6.8zM1279.35 1375.64h6.8V1374.01h-6.8zM1287.72 1352.26h6.8V1334.61h-6.8zM1296.09 1384.3h6.8V1369.92h-6.8z"/>
<path fill="#ff7f00" d="M425.4 1409.95h6.8V1408.81h-6.8zM475.64 1460.61h6.8V1455.71h-6.8zM576.1 1473.35h6.8V1472.05h-6.8zM592.84 1499.82h6.8V1498.52h-6.8zM626.33 1270.56h6.8V1269.42h-6.8zM651.45 1233.31h6.8V1232.16h-6.8zM684.94 1402.11h6.8V1400.97h-6.8zM768.66 1527.28h6.8V1526.29h-6.8zM785.4 1338.86h6.8V1337.88h-6.8zM793.77 1284.94h6.8V1283.14h-6.8zM802.14 1252.91h6.8V1251.28h-6.8zM844 1292.95h6.8V1289.84h-6.8zM852.38 1341.64h6.8V1338.37h-6.8zM860.75 1293.93h6.8V1231.35h-6.8zM869.12 1509.63h6.8V1465.51h-6.8zM894.24 1248.01h6.8V1246.38h-6.8zM952.84 1324.16h6.8V1322.85h-6.8zM1028.19 1564.37h6.8V1562.24h-6.8zM1145.4 1248.01h6.8V1246.38h-6.8zM1212.37 1521.39h6.8V1518.29h-6.8zM1220.74 1268.11h6.8V1266.15h-6.8zM1245.86 1154.06h6.8V1152.91h-6.8z"/>
<path fill="#7fff00" d="M232.85 1369.92h6.8V1368.61h-6.8zM249.59 1343.27h6.8V1341.31h-6.8zM291.45 1233.47h6.8V1232.16h-6.8zM400.29 1295.07h6.8V1293.44h-6.8zM425.4 1408.81h6.8V1397.21h-6.8zM433.78 1473.35h6.8V1465.18h-6.8zM442.15 1289.35h6.8V1287.72h-6.8zM458.89 1438.55h6.8V1431.2h-6.8zM484.01 1323.18h6.8V1321.21h-6.8zM492.38 1559.47h6.8V1557.5h-6.8zM500.75 1342.95h6.8V1328.89h-6.8zM509.12 1590.02h6.8V1585.94h-6.8zM542.61 1436.43h6.8V1434.95h-6.8zM576.1 1472.05h6.8V1467.47h-6.8zM601.22 1306.51h6.8V1304.38h-6.8zM609.59 1486.26h6.8V1468.45h-6.8zM617.96 1202.26h6.8V1200.79h-6.8zM626.33 1269.42h6.8V1264.35h-6.8zM634.7 1409.95h6.8V1405.87h-6.8zM643.08 1564.37h6.8V1563.22h-6.8zM659.82 1264.35h6.8V1263.21h-6.8zM676.56 1400.15h6.8V1398.84h-6.8zM684.94 1400.97h6.8V1399.82h-6.8zM693.31 1220.72h6.8V1219.09h-6.8zM710.05 1416h6.8V1412.73h-6.8zM718.42 1304.06h6.8V1302.1h-6.8zM726.8 1457.01h6.8V1455.38h-6.8zM751.91 1467.63h6.8V1343.6h-6.8zM760.28 1340.01h6.8V1339.19h-6.8zM777.03 1290.17h6.8V1288.54h-6.8zM785.4 1337.88h6.8V1335.59h-6.8zM810.52 1269.42h6.8V1268.11h-6.8zM827.26 1423.84h6.8V1422.21h-6.8zM885.86 1231.35h6.8V1230.04h-6.8zM919.35 1391.16h6.8V1375.64h-6.8zM927.72 1457.83h6.8V1407.83h-6.8zM936.1 1484.3h6.8V1481.03h-6.8zM1003.07 1563.55h6.8V1562.24h-6.8zM1044.93 1596.23h6.8V1595.09h-6.8zM1053.3 1394.43h6.8V1386.26h-6.8zM1061.68 1344.91h6.8V1343.27h-6.8zM1137.02 1505.05h6.8V1503.42h-6.8zM1153.77 1236.25h6.8V1234.94h-6.8zM1212.37 1518.29h6.8V1514.2h-6.8zM1254.23 1283.31h6.8V1282h-6.8zM1270.98 1334.29h6.8V1332.65h-6.8z"/>
<path fill="#a65628" d="M157.5 1264.84h6.8V1145.07h-6.8zM165.87 1155.36h6.8V1151.28h-6.8zM174.24 1288.54h6.8V1287.72h-6.8zM182.62 1205.2h6.8V1136.57h-6.8zM199.36 1121.05h6.8V1105.2h-6.8zM207.73 1151.28h6.8V1121.87h-6.8zM216.1 1353.4h6.8V1141.15h-6.8zM232.85 1368.61h6.8V1220.4h-6.8zM241.22 1210.92h6.8V1203.08h-6.8zM249.59 1341.31h6.8V1320.07h-6.8zM257.96 1143.11h6.8V1112.06h-6.8zM266.34 1347.36h6.8V1287.23h-6.8zM274.71 1185.27h6.8V1161.08h-6.8zM283.08 1369.92h6.8V1317.13h-6.8zM291.45 1232.16h6.8V1182.33h-6.8zM299.82 1202.1h6.8V1163.04h-6.8zM308.2 1244.91h6.8V1179.38h-6.8zM316.57 1279.87h6.8V1141.15h-6.8zM324.94 1128.73h6.8V1106.02h-6.8zM333.31 1231.35h6.8V1136.25h-6.8zM341.68 1123.83h6.8V1113.04h-6.8zM350.06 1163.86h6.8V1118.93h-6.8zM358.43 1324.97h6.8V1282.33h-6.8zM366.8 1107.16h6.8V1102.1h-6.8zM375.17 1372.37h6.8V1136.25h-6.8zM383.54 1364.03h6.8V1166.8h-6.8zM391.92 1466.33h6.8V1171.7h-6.8zM400.29 1293.44h6.8V1260.27h-6.8zM408.66 1539.04h6.8V1509.63h-6.8zM417.03 1398.19h6.8V1371.88h-6.8zM425.4 1397.21h6.8V1375.64h-6.8zM433.78 1465.18h6.8V1447.05h-6.8zM442.15 1287.72h6.8V1241.15h-6.8zM450.52 1131.67h6.8V1129.22h-6.8zM458.89 1431.2h6.8V1408.81h-6.8zM467.26 1378.58h6.8V1347.36h-6.8zM475.64 1455.71h6.8V1438.06h-6.8zM484.01 1321.21h6.8V1284.94h-6.8zM492.38 1557.5h6.8V1546.72h-6.8zM500.75 1328.89h6.8V1299.48h-6.8zM509.12 1585.94h6.8V1239.03h-6.8zM517.5 1387.41h6.8V1317.13h-6.8zM534.24 1293.93h6.8V1261.57h-6.8zM542.61 1434.95h6.8V1396.07h-6.8zM559.36 1369.92h6.8V1344.42h-6.8zM576.1 1467.47h6.8V1445.09h-6.8zM592.84 1498.52h6.8V1482.18h-6.8zM601.22 1304.38h6.8V1255.86h-6.8zM609.59 1468.45h6.8V1458.65h-6.8zM617.96 1200.79h6.8V1187.23h-6.8zM626.33 1264.35h6.8V1242.29h-6.8zM634.7 1405.87h6.8V1386.59h-6.8zM643.08 1563.22h6.8V1550.48h-6.8zM651.45 1232.16h6.8V1184.29h-6.8zM659.82 1263.21h6.8V1178.57h-6.8zM668.19 1174.65h6.8V1165.66h-6.8zM676.56 1398.84h6.8V1376.78h-6.8zM684.94 1399.82h6.8V1366.98h-6.8zM693.31 1219.09h6.8V1166.8h-6.8zM701.68 1249.65h6.8V1179.38h-6.8zM710.05 1412.73h6.8V1369.1h-6.8zM718.42 1302.1h6.8V1222.36h-6.8zM726.8 1455.38h6.8V1364.03h-6.8zM735.17 1361.25h6.8V1141.15h-6.8zM751.91 1343.6h6.8V1312.23h-6.8zM760.28 1339.19h6.8V1324.16h-6.8zM768.66 1526.29h6.8V1490.84h-6.8zM777.03 1288.54h6.8V1277.1h-6.8zM785.4 1335.59h6.8V1321.21h-6.8zM793.77 1283.14h6.8V1244.91h-6.8zM802.14 1251.28h6.8V1233.31h-6.8zM810.52 1268.11h6.8V1201.12h-6.8zM818.89 1451.13h6.8V1354.39h-6.8zM827.26 1422.21h6.8V1154.06h-6.8zM835.63 1388.39h6.8V1219.42h-6.8zM844 1289.84h6.8V1240.01h-6.8zM852.38 1338.37h6.8V1298.67h-6.8zM860.75 1231.35h6.8V1214.68h-6.8zM869.12 1465.51h6.8V1460.61h-6.8zM877.49 1237.06h6.8V1192.13h-6.8zM885.86 1230.04h6.8V1216.64h-6.8zM894.24 1246.38h6.8V1215.5h-6.8zM902.61 1553.75h6.8V1552.44h-6.8zM910.98 1547.21h6.8V1152.1h-6.8zM919.35 1375.64h6.8V1347.36h-6.8zM927.72 1407.83h6.8V1385.44h-6.8zM936.1 1481.03h6.8V1332.98h-6.8zM944.47 1606.03h6.8V1593.78h-6.8zM952.84 1322.85h6.8V1256.67h-6.8zM961.21 1629.4h6.8V1628.09h-6.8zM977.96 1522.37h6.8V1217.46h-6.8zM1003.07 1562.24h6.8V1544.76h-6.8zM1019.82 1398.19h6.8V1375.64h-6.8zM1028.19 1562.24h6.8V1542.8h-6.8zM1036.56 1584.79h6.8V1130.53h-6.8zM1044.93 1595.09h6.8V1382.5h-6.8zM1053.3 1386.26h6.8V1363.7h-6.8zM1061.68 1343.27h6.8V1304.55h-6.8zM1070.05 1334.78h6.8V1296.71h-6.8zM1078.42 1457.83h6.8V1414.86h-6.8zM1086.79 1488.06h6.8V1430.38h-6.8zM1095.16 1276.28h6.8V1241.15h-6.8zM1103.54 1265.66h6.8V1230.2h-6.8zM1111.91 1315.17h6.8V1277.1h-6.8zM1120.28 1324.16h6.8V1289.84h-6.8zM1128.65 1262.39h6.8V1234.12h-6.8zM1137.02 1503.42h6.8V1431.52h-6.8zM1145.4 1246.38h6.8V1212.55h-6.8zM1153.77 1234.94h6.8V1210.92h-6.8zM1162.14 1187.23h6.8V1139.35h-6.8zM1170.51 1452.93h6.8V1427.44h-6.8zM1178.88 1252.91h6.8V1169.74h-6.8zM1187.26 1352.26h6.8V1302.42h-6.8zM1195.63 1349.48h6.8V1128.73h-6.8zM1204 1414.86h6.8V1149.16h-6.8zM1212.37 1514.2h6.8V1461.92h-6.8zM1220.74 1266.15h6.8V1235.1h-6.8zM1229.12 1322.03h6.8V1283.96h-6.8zM1237.49 1417.63h6.8V1365.02h-6.8zM1245.86 1152.91h6.8V1132.49h-6.8zM1254.23 1282h6.8V1241.15h-6.8zM1262.6 1324.97h6.8V1206.84h-6.8zM1270.98 1332.65h6.8V1230.2h-6.8zM1279.35 1374.01h6.8V1296.71h-6.8zM1287.72 1334.61h6.8V1151.28h-6.8zM1296.09 1369.92h6.8V1237.06h-6.8z"/>
<path fill="#f781bf" d="M157.5 1145.07h6.8V1144.25h-6.8zM165.87 1151.28h6.8V1148.01h-6.8zM174.24 1287.72h6.8V1155.36h-6.8zM182.62 1136.57h6.8V1135.43h-6.8zM190.99 1338.37h6.8V1156.18h-6.8zM199.36 1105.2h6.8V1104.06h-6.8zM216.1 1141.15h6.8V1139.35h-6.8zM224.48 1143.93h6.8V1113.21h-6.8zM232.85 1220.4h6.8V1185.27h-6.8zM241.22 1203.08h6.8V1192.95h-6.8zM249.59 1320.07h6.8V1299.48h-6.8zM257.96 1112.06h6.8V1110.92h-6.8zM266.34 1287.23h6.8V1279.06h-6.8zM274.71 1161.08h6.8V1152.1h-6.8zM283.08 1317.13h6.8V1189.19h-6.8zM291.45 1182.33h6.8V1168.76h-6.8zM299.82 1163.04h6.8V1150.14h-6.8zM308.2 1179.38h6.8V1146.38h-6.8zM333.31 1136.25h6.8V1123.01h-6.8zM341.68 1113.04h6.8V1110.1h-6.8zM350.06 1118.93h6.8V1116.97h-6.8zM358.43 1282.33h6.8V1274.16h-6.8zM366.8 1102.1h6.8V1101.28h-6.8zM375.17 1136.25h6.8V1133.47h-6.8zM383.54 1166.8h6.8V1161.9h-6.8zM391.92 1171.7h6.8V1126.77h-6.8zM400.29 1260.27h6.8V1210.1h-6.8zM408.66 1509.63h6.8V1229.22h-6.8zM417.03 1371.88h6.8V1348.5h-6.8zM425.4 1375.64h6.8V1284.12h-6.8zM433.78 1447.05h6.8V1409.95h-6.8zM442.15 1241.15h6.8V1213.7h-6.8zM450.52 1129.22h6.8V1126.77h-6.8zM458.89 1408.81h6.8V1351.44h-6.8zM467.26 1347.36h6.8V1304.38h-6.8zM475.64 1438.06h6.8V1393.12h-6.8zM484.01 1284.94h6.8V1248.01h-6.8zM492.38 1546.72h6.8V1530.05h-6.8zM500.75 1299.48h6.8V1265.33h-6.8zM509.12 1239.03h6.8V1235.1h-6.8zM517.5 1317.13h6.8V1269.25h-6.8zM525.87 1619.92h6.8V1611.75h-6.8zM534.24 1261.57h6.8V1246.05h-6.8zM542.61 1396.07h6.8V1361.25h-6.8zM559.36 1344.42h6.8V1317.13h-6.8zM567.73 1629.4h6.8V1627.77h-6.8zM576.1 1445.09h6.8V1371.56h-6.8zM592.84 1482.18h6.8V1430.38h-6.8zM601.22 1255.86h6.8V1224.32h-6.8zM609.59 1458.65h6.8V1440.18h-6.8zM617.96 1187.23h6.8V1165.99h-6.8zM626.33 1242.29h6.8V1211.74h-6.8zM634.7 1386.59h6.8V1338.7h-6.8zM643.08 1550.48h6.8V1361.25h-6.8zM651.45 1184.29h6.8V1171.7h-6.8zM659.82 1178.57h6.8V1163.86h-6.8zM668.19 1165.66h6.8V1149.16h-6.8zM676.56 1376.78h6.8V1246.05h-6.8zM684.94 1366.98h6.8V1309.29h-6.8zM693.31 1166.8h6.8V1152.1h-6.8zM701.68 1179.38h6.8V1167.62h-6.8zM710.05 1369.1h6.8V1326.12h-6.8zM718.42 1222.36h6.8V1201.93h-6.8zM726.8 1364.03h6.8V1271.38h-6.8zM735.17 1141.15h6.8V1134.45h-6.8zM743.54 1619.92h6.8V1619.11h-6.8zM751.91 1312.23h6.8V1288.04h-6.8zM760.28 1324.16h6.8V1299.48h-6.8zM768.66 1490.84h6.8V1413.71h-6.8zM777.03 1277.1h6.8V1256.35h-6.8zM785.4 1321.21h6.8V1294.74h-6.8zM793.77 1244.91h6.8V1194.09h-6.8zM802.14 1233.31h6.8V1188.04h-6.8zM810.52 1201.12h6.8V1173.5h-6.8zM818.89 1354.39h6.8V1322.03h-6.8zM827.26 1154.06h6.8V1138.21h-6.8zM835.63 1219.42h6.8V1207.98h-6.8zM844 1240.01h6.8V1231.35h-6.8zM852.38 1298.67h6.8V1290.66h-6.8zM860.75 1214.68h6.8V1199.97h-6.8zM869.12 1460.61h6.8V1420.58h-6.8zM877.49 1192.13h6.8V1185.27h-6.8zM885.86 1216.64h6.8V1201.61h-6.8zM894.24 1215.5h6.8V1184.29h-6.8zM902.61 1552.44h6.8V1544.76h-6.8zM910.98 1152.1h6.8V1147.19h-6.8zM919.35 1347.36h6.8V1323.18h-6.8zM927.72 1385.44h6.8V1375.64h-6.8zM936.1 1332.98h6.8V1274.16h-6.8zM944.47 1593.78h6.8V1586.1h-6.8zM952.84 1256.67h6.8V1227.26h-6.8zM969.58 1627.77h6.8V1625.97h-6.8zM977.96 1217.46h6.8V1188.04h-6.8zM1003.07 1544.76h6.8V1429.24h-6.8zM1011.44 1626.95h6.8V1625.97h-6.8zM1019.82 1375.64h6.8V1348.18h-6.8zM1028.19 1542.8h6.8V1502.6h-6.8zM1036.56 1130.53h6.8V1128.4h-6.8zM1044.93 1382.5h6.8V1380.54h-6.8zM1053.3 1363.7h6.8V1350.63h-6.8zM1061.68 1304.55h6.8V1297.52h-6.8zM1070.05 1296.71h6.8V1286.08h-6.8zM1078.42 1414.86h6.8V1284.94h-6.8zM1086.79 1430.38h6.8V1357.98h-6.8zM1095.16 1241.15h6.8V1234.12h-6.8zM1103.54 1230.2h6.8V1216.64h-6.8zM1111.91 1277.1h6.8V1269.25h-6.8zM1120.28 1289.84h6.8V1282h-6.8zM1128.65 1234.12h6.8V1185.27h-6.8zM1137.02 1431.52h6.8V1259.61h-6.8zM1145.4 1212.55h6.8V1206.02h-6.8zM1153.77 1210.92h6.8V1201.93h-6.8zM1162.14 1139.35h6.8V1128.73h-6.8zM1170.51 1427.44h6.8V1413.71h-6.8zM1178.88 1169.74h6.8V1155.04h-6.8zM1187.26 1302.42h6.8V1296.71h-6.8zM1195.63 1128.73h6.8V1123.83h-6.8zM1204 1149.16h6.8V1145.23h-6.8zM1212.37 1461.92h6.8V1417.63h-6.8zM1220.74 1235.1h6.8V1199.97h-6.8zM1229.12 1283.96h6.8V1268.11h-6.8zM1237.49 1365.02h6.8V1353.08h-6.8zM1245.86 1132.49h6.8V1121.87h-6.8zM1254.23 1241.15h6.8V1225.3h-6.8zM1262.6 1206.84h6.8V1192.13h-6.8zM1270.98 1230.2h6.8V1182.33h-6.8zM1279.35 1296.71h6.8V1277.1h-6.8zM1287.72 1151.28h6.8V1129.55h-6.8zM1296.09 1237.06h6.8V1220.4h-6.8z"/>
<path fill="#999999" d="M157.5 1144.25h6.8V1132.49h-6.8zM182.62 1135.43h6.8V1124.65h-6.8zM199.36 1104.06h6.8V1102.1h-6.8zM207.73 1121.87h6.8V1116.15h-6.8zM216.1 1139.35h6.8V1126.28h-6.8zM232.85 1185.27h6.8V1178.24h-6.8zM241.22 1192.95h6.8V1190.17h-6.8zM257.96 1110.92h6.8V1106.02h-6.8zM266.34 1279.06h6.8V1182.33h-6.8zM274.71 1152.1h6.8V1135.43h-6.8zM283.08 1189.19h6.8V1130.36h-6.8zM291.45 1168.76h6.8V1143.44h-6.8zM299.82 1150.14h6.8V1137.39h-6.8zM308.2 1146.38h6.8V1129.55h-6.8zM316.57 1141.15h6.8V1121.38h-6.8zM324.94 1106.02h6.8V1102.1h-6.8zM333.31 1123.01h6.8V1122.03h-6.8zM350.06 1116.97h6.8V1111.25h-6.8zM375.17 1133.47h6.8V1114.02h-6.8zM383.54 1161.9h6.8V1115h-6.8zM391.92 1126.77h6.8V1118.93h-6.8zM400.29 1210.1h6.8V1206.02h-6.8zM408.66 1229.22h6.8V1227.26h-6.8zM417.03 1348.5h6.8V1345.72h-6.8zM425.4 1284.12h6.8V1278.24h-6.8zM433.78 1409.95h6.8V1405.05h-6.8zM442.15 1213.7h6.8V1210.1h-6.8zM450.52 1126.77h6.8V1124.32h-6.8zM458.89 1351.44h6.8V1341.64h-6.8zM467.26 1304.38h6.8V1300.79h-6.8zM484.01 1248.01h6.8V1242.29h-6.8zM500.75 1265.33h6.8V1260.76h-6.8zM509.12 1235.1h6.8V1229.22h-6.8zM517.5 1269.25h6.8V1265.33h-6.8zM534.24 1246.05h6.8V1240.33h-6.8zM542.61 1361.25h6.8V1356.35h-6.8zM559.36 1317.13h6.8V1313.37h-6.8zM576.1 1371.56h6.8V1369.92h-6.8zM601.22 1224.32h6.8V1218.6h-6.8zM609.59 1440.18h6.8V1436.1h-6.8zM617.96 1165.99h6.8V1156.18h-6.8zM626.33 1211.74h6.8V1194.25h-6.8zM634.7 1338.7h6.8V1334.78h-6.8zM643.08 1361.25h6.8V1357.16h-6.8zM651.45 1171.7h6.8V1155.04h-6.8zM659.82 1163.86h6.8V1143.93h-6.8zM668.19 1149.16h6.8V1138.37h-6.8zM676.56 1246.05h6.8V1239.19h-6.8zM684.94 1309.29h6.8V1304.55h-6.8zM693.31 1152.1h6.8V1142.62h-6.8zM701.68 1167.62h6.8V1142.29h-6.8zM710.05 1326.12h6.8V1312.23h-6.8zM718.42 1201.93h6.8V1192.95h-6.8zM726.8 1271.38h6.8V1267.62h-6.8zM735.17 1134.45h6.8V1128.4h-6.8zM751.91 1288.04h6.8V1282h-6.8zM768.66 1413.71h6.8V1412.41h-6.8zM777.03 1256.35h6.8V1252.91h-6.8zM785.4 1294.74h6.8V1282h-6.8zM802.14 1188.04h6.8V1182.33h-6.8zM810.52 1173.5h6.8V1143.11h-6.8zM818.89 1322.03h6.8V1307.33h-6.8zM827.26 1138.21h6.8V1123.83h-6.8zM835.63 1207.98h6.8V1189.19h-6.8zM844 1231.35h6.8V1168.93h-6.8zM852.38 1290.66h6.8V1172.52h-6.8zM860.75 1199.97h6.8V1163.86h-6.8zM869.12 1420.58h6.8V1264.35h-6.8zM877.49 1185.27h6.8V1177.91h-6.8zM894.24 1184.29h6.8V1181.51h-6.8zM910.98 1147.19h6.8V1144.74h-6.8zM919.35 1323.18h6.8V1319.09h-6.8zM927.72 1375.64h6.8V1374.01h-6.8zM936.1 1274.16h6.8V1267.29h-6.8zM944.47 1586.1h6.8V1584.79h-6.8zM952.84 1227.26h6.8V1219.42h-6.8zM977.96 1188.04h6.8V1182.33h-6.8zM1003.07 1429.24h6.8V1424.66h-6.8zM1019.82 1348.18h6.8V1346.54h-6.8zM1053.3 1350.63h6.8V1342.78h-6.8zM1061.68 1297.52h6.8V1283.31h-6.8zM1070.05 1286.08h6.8V1274.16h-6.8zM1078.42 1284.94h6.8V1218.76h-6.8zM1086.79 1357.98h6.8V1314.19h-6.8zM1095.16 1234.12h6.8V1219.91h-6.8zM1103.54 1216.64h6.8V1206.84h-6.8zM1111.91 1269.25h6.8V1261.57h-6.8zM1120.28 1282h6.8V1272.2h-6.8zM1128.65 1185.27h6.8V1161.08h-6.8zM1137.02 1259.61h6.8V1219.58h-6.8zM1145.4 1206.02h6.8V1187.23h-6.8zM1153.77 1201.93h6.8V1192.13h-6.8zM1162.14 1128.73h6.8V1119.91h-6.8zM1170.51 1413.71h6.8V1405.38h-6.8zM1178.88 1155.04h6.8V1144.25h-6.8zM1187.26 1296.71h6.8V1292.62h-6.8zM1195.63 1123.83h6.8V1117.78h-6.8zM1204 1145.23h6.8V1139.35h-6.8zM1212.37 1417.63h6.8V1403.09h-6.8zM1220.74 1199.97h6.8V1194.09h-6.8zM1237.49 1353.08h6.8V1340.82h-6.8zM1245.86 1121.87h6.8V1119.91h-6.8zM1254.23 1225.3h6.8V1192.13h-6.8zM1262.6 1192.13h6.8V1181.51h-6.8zM1270.98 1182.33h6.8V1172.85h-6.8zM1279.35 1277.1h6.8V1270.23h-6.8zM1287.72 1129.55h6.8V1121.05h-6.8zM1296.09 1220.4h6.8V1214.19h-6.8z"/>
<path fill="#66c2a5" d="M165.87 1148.01h6.8V1146.87h-6.8zM174.24 1155.36h6.8V1154.22h-6.8zM216.1 1126.28h6.8V1125.46h-6.8zM232.85 1178.24h6.8V1175.46h-6.8zM249.59 1299.48h6.8V1296.71h-6.8zM266.34 1182.33h6.8V1176.61h-6.8zM274.71 1135.43h6.8V1129.55h-6.8zM291.45 1143.44h6.8V1139.51h-6.8zM299.82 1137.39h6.8V1132.16h-6.8zM358.43 1274.16h6.8V1268.11h-6.8zM375.17 1114.02h6.8V1113.21h-6.8zM383.54 1115h6.8V1112.88h-6.8zM391.92 1118.93h6.8V1117.78h-6.8zM400.29 1206.02h6.8V1203.89h-6.8zM408.66 1227.26h6.8V1215.82h-6.8zM417.03 1345.72h6.8V1343.6h-6.8zM425.4 1278.24h6.8V1266.48h-6.8zM433.78 1405.05h6.8V1400.97h-6.8zM442.15 1210.1h6.8V1208.47h-6.8zM458.89 1341.64h6.8V1337.88h-6.8zM467.26 1300.79h6.8V1299.97h-6.8zM484.01 1242.29h6.8V1236.25h-6.8zM492.38 1530.05h6.8V1527.11h-6.8zM509.12 1229.22h6.8V1227.26h-6.8zM517.5 1265.33h6.8V1262.39h-6.8zM542.61 1356.35h6.8V1350.63h-6.8zM550.98 1626.46h6.8V1622.37h-6.8zM559.36 1313.37h6.8V1310.27h-6.8zM576.1 1369.92h6.8V1346.54h-6.8zM592.84 1430.38h6.8V1428.42h-6.8zM601.22 1218.6h6.8V1210.1h-6.8zM617.96 1156.18h6.8V1148.01h-6.8zM626.33 1194.25h6.8V1176.61h-6.8zM634.7 1334.78h6.8V1306.51h-6.8zM643.08 1357.16h6.8V1246.87h-6.8zM651.45 1155.04h6.8V1152.91h-6.8zM659.82 1143.93h6.8V1142.62h-6.8zM668.19 1138.37h6.8V1133.47h-6.8zM676.56 1239.19h6.8V1214.68h-6.8zM684.94 1304.55h6.8V1291.8h-6.8zM718.42 1192.95h6.8V1189.19h-6.8zM726.8 1267.62h6.8V1235.1h-6.8zM735.17 1128.4h6.8V1126.44h-6.8zM751.91 1282h6.8V1277.1h-6.8zM760.28 1299.48h6.8V1296.71h-6.8zM768.66 1412.41h6.8V1405.87h-6.8zM777.03 1252.91h6.8V1242.29h-6.8zM785.4 1282h6.8V1277.1h-6.8zM793.77 1194.09h6.8V1191.31h-6.8zM810.52 1143.11h6.8V1136.25h-6.8zM818.89 1307.33h6.8V1303.24h-6.8zM835.63 1189.19h6.8V1188.04h-6.8zM844 1168.93h6.8V1166.8h-6.8zM852.38 1172.52h6.8V1168.76h-6.8zM860.75 1163.86h6.8V1161.9h-6.8zM869.12 1264.35h6.8V1249.65h-6.8zM877.49 1177.91h6.8V1176.61h-6.8zM885.86 1201.61h6.8V1197.85h-6.8zM894.24 1181.51h6.8V1179.38h-6.8zM910.98 1144.74h6.8V1143.93h-6.8zM927.72 1374.01h6.8V1371.56h-6.8zM936.1 1267.29h6.8V1265.33h-6.8zM952.84 1219.42h6.8V1216.64h-6.8zM977.96 1182.33h6.8V1180.36h-6.8zM1003.07 1424.66h6.8V1383.48h-6.8zM1053.3 1342.78h6.8V1339.68h-6.8zM1061.68 1283.31h6.8V1282h-6.8zM1070.05 1274.16h6.8V1271.38h-6.8zM1078.42 1218.76h6.8V1201.93h-6.8zM1086.79 1314.19h6.8V1299.65h-6.8zM1095.16 1219.91h6.8V1219.09h-6.8zM1103.54 1206.84h6.8V1205.69h-6.8zM1128.65 1161.08h6.8V1158.96h-6.8zM1137.02 1219.58h6.8V1203.89h-6.8zM1145.4 1187.23h6.8V1186.08h-6.8zM1162.14 1119.91h6.8V1118.93h-6.8zM1170.51 1405.38h6.8V1404.56h-6.8zM1212.37 1403.09h6.8V1341.64h-6.8zM1220.74 1194.09h6.8V1192.13h-6.8zM1229.12 1268.11h6.8V1265.33h-6.8zM1254.23 1192.13h6.8V1190.17h-6.8zM1262.6 1181.51h6.8V1176.61h-6.8zM1270.98 1172.85h6.8V1158.96h-6.8zM1279.35 1270.23h6.8V1268.11h-6.8zM1287.72 1121.05h6.8V1117.78h-6.8zM1296.09 1214.19h6.8V1212.55h-6.8z"/>
<path fill="#fc8d62" d="M232.85 1175.46h6.8V1170.56h-6.8zM249.59 1296.71h6.8V1295.4h-6.8zM274.71 1129.55h6.8V1128.57h-6.8zM308.2 1129.55h6.8V1127.91h-6.8zM400.29 1203.89h6.8V1201.12h-6.8zM408.66 1215.82h6.8V1214.52h-6.8zM417.03 1343.6h6.8V1336.74h-6.8zM425.4 1266.48h6.8V1265.17h-6.8zM433.78 1400.97h6.8V1399.01h-6.8zM442.15 1208.47h6.8V1207.65h-6.8zM467.26 1299.97h6.8V1296.21h-6.8zM475.64 1393.12h6.8V1390.35h-6.8zM484.01 1236.25h6.8V1234.12h-6.8zM492.38 1527.11h6.8V1525.15h-6.8zM500.75 1260.76h6.8V1253.73h-6.8zM517.5 1262.39h6.8V1260.76h-6.8zM534.24 1240.33h6.8V1233.31h-6.8zM542.61 1350.63h6.8V1349.32h-6.8zM559.36 1310.27h6.8V1308.63h-6.8zM592.84 1428.42h6.8V1421.72h-6.8zM601.22 1210.1h6.8V1207.16h-6.8zM609.59 1436.1h6.8V1429.24h-6.8zM617.96 1148.01h6.8V1140.33h-6.8zM626.33 1176.61h6.8V1157h-6.8zM634.7 1306.51h6.8V1301.61h-6.8zM643.08 1246.87h6.8V1244.91h-6.8zM651.45 1152.91h6.8V1151.28h-6.8zM659.82 1142.62h6.8V1141.48h-6.8zM668.19 1133.47h6.8V1130.85h-6.8zM676.56 1214.68h6.8V1211.74h-6.8zM684.94 1291.8h6.8V1288.86h-6.8zM693.31 1142.62h6.8V1140.66h-6.8zM701.68 1142.29h6.8V1140.66h-6.8zM710.05 1312.23h6.8V1290.17h-6.8zM718.42 1189.19h6.8V1184.29h-6.8zM726.8 1235.1h6.8V1231.35h-6.8zM735.17 1126.44h6.8V1123.17h-6.8zM751.91 1277.1h6.8V1271.38h-6.8zM760.28 1296.71h6.8V1294.25h-6.8zM768.66 1405.87h6.8V1399.01h-6.8zM785.4 1277.1h6.8V1273.34h-6.8zM793.77 1191.31h6.8V1189.19h-6.8zM802.14 1182.33h6.8V1178.24h-6.8zM810.52 1136.25h6.8V1123.83h-6.8zM818.89 1303.24h6.8V1298.67h-6.8zM827.26 1123.83h6.8V1119.91h-6.8zM835.63 1188.04h6.8V1183.14h-6.8zM844 1166.8h6.8V1164.84h-6.8zM852.38 1168.76h6.8V1166.8h-6.8zM877.49 1176.61h6.8V1171.7h-6.8zM885.86 1197.85h6.8V1192.95h-6.8zM894.24 1179.38h6.8V1171.7h-6.8zM919.35 1319.09h6.8V1295.89h-6.8zM927.72 1371.56h6.8V1356.35h-6.8zM936.1 1265.33h6.8V1260.76h-6.8zM952.84 1216.64h6.8V1208.8h-6.8zM977.96 1180.36h6.8V1178.57h-6.8zM1019.82 1346.54h6.8V1333.96h-6.8zM1028.19 1502.6h6.8V1499.82h-6.8zM1053.3 1339.68h6.8V1328.08h-6.8zM1061.68 1282h6.8V1159.94h-6.8zM1070.05 1271.38h6.8V1187.23h-6.8zM1078.42 1201.93h6.8V1197.03h-6.8zM1086.79 1299.65h6.8V1297.52h-6.8zM1095.16 1219.09h6.8V1163.86h-6.8zM1103.54 1205.69h6.8V1188.37h-6.8zM1111.91 1261.57h6.8V1161.9h-6.8zM1120.28 1272.2h6.8V1148.34h-6.8zM1128.65 1158.96h6.8V1157h-6.8zM1137.02 1203.89h6.8V1201.93h-6.8zM1145.4 1186.08h6.8V1171.7h-6.8zM1153.77 1192.13h6.8V1176.28h-6.8zM1162.14 1118.93h6.8V1108.14h-6.8zM1170.51 1404.56h6.8V1161.9h-6.8zM1178.88 1144.25h6.8V1133.47h-6.8zM1187.26 1292.62h6.8V1248.99h-6.8zM1195.63 1117.78h6.8V1116.15h-6.8zM1204 1139.35h6.8V1135.43h-6.8zM1212.37 1341.64h6.8V1334.61h-6.8zM1220.74 1192.13h6.8V1183.14h-6.8zM1229.12 1265.33h6.8V1252.91h-6.8zM1237.49 1340.82h6.8V1339.19h-6.8zM1245.86 1119.91h6.8V1116.15h-6.8zM1254.23 1190.17h6.8V1187.23h-6.8zM1262.6 1176.61h6.8V1153.4h-6.8zM1270.98 1158.96h6.8V1148.34h-6.8zM1279.35 1268.11h6.8V1235.1h-6.8zM1287.72 1117.78h6.8V1116.15h-6.8zM1296.09 1212.55h6.8V1209.61h-6.8z"/>
<path fill="#8da0cb" d="M232.85 1170.56h6.8V1167.78h-6.8zM249.59 1295.4h6.8V1293.44h-6.8zM283.08 1130.36h6.8V1128.89h-6.8zM358.43 1268.11h6.8V1265.33h-6.8zM400.29 1201.12h6.8V1198.99h-6.8zM408.66 1214.52h6.8V1212.55h-6.8zM417.03 1336.74h6.8V1292.62h-6.8zM425.4 1265.17h6.8V1258.63h-6.8zM433.78 1399.01h6.8V1384.63h-6.8zM442.15 1207.65h6.8V1206.35h-6.8zM458.89 1337.88h6.8V1325.63h-6.8zM475.64 1390.35h6.8V1387.41h-6.8zM484.01 1234.12h6.8V1228.4h-6.8zM492.38 1525.15h6.8V1523.03h-6.8zM500.75 1253.73h6.8V1229.22h-6.8zM517.5 1260.76h6.8V1256.67h-6.8zM534.24 1233.31h6.8V1161.08h-6.8zM542.61 1349.32h6.8V1331.84h-6.8zM576.1 1346.54h6.8V1340.5h-6.8zM584.47 1629.4h6.8V1626.95h-6.8zM601.22 1207.16h6.8V1204.06h-6.8zM609.59 1429.24h6.8V1394.1h-6.8zM617.96 1140.33h6.8V1138.53h-6.8zM626.33 1157h6.8V1155.04h-6.8zM634.7 1301.61h6.8V1297.52h-6.8zM643.08 1244.91h6.8V1242.29h-6.8zM651.45 1151.28h6.8V1148.83h-6.8zM659.82 1141.48h6.8V1139.51h-6.8zM668.19 1130.85h6.8V1128.89h-6.8zM676.56 1211.74h6.8V1210.1h-6.8zM684.94 1288.86h6.8V1286.08h-6.8zM701.68 1140.66h6.8V1138.21h-6.8zM751.91 1271.38h6.8V1250.63h-6.8zM768.66 1399.01h6.8V1388.39h-6.8zM777.03 1242.29h6.8V1240.33h-6.8zM785.4 1273.34h6.8V1263.53h-6.8zM793.77 1189.19h6.8V1187.23h-6.8zM802.14 1178.24h6.8V1176.28h-6.8zM818.89 1298.67h6.8V1292.62h-6.8zM827.26 1119.91h6.8V1118.93h-6.8zM835.63 1183.14h6.8V1180.69h-6.8zM852.38 1166.8h6.8V1164.35h-6.8zM860.75 1161.9h6.8V1159.94h-6.8zM869.12 1249.65h6.8V1246.87h-6.8zM877.49 1171.7h6.8V1167.62h-6.8zM885.86 1192.95h6.8V1138.21h-6.8zM919.35 1295.89h6.8V1288.86h-6.8zM927.72 1356.35h6.8V1347.85h-6.8zM936.1 1260.76h6.8V1258.63h-6.8zM952.84 1208.8h6.8V1182.33h-6.8zM994.7 1626.46h6.8V1624.82h-6.8zM1003.07 1383.48h6.8V1376.46h-6.8zM1011.44 1625.97h6.8V1624.33h-6.8zM1028.19 1499.82h6.8V1495.25h-6.8zM1044.93 1380.54h6.8V1376.13h-6.8zM1053.3 1328.08h6.8V1312.23h-6.8zM1061.68 1159.94h6.8V1158.96h-6.8zM1070.05 1187.23h6.8V1184.78h-6.8zM1078.42 1197.03h6.8V1195.07h-6.8zM1086.79 1297.52h6.8V1294.74h-6.8zM1095.16 1163.86h6.8V1161.57h-6.8zM1103.54 1188.37h6.8V1186.41h-6.8zM1111.91 1161.9h6.8V1160.59h-6.8zM1120.28 1148.34h6.8V1146.38h-6.8zM1128.65 1157h6.8V1155.85h-6.8zM1137.02 1201.93h6.8V1199.16h-6.8zM1145.4 1171.7h6.8V1170.4h-6.8zM1153.77 1176.28h6.8V1174.65h-6.8zM1187.26 1248.99h6.8V1247.69h-6.8zM1195.63 1116.15h6.8V1115h-6.8zM1212.37 1334.61h6.8V1329.06h-6.8zM1229.12 1252.91h6.8V1246.87h-6.8zM1237.49 1339.19h6.8V1326.93h-6.8zM1245.86 1116.15h6.8V1115h-6.8zM1262.6 1153.4h6.8V1151.77h-6.8zM1270.98 1148.34h6.8V1147.19h-6.8zM1279.35 1235.1h6.8V1231.02h-6.8zM1287.72 1116.15h6.8V1115h-6.8zM1296.09 1209.61h6.8V1205.2h-6.8z"/>
<path fill="#e78ac3" d="M232.85 1167.78h6.8V1164.84h-6.8zM266.34 1176.61h6.8V1164.84h-6.8zM274.71 1128.57h6.8V1117.78h-6.8zM291.45 1139.51h6.8V1133.63h-6.8zM299.82 1132.16h6.8V1121.87h-6.8zM358.43 1265.33h6.8V1138.53h-6.8zM400.29 1198.99h6.8V1193.27h-6.8zM408.66 1212.55h6.8V1184.29h-6.8zM417.03 1292.62h6.8V1290.66h-6.8zM425.4 1258.63h6.8V1252.91h-6.8zM433.78 1384.63h6.8V1383.48h-6.8zM442.15 1206.35h6.8V1203.89h-6.8zM458.89 1325.63h6.8V1324.48h-6.8zM467.26 1296.21h6.8V1295.07h-6.8zM484.01 1228.4h6.8V1217.46h-6.8zM492.38 1523.03h6.8V1521.39h-6.8zM500.75 1229.22h6.8V1207.98h-6.8zM509.12 1227.26h6.8V1135.43h-6.8zM517.5 1256.67h6.8V1251.77h-6.8zM542.61 1331.84h6.8V1329.71h-6.8zM559.36 1308.63h6.8V1303.24h-6.8zM576.1 1340.5h6.8V1331.84h-6.8zM601.22 1204.06h6.8V1195.07h-6.8zM609.59 1394.1h6.8V1392.31h-6.8zM626.33 1155.04h6.8V1153.73h-6.8zM634.7 1297.52h6.8V1290.66h-6.8zM643.08 1242.29h6.8V1203.08h-6.8zM676.56 1210.1h6.8V1206.02h-6.8zM684.94 1286.08h6.8V1272.52h-6.8zM693.31 1140.66h6.8V1138.53h-6.8zM710.05 1290.17h6.8V1289.03h-6.8zM726.8 1231.35h6.8V1226.44h-6.8zM760.28 1294.25h6.8V1291.8h-6.8zM768.66 1388.39h6.8V1385.44h-6.8zM777.03 1240.33h6.8V1239.19h-6.8zM785.4 1263.53h6.8V1257.49h-6.8zM810.52 1123.83h6.8V1121.87h-6.8zM844 1164.84h6.8V1161.9h-6.8zM869.12 1246.87h6.8V1245.23h-6.8zM910.98 1143.93h6.8V1141.48h-6.8zM919.35 1288.86h6.8V1281.18h-6.8zM936.1 1258.63h6.8V1249.65h-6.8zM944.47 1584.79h6.8V1582.83h-6.8zM977.96 1178.57h6.8V1170.89h-6.8zM1003.07 1376.46h6.8V1369.1h-6.8zM1036.56 1128.4h6.8V1126.44h-6.8zM1053.3 1312.23h6.8V1306.51h-6.8zM1078.42 1195.07h6.8V1192.95h-6.8zM1103.54 1186.41h6.8V1182.65h-6.8zM1212.37 1329.06h6.8V1326.93h-6.8zM1229.12 1246.87h6.8V1246.05h-6.8zM1237.49 1326.93h6.8V1323.99h-6.8zM1254.23 1187.23h6.8V1186.08h-6.8zM1262.6 1151.77h6.8V1150.46h-6.8zM1270.98 1147.19h6.8V1145.23h-6.8zM1287.72 1115h6.8V1114.02h-6.8z"/>
<path fill="#a6d854" d="M157.5 1132.49h6.8V1131.83h-6.8zM266.34 1164.84h6.8V1163.53h-6.8zM274.71 1117.78h6.8V1116.64h-6.8zM283.08 1128.89h6.8V1126.77h-6.8zM291.45 1133.63h6.8V1132.49h-6.8zM308.2 1127.91h6.8V1126.77h-6.8zM316.57 1121.38h6.8V1119.91h-6.8zM324.94 1102.1h6.8V1101.28h-6.8zM341.68 1110.1h6.8V1105.2h-6.8zM350.06 1111.25h6.8V1109.12h-6.8zM358.43 1138.53h6.8V1128.73h-6.8zM408.66 1184.29h6.8V1183.14h-6.8zM417.03 1290.66h6.8V1286.08h-6.8zM425.4 1252.91h6.8V1250.63h-6.8zM433.78 1383.48h6.8V1376.46h-6.8zM442.15 1203.89h6.8V1202.75h-6.8zM458.89 1324.48h6.8V1322.03h-6.8zM467.26 1295.07h6.8V1290.66h-6.8zM475.64 1387.41h6.8V1377.6h-6.8zM484.01 1217.46h6.8V1215.5h-6.8zM492.38 1521.39h6.8V1515.35h-6.8zM500.75 1207.98h6.8V1203.08h-6.8zM509.12 1135.43h6.8V1134.12h-6.8zM517.5 1251.77h6.8V1250.63h-6.8zM525.87 1611.75h6.8V1593.45h-6.8zM534.24 1161.08h6.8V1159.94h-6.8zM542.61 1329.71h6.8V1324.97h-6.8zM550.98 1622.37h6.8V1610.12h-6.8zM559.36 1303.24h6.8V1302.1h-6.8zM567.73 1627.77h6.8V1612.08h-6.8zM576.1 1331.84h6.8V1328.08h-6.8zM584.47 1626.95h6.8V1614.2h-6.8zM592.84 1421.72h6.8V1410.77h-6.8zM601.22 1195.07h6.8V1194.09h-6.8zM609.59 1392.31h6.8V1381.36h-6.8zM626.33 1153.73h6.8V1152.1h-6.8zM634.7 1290.66h6.8V1248.01h-6.8zM643.08 1203.08h6.8V1199.97h-6.8zM659.82 1139.51h6.8V1138.53h-6.8zM676.56 1206.02h6.8V1201.12h-6.8zM684.94 1272.52h6.8V1255.53h-6.8zM710.05 1289.03h6.8V1284.12h-6.8zM726.8 1226.44h6.8V1225.3h-6.8zM735.17 1123.17h6.8V1121.87h-6.8zM743.54 1619.11h6.8V1601.46h-6.8zM751.91 1250.63h6.8V1221.54h-6.8zM760.28 1291.8h6.8V1214.52h-6.8zM768.66 1385.44h6.8V1365.02h-6.8zM785.4 1257.49h6.8V1248.01h-6.8zM793.77 1187.23h6.8V1184.29h-6.8zM802.14 1176.28h6.8V1174.65h-6.8zM810.52 1121.87h6.8V1120.72h-6.8zM818.89 1292.62h6.8V1284.94h-6.8zM835.63 1180.69h6.8V1178.57h-6.8zM869.12 1245.23h6.8V1243.11h-6.8zM877.49 1167.62h6.8V1166.48h-6.8zM885.86 1138.21h6.8V1137.39h-6.8zM894.24 1171.7h6.8V1163.04h-6.8zM902.61 1544.76h6.8V1534.14h-6.8zM919.35 1281.18h6.8V1277.1h-6.8zM927.72 1347.85h6.8V1344.42h-6.8zM936.1 1249.65h6.8V1248.01h-6.8zM944.47 1582.83h6.8V1570.09h-6.8zM952.84 1182.33h6.8V1180.36h-6.8zM961.21 1628.09h6.8V1617.96h-6.8zM969.58 1625.97h6.8V1610.12h-6.8zM977.96 1170.89h6.8V1168.11h-6.8zM986.33 1628.09h6.8V1619.11h-6.8zM994.7 1624.82h6.8V1612.24h-6.8zM1003.07 1369.1h6.8V1362.06h-6.8zM1011.44 1624.33h6.8V1613.06h-6.8zM1019.82 1333.96h6.8V1326.93h-6.8zM1028.19 1495.25h6.8V1475.31h-6.8zM1036.56 1126.44h6.8V1124.81h-6.8zM1044.93 1376.13h6.8V1371.56h-6.8zM1053.3 1306.51h6.8V1295.89h-6.8zM1070.05 1184.78h6.8V1180.36h-6.8zM1078.42 1192.95h6.8V1191.31h-6.8zM1086.79 1294.74h6.8V1286.08h-6.8zM1111.91 1160.59h6.8V1159.94h-6.8zM1137.02 1199.16h6.8V1197.03h-6.8zM1170.51 1161.9h6.8V1160.76h-6.8zM1204 1135.43h6.8V1134.12h-6.8zM1212.37 1326.93h6.8V1283.96h-6.8zM1220.74 1183.14h6.8V1173.5h-6.8zM1229.12 1246.05h6.8V1230.2h-6.8zM1237.49 1323.99h6.8V1192.13h-6.8zM1254.23 1186.08h6.8V1179.38h-6.8zM1270.98 1145.23h6.8V1144.25h-6.8zM1279.35 1231.02h6.8V1226.44h-6.8zM1296.09 1205.2h6.8V1196.21h-6.8z"/>
<path fill="#ffd92f" d="M165.87 1146.87h6.8V1110.1h-6.8zM174.24 1154.22h6.8V1116.97h-6.8zM190.99 1156.18h6.8V1122.68h-6.8zM207.73 1116.15h6.8V1115h-6.8zM216.1 1125.46h6.8V1119.74h-6.8zM224.48 1113.21h6.8V1104.22h-6.8zM232.85 1164.84h6.8V1120.72h-6.8zM241.22 1190.17h6.8V1112.06h-6.8zM249.59 1293.44h6.8V1110.92h-6.8zM257.96 1106.02h6.8V1105.2h-6.8zM266.34 1163.53h6.8V1161.57h-6.8zM274.71 1116.64h6.8V1110.1h-6.8zM283.08 1126.77h6.8V1122.85h-6.8zM299.82 1121.87h6.8V1120.72h-6.8zM308.2 1126.77h6.8V1125.46h-6.8zM341.68 1105.2h6.8V1103.08h-6.8zM350.06 1109.12h6.8V1107.98h-6.8zM358.43 1128.73h6.8V1121.87h-6.8zM366.8 1101.28h6.8V1098.5h-6.8zM383.54 1112.88h6.8V1112.06h-6.8zM400.29 1193.27h6.8V1159.94h-6.8zM408.66 1183.14h6.8V1170.56h-6.8zM417.03 1286.08h6.8V1118.11h-6.8zM425.4 1250.63h6.8V1225.3h-6.8zM433.78 1376.46h6.8V1261.57h-6.8zM442.15 1202.75h6.8V1147.19h-6.8zM450.52 1124.32h6.8V1121.87h-6.8zM458.89 1322.03h6.8V1271.05h-6.8zM467.26 1290.66h6.8V1150.14h-6.8zM475.64 1377.6h6.8V1116.15h-6.8zM484.01 1215.5h6.8V1185.27h-6.8zM492.38 1515.35h6.8V1134.45h-6.8zM500.75 1203.08h6.8V1171.7h-6.8zM509.12 1134.12h6.8V1113.21h-6.8zM517.5 1250.63h6.8V1146.38h-6.8zM525.87 1593.45h6.8V1098.5h-6.8zM534.24 1159.94h6.8V1123.83h-6.8zM542.61 1324.97h6.8V1192.13h-6.8zM550.98 1610.12h6.8V1105.2h-6.8zM559.36 1302.1h6.8V1165.99h-6.8zM567.73 1612.08h6.8V1098.5h-6.8zM576.1 1328.08h6.8V1187.23h-6.8zM584.47 1614.2h6.8V1098.5h-6.8zM592.84 1410.77h6.8V1118.11h-6.8zM601.22 1194.09h6.8V1178.57h-6.8zM609.59 1381.36h6.8V1171.7h-6.8zM617.96 1138.53h6.8V1118.11h-6.8zM626.33 1152.1h6.8V1121.87h-6.8zM634.7 1248.01h6.8V1196.21h-6.8zM643.08 1199.97h6.8V1184.29h-6.8zM651.45 1148.83h6.8V1135.43h-6.8zM659.82 1138.53h6.8V1130.53h-6.8zM668.19 1128.89h6.8V1125.63h-6.8zM676.56 1201.12h6.8V1172.85h-6.8zM684.94 1255.53h6.8V1213.86h-6.8zM693.31 1138.53h6.8V1132.49h-6.8zM701.68 1138.21h6.8V1130.53h-6.8zM710.05 1284.12h6.8V1107.16h-6.8zM718.42 1184.29h6.8V1121.87h-6.8zM726.8 1225.3h6.8V1144.25h-6.8zM735.17 1121.87h6.8V1114.02h-6.8zM743.54 1601.46h6.8V1098.5h-6.8zM751.91 1221.54h6.8V1182.33h-6.8zM760.28 1214.52h6.8V1126.77h-6.8zM768.66 1365.02h6.8V1116.15h-6.8zM777.03 1239.19h6.8V1232.16h-6.8zM785.4 1248.01h6.8V1188.37h-6.8zM793.77 1184.29h6.8V1116.97h-6.8zM802.14 1174.65h6.8V1113.21h-6.8zM810.52 1120.72h6.8V1110.1h-6.8zM818.89 1284.94h6.8V1126.77h-6.8zM827.26 1118.93h6.8V1113.21h-6.8zM835.63 1178.57h6.8V1110.1h-6.8zM844 1161.9h6.8V1139.51h-6.8zM852.38 1164.35h6.8V1150.14h-6.8zM860.75 1159.94h6.8V1151.28h-6.8zM869.12 1243.11h6.8V1185.27h-6.8zM877.49 1166.48h6.8V1130.53h-6.8zM885.86 1137.39h6.8V1102.1h-6.8zM894.24 1163.04h6.8V1118.93h-6.8zM902.61 1534.14h6.8V1102.1h-6.8zM910.98 1141.48h6.8V1139.51h-6.8zM919.35 1277.1h6.8V1246.87h-6.8zM927.72 1344.42h6.8V1293.93h-6.8zM936.1 1248.01h6.8V1131.67h-6.8zM944.47 1570.09h6.8V1104.22h-6.8zM952.84 1180.36h6.8V1128.73h-6.8zM961.21 1617.96h6.8V1098.5h-6.8zM969.58 1610.12h6.8V1098.5h-6.8zM977.96 1168.11h6.8V1120.72h-6.8zM986.33 1619.11h6.8V1099.48h-6.8zM994.7 1612.24h6.8V1099.48h-6.8zM1003.07 1362.06h6.8V1166.8h-6.8zM1011.44 1613.06h6.8V1102.1h-6.8zM1019.82 1326.93h6.8V1152.1h-6.8zM1028.19 1475.31h6.8V1114.02h-6.8zM1036.56 1124.81h6.8V1123.01h-6.8zM1044.93 1371.56h6.8V1110.92h-6.8zM1053.3 1295.89h6.8V1254.71h-6.8zM1061.68 1158.96h6.8V1143.11h-6.8zM1070.05 1180.36h6.8V1121.87h-6.8zM1078.42 1191.31h6.8V1165.99h-6.8zM1086.79 1286.08h6.8V1173.5h-6.8zM1095.16 1161.57h6.8V1130.53h-6.8zM1103.54 1182.65h6.8V1135.43h-6.8zM1111.91 1159.94h6.8V1150.14h-6.8zM1120.28 1146.38h6.8V1130.53h-6.8zM1128.65 1155.85h6.8V1138.21h-6.8zM1137.02 1197.03h6.8V1180.36h-6.8zM1145.4 1170.4h6.8V1152.1h-6.8zM1153.77 1174.65h6.8V1140.33h-6.8zM1162.14 1108.14h6.8V1105.2h-6.8zM1170.51 1160.76h6.8V1113.21h-6.8zM1178.88 1133.47h6.8V1121.87h-6.8zM1187.26 1247.69h6.8V1185.27h-6.8zM1195.63 1115h6.8V1113.21h-6.8zM1204 1134.12h6.8V1107.16h-6.8zM1212.37 1283.96h6.8V1216.64h-6.8zM1220.74 1173.5h6.8V1132.49h-6.8zM1229.12 1230.2h6.8V1110.1h-6.8zM1237.49 1192.13h6.8V1108.14h-6.8zM1245.86 1115h6.8V1102.1h-6.8zM1254.23 1179.38h6.8V1150.14h-6.8zM1262.6 1150.46h6.8V1125.63h-6.8zM1270.98 1144.25h6.8V1119.91h-6.8zM1279.35 1226.44h6.8V1109.12h-6.8zM1287.72 1114.02h6.8V1109.12h-6.8zM1296.09 1196.21h6.8V1123.01h-6.8z"/>
</g>
<path fill="#8dd3c7" d="M157.5 1653h6.6v5.8h-6.6zM182.62 1653h6.6v5.8h-6.6zM216.1 1653h6.6v5.8h-6.6zM232.85 1653h6.6v5.8h-6.6zM400.29 1653h6.6v5.8h-6.6zM408.66 1653h6.6v5.8h-6.6zM442.15 1653h6.6v5.8h-6.6zM517.5 1653h6.6v5.8h-6.6zM525.87 1653h6.6v5.8h-6.6zM559.36 1653h6.6v5.8h-6.6zM567.73 1653h6.6v5.8h-6.6zM844 1653h6.6v5.8h-6.6zM852.38 1653h6.6v5.8h-6.6zM936.1 1653h6.6v5.8h-6.6zM944.47 1653h6.6v5.8h-6.6zM977.96 1653h6.6v5.8h-6.6zM986.33 1653h6.6v5.8h-6.6z"/>
<path fill="#ffffb3" d="M165.87 1653h6.6v5.8h-6.6zM241.22 1653h6.6v5.8h-6.6zM417.03 1653h6.6v5.8h-6.6zM450.52 1653h6.6v5.8h-6.6zM534.24 1653h6.6v5.8h-6.6zM877.49 1653h6.6v5.8h-6.6zM885.86 1653h6.6v5.8h-6.6zM952.84 1653h6.6v5.8h-6.6zM961.21 1653h6.6v5.8h-6.6zM994.7 1653h6.6v5.8h-6.6z"/>
<path fill="#bebada" d="M174.24 1653h6.6v5.8h-6.6zM190.99 1653h6.6v5.8h-6.6zM224.48 1653h6.6v5.8h-6.6zM249.59 1653h6.6v5.8h-6.6zM425.4 1653h6.6v5.8h-6.6zM433.78 1653h6.6v5.8h-6.6zM458.89 1653h6.6v5.8h-6.6zM542.61 1653h6.6v5.8h-6.6zM550.98 1653h6.6v5.8h-6.6zM576.1 1653h6.6v5.8h-6.6zM584.47 1653h6.6v5.8h-6.6zM860.75 1653h6.6v5.8h-6.6zM869.12 1653h6.6v5.8h-6.6zM969.58 1653h6.6v5.8h-6.6zM1003.07 1653h6.6v5.8h-6.6zM1011.44 1653h6.6v5.8h-6.6z"/>
<path fill="#80b1d3" d="M199.36 1653h6.6v5.8h-6.6zM257.96 1653h6.6v5.8h-6.6zM350.06 1653h6.6v5.8h-6.6zM467.26 1653h6.6v5.8h-6.6zM475.64 1653h6.6v5.8h-6.6zM592.84 1653h6.6v5.8h-6.6zM760.28 1653h6.6v5.8h-6.6zM768.66 1653h6.6v5.8h-6.6zM793.77 1653h6.6v5.8h-6.6zM802.14 1653h6.6v5.8h-6.6zM894.24 1653h6.6v5.8h-6.6zM902.61 1653h6.6v5.8h-6.6zM1019.82 1653h6.6v5.8h-6.6zM1028.19 1653h6.6v5.8h-6.6zM1220.74 1653h6.6v5.8h-6.6zM1229.12 1653h6.6v5.8h-6.6zM1245.86 1653h6.6v5.8h-6.6z"/>
<path fill="#fb8072" d="M207.73 1653h6.6v5.8h-6.6zM341.68 1653h6.6v5.8h-6.6zM366.8 1653h6.6v5.8h-6.6zM500.75 1653h6.6v5.8h-6.6zM509.12 1653h6.6v5.8h-6.6zM609.59 1653h6.6v5.8h-6.6zM751.91 1653h6.6v5.8h-6.6zM919.35 1653h6.6v5.8h-6.6zM927.72 1653h6.6v5.8h-6.6zM1053.3 1653h6.6v5.8h-6.6zM1212.37 1653h6.6v5.8h-6.6zM1254.23 1653h6.6v5.8h-6.6z"/>
<path fill="#b3de69" d="M266.34 1653h6.6v5.8h-6.6zM291.45 1653h6.6v5.8h-6.6zM316.57 1653h6.6v5.8h-6.6zM375.17 1653h6.6v5.8h-6.6zM617.96 1653h6.6v5.8h-6.6zM626.33 1653h6.6v5.8h-6.6zM668.19 1653h6.6v5.8h-6.6zM710.05 1653h6.6v5.8h-6.6zM810.52 1653h6.6v5.8h-6.6zM1061.68 1653h6.6v5.8h-6.6zM1070.05 1653h6.6v5.8h-6.6zM1111.91 1653h6.6v5.8h-6.6zM1120.28 1653h6.6v5.8h-6.6zM1162.14 1653h6.6v5.8h-6.6zM1170.51 1653h6.6v5.8h-6.6zM1262.6 1653h6.6v5.8h-6.6z"/>
<path fill="#fccde5" d="M274.71 1653h6.6v5.8h-6.6zM299.82 1653h6.6v5.8h-6.6zM324.94 1653h6.6v5.8h-6.6zM383.54 1653h6.6v5.8h-6.6zM634.7 1653h6.6v5.8h-6.6zM643.08 1653h6.6v5.8h-6.6zM676.56 1653h6.6v5.8h-6.6zM684.94 1653h6.6v5.8h-6.6zM718.42 1653h6.6v5.8h-6.6zM726.8 1653h6.6v5.8h-6.6zM818.89 1653h6.6v5.8h-6.6zM1078.42 1653h6.6v5.8h-6.6zM1086.79 1653h6.6v5.8h-6.6zM1128.65 1653h6.6v5.8h-6.6zM1137.02 1653h6.6v5.8h-6.6zM1178.88 1653h6.6v5.8h-6.6zM1187.26 1653h6.6v5.8h-6.6zM1270.98 1653h6.6v5.8h-6.6zM1279.35 1653h6.6v5.8h-6.6z"/>
<path fill="#d9d9d9" d="M283.08 1653h6.6v5.8h-6.6zM308.2 1653h6.6v5.8h-6.6zM333.31 1653h6.6v5.8h-6.6zM391.92 1653h6.6v5.8h-6.6zM651.45 1653h6.6v5.8h-6.6zM659.82 1653h6.6v5.8h-6.6zM693.31 1653h6.6v5.8h-6.6zM701.68 1653h6.6v5.8h-6.6zM735.17 1653h6.6v5.8h-6.6zM743.54 1653h6.6v5.8h-6.6zM827.26 1653h6.6v5.8h-6.6zM835.63 1653h6.6v5.8h-6.6zM1095.16 1653h6.6v5.8h-6.6zM1103.54 1653h6.6v5.8h-6.6zM1145.4 1653h6.6v5.8h-6.6zM1153.77 1653h6.6v5.8h-6.6zM1195.63 1653h6.6v5.8h-6.6zM1204 1653h6.6v5.8h-6.6zM1287.72 1653h6.6v5.8h-6.6zM1296.09 1653h6.6v5.8h-6.6z"/>
<path fill="#fdb462" d="M358.43 1653h6.6v5.8h-6.6zM484.01 1653h6.6v5.8h-6.6zM492.38 1653h6.6v5.8h-6.6zM601.22 1653h6.6v5.8h-6.6zM777.03 1653h6.6v5.8h-6.6zM785.4 1653h6.6v5.8h-6.6zM910.98 1653h6.6v5.8h-6.6zM1036.56 1653h6.6v5.8h-6.6zM1044.93 1653h6.6v5.8h-6.6zM1237.49 1653h6.6v5.8h-6.6z"/>
<line x1="105.7" y1="1097.6" x2="105.7" y2="1629.4" stroke="#555" stroke-width="1"/>
<line x1="96.7" y1="1629.4" x2="105.7" y2="1629.4" stroke="#555" stroke-width="1"/>
<text x="84" y="1629.4" font-size="14.5" text-anchor="middle" transform="rotate(-90 84 1629.4)">0.0</text>
<line x1="96.7" y1="1523.04" x2="105.7" y2="1523.04" stroke="#555" stroke-width="1"/>
<text x="84" y="1523.04" font-size="14.5" text-anchor="middle" transform="rotate(-90 84 1523.04)">0.2</text>
<line x1="96.7" y1="1416.68" x2="105.7" y2="1416.68" stroke="#555" stroke-width="1"/>
<text x="84" y="1416.68" font-size="14.5" text-anchor="middle" transform="rotate(-90 84 1416.68)">0.4</text>
<line x1="96.7" y1="1310.32" x2="105.7" y2="1310.32" stroke="#555" stroke-width="1"/>
<text x="84" y="1310.32" font-size="14.5" text-anchor="middle" transform="rotate(-90 84 1310.32)">0.6</text>
<line x1="96.7" y1="1203.96" x2="105.7" y2="1203.96" stroke="#555" stroke-width="1"/>
<text x="84" y="1203.96" font-size="14.5" text-anchor="middle" transform="rotate(-90 84 1203.96)">0.8</text>
<line x1="96.7" y1="1097.6" x2="105.7" y2="1097.6" stroke="#555" stroke-width="1"/>
<text x="84" y="1097.6" font-size="14.5" text-anchor="middle" transform="rotate(-90 84 1097.6)">1.0</text>
<text x="49" y="1323" font-size="14.5" text-anchor="middle" transform="rotate(-90 49 1323)">Relative abundance</text>
<text x="784" y="1709" font-size="14.5" text-anchor="middle">Subject</text>
<text x="784" y="935.5" font-size="17.5" text-anchor="middle" font-weight="bold">Order</text>
<line x1="160.95" y1="1018.1" x2="395.37" y2="1018.1" stroke="#808080" stroke-width="1.4"/>
<line x1="395.37" y1="1007.6" x2="839.08" y2="1007.6" stroke="#808080" stroke-width="1.4"/>
<line x1="839.08" y1="1018.1" x2="1299.54" y2="1018.1" stroke="#808080" stroke-width="1.4"/>
<text x="274.7" y="996" font-size="14.5" text-anchor="middle">nares</text>
<text x="612.5" y="985.8" font-size="14.5" text-anchor="middle">forearm</text>
<text x="1064.3" y="997.4" font-size="14.5" text-anchor="middle">flexure</text>
<line x1="160.95" y1="1087" x2="177.69" y2="1087" stroke="#808080" stroke-width="1.5"/>
<text x="169.02" y="1075.9" font-size="12" text-anchor="middle">1</text>
<line x1="177.69" y1="1055.6" x2="194.44" y2="1055.6" stroke="#808080" stroke-width="1.5"/>
<text x="185.77" y="1043.9" font-size="12" text-anchor="middle">2</text>
<line x1="194.44" y1="1087" x2="211.18" y2="1087" stroke="#808080" stroke-width="1.5"/>
<text x="202.51" y="1075.9" font-size="12" text-anchor="middle">3</text>
<line x1="211.18" y1="1055.6" x2="227.93" y2="1055.6" stroke="#808080" stroke-width="1.5"/>
<text x="219.25" y="1043.9" font-size="12" text-anchor="middle">4</text>
<line x1="227.93" y1="1087" x2="253.04" y2="1087" stroke="#808080" stroke-width="1.5"/>
<text x="236" y="1075.9" font-size="12" text-anchor="middle">5</text>
<line x1="253.04" y1="1055.6" x2="261.41" y2="1055.6" stroke="#808080" stroke-width="1.5"/>
<text x="252.74" y="1043.9" font-size="12" text-anchor="middle">6</text>
<line x1="261.41" y1="1087" x2="286.53" y2="1087" stroke="#808080" stroke-width="1.5"/>
<text x="269.49" y="1075.9" font-size="12" text-anchor="middle">7</text>
<line x1="286.53" y1="1055.6" x2="311.65" y2="1055.6" stroke="#808080" stroke-width="1.5"/>
<text x="294.6" y="1043.9" font-size="12" text-anchor="middle">8</text>
<line x1="311.65" y1="1087" x2="336.76" y2="1087" stroke="#808080" stroke-width="1.5"/>
<text x="319.72" y="1075.9" font-size="12" text-anchor="middle">9</text>
<line x1="336.76" y1="1055.6" x2="361.88" y2="1055.6" stroke="#808080" stroke-width="1.5"/>
<text x="344.83" y="1043.9" font-size="12" text-anchor="middle">10</text>
<line x1="361.88" y1="1087" x2="370.25" y2="1087" stroke="#808080" stroke-width="1.5"/>
<text x="361.58" y="1075.9" font-size="12" text-anchor="middle">11</text>
<line x1="370.25" y1="1055.6" x2="395.37" y2="1055.6" stroke="#808080" stroke-width="1.5"/>
<text x="378.32" y="1043.9" font-size="12" text-anchor="middle">12</text>
<line x1="395.37" y1="1087" x2="437.23" y2="1087" stroke="#808080" stroke-width="1.5"/>
<text x="411.81" y="1075.9" font-size="12" text-anchor="middle">1</text>
<line x1="437.23" y1="1055.6" x2="462.34" y2="1055.6" stroke="#808080" stroke-width="1.5"/>
<text x="445.3" y="1043.9" font-size="12" text-anchor="middle">2</text>
<line x1="462.34" y1="1087" x2="512.57" y2="1087" stroke="#808080" stroke-width="1.5"/>
<text x="487.16" y="1075.9" font-size="12" text-anchor="middle">3</text>
<line x1="512.57" y1="1055.6" x2="554.43" y2="1055.6" stroke="#808080" stroke-width="1.5"/>
<text x="529.02" y="1043.9" font-size="12" text-anchor="middle">4</text>
<line x1="554.43" y1="1087" x2="587.92" y2="1087" stroke="#808080" stroke-width="1.5"/>
<text x="570.88" y="1075.9" font-size="12" text-anchor="middle">5</text>
<line x1="587.92" y1="1055.6" x2="613.04" y2="1055.6" stroke="#808080" stroke-width="1.5"/>
<text x="595.99" y="1043.9" font-size="12" text-anchor="middle">6</text>
<line x1="613.04" y1="1087" x2="663.27" y2="1087" stroke="#808080" stroke-width="1.5"/>
<text x="637.85" y="1075.9" font-size="12" text-anchor="middle">7</text>
<line x1="663.27" y1="1055.6" x2="705.13" y2="1055.6" stroke="#808080" stroke-width="1.5"/>
<text x="679.71" y="1043.9" font-size="12" text-anchor="middle">8</text>
<line x1="705.13" y1="1087" x2="746.99" y2="1087" stroke="#808080" stroke-width="1.5"/>
<text x="721.57" y="1075.9" font-size="12" text-anchor="middle">9</text>
<line x1="746.99" y1="1055.6" x2="788.85" y2="1055.6" stroke="#808080" stroke-width="1.5"/>
<text x="763.43" y="1043.9" font-size="12" text-anchor="middle">10</text>
<line x1="788.85" y1="1087" x2="805.59" y2="1087" stroke="#808080" stroke-width="1.5"/>
<text x="796.92" y="1075.9" font-size="12" text-anchor="middle">11</text>
<line x1="805.59" y1="1055.6" x2="839.08" y2="1055.6" stroke="#808080" stroke-width="1.5"/>
<text x="822.04" y="1043.9" font-size="12" text-anchor="middle">12</text>
<line x1="839.08" y1="1087" x2="872.57" y2="1087" stroke="#808080" stroke-width="1.5"/>
<text x="855.53" y="1075.9" font-size="12" text-anchor="middle">1</text>
<line x1="872.57" y1="1055.6" x2="889.31" y2="1055.6" stroke="#808080" stroke-width="1.5"/>
<text x="880.64" y="1043.9" font-size="12" text-anchor="middle">2</text>
<line x1="889.31" y1="1087" x2="931.17" y2="1087" stroke="#808080" stroke-width="1.5"/>
<text x="905.76" y="1075.9" font-size="12" text-anchor="middle">3</text>
<line x1="931.17" y1="1055.6" x2="973.03" y2="1055.6" stroke="#808080" stroke-width="1.5"/>
<text x="947.62" y="1043.9" font-size="12" text-anchor="middle">4</text>
<line x1="973.03" y1="1087" x2="1014.89" y2="1087" stroke="#808080" stroke-width="1.5"/>
<text x="989.48" y="1075.9" font-size="12" text-anchor="middle">5</text>
<line x1="1014.89" y1="1055.6" x2="1056.75" y2="1055.6" stroke="#808080" stroke-width="1.5"/>
<text x="1031.34" y="1043.9" font-size="12" text-anchor="middle">6</text>
<line x1="1056.75" y1="1087" x2="1106.99" y2="1087" stroke="#808080" stroke-width="1.5"/>
<text x="1081.57" y="1075.9" font-size="12" text-anchor="middle">7</text>
<line x1="1106.99" y1="1055.6" x2="1157.22" y2="1055.6" stroke="#808080" stroke-width="1.5"/>
<text x="1131.8" y="1043.9" font-size="12" text-anchor="middle">8</text>
<line x1="1157.22" y1="1087" x2="1207.45" y2="1087" stroke="#808080" stroke-width="1.5"/>
<text x="1182.03" y="1075.9" font-size="12" text-anchor="middle">9</text>
<line x1="1207.45" y1="1055.6" x2="1240.94" y2="1055.6" stroke="#808080" stroke-width="1.5"/>
<text x="1223.89" y="1043.9" font-size="12" text-anchor="middle">10</text>
<line x1="1240.94" y1="1087" x2="1257.68" y2="1087" stroke="#808080" stroke-width="1.5"/>
<text x="1249.01" y="1075.9" font-size="12" text-anchor="middle">11</text>
<line x1="1257.68" y1="1055.6" x2="1299.54" y2="1055.6" stroke="#808080" stroke-width="1.5"/>
<text x="1274.13" y="1043.9" font-size="12" text-anchor="middle">12</text>
<text x="0" y="0" font-size="20" transform="translate(1328.6 1100) scale(0.95 1)">Classes</text>
<rect x="1329.4" y="1111.3" width="10.9" height="8.4" fill="#ffd92f"/>
<text x="0" y="0" font-size="15" transform="translate(1353.5 1120.7) scale(0.95 1)">Pseudomonadales</text>
<rect x="1329.4" y="1128.87" width="10.9" height="8.4" fill="#a6d854"/>
<text x="0" y="0" font-size="15" transform="translate(1353.5 1138.27) scale(0.95 1)">Enterobacteriales</text>
<rect x="1329.4" y="1146.44" width="10.9" height="8.4" fill="#e78ac3"/>
<text x="0" y="0" font-size="15" transform="translate(1353.5 1155.84) scale(0.95 1)">Neisseriales</text>
<rect x="1329.4" y="1164.01" width="10.9" height="8.4" fill="#8da0cb"/>
<text x="0" y="0" font-size="15" transform="translate(1353.5 1173.41) scale(0.95 1)">Burkholderiales</text>
<rect x="1329.4" y="1181.58" width="10.9" height="8.4" fill="#fc8d62"/>
<text x="0" y="0" font-size="15" transform="translate(1353.5 1190.98) scale(0.95 1)">Rhodobacterales</text>
<rect x="1329.4" y="1199.15" width="10.9" height="8.4" fill="#66c2a5"/>
<text x="0" y="0" font-size="15" transform="translate(1353.5 1208.55) scale(0.95 1)">Selenomonadales</text>
<rect x="1329.4" y="1216.72" width="10.9" height="8.4" fill="#999999"/>
<text x="0" y="0" font-size="15" transform="translate(1353.5 1226.12) scale(0.95 1)">Clostridiales</text>
<rect x="1329.4" y="1234.29" width="10.9" height="8.4" fill="#f781bf"/>
<text x="0" y="0" font-size="15" transform="translate(1353.5 1243.69) scale(0.95 1)">Lactobacillales</text>
<rect x="1329.4" y="1251.86" width="10.9" height="8.4" fill="#a65628"/>
<text x="0" y="0" font-size="15" transform="translate(1353.5 1261.26) scale(0.95 1)">Bacillales</text>
<rect x="1329.4" y="1269.43" width="10.9" height="8.4" fill="#7fff00"/>
<text x="0" y="0" font-size="15" transform="translate(1353.5 1278.83) scale(0.95 1)">Chloroplast</text>
<rect x="1329.4" y="1287" width="10.9" height="8.4" fill="#ff7f00"/>
<text x="0" y="0" font-size="15" transform="translate(1353.5 1296.4) scale(0.95 1)">Coriobacteriales</text>
<rect x="1329.4" y="1304.57" width="10.9" height="8.4" fill="#984ea3"/>
<text x="0" y="0" font-size="15" transform="translate(1353.5 1313.97) scale(0.95 1)">Propionibacteriales</text>
<rect x="1329.4" y="1322.14" width="10.9" height="8.4" fill="#4daf4a"/>
<text x="0" y="0" font-size="15" transform="translate(1353.5 1331.54) scale(0.95 1)">Micrococcales</text>
<rect x="1329.4" y="1339.71" width="10.9" height="8.4" fill="#377eb8"/>
<text x="0" y="0" font-size="15" transform="translate(1353.5 1349.11) scale(0.95 1)">Corynebacteriales</text>
<rect x="1329.4" y="1357.28" width="10.9" height="8.4" fill="#e41a1c"/>
<text x="0" y="0" font-size="15" transform="translate(1353.5 1366.68) scale(0.95 1)">Bifidobacteriales</text>
<text x="0" y="0" font-size="20" transform="translate(1325.6 1458.6) scale(0.95 1)">Subjects</text>
<rect x="1322.6" y="1465.7" width="10.2" height="9.2" fill="#8dd3c7"/>
<text x="0" y="0" font-size="15" transform="translate(1341.5 1473.5) scale(0.95 1)">Subject 1</text>
<rect x="1322.6" y="1481.56" width="10.2" height="9.2" fill="#ffffb3"/>
<text x="0" y="0" font-size="15" transform="translate(1341.5 1489.36) scale(0.95 1)">Subject 2</text>
<rect x="1322.6" y="1497.42" width="10.2" height="9.2" fill="#bebada"/>
<text x="0" y="0" font-size="15" transform="translate(1341.5 1505.22) scale(0.95 1)">Subject 3</text>
<rect x="1322.6" y="1513.28" width="10.2" height="9.2" fill="#fb8072"/>
<text x="0" y="0" font-size="15" transform="translate(1341.5 1521.08) scale(0.95 1)">Subject 4</text>
<rect x="1322.6" y="1529.14" width="10.2" height="9.2" fill="#80b1d3"/>
<text x="0" y="0" font-size="15" transform="translate(1341.5 1536.94) scale(0.95 1)">Subject 5</text>
<rect x="1322.6" y="1545" width="10.2" height="9.2" fill="#fdb462"/>
<text x="0" y="0" font-size="15" transform="translate(1341.5 1552.8) scale(0.95 1)">Subject 6</text>
<rect x="1322.6" y="1560.86" width="10.2" height="9.2" fill="#b3de69"/>
<text x="0" y="0" font-size="15" transform="translate(1341.5 1568.66) scale(0.95 1)">Subject 7</text>
<rect x="1322.6" y="1576.72" width="10.2" height="9.2" fill="#fccde5"/>
<text x="0" y="0" font-size="15" transform="translate(1341.5 1584.52) scale(0.95 1)">Subject 8</text>
<rect x="1322.6" y="1592.58" width="10.2" height="9.2" fill="#d9d9d9"/>
<text x="0" y="0" font-size="15" transform="translate(1341.5 1600.38) scale(0.95 1)">Subject 9</text>
</svg></body></html>
